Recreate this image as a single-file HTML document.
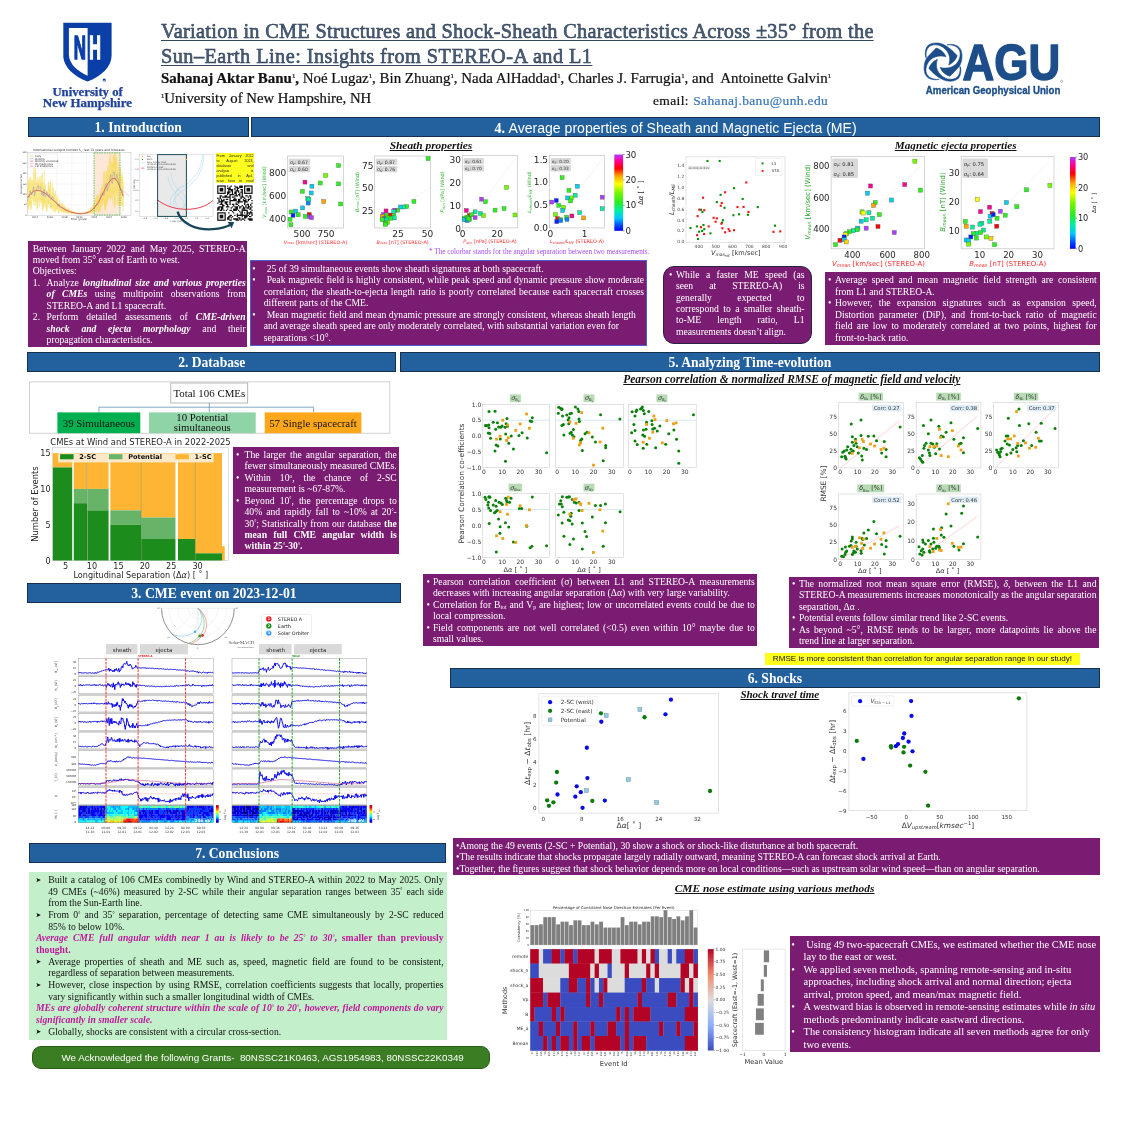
<!DOCTYPE html>
<html><head><meta charset="utf-8"><title>Poster</title>
<style>
html,body{margin:0;padding:0;background:#fff}
#p{position:relative;width:1125px;height:1125px;overflow:hidden;background:#fff;font-family:"Liberation Serif",serif}
#p div{position:absolute;box-sizing:border-box}
.bar{background:#22609e;border:0.8px solid #16304e;color:#fff;text-align:center;white-space:nowrap}
.pbox{background:#7a1c71}
.pbox.bl{border:0.8px solid #4d5fd0}
.pbox.rnd{border:1.3px solid #2b2340;border-radius:11px}
.gbox{background:#c3f0cb}
.ybox{background:#ffff1f}
.tl.sans{font-family:'Liberation Sans',sans-serif}
.tl{white-space:nowrap;font-family:"Liberation Serif",serif}
.tl.j{white-space:nowrap}
.tl.w{color:#fff}
.tl.k{color:#111}
.tl.mg{color:#c0189b;font-weight:bold}
.tl sup{font-size:55%;vertical-align:baseline;position:relative;top:-0.45em}
.tl sub{font-size:60%;vertical-align:baseline;position:relative;top:0.25em}
.num{display:inline-block;width:13.8px;margin-left:-13.8px;text-align:left}
.title{white-space:nowrap;font-family:"Liberation Serif",serif;font-size:20.3px;letter-spacing:0.3px;line-height:24px;color:#4a5e78;-webkit-text-stroke:0.55px #2c3e55;text-decoration:underline;text-decoration-thickness:1.2px;text-underline-offset:2px;text-decoration-color:#34465c}
.auth{white-space:nowrap;font-family:"Liberation Serif",serif;font-size:15.6px;line-height:19px;color:#111;-webkit-text-stroke:0.22px #111}
.auth sup{font-size:45%;vertical-align:baseline;position:relative;top:-0.75em}
.ynote{background:#ffff1a;color:#111;font-family:"Liberation Sans",sans-serif;font-size:8.1px;white-space:nowrap;text-align:center}
.ack{background:#3b7d23;border:1px solid #2a5c18;border-radius:9px;color:#fff;font-family:"Liberation Sans",sans-serif;font-size:9.8px;white-space:nowrap}
.sub{text-align:center;white-space:nowrap;font-family:"Liberation Serif",serif;font-weight:bold;font-style:italic;color:#111}
.sub span{text-decoration:underline;text-decoration-thickness:1px;text-underline-offset:1.2px}
svg text{white-space:pre}
</style></head>
<body><div id="p">
<div class="title" style="left:161px;top:19.1px;">Variation in CME Structures and Shock-Sheath Characteristics Across ±35° from the</div>
<div class="title" style="left:161px;top:43.7px;letter-spacing:0.45px">Sun–Earth Line: Insights from STEREO-A and L1</div>
<div class="auth" style="left:161px;top:68.7px;font-size:14.95px;" id="authline"><b>Sahanaj Aktar Banu</b><sup>1</sup><b>,</b> Noé Lugaz<sup>1</sup>, Bin Zhuang<sup>1</sup>, Nada AlHaddad<sup>1</sup>, Charles J. Farrugia<sup>1</sup>, and&nbsp; Antoinette Galvin<sup>1</sup></div>
<div class="auth" style="left:161px;top:88.8px;font-size:14.75px"><sup>1</sup>University of New Hampshire, NH</div>
<div class="auth" style="left:653px;top:91px;font-size:13.5px;letter-spacing:0.35px">email<span style="letter-spacing:1px">:</span> <span style="color:#3a76b8;-webkit-text-stroke:0.22px #3a76b8">Sahanaj.banu@unh.edu</span></div>
<div class="bar" style="left:27.5px;top:117px;width:221.5px;height:19.599999999999994px;line-height:20.0px;font-size:13.6px;font-family:'Liberation Serif', serif;font-weight:bold">1. Introduction</div>
<div class="bar" style="left:251.2px;top:116.5px;width:848.8px;height:20.0px;line-height:20.4px;font-size:14.05px;font-family:'Liberation Sans', sans-serif;font-weight:normal"><span style="font-family:'Liberation Serif',serif;font-weight:bold">4. </span>Average properties of Sheath and Magnetic Ejecta (ME)</div>
<div class="bar" style="left:27.2px;top:352.2px;width:369.1px;height:20.19999999999999px;line-height:20.6px;font-size:13.6px;font-family:'Liberation Serif', serif;font-weight:bold">2. Database</div>
<div class="bar" style="left:399.8px;top:352.2px;width:700.2px;height:20.30000000000001px;line-height:20.7px;font-size:13.6px;font-family:'Liberation Serif', serif;font-weight:bold">5. Analyzing Time-evolution</div>
<div class="bar" style="left:27px;top:583.0px;width:373.9px;height:19.799999999999955px;line-height:20.2px;font-size:13.7px;font-family:'Liberation Serif', serif;font-weight:bold">3. CME event on 2023-12-01</div>
<div class="bar" style="left:450.2px;top:667.8px;width:649.5px;height:19.90000000000009px;line-height:20.3px;font-size:13.6px;font-family:'Liberation Serif', serif;font-weight:bold">6. Shocks</div>
<div class="bar" style="left:28.6px;top:843.1px;width:417.09999999999997px;height:19.699999999999932px;line-height:20.1px;font-size:13.6px;font-family:'Liberation Serif', serif;font-weight:bold">7. Conclusions</div>
<div class="pbox" style="left:28px;top:241.3px;width:219.1px;height:105.69999999999999px;"></div>
<div class="tl j w" style="left:32.80px;top:242.63px;width:212.90px;font-size:9.67px;line-height:11.60px;word-spacing:2.541px;" id="j0">Between January 2022 and May 2025, STEREO-A</div>
<div class="tl w" style="left:32.80px;top:254.05px;width:212.90px;font-size:9.67px;line-height:11.60px;">moved from 35° east of Earth to west.</div>
<div class="tl w" style="left:32.80px;top:265.47px;width:212.90px;font-size:9.67px;line-height:11.60px;">Objectives:</div>
<div class="tl j w" style="left:32.80px;top:276.89px;width:212.90px;font-size:9.67px;line-height:11.60px;padding-left:13.8px;word-spacing:1.457px;" id="j1"><span class='num'>1.</span>Analyze <b><i>longitudinal size and various properties</i></b></div>
<div class="tl j w" style="left:46.60px;top:288.31px;width:199.10px;font-size:9.67px;line-height:11.60px;word-spacing:5.001px;" id="j2"><b><i>of CMEs</i></b> using multipoint observations from</div>
<div class="tl w" style="left:46.60px;top:299.73px;width:199.10px;font-size:9.67px;line-height:11.60px;">STEREO-A and L1 spacecraft.</div>
<div class="tl j w" style="left:32.80px;top:311.15px;width:212.90px;font-size:9.67px;line-height:11.60px;padding-left:13.8px;word-spacing:5.654px;" id="j3"><span class='num'>2.</span>Perform detailed assessments of <b><i>CME-driven</i></b></div>
<div class="tl j w" style="left:46.60px;top:322.57px;width:199.10px;font-size:9.67px;line-height:11.60px;word-spacing:9.298px;" id="j4"><b><i>shock and ejecta morphology</i></b> and their</div>
<div class="tl w" style="left:46.60px;top:333.99px;width:199.10px;font-size:9.67px;line-height:11.60px;">propagation characteristics.</div>
<div class="pbox bl" style="left:249.5px;top:260px;width:397.29999999999995px;height:85.80000000000001px;"></div>
<div class="tl w" style="left:252.30px;top:262.83px;width:10.00px;font-size:9.67px;line-height:11.60px;">•</div>
<div class="tl w" style="left:266.70px;top:262.83px;width:377.30px;font-size:9.67px;line-height:11.60px;">25 of 39 simultaneous events show sheath signatures at both spacecraft.</div>
<div class="tl w" style="left:252.30px;top:274.33px;width:10.00px;font-size:9.67px;line-height:11.60px;">•</div>
<div class="tl j w" style="left:266.70px;top:274.33px;width:377.30px;font-size:9.67px;line-height:11.60px;word-spacing:0.350px;" id="j5">Peak magnetic field is highly consistent, while peak speed and dynamic pressure show moderate</div>
<div class="tl j w" style="left:263.70px;top:285.83px;width:380.30px;font-size:9.67px;line-height:11.60px;word-spacing:0.816px;" id="j6">correlation; the sheath-to-ejecta length ratio is poorly correlated because each spacecraft crosses</div>
<div class="tl w" style="left:263.70px;top:297.33px;width:380.30px;font-size:9.67px;line-height:11.60px;">different parts of the CME.</div>
<div class="tl w" style="left:252.30px;top:308.83px;width:10.00px;font-size:9.67px;line-height:11.60px;">•</div>
<div class="tl w" style="left:266.70px;top:308.83px;width:377.30px;font-size:9.67px;line-height:11.60px;">Mean magnetic field and mean dynamic pressure are strongly consistent, whereas sheath length</div>
<div class="tl w" style="left:263.70px;top:320.33px;width:380.30px;font-size:9.67px;line-height:11.60px;">and average sheath speed are only moderately correlated, with substantial variation even for</div>
<div class="tl w" style="left:263.70px;top:331.83px;width:380.30px;font-size:9.67px;line-height:11.60px;">separations &lt;10°.</div>
<div class="pbox rnd" style="left:663px;top:266.3px;width:148.5px;height:77.69999999999999px;"></div>
<div class="tl w" style="left:669.00px;top:268.93px;width:10.00px;font-size:9.67px;line-height:11.60px;">•</div>
<div class="tl j w" style="left:676.00px;top:268.93px;width:128.60px;font-size:9.67px;line-height:11.60px;word-spacing:3.895px;" id="j7">While a faster ME speed (as</div>
<div class="tl j w" style="left:676.00px;top:280.26px;width:128.60px;font-size:9.67px;line-height:11.60px;word-spacing:13.632px;" id="j8">seen at STEREO-A) is</div>
<div class="tl j w" style="left:676.00px;top:291.59px;width:128.60px;font-size:9.67px;line-height:11.60px;word-spacing:23.011px;" id="j9">generally expected to</div>
<div class="tl j w" style="left:676.00px;top:302.92px;width:128.60px;font-size:9.67px;line-height:11.60px;word-spacing:1.982px;" id="j10">correspond to a smaller sheath-</div>
<div class="tl j w" style="left:676.00px;top:314.25px;width:128.60px;font-size:9.67px;line-height:11.60px;word-spacing:13.721px;" id="j11">to-ME length ratio, L1</div>
<div class="tl w" style="left:676.00px;top:325.58px;width:128.60px;font-size:9.67px;line-height:11.60px;">measurements doesn’t align.</div>
<div class="pbox" style="left:824.9px;top:272.4px;width:275.0000000000001px;height:72.40000000000003px;"></div>
<div class="tl w" style="left:828.00px;top:274.23px;width:10.00px;font-size:9.67px;line-height:11.60px;">•</div>
<div class="tl j w" style="left:835.00px;top:274.23px;width:261.70px;font-size:9.67px;line-height:11.60px;word-spacing:2.369px;" id="j12">Average speed and mean magnetic field strength are consistent</div>
<div class="tl w" style="left:835.00px;top:285.73px;width:261.70px;font-size:9.67px;line-height:11.60px;">from L1 and STEREO-A.</div>
<div class="tl w" style="left:828.00px;top:297.23px;width:10.00px;font-size:9.67px;line-height:11.60px;">•</div>
<div class="tl j w" style="left:835.00px;top:297.23px;width:261.70px;font-size:9.67px;line-height:11.60px;word-spacing:3.997px;" id="j13">However, the expansion signatures such as expansion speed,</div>
<div class="tl j w" style="left:835.00px;top:308.73px;width:261.70px;font-size:9.67px;line-height:11.60px;word-spacing:2.450px;" id="j14">Distortion parameter (DiP), and front-to-back ratio of magnetic</div>
<div class="tl j w" style="left:835.00px;top:320.23px;width:261.70px;font-size:9.67px;line-height:11.60px;word-spacing:1.742px;" id="j15">field are low to moderately correlated at two points, highest for</div>
<div class="tl w" style="left:835.00px;top:331.73px;width:261.70px;font-size:9.67px;line-height:11.60px;">front-to-back ratio.</div>
<div class="pbox" style="left:232.6px;top:446.8px;width:166.79999999999998px;height:107.09999999999997px;"></div>
<div class="tl w" style="left:236.00px;top:448.93px;width:10.00px;font-size:9.67px;line-height:11.60px;">•</div>
<div class="tl j w" style="left:244.50px;top:448.93px;width:152.30px;font-size:9.67px;line-height:11.60px;word-spacing:1.644px;" id="j16">The larger the angular separation, the</div>
<div class="tl j w" style="left:244.50px;top:460.36px;width:152.30px;font-size:9.67px;line-height:11.60px;word-spacing:0.168px;" id="j17">fewer simultaneously measured CMEs.</div>
<div class="tl w" style="left:236.00px;top:471.79px;width:10.00px;font-size:9.67px;line-height:11.60px;">•</div>
<div class="tl j w" style="left:244.50px;top:471.79px;width:152.30px;font-size:9.67px;line-height:11.60px;word-spacing:6.510px;" id="j18">Within 10<sup>o</sup>, the chance of 2-SC</div>
<div class="tl w" style="left:244.50px;top:483.22px;width:152.30px;font-size:9.67px;line-height:11.60px;">measurement is ~67-87%.</div>
<div class="tl w" style="left:236.00px;top:494.65px;width:10.00px;font-size:9.67px;line-height:11.60px;">•</div>
<div class="tl j w" style="left:244.50px;top:494.65px;width:152.30px;font-size:9.67px;line-height:11.60px;word-spacing:2.682px;" id="j19">Beyond 10<sup>°</sup>, the percentage drops to</div>
<div class="tl j w" style="left:244.50px;top:506.08px;width:152.30px;font-size:9.67px;line-height:11.60px;word-spacing:1.590px;" id="j20">40% and rapidly fall to ~10% at 20<sup>°</sup>-</div>
<div class="tl j w" style="left:244.50px;top:517.51px;width:152.30px;font-size:9.67px;line-height:11.60px;word-spacing:0.482px;" id="j21">30<sup>°</sup>; Statistically from our database <b>the</b></div>
<div class="tl j w" style="left:244.50px;top:528.94px;width:152.30px;font-size:9.67px;line-height:11.60px;word-spacing:3.829px;" id="j22"><b>mean full CME angular width is</b></div>
<div class="tl w" style="left:244.50px;top:540.37px;width:152.30px;font-size:9.67px;line-height:11.60px;"><b>within 25<sup>°</sup>-30<sup>°</sup>.</b></div>
<div class="pbox" style="left:423.1px;top:574px;width:334.19999999999993px;height:72.20000000000005px;"></div>
<div class="tl w" style="left:426.50px;top:575.63px;width:10.00px;font-size:9.67px;line-height:11.60px;">•</div>
<div class="tl j w" style="left:433.00px;top:575.63px;width:321.80px;font-size:9.67px;line-height:11.60px;word-spacing:2.391px;" id="j23">Pearson correlation coefficient (σ) between L1 and STEREO-A measurements</div>
<div class="tl w" style="left:433.00px;top:587.15px;width:321.80px;font-size:9.67px;line-height:11.60px;">decreases with increasing angular separation (Δα) with very large variability.</div>
<div class="tl w" style="left:426.50px;top:598.67px;width:10.00px;font-size:9.67px;line-height:11.60px;">•</div>
<div class="tl j w" style="left:433.00px;top:598.67px;width:321.80px;font-size:9.67px;line-height:11.60px;word-spacing:0.478px;" id="j24">Correlation for B<sub>tot</sub> and V<sub>p</sub> are highest; low or uncorrelated events could be due to</div>
<div class="tl w" style="left:433.00px;top:610.19px;width:321.80px;font-size:9.67px;line-height:11.60px;">local compression.</div>
<div class="tl w" style="left:426.50px;top:621.71px;width:10.00px;font-size:9.67px;line-height:11.60px;">•</div>
<div class="tl j w" style="left:433.00px;top:621.71px;width:321.80px;font-size:9.67px;line-height:11.60px;word-spacing:1.616px;" id="j25">Field components are not well correlated (&lt;0.5) even within 10° maybe due to</div>
<div class="tl w" style="left:433.00px;top:633.23px;width:321.80px;font-size:9.67px;line-height:11.60px;">small values.</div>
<div class="pbox" style="left:788.6px;top:576.8px;width:310.30000000000007px;height:71.5px;"></div>
<div class="tl w" style="left:792.00px;top:577.83px;width:10.00px;font-size:9.67px;line-height:11.60px;">•</div>
<div class="tl j w" style="left:799.00px;top:577.83px;width:297.50px;font-size:9.67px;line-height:11.60px;word-spacing:1.942px;" id="j26">The normalized root mean square error (RMSE), <i>δ</i>, between the L1 and</div>
<div class="tl j w" style="left:799.00px;top:589.36px;width:297.50px;font-size:9.67px;line-height:11.60px;word-spacing:-0.060px;" id="j27">STEREO-A measurements increases monotonically as the angular separation</div>
<div class="tl w" style="left:799.00px;top:600.89px;width:297.50px;font-size:9.67px;line-height:11.60px;">separation, Δα .</div>
<div class="tl w" style="left:792.00px;top:612.42px;width:10.00px;font-size:9.67px;line-height:11.60px;">•</div>
<div class="tl w" style="left:799.00px;top:612.42px;width:297.50px;font-size:9.67px;line-height:11.60px;">Potential events follow similar trend like 2-SC events.</div>
<div class="tl w" style="left:792.00px;top:623.95px;width:10.00px;font-size:9.67px;line-height:11.60px;">•</div>
<div class="tl j w" style="left:799.00px;top:623.95px;width:297.50px;font-size:9.67px;line-height:11.60px;word-spacing:1.777px;" id="j28">As beyond ~5°, RMSE tends to be larger, more datapoints lie above the</div>
<div class="tl w" style="left:799.00px;top:635.48px;width:297.50px;font-size:9.67px;line-height:11.60px;">trend line at larger separation.</div>
<div class="ynote" style="left:764.6px;top:653.3px;width:315.6px;height:11.4px;line-height:11.6px">RMSE is more consistent than correlation for angular separation range in our study!</div>
<div class="pbox" style="left:453.3px;top:838px;width:646.3px;height:37.39999999999998px;"></div>
<div class="tl w" style="left:456.00px;top:839.51px;width:640.00px;font-size:9.7px;line-height:11.64px;">•Among the 49 events (2-SC + Potential), 30 show a shock or shock-like disturbance at both spacecraft.</div>
<div class="tl w" style="left:456.00px;top:851.11px;width:640.00px;font-size:9.7px;line-height:11.64px;">•The results indicate that shocks propagate largely radially outward, meaning STEREO-A can forecast shock arrival at Earth.</div>
<div class="tl w" style="left:456.00px;top:862.71px;width:640.00px;font-size:9.7px;line-height:11.64px;">•Together, the figures suggest that shock behavior depends more on local conditions—such as upstream solar wind speed—than on angular separation.</div>
<div class="pbox" style="left:790.2px;top:936.1px;width:309.39999999999986px;height:115.69999999999993px;"></div>
<div class="tl w" style="left:791.20px;top:938.90px;width:10.00px;font-size:10.45px;line-height:12.54px;">•</div>
<div class="tl w" style="left:803.60px;top:938.90px;width:294.00px;font-size:10.45px;line-height:12.54px;">&nbsp;Using 49 two-spacecraft CMEs, we estimated whether the CME nose</div>
<div class="tl w" style="left:803.60px;top:951.40px;width:294.00px;font-size:10.45px;line-height:12.54px;">lay to the east or west.</div>
<div class="tl w" style="left:791.20px;top:963.90px;width:10.00px;font-size:10.45px;line-height:12.54px;">•</div>
<div class="tl w" style="left:803.60px;top:963.90px;width:294.00px;font-size:10.45px;line-height:12.54px;">We applied seven methods, spanning remote-sensing and in-situ</div>
<div class="tl w" style="left:803.60px;top:976.40px;width:294.00px;font-size:10.45px;line-height:12.54px;">approaches, including shock arrival and normal direction; ejecta</div>
<div class="tl w" style="left:803.60px;top:988.90px;width:294.00px;font-size:10.45px;line-height:12.54px;">arrival, proton speed, and mean/max magnetic field.</div>
<div class="tl w" style="left:791.20px;top:1001.40px;width:10.00px;font-size:10.45px;line-height:12.54px;">•</div>
<div class="tl w" style="left:803.60px;top:1001.40px;width:294.00px;font-size:10.45px;line-height:12.54px;">A westward bias is observed in remote-sensing estimates while <i>in situ</i></div>
<div class="tl w" style="left:803.60px;top:1013.90px;width:294.00px;font-size:10.45px;line-height:12.54px;">methods predominantly indicate eastward directions.</div>
<div class="tl w" style="left:791.20px;top:1026.40px;width:10.00px;font-size:10.45px;line-height:12.54px;">•</div>
<div class="tl w" style="left:803.60px;top:1026.40px;width:294.00px;font-size:10.45px;line-height:12.54px;">The consistency histogram indicate all seven methods agree for only</div>
<div class="tl w" style="left:803.60px;top:1038.90px;width:294.00px;font-size:10.45px;line-height:12.54px;">two events.</div>
<div class="gbox" style="left:28.6px;top:872.1px;width:418.29999999999995px;height:167.69999999999993px;"></div>
<div class="tl j k" style="left:48.20px;top:874.13px;width:395.40px;font-size:9.67px;line-height:11.60px;word-spacing:0.726px;" id="j29">Built a catalog of 106 CMEs combinedly by Wind and STEREO-A within 2022 to May 2025. Only</div>
<div class="tl j k" style="left:48.20px;top:885.79px;width:395.40px;font-size:9.67px;line-height:11.60px;word-spacing:1.514px;" id="j30">49 CMEs (~46%) measured by 2-SC while their angular separation ranges between 35<sup>°</sup> each side</div>
<div class="tl k" style="left:48.20px;top:897.45px;width:395.40px;font-size:9.67px;line-height:11.60px;">from the Sun-Earth line.</div>
<div class="tl j k" style="left:48.20px;top:909.11px;width:395.40px;font-size:9.67px;line-height:11.60px;word-spacing:1.826px;" id="j31">From 0<sup>°</sup> and 35<sup>°</sup> separation, percentage of detecting same CME simultaneously by 2-SC reduced</div>
<div class="tl k" style="left:48.20px;top:920.77px;width:395.40px;font-size:9.67px;line-height:11.60px;">85% to below 10%.</div>
<div class="tl j mg" style="left:36.00px;top:932.43px;width:407.60px;font-size:9.67px;line-height:11.60px;word-spacing:2.486px;" id="j32"><i>Average CME full angular width near 1 au is likely to be 25<sup>°</sup> to 30<sup>°</sup></i>, smaller than previously</div>
<div class="tl mg" style="left:36.00px;top:944.09px;width:407.60px;font-size:9.67px;line-height:11.60px;">thought.</div>
<div class="tl j k" style="left:48.20px;top:955.75px;width:395.40px;font-size:9.67px;line-height:11.60px;word-spacing:1.988px;" id="j33">Average properties of sheath and ME such as, speed, magnetic field are found to be consistent,</div>
<div class="tl k" style="left:48.20px;top:967.41px;width:395.40px;font-size:9.67px;line-height:11.60px;">regardless of separation between measurements.</div>
<div class="tl j k" style="left:48.20px;top:979.07px;width:395.40px;font-size:9.67px;line-height:11.60px;word-spacing:1.095px;" id="j34">However, close inspection by using RMSE, correlation coefficients suggests that locally, properties</div>
<div class="tl k" style="left:48.20px;top:990.73px;width:395.40px;font-size:9.67px;line-height:11.60px;">vary significantly within such a smaller longitudinal width of CMEs.</div>
<div class="tl j mg" style="left:36.00px;top:1002.39px;width:407.60px;font-size:9.67px;line-height:11.60px;word-spacing:0.531px;" id="j35"><i>MEs are globally coherent structure within the scale of 10<sup>°</sup> to 20<sup>°</sup>, however, field components do vary</i></div>
<div class="tl mg" style="left:36.00px;top:1014.05px;width:407.60px;font-size:9.67px;line-height:11.60px;"><i>significantly in smaller scale.</i></div>
<div class="tl k" style="left:48.20px;top:1025.71px;width:395.40px;font-size:9.67px;line-height:11.60px;">Globally, shocks are consistent with a circular cross-section.</div>
<div class="ack" style="left:31.9px;top:1046px;width:458.5px;height:22.6px;line-height:22.6px"><span style="margin-left:28.6px">We Acknowledged the following Grants-&nbsp; 80NSSC21K0463, AGS1954983, 80NSSC22K0349</span></div>
<div class="sub" style="left:231px;top:138.61px;width:400px;font-size:11.4px;line-height:13.68px"><span>Sheath properties</span></div>
<div class="sub" style="left:755.7px;top:138.80px;width:400px;font-size:11.2px;line-height:13.44px"><span>Magnetic ejecta properties</span></div>
<div class="sub" style="left:591.8px;top:373.27px;width:400px;font-size:11.45px;line-height:13.74px"><span>Pearson correlation &amp; normalized RMSE of magnetic field and velocity</span></div>
<div class="sub" style="left:579.8px;top:687.99px;width:400px;font-size:11px;line-height:13.20px"><span>Shock travel time</span></div>
<div class="sub" style="left:574.6px;top:882.31px;width:400px;font-size:11.4px;line-height:13.68px"><span>CME nose estimate using various methods</span></div>
<div class="tl" style="left:429.00px;top:247.95px;width:230.00px;font-size:7.2px;line-height:8.64px;color:#a64dff">* The colorbar stands for the angular separation between two measurements.</div>
<div class="ybox" style="left:215.6px;top:153px;width:38.599999999999994px;height:30.19999999999999px;"></div>
<div class="tl j sans" style="left:216.40px;top:153.59px;width:37.00px;font-size:3.6px;line-height:4.32px;color:#222;word-spacing:2.914px;" id="j36">From January 2022</div>
<div class="tl j sans" style="left:216.40px;top:158.59px;width:37.00px;font-size:3.6px;line-height:4.32px;color:#222;word-spacing:6.008px;" id="j37">to August 2023,</div>
<div class="tl j sans" style="left:216.40px;top:163.59px;width:37.00px;font-size:3.6px;line-height:4.32px;color:#222;word-spacing:15.203px;" id="j38">database and</div>
<div class="tl j sans" style="left:216.40px;top:168.59px;width:37.00px;font-size:3.6px;line-height:4.32px;color:#222;word-spacing:20.422px;" id="j39">analysis is</div>
<div class="tl j sans" style="left:216.40px;top:173.59px;width:37.00px;font-size:3.6px;line-height:4.32px;color:#222;word-spacing:4.906px;" id="j40">published in ApJ,</div>
<div class="tl j sans" style="left:216.40px;top:178.59px;width:37.00px;font-size:3.6px;line-height:4.32px;color:#222;word-spacing:3.005px;" id="j41">scan here to read</div>
<svg width="1125" height="1125" viewBox="0 0 1125 1125" style="position:absolute;left:0;top:0;pointer-events:none">
<path d="M36.3 878.0 l4.6 2.1 l-4.6 2.1 l1.1 -2.1 z" fill="#111"/>
<path d="M36.3 913.0 l4.6 2.1 l-4.6 2.1 l1.1 -2.1 z" fill="#111"/>
<path d="M36.3 959.6 l4.6 2.1 l-4.6 2.1 l1.1 -2.1 z" fill="#111"/>
<path d="M36.3 982.9 l4.6 2.1 l-4.6 2.1 l1.1 -2.1 z" fill="#111"/>
<path d="M36.3 1029.6 l4.6 2.1 l-4.6 2.1 l1.1 -2.1 z" fill="#111"/>
<defs><linearGradient id="rb" x1="0" y1="1" x2="0" y2="0"><stop offset="0.000" stop-color="#0000ff"/><stop offset="0.083" stop-color="#005aff"/><stop offset="0.167" stop-color="#00c8ff"/><stop offset="0.267" stop-color="#00f0a0"/><stop offset="0.367" stop-color="#28eb28"/><stop offset="0.500" stop-color="#78f500"/><stop offset="0.617" stop-color="#ffff00"/><stop offset="0.717" stop-color="#ffa500"/><stop offset="0.817" stop-color="#ff0000"/><stop offset="0.917" stop-color="#ff0096"/><stop offset="1.000" stop-color="#af3cff"/></linearGradient></defs>
<rect x="27.50" y="152.60" width="103.50" height="62.60" fill="#fff" stroke="#bdbdbd" stroke-width="0.5"/>
<line x1="27.50" y1="163.03" x2="131.00" y2="163.03" stroke="#e6e6e6" stroke-width="0.35" />
<line x1="27.50" y1="173.47" x2="131.00" y2="173.47" stroke="#e6e6e6" stroke-width="0.35" />
<line x1="27.50" y1="183.90" x2="131.00" y2="183.90" stroke="#e6e6e6" stroke-width="0.35" />
<line x1="27.50" y1="194.33" x2="131.00" y2="194.33" stroke="#e6e6e6" stroke-width="0.35" />
<line x1="27.50" y1="204.77" x2="131.00" y2="204.77" stroke="#e6e6e6" stroke-width="0.35" />
<line x1="42.29" y1="152.60" x2="42.29" y2="215.20" stroke="#e6e6e6" stroke-width="0.35" />
<line x1="57.07" y1="152.60" x2="57.07" y2="215.20" stroke="#e6e6e6" stroke-width="0.35" />
<line x1="71.86" y1="152.60" x2="71.86" y2="215.20" stroke="#e6e6e6" stroke-width="0.35" />
<line x1="86.64" y1="152.60" x2="86.64" y2="215.20" stroke="#e6e6e6" stroke-width="0.35" />
<line x1="101.43" y1="152.60" x2="101.43" y2="215.20" stroke="#e6e6e6" stroke-width="0.35" />
<line x1="116.21" y1="152.60" x2="116.21" y2="215.20" stroke="#e6e6e6" stroke-width="0.35" />
<rect x="94.00" y="152.90" width="26.00" height="62.10" fill="#fde3cf" stroke="none" stroke-width="0" fill-opacity="0.85"/>
<polygon points="27.5,191.8 27.8,187.4 28.1,181.4 28.4,182.1 28.7,188.5 29.0,178.0 29.3,192.1 29.5,178.5 29.8,176.9 30.1,188.3 30.4,191.3 30.7,177.0 31.0,179.8 31.3,187.3 31.6,183.7 31.9,179.1 32.2,185.6 32.5,180.2 32.8,185.5 33.0,188.5 33.3,188.1 33.6,167.3 33.9,190.4 34.2,184.5 34.5,173.8 34.8,169.1 35.1,179.4 35.4,165.9 35.7,172.5 36.0,181.4 36.3,185.8 36.5,185.0 36.8,180.2 37.1,189.2 37.4,177.3 37.7,183.9 38.0,184.5 38.3,181.5 38.6,178.5 38.9,185.5 39.2,184.8 39.5,184.5 39.8,176.0 40.0,182.5 40.3,176.2 40.6,186.5 40.9,182.5 41.2,182.3 41.5,189.6 41.8,175.3 42.1,178.6 42.4,173.0 42.7,185.7 43.0,189.2 43.3,182.4 43.5,188.2 43.8,185.2 44.1,181.8 44.4,170.7 44.7,187.7 45.0,190.6 45.3,188.3 45.6,184.1 45.9,190.4 46.2,193.5 46.5,191.4 46.8,190.9 47.1,191.6 47.3,190.1 47.6,194.1 47.9,193.6 48.2,182.3 48.5,183.8 48.8,182.0 49.1,191.0 49.4,185.6 49.7,194.9 50.0,183.3 50.3,180.7 50.6,184.5 50.8,185.9 51.1,197.7 51.4,196.6 51.7,198.4 52.0,183.8 52.3,183.7 52.6,198.9 52.9,194.1 53.2,191.8 53.5,187.3 53.8,195.2 54.1,196.9 54.3,194.8 54.6,194.4 54.9,195.1 55.2,190.2 55.5,196.1 55.8,195.3 56.1,196.2 56.4,195.7 56.7,202.5 57.0,200.6 57.3,199.0 57.6,199.7 57.8,195.6 58.1,203.1 58.4,204.2 58.7,203.0 59.0,203.7 59.3,204.0 59.6,198.3 59.9,204.1 60.2,203.4 60.5,205.6 60.8,204.3 61.1,204.6 61.3,204.7 61.6,205.5 61.9,202.7 62.2,203.1 62.5,205.3 62.8,204.8 63.1,205.6 63.4,207.2 63.7,207.5 64.0,204.5 64.3,207.7 64.6,208.8 64.8,205.5 65.1,209.2 65.4,208.2 65.7,207.7 66.0,209.3 66.3,207.0 66.6,209.7 66.9,209.4 67.2,209.6 67.5,209.8 67.8,207.7 68.1,209.4 68.4,209.2 68.6,208.3 68.9,210.7 69.2,209.7 69.5,210.1 69.8,209.7 70.1,210.6 70.4,211.4 70.7,210.5 71.0,211.1 71.3,209.9 71.6,211.9 71.9,212.1 72.1,212.1 72.4,211.4 72.7,212.2 73.0,212.4 73.3,212.6 73.6,211.9 73.9,211.8 74.2,211.3 74.5,212.5 74.8,212.6 75.1,213.0 75.4,213.0 75.6,212.7 75.9,212.8 76.2,213.2 76.5,212.0 76.8,212.6 77.1,212.5 77.4,213.2 77.7,213.4 78.0,213.1 78.3,213.1 78.6,213.3 78.9,212.8 79.1,213.2 79.4,212.9 79.7,212.7 80.0,212.7 80.3,213.0 80.6,212.8 80.9,213.5 81.2,213.4 81.5,213.3 81.8,213.0 82.1,213.5 82.4,213.2 82.6,213.4 82.9,213.3 83.2,212.9 83.5,212.5 83.8,213.1 84.1,213.1 84.4,212.9 84.7,212.4 85.0,212.2 85.3,212.5 85.6,213.0 85.9,211.8 86.2,212.6 86.4,212.7 86.7,212.6 87.0,212.4 87.3,211.3 87.6,212.0 87.9,210.7 88.2,212.2 88.5,210.4 88.8,211.3 89.1,210.6 89.4,210.4 89.7,211.2 89.9,208.9 90.2,208.4 90.5,207.8 90.8,209.4 91.1,207.3 91.4,209.8 91.7,208.8 92.0,205.6 92.3,207.7 92.6,209.0 92.9,208.3 93.2,205.1 93.4,207.9 93.7,206.9 94.0,203.1 94.3,203.8 94.6,206.4 94.9,203.1 95.2,201.6 95.5,197.9 95.8,201.8 96.1,200.5 96.4,204.0 96.7,195.2 96.9,202.4 97.2,196.1 97.5,198.4 97.8,193.3 98.1,199.4 98.4,201.0 98.7,196.6 99.0,194.6 99.3,198.0 99.6,199.1 99.9,197.9 100.2,191.3 100.4,192.5 100.7,195.5 101.0,194.9 101.3,188.2 101.6,193.7 101.9,184.4 102.2,193.4 102.5,191.5 102.8,185.7 103.1,188.2 103.4,171.4 103.7,180.0 103.9,179.7 104.2,178.2 104.5,171.0 104.8,185.6 105.1,183.1 105.4,181.4 105.7,182.2 106.0,171.5 106.3,178.3 106.6,170.9 106.9,172.7 107.2,173.0 107.5,181.5 107.7,165.8 108.0,167.8 108.3,174.6 108.6,176.4 108.9,161.2 109.2,177.4 109.5,175.5 109.8,156.2 110.1,166.0 110.4,153.6 110.7,179.0 111.0,173.7 111.2,175.1 111.5,161.3 111.8,171.6 112.1,164.8 112.4,171.8 112.7,162.6 113.0,165.9 113.3,155.7 113.6,167.7 113.9,153.6 114.2,159.0 114.5,153.6 114.7,164.4 115.0,157.2 115.3,175.0 115.6,153.6 115.9,153.7 116.2,164.8 116.5,157.4 116.8,158.1 117.1,164.6 117.4,164.3 117.7,175.0 118.0,180.1 118.2,174.9 118.5,174.7 118.8,162.9 119.1,178.8 119.4,173.5 119.7,177.8 120.0,170.3 120.3,167.1 120.6,180.4 120.9,169.3 121.2,183.1 121.5,179.4 121.7,179.6 122.0,174.4 122.3,188.9 122.6,174.5 122.9,177.8 123.2,179.5 123.5,186.8 123.5,205.5 123.2,211.0 122.9,203.4 122.6,202.7 122.3,206.5 122.0,202.7 121.7,203.7 121.5,204.9 121.2,197.3 120.9,200.4 120.6,205.6 120.3,202.0 120.0,200.7 119.7,199.5 119.4,206.8 119.1,201.9 118.8,204.9 118.5,195.1 118.2,194.4 118.0,195.8 117.7,197.0 117.4,205.8 117.1,201.5 116.8,191.9 116.5,194.1 116.2,189.7 115.9,191.6 115.6,192.8 115.3,205.1 115.0,198.1 114.7,208.2 114.5,206.4 114.2,200.5 113.9,187.1 113.6,187.1 113.3,195.9 113.0,190.5 112.7,205.3 112.4,195.9 112.1,190.4 111.8,191.4 111.5,196.5 111.2,198.7 111.0,196.6 110.7,200.8 110.4,198.2 110.1,195.7 109.8,188.0 109.5,197.3 109.2,196.2 108.9,189.9 108.6,197.7 108.3,200.2 108.0,196.5 107.7,195.8 107.5,202.3 107.2,196.5 106.9,205.9 106.6,198.7 106.3,203.0 106.0,194.3 105.7,210.4 105.4,203.4 105.1,210.4 104.8,199.7 104.5,209.9 104.2,202.6 103.9,203.0 103.7,204.3 103.4,198.4 103.1,200.8 102.8,198.0 102.5,203.4 102.2,202.4 101.9,209.0 101.6,200.4 101.3,203.9 101.0,202.3 100.7,208.7 100.4,204.1 100.2,206.8 99.9,212.1 99.6,208.9 99.3,210.1 99.0,212.4 98.7,208.9 98.4,212.3 98.1,212.3 97.8,206.8 97.5,209.2 97.2,206.8 96.9,209.7 96.7,208.5 96.4,212.3 96.1,210.8 95.8,212.2 95.5,208.6 95.2,209.3 94.9,211.1 94.6,213.1 94.3,209.3 94.0,211.6 93.7,210.7 93.4,210.1 93.2,211.7 92.9,211.9 92.6,213.5 92.3,210.9 92.0,212.0 91.7,213.8 91.4,211.7 91.1,213.4 90.8,212.3 90.5,213.0 90.2,214.0 89.9,214.1 89.7,212.6 89.4,212.5 89.1,213.3 88.8,213.8 88.5,213.5 88.2,213.1 87.9,213.5 87.6,214.2 87.3,214.1 87.0,214.2 86.7,213.6 86.4,213.6 86.2,213.9 85.9,214.1 85.6,213.7 85.3,213.6 85.0,214.3 84.7,213.9 84.4,213.7 84.1,213.7 83.8,214.1 83.5,213.8 83.2,213.9 82.9,213.9 82.6,214.1 82.4,213.9 82.1,214.0 81.8,214.4 81.5,214.4 81.2,214.0 80.9,214.3 80.6,214.4 80.3,214.3 80.0,213.9 79.7,214.0 79.4,213.9 79.1,214.1 78.9,213.8 78.6,214.0 78.3,213.9 78.0,214.2 77.7,213.7 77.4,214.1 77.1,213.9 76.8,213.8 76.5,214.2 76.2,214.2 75.9,214.0 75.6,213.7 75.4,213.6 75.1,213.8 74.8,213.5 74.5,213.8 74.2,213.4 73.9,213.5 73.6,213.6 73.3,214.0 73.0,214.0 72.7,213.2 72.4,213.4 72.1,214.0 71.9,213.4 71.6,214.2 71.3,213.9 71.0,213.7 70.7,213.4 70.4,212.5 70.1,212.6 69.8,212.5 69.5,212.3 69.2,213.4 68.9,213.6 68.6,212.0 68.4,213.4 68.1,213.8 67.8,213.8 67.5,212.5 67.2,212.8 66.9,212.9 66.6,212.8 66.3,213.3 66.0,211.4 65.7,213.3 65.4,211.9 65.1,210.8 64.8,210.8 64.6,213.0 64.3,211.3 64.0,211.6 63.7,210.5 63.4,213.3 63.1,212.3 62.8,209.8 62.5,211.6 62.2,209.7 61.9,212.5 61.6,211.3 61.3,209.3 61.1,211.2 60.8,211.6 60.5,209.9 60.2,210.4 59.9,208.4 59.6,208.7 59.3,212.7 59.0,211.9 58.7,212.9 58.4,212.5 58.1,211.7 57.8,206.7 57.6,209.5 57.3,209.0 57.0,208.5 56.7,207.7 56.4,209.8 56.1,210.4 55.8,212.3 55.5,207.0 55.2,212.3 54.9,205.3 54.6,205.6 54.3,210.5 54.1,211.2 53.8,212.2 53.5,206.7 53.2,207.4 52.9,204.7 52.6,211.7 52.3,207.5 52.0,205.3 51.7,208.9 51.4,205.4 51.1,207.6 50.8,203.0 50.6,207.0 50.3,209.8 50.0,202.2 49.7,204.8 49.4,203.0 49.1,202.7 48.8,205.0 48.5,200.4 48.2,204.2 47.9,199.9 47.6,208.1 47.3,211.5 47.1,207.1 46.8,205.0 46.5,211.2 46.2,208.5 45.9,204.4 45.6,201.2 45.3,204.4 45.0,208.5 44.7,199.1 44.4,204.0 44.1,198.7 43.8,206.4 43.5,203.7 43.3,209.7 43.0,197.2 42.7,209.1 42.4,210.6 42.1,196.6 41.8,202.6 41.5,203.2 41.2,202.1 40.9,202.9 40.6,201.0 40.3,200.8 40.0,200.4 39.8,199.0 39.5,207.0 39.2,202.2 38.9,196.9 38.6,200.4 38.3,200.1 38.0,207.4 37.7,208.5 37.4,204.7 37.1,210.4 36.8,206.8 36.5,202.5 36.3,201.1 36.0,195.4 35.7,202.2 35.4,199.6 35.1,206.0 34.8,201.4 34.5,200.5 34.2,200.2 33.9,205.0 33.6,199.6 33.3,201.1 33.0,197.0 32.8,196.8 32.5,197.9 32.2,200.7 31.9,205.2 31.6,207.1 31.3,209.4 31.0,205.7 30.7,203.6 30.4,201.6 30.1,210.0 29.8,203.8 29.5,204.9 29.3,199.7 29.0,208.6 28.7,202.5 28.4,209.9 28.1,206.7 27.8,201.3 27.5,202.3" fill="#f9dc4a" fill-opacity="0.62" stroke="#f5cf25" stroke-width="0.2"/>
<polyline fill="none" stroke="#8b8fc7" stroke-width="0.45" points="27.5,200.6 28.4,196.2 29.3,197.7 30.1,190.8 31.0,194.2 31.9,194.7 32.8,191.2 33.6,186.6 34.5,195.7 35.4,192.0 36.3,191.3 37.1,187.6 38.0,185.3 38.9,188.6 39.8,186.7 40.6,187.1 41.5,194.7 42.4,192.1 43.3,196.1 44.1,189.1 45.0,197.2 45.9,196.4 46.8,191.6 47.6,194.3 48.5,197.1 49.4,193.9 50.3,198.9 51.1,199.6 52.0,196.5 52.9,197.3 53.8,200.1 54.6,201.1 55.5,200.9 56.4,202.1 57.3,204.9 58.1,206.4 59.0,204.0 59.9,207.4 60.8,207.7 61.6,208.1 62.5,206.9 63.4,209.0 64.3,208.4 65.1,209.6 66.0,210.3 66.9,209.9 67.8,211.6 68.6,210.8 69.5,211.6 70.4,212.0 71.3,211.7 72.1,212.3 73.0,212.5 73.9,212.7 74.8,213.0 75.6,213.1 76.5,213.5 77.4,213.1 78.3,213.5 79.1,213.5 80.0,213.7 80.9,213.4 81.8,213.3 82.6,213.3 83.5,213.2 84.4,213.3 85.3,212.9 86.2,212.8 87.0,213.1 87.9,212.5 88.8,211.8 89.7,211.6 90.5,211.2 91.4,210.6 92.3,209.2 93.2,208.5 94.0,209.1 94.9,206.7 95.8,205.9 96.7,204.0 97.5,204.7 98.4,204.5 99.3,201.8 100.2,197.5 101.0,193.8 101.9,194.9 102.8,192.5 103.7,195.5 104.5,193.9 105.4,184.4 106.3,183.2 107.2,191.3 108.0,187.5 108.9,187.3 109.8,179.1 110.7,174.6 111.5,182.1 112.4,183.4 113.3,172.0 114.2,171.8 115.0,179.8 115.9,180.5 116.8,173.9 117.7,178.0 118.5,180.7 119.4,184.3 120.3,189.3 121.2,189.9 122.0,188.9 122.9,194.9"/>
<polyline fill="none" stroke="#e8363a" stroke-width="0.7" points="27.5,197.4 28.7,196.0 29.8,194.7 31.0,193.4 32.2,192.4 33.3,191.5 34.5,190.9 35.7,190.5 36.8,190.3 38.0,190.3 39.2,190.5 40.3,190.8 41.5,191.3 42.7,191.8 43.8,192.5 45.0,193.3 46.2,194.1 47.3,195.1 48.5,196.0 49.7,197.1 50.8,198.1 52.0,199.2 53.2,200.3 54.3,201.4 55.5,202.5 56.7,203.5 57.8,204.5 59.0,205.5 60.2,206.4 61.3,207.2 62.5,208.0 63.7,208.8 64.8,209.5 66.0,210.1 67.2,210.6 68.4,211.1 69.5,211.6 70.7,212.0 71.9,212.3 73.0,212.6 74.2,212.9 75.4,213.1 76.5,213.3 77.7,213.4 78.9,213.5 80.0,213.6 81.2,213.6 82.4,213.5 83.5,213.4 84.7,213.3 85.9,213.1 87.0,212.7 88.2,212.3 89.4,211.8 90.5,211.1 91.7,210.3 92.9,209.3 94.0,208.2 95.2,206.8 96.4,205.2 97.5,203.5 98.7,201.6 99.9,199.5 101.0,197.2 102.2,194.9 103.4,192.5 104.5,190.1 105.7,187.8 106.9,185.6 108.0,183.6 109.2,181.8 110.4,180.3 111.5,179.3 112.7,178.6 113.9,178.3 115.0,178.6 116.2,179.7 117.4,181.5 118.5,183.9 119.7,186.8 120.9,189.9 122.0,193.2 123.2,196.4"/>
<path d="M121 190 Q126 192 129.5 197" fill="none" stroke="#f08a8a" stroke-width="0.5" stroke-dasharray="1 0.6"/>
<rect x="94.00" y="152.90" width="26.00" height="62.10" fill="none" stroke="#3fae3f" stroke-width="0.7" stroke-dasharray="1.6 0.9"/>
<rect x="29.00" y="154.00" width="28.50" height="14.00" fill="#fff" stroke="#ccc" stroke-width="0.3" fill-opacity="0.9"/>
<line x1="30.00" y1="156.20" x2="33.50" y2="156.20" stroke="#f2c811" stroke-width="0.5" />
<text x="35.00" y="157.10" font-size="2.5" text-anchor="start" fill="#333" font-family="DejaVu Sans, sans-serif" >Daily</text>
<line x1="30.00" y1="158.70" x2="33.50" y2="158.70" stroke="#8b8fc7" stroke-width="0.5" />
<text x="35.00" y="159.60" font-size="2.5" text-anchor="start" fill="#333" font-family="DejaVu Sans, sans-serif" >Monthly</text>
<line x1="30.00" y1="161.20" x2="33.50" y2="161.20" stroke="#e8363a" stroke-width="0.5" />
<text x="35.00" y="162.10" font-size="2.5" text-anchor="start" fill="#333" font-family="DejaVu Sans, sans-serif" >Monthly smoothed</text>
<line x1="30.00" y1="163.70" x2="33.50" y2="163.70" stroke="#f08a8a" stroke-width="0.5" />
<text x="35.00" y="164.60" font-size="2.5" text-anchor="start" fill="#333" font-family="DejaVu Sans, sans-serif" >ML Predictions</text>
<line x1="30.00" y1="166.20" x2="33.50" y2="166.20" stroke="#d55" stroke-width="0.5" />
<text x="35.00" y="167.10" font-size="2.5" text-anchor="start" fill="#333" font-family="DejaVu Sans, sans-serif" >CM Predictions</text>
<text x="79.00" y="151.30" font-size="3.0" text-anchor="middle" fill="#333" font-family="DejaVu Sans, sans-serif" >International sunspot number S<tspan font-size="2" dy="0.5">n</tspan><tspan dy="-0.5">: last 13 years and forecasts</tspan></text>
<text x="79.00" y="220.30" font-size="2.6" text-anchor="middle" fill="#333" font-family="DejaVu Sans, sans-serif" >Time (years)</text>
<text x="35.00" y="217.80" font-size="2.4" text-anchor="middle" fill="#333" font-family="DejaVu Sans, sans-serif" >2014</text>
<text x="49.80" y="217.80" font-size="2.4" text-anchor="middle" fill="#333" font-family="DejaVu Sans, sans-serif" >2016</text>
<text x="64.60" y="217.80" font-size="2.4" text-anchor="middle" fill="#333" font-family="DejaVu Sans, sans-serif" >2018</text>
<text x="79.40" y="217.80" font-size="2.4" text-anchor="middle" fill="#333" font-family="DejaVu Sans, sans-serif" >2020</text>
<text x="94.20" y="217.80" font-size="2.4" text-anchor="middle" fill="#333" font-family="DejaVu Sans, sans-serif" >2022</text>
<text x="109.00" y="217.80" font-size="2.4" text-anchor="middle" fill="#333" font-family="DejaVu Sans, sans-serif" >2024</text>
<text x="123.80" y="217.80" font-size="2.4" text-anchor="middle" fill="#333" font-family="DejaVu Sans, sans-serif" >2026</text>
<text x="26.60" y="215.80" font-size="2.2" text-anchor="end" fill="#333" font-family="DejaVu Sans, sans-serif" >0</text>
<text x="26.60" y="205.40" font-size="2.2" text-anchor="end" fill="#333" font-family="DejaVu Sans, sans-serif" >50</text>
<text x="26.60" y="195.00" font-size="2.2" text-anchor="end" fill="#333" font-family="DejaVu Sans, sans-serif" >100</text>
<text x="26.60" y="184.60" font-size="2.2" text-anchor="end" fill="#333" font-family="DejaVu Sans, sans-serif" >150</text>
<text x="26.60" y="174.20" font-size="2.2" text-anchor="end" fill="#333" font-family="DejaVu Sans, sans-serif" >200</text>
<text x="26.60" y="163.80" font-size="2.2" text-anchor="end" fill="#333" font-family="DejaVu Sans, sans-serif" >250</text>
<text x="26.60" y="153.40" font-size="2.2" text-anchor="end" fill="#333" font-family="DejaVu Sans, sans-serif" >300</text>
<text x="21.80" y="184.00" font-size="2.4" text-anchor="middle" fill="#333" font-family="DejaVu Sans, sans-serif" transform="rotate(-90 21.80 184.00)" >Sunspot number</text>
<rect x="139.50" y="154.20" width="73.50" height="62.10" fill="#fff" stroke="#c8c8c8" stroke-width="0.5"/>
<rect x="157.60" y="154.60" width="28.80" height="61.80" fill="#e9e9e9" stroke="none" stroke-width="0" />
<path d="M202.5 154.5 C202 168 196 178 184 186 C174 192 168 198 171 206" fill="none" stroke="#a7d6ee" stroke-width="0.5"/>
<path d="M204 154.5 C203.5 170 197 181 185 189 C176 195 171 200 175 208" fill="none" stroke="#a7d6ee" stroke-width="0.5"/>
<path d="M171 173 C172 182 176 188 181 192 C186 196 188 202 184 207 C180 211 176 206 175 200 C174 192 178 186 184 186" fill="none" stroke="#a7d6ee" stroke-width="0.5"/>
<path d="M168 176 C169 186 174 192 179 196 C184 200 186 205 182 209" fill="none" stroke="#a7d6ee" stroke-width="0.5"/>
<path d="M157.6 200 C166 206.5 176 209.3 186.4 209.3 C197 209.3 206 206.5 213 200.5" fill="none" stroke="#ee2a3a" stroke-width="0.9"/>
<rect x="157.60" y="154.60" width="28.80" height="61.80" fill="none" stroke="#1d4a5c" stroke-width="1.0" />
<circle cx="186.40" cy="159.50" r="0.8" fill="#f5a623" />
<circle cx="186.40" cy="210.60" r="0.8" fill="#2a9d2a" />
<circle cx="142.50" cy="156.60" r="0.6" fill="#f5a623" />
<text x="147.00" y="157.40" font-size="2.1" text-anchor="start" fill="#444" font-family="DejaVu Sans, sans-serif" >Sun</text>
<circle cx="142.50" cy="159.40" r="0.6" fill="#2a9d2a" />
<text x="147.00" y="160.20" font-size="2.1" text-anchor="start" fill="#444" font-family="DejaVu Sans, sans-serif" >Earth</text>
<line x1="141.00" y1="162.60" x2="144.50" y2="162.60" stroke="#a7d6ee" stroke-width="0.5" />
<text x="147.00" y="162.90" font-size="2.1" text-anchor="start" fill="#444" font-family="DejaVu Sans, sans-serif" >Solar Orbiter Orbit</text>
<text x="147.00" y="165.20" font-size="2.1" text-anchor="start" fill="#444" font-family="DejaVu Sans, sans-serif" >(2022-01-01 to 2023-08-30)</text>
<line x1="141.00" y1="168.10" x2="144.50" y2="168.10" stroke="#ee2a3a" stroke-width="0.6" />
<text x="147.00" y="167.80" font-size="2.1" text-anchor="start" fill="#444" font-family="DejaVu Sans, sans-serif" >STEREO-A Orbit</text>
<text x="147.00" y="170.10" font-size="2.1" text-anchor="start" fill="#444" font-family="DejaVu Sans, sans-serif" >(2022-01-01 to 2023-08-30)</text>
<text x="144.80" y="219.20" font-size="2.1" text-anchor="middle" fill="#555" font-family="DejaVu Sans, sans-serif" >−0.8</text>
<text x="155.20" y="219.20" font-size="2.1" text-anchor="middle" fill="#555" font-family="DejaVu Sans, sans-serif" >−0.6</text>
<text x="165.60" y="219.20" font-size="2.1" text-anchor="middle" fill="#555" font-family="DejaVu Sans, sans-serif" >−0.4</text>
<text x="176.00" y="219.20" font-size="2.1" text-anchor="middle" fill="#555" font-family="DejaVu Sans, sans-serif" >−0.2</text>
<text x="186.40" y="219.20" font-size="2.1" text-anchor="middle" fill="#555" font-family="DejaVu Sans, sans-serif" >0.0</text>
<text x="196.80" y="219.20" font-size="2.1" text-anchor="middle" fill="#555" font-family="DejaVu Sans, sans-serif" >0.2</text>
<text x="207.20" y="219.20" font-size="2.1" text-anchor="middle" fill="#555" font-family="DejaVu Sans, sans-serif" >0.4</text>
<text x="138.60" y="211.60" font-size="2.1" text-anchor="end" fill="#555" font-family="DejaVu Sans, sans-serif" >0.0</text>
<text x="138.60" y="201.30" font-size="2.1" text-anchor="end" fill="#555" font-family="DejaVu Sans, sans-serif" >0.2</text>
<text x="138.60" y="191.00" font-size="2.1" text-anchor="end" fill="#555" font-family="DejaVu Sans, sans-serif" >0.4</text>
<text x="138.60" y="180.70" font-size="2.1" text-anchor="end" fill="#555" font-family="DejaVu Sans, sans-serif" >0.6</text>
<text x="138.60" y="170.40" font-size="2.1" text-anchor="end" fill="#555" font-family="DejaVu Sans, sans-serif" >0.8</text>
<text x="138.60" y="160.10" font-size="2.1" text-anchor="end" fill="#555" font-family="DejaVu Sans, sans-serif" >1.0</text>
<text x="176.00" y="221.60" font-size="2.2" text-anchor="middle" fill="#555" font-family="DejaVu Sans, sans-serif" >X HEE (AU)</text>
<text x="134.60" y="185.00" font-size="2.2" text-anchor="middle" fill="#555" font-family="DejaVu Sans, sans-serif" transform="rotate(-90 134.60 185.00)" >Y HEE (AU)</text>
<path d="M177.6 211.6 C180.5 223 196 230.5 213 229.2 C221 228.6 227 226.6 231 224.4" fill="none" stroke="#16465a" stroke-width="2.3"/>
<path d="M227.4 221.6 L234.2 221.9 L231.6 228.2 Z" fill="#16465a"/>
<rect x="216.40" y="184.60" width="37.00" height="37.00" fill="#fff" stroke="none" stroke-width="0" />
<path d="M226.97 185.40h1.27v1.27h-1.27zM230.63 185.40h1.27v1.27h-1.27zM234.29 185.40h1.27v1.27h-1.27zM239.17 185.40h1.27v1.27h-1.27zM240.39 185.40h1.27v1.27h-1.27zM241.61 185.40h1.27v1.27h-1.27zM229.41 186.62h1.27v1.27h-1.27zM235.51 186.62h1.27v1.27h-1.27zM236.73 186.62h1.27v1.27h-1.27zM239.17 186.62h1.27v1.27h-1.27zM240.39 186.62h1.27v1.27h-1.27zM241.61 186.62h1.27v1.27h-1.27zM226.97 187.84h1.27v1.27h-1.27zM228.19 187.84h1.27v1.27h-1.27zM229.41 187.84h1.27v1.27h-1.27zM234.29 187.84h1.27v1.27h-1.27zM236.73 187.84h1.27v1.27h-1.27zM237.95 187.84h1.27v1.27h-1.27zM228.19 189.06h1.27v1.27h-1.27zM229.41 189.06h1.27v1.27h-1.27zM230.63 189.06h1.27v1.27h-1.27zM231.85 189.06h1.27v1.27h-1.27zM234.29 189.06h1.27v1.27h-1.27zM236.73 189.06h1.27v1.27h-1.27zM240.39 189.06h1.27v1.27h-1.27zM241.61 189.06h1.27v1.27h-1.27zM228.19 190.28h1.27v1.27h-1.27zM230.63 190.28h1.27v1.27h-1.27zM231.85 190.28h1.27v1.27h-1.27zM235.51 190.28h1.27v1.27h-1.27zM236.73 190.28h1.27v1.27h-1.27zM237.95 190.28h1.27v1.27h-1.27zM241.61 190.28h1.27v1.27h-1.27zM226.97 191.50h1.27v1.27h-1.27zM228.19 191.50h1.27v1.27h-1.27zM229.41 191.50h1.27v1.27h-1.27zM231.85 191.50h1.27v1.27h-1.27zM234.29 191.50h1.27v1.27h-1.27zM235.51 191.50h1.27v1.27h-1.27zM237.95 191.50h1.27v1.27h-1.27zM240.39 191.50h1.27v1.27h-1.27zM241.61 191.50h1.27v1.27h-1.27zM226.97 192.72h1.27v1.27h-1.27zM228.19 192.72h1.27v1.27h-1.27zM231.85 192.72h1.27v1.27h-1.27zM234.29 192.72h1.27v1.27h-1.27zM235.51 192.72h1.27v1.27h-1.27zM239.17 192.72h1.27v1.27h-1.27zM241.61 192.72h1.27v1.27h-1.27zM226.97 193.94h1.27v1.27h-1.27zM229.41 193.94h1.27v1.27h-1.27zM230.63 193.94h1.27v1.27h-1.27zM231.85 193.94h1.27v1.27h-1.27zM233.07 193.94h1.27v1.27h-1.27zM235.51 193.94h1.27v1.27h-1.27zM237.95 193.94h1.27v1.27h-1.27zM239.17 193.94h1.27v1.27h-1.27zM241.61 193.94h1.27v1.27h-1.27zM219.64 195.17h1.27v1.27h-1.27zM220.86 195.17h1.27v1.27h-1.27zM224.52 195.17h1.27v1.27h-1.27zM225.74 195.17h1.27v1.27h-1.27zM229.41 195.17h1.27v1.27h-1.27zM234.29 195.17h1.27v1.27h-1.27zM235.51 195.17h1.27v1.27h-1.27zM236.73 195.17h1.27v1.27h-1.27zM239.17 195.17h1.27v1.27h-1.27zM241.61 195.17h1.27v1.27h-1.27zM245.28 195.17h1.27v1.27h-1.27zM246.50 195.17h1.27v1.27h-1.27zM248.94 195.17h1.27v1.27h-1.27zM250.16 195.17h1.27v1.27h-1.27zM219.64 196.39h1.27v1.27h-1.27zM222.08 196.39h1.27v1.27h-1.27zM223.30 196.39h1.27v1.27h-1.27zM224.52 196.39h1.27v1.27h-1.27zM225.74 196.39h1.27v1.27h-1.27zM226.97 196.39h1.27v1.27h-1.27zM228.19 196.39h1.27v1.27h-1.27zM229.41 196.39h1.27v1.27h-1.27zM231.85 196.39h1.27v1.27h-1.27zM233.07 196.39h1.27v1.27h-1.27zM240.39 196.39h1.27v1.27h-1.27zM241.61 196.39h1.27v1.27h-1.27zM242.83 196.39h1.27v1.27h-1.27zM247.72 196.39h1.27v1.27h-1.27zM250.16 196.39h1.27v1.27h-1.27zM217.20 197.61h1.27v1.27h-1.27zM219.64 197.61h1.27v1.27h-1.27zM229.41 197.61h1.27v1.27h-1.27zM234.29 197.61h1.27v1.27h-1.27zM240.39 197.61h1.27v1.27h-1.27zM244.06 197.61h1.27v1.27h-1.27zM250.16 197.61h1.27v1.27h-1.27zM218.42 198.83h1.27v1.27h-1.27zM220.86 198.83h1.27v1.27h-1.27zM223.30 198.83h1.27v1.27h-1.27zM225.74 198.83h1.27v1.27h-1.27zM226.97 198.83h1.27v1.27h-1.27zM229.41 198.83h1.27v1.27h-1.27zM233.07 198.83h1.27v1.27h-1.27zM234.29 198.83h1.27v1.27h-1.27zM235.51 198.83h1.27v1.27h-1.27zM237.95 198.83h1.27v1.27h-1.27zM239.17 198.83h1.27v1.27h-1.27zM242.83 198.83h1.27v1.27h-1.27zM245.28 198.83h1.27v1.27h-1.27zM247.72 198.83h1.27v1.27h-1.27zM248.94 198.83h1.27v1.27h-1.27zM218.42 200.05h1.27v1.27h-1.27zM220.86 200.05h1.27v1.27h-1.27zM222.08 200.05h1.27v1.27h-1.27zM223.30 200.05h1.27v1.27h-1.27zM229.41 200.05h1.27v1.27h-1.27zM230.63 200.05h1.27v1.27h-1.27zM231.85 200.05h1.27v1.27h-1.27zM233.07 200.05h1.27v1.27h-1.27zM234.29 200.05h1.27v1.27h-1.27zM235.51 200.05h1.27v1.27h-1.27zM237.95 200.05h1.27v1.27h-1.27zM239.17 200.05h1.27v1.27h-1.27zM242.83 200.05h1.27v1.27h-1.27zM244.06 200.05h1.27v1.27h-1.27zM245.28 200.05h1.27v1.27h-1.27zM247.72 200.05h1.27v1.27h-1.27zM251.38 200.05h1.27v1.27h-1.27zM218.42 201.27h1.27v1.27h-1.27zM219.64 201.27h1.27v1.27h-1.27zM220.86 201.27h1.27v1.27h-1.27zM222.08 201.27h1.27v1.27h-1.27zM224.52 201.27h1.27v1.27h-1.27zM225.74 201.27h1.27v1.27h-1.27zM226.97 201.27h1.27v1.27h-1.27zM229.41 201.27h1.27v1.27h-1.27zM236.73 201.27h1.27v1.27h-1.27zM237.95 201.27h1.27v1.27h-1.27zM239.17 201.27h1.27v1.27h-1.27zM240.39 201.27h1.27v1.27h-1.27zM241.61 201.27h1.27v1.27h-1.27zM244.06 201.27h1.27v1.27h-1.27zM245.28 201.27h1.27v1.27h-1.27zM246.50 201.27h1.27v1.27h-1.27zM217.20 202.49h1.27v1.27h-1.27zM220.86 202.49h1.27v1.27h-1.27zM224.52 202.49h1.27v1.27h-1.27zM225.74 202.49h1.27v1.27h-1.27zM229.41 202.49h1.27v1.27h-1.27zM235.51 202.49h1.27v1.27h-1.27zM237.95 202.49h1.27v1.27h-1.27zM244.06 202.49h1.27v1.27h-1.27zM251.38 202.49h1.27v1.27h-1.27zM219.64 203.71h1.27v1.27h-1.27zM220.86 203.71h1.27v1.27h-1.27zM222.08 203.71h1.27v1.27h-1.27zM225.74 203.71h1.27v1.27h-1.27zM226.97 203.71h1.27v1.27h-1.27zM229.41 203.71h1.27v1.27h-1.27zM231.85 203.71h1.27v1.27h-1.27zM233.07 203.71h1.27v1.27h-1.27zM235.51 203.71h1.27v1.27h-1.27zM236.73 203.71h1.27v1.27h-1.27zM244.06 203.71h1.27v1.27h-1.27zM246.50 203.71h1.27v1.27h-1.27zM247.72 203.71h1.27v1.27h-1.27zM250.16 203.71h1.27v1.27h-1.27zM222.08 204.93h1.27v1.27h-1.27zM223.30 204.93h1.27v1.27h-1.27zM226.97 204.93h1.27v1.27h-1.27zM233.07 204.93h1.27v1.27h-1.27zM237.95 204.93h1.27v1.27h-1.27zM241.61 204.93h1.27v1.27h-1.27zM245.28 204.93h1.27v1.27h-1.27zM247.72 204.93h1.27v1.27h-1.27zM250.16 204.93h1.27v1.27h-1.27zM218.42 206.15h1.27v1.27h-1.27zM219.64 206.15h1.27v1.27h-1.27zM220.86 206.15h1.27v1.27h-1.27zM222.08 206.15h1.27v1.27h-1.27zM225.74 206.15h1.27v1.27h-1.27zM226.97 206.15h1.27v1.27h-1.27zM228.19 206.15h1.27v1.27h-1.27zM231.85 206.15h1.27v1.27h-1.27zM234.29 206.15h1.27v1.27h-1.27zM235.51 206.15h1.27v1.27h-1.27zM236.73 206.15h1.27v1.27h-1.27zM239.17 206.15h1.27v1.27h-1.27zM240.39 206.15h1.27v1.27h-1.27zM242.83 206.15h1.27v1.27h-1.27zM245.28 206.15h1.27v1.27h-1.27zM247.72 206.15h1.27v1.27h-1.27zM248.94 206.15h1.27v1.27h-1.27zM251.38 206.15h1.27v1.27h-1.27zM217.20 207.37h1.27v1.27h-1.27zM218.42 207.37h1.27v1.27h-1.27zM220.86 207.37h1.27v1.27h-1.27zM222.08 207.37h1.27v1.27h-1.27zM230.63 207.37h1.27v1.27h-1.27zM235.51 207.37h1.27v1.27h-1.27zM236.73 207.37h1.27v1.27h-1.27zM239.17 207.37h1.27v1.27h-1.27zM242.83 207.37h1.27v1.27h-1.27zM244.06 207.37h1.27v1.27h-1.27zM246.50 207.37h1.27v1.27h-1.27zM247.72 207.37h1.27v1.27h-1.27zM250.16 207.37h1.27v1.27h-1.27zM217.20 208.59h1.27v1.27h-1.27zM218.42 208.59h1.27v1.27h-1.27zM220.86 208.59h1.27v1.27h-1.27zM222.08 208.59h1.27v1.27h-1.27zM226.97 208.59h1.27v1.27h-1.27zM233.07 208.59h1.27v1.27h-1.27zM234.29 208.59h1.27v1.27h-1.27zM235.51 208.59h1.27v1.27h-1.27zM236.73 208.59h1.27v1.27h-1.27zM241.61 208.59h1.27v1.27h-1.27zM242.83 208.59h1.27v1.27h-1.27zM244.06 208.59h1.27v1.27h-1.27zM248.94 208.59h1.27v1.27h-1.27zM250.16 208.59h1.27v1.27h-1.27zM217.20 209.81h1.27v1.27h-1.27zM219.64 209.81h1.27v1.27h-1.27zM220.86 209.81h1.27v1.27h-1.27zM223.30 209.81h1.27v1.27h-1.27zM225.74 209.81h1.27v1.27h-1.27zM229.41 209.81h1.27v1.27h-1.27zM230.63 209.81h1.27v1.27h-1.27zM233.07 209.81h1.27v1.27h-1.27zM234.29 209.81h1.27v1.27h-1.27zM235.51 209.81h1.27v1.27h-1.27zM237.95 209.81h1.27v1.27h-1.27zM245.28 209.81h1.27v1.27h-1.27zM251.38 209.81h1.27v1.27h-1.27zM231.85 211.03h1.27v1.27h-1.27zM239.17 211.03h1.27v1.27h-1.27zM241.61 211.03h1.27v1.27h-1.27zM242.83 211.03h1.27v1.27h-1.27zM244.06 211.03h1.27v1.27h-1.27zM245.28 211.03h1.27v1.27h-1.27zM246.50 211.03h1.27v1.27h-1.27zM250.16 211.03h1.27v1.27h-1.27zM228.19 212.26h1.27v1.27h-1.27zM233.07 212.26h1.27v1.27h-1.27zM240.39 212.26h1.27v1.27h-1.27zM244.06 212.26h1.27v1.27h-1.27zM245.28 212.26h1.27v1.27h-1.27zM246.50 212.26h1.27v1.27h-1.27zM247.72 212.26h1.27v1.27h-1.27zM248.94 212.26h1.27v1.27h-1.27zM250.16 212.26h1.27v1.27h-1.27zM251.38 212.26h1.27v1.27h-1.27zM236.73 213.48h1.27v1.27h-1.27zM240.39 213.48h1.27v1.27h-1.27zM242.83 213.48h1.27v1.27h-1.27zM244.06 213.48h1.27v1.27h-1.27zM245.28 213.48h1.27v1.27h-1.27zM246.50 213.48h1.27v1.27h-1.27zM248.94 213.48h1.27v1.27h-1.27zM251.38 213.48h1.27v1.27h-1.27zM229.41 214.70h1.27v1.27h-1.27zM230.63 214.70h1.27v1.27h-1.27zM234.29 214.70h1.27v1.27h-1.27zM236.73 214.70h1.27v1.27h-1.27zM237.95 214.70h1.27v1.27h-1.27zM239.17 214.70h1.27v1.27h-1.27zM240.39 214.70h1.27v1.27h-1.27zM241.61 214.70h1.27v1.27h-1.27zM244.06 214.70h1.27v1.27h-1.27zM247.72 214.70h1.27v1.27h-1.27zM251.38 214.70h1.27v1.27h-1.27zM228.19 215.92h1.27v1.27h-1.27zM229.41 215.92h1.27v1.27h-1.27zM231.85 215.92h1.27v1.27h-1.27zM236.73 215.92h1.27v1.27h-1.27zM241.61 215.92h1.27v1.27h-1.27zM244.06 215.92h1.27v1.27h-1.27zM245.28 215.92h1.27v1.27h-1.27zM246.50 215.92h1.27v1.27h-1.27zM248.94 215.92h1.27v1.27h-1.27zM250.16 215.92h1.27v1.27h-1.27zM226.97 217.14h1.27v1.27h-1.27zM228.19 217.14h1.27v1.27h-1.27zM230.63 217.14h1.27v1.27h-1.27zM237.95 217.14h1.27v1.27h-1.27zM239.17 217.14h1.27v1.27h-1.27zM244.06 217.14h1.27v1.27h-1.27zM245.28 217.14h1.27v1.27h-1.27zM226.97 218.36h1.27v1.27h-1.27zM228.19 218.36h1.27v1.27h-1.27zM233.07 218.36h1.27v1.27h-1.27zM234.29 218.36h1.27v1.27h-1.27zM235.51 218.36h1.27v1.27h-1.27zM236.73 218.36h1.27v1.27h-1.27zM239.17 218.36h1.27v1.27h-1.27zM241.61 218.36h1.27v1.27h-1.27zM242.83 218.36h1.27v1.27h-1.27zM247.72 218.36h1.27v1.27h-1.27zM248.94 218.36h1.27v1.27h-1.27zM250.16 218.36h1.27v1.27h-1.27zM251.38 218.36h1.27v1.27h-1.27zM229.41 219.58h1.27v1.27h-1.27zM230.63 219.58h1.27v1.27h-1.27zM235.51 219.58h1.27v1.27h-1.27zM236.73 219.58h1.27v1.27h-1.27zM237.95 219.58h1.27v1.27h-1.27zM240.39 219.58h1.27v1.27h-1.27zM244.06 219.58h1.27v1.27h-1.27zM248.94 219.58h1.27v1.27h-1.27zM250.16 219.58h1.27v1.27h-1.27zM251.38 219.58h1.27v1.27h-1.27z" fill="#111"/>
<rect x="217.20" y="185.40" width="8.54" height="8.54" fill="#111" stroke="none" stroke-width="0" />
<rect x="218.42" y="186.62" width="6.10" height="6.10" fill="#fff" stroke="none" stroke-width="0" />
<rect x="219.64" y="187.84" width="3.66" height="3.66" fill="#111" stroke="none" stroke-width="0" />
<rect x="244.06" y="185.40" width="8.54" height="8.54" fill="#111" stroke="none" stroke-width="0" />
<rect x="245.28" y="186.62" width="6.10" height="6.10" fill="#fff" stroke="none" stroke-width="0" />
<rect x="246.50" y="187.84" width="3.66" height="3.66" fill="#111" stroke="none" stroke-width="0" />
<rect x="217.20" y="212.26" width="8.54" height="8.54" fill="#111" stroke="none" stroke-width="0" />
<rect x="218.42" y="213.48" width="6.10" height="6.10" fill="#fff" stroke="none" stroke-width="0" />
<rect x="219.64" y="214.70" width="3.66" height="3.66" fill="#111" stroke="none" stroke-width="0" />
<rect x="241.61" y="209.81" width="6.10" height="6.10" fill="#111" stroke="none" stroke-width="0" />
<rect x="242.83" y="211.03" width="3.66" height="3.66" fill="#fff" stroke="none" stroke-width="0" />
<rect x="244.06" y="212.26" width="1.22" height="1.22" fill="#111" stroke="none" stroke-width="0" />
<rect x="287.50" y="156.00" width="55.90" height="72.00" fill="#fff" stroke="#c4c4c4" stroke-width="0.7"/>
<line x1="288.00" y1="227.50" x2="343.00" y2="157.00" stroke="#e4e4e4" stroke-width="0.4" />
<rect x="336.56" y="163.58" width="4.0" height="4.0" fill="#32ec23" stroke="#3a7a3a" stroke-width="0.35"/>
<rect x="323.76" y="173.53" width="4.0" height="4.0" fill="#78f500" stroke="#3a7a3a" stroke-width="0.35"/>
<rect x="318.24" y="181.00" width="4.0" height="4.0" fill="#32ec23" stroke="#3a7a3a" stroke-width="0.35"/>
<rect x="336.56" y="181.89" width="4.0" height="4.0" fill="#32ec23" stroke="#3a7a3a" stroke-width="0.35"/>
<rect x="302.96" y="180.11" width="4.0" height="4.0" fill="#ff0096" stroke="#555" stroke-width="0.35"/>
<rect x="309.89" y="184.20" width="4.0" height="4.0" fill="#00cfef" stroke="#555" stroke-width="0.35"/>
<rect x="300.47" y="189.36" width="4.0" height="4.0" fill="#32ec23" stroke="#3a7a3a" stroke-width="0.35"/>
<rect x="309.18" y="190.96" width="4.0" height="4.0" fill="#00cfef" stroke="#555" stroke-width="0.35"/>
<rect x="305.62" y="196.47" width="4.0" height="4.0" fill="#00f0a0" stroke="#555" stroke-width="0.35"/>
<rect x="306.87" y="197.36" width="4.0" height="4.0" fill="#00f0a0" stroke="#555" stroke-width="0.35"/>
<rect x="306.16" y="201.09" width="4.0" height="4.0" fill="#0086ff" stroke="#555" stroke-width="0.35"/>
<rect x="321.80" y="199.49" width="4.0" height="4.0" fill="#ffa500" stroke="#555" stroke-width="0.35"/>
<rect x="338.69" y="201.98" width="4.0" height="4.0" fill="#32ec23" stroke="#3a7a3a" stroke-width="0.35"/>
<rect x="300.64" y="205.89" width="4.0" height="4.0" fill="#00cfef" stroke="#555" stroke-width="0.35"/>
<rect x="293.53" y="209.09" width="4.0" height="4.0" fill="#00cfef" stroke="#555" stroke-width="0.35"/>
<rect x="289.09" y="209.98" width="4.0" height="4.0" fill="#32ec23" stroke="#3a7a3a" stroke-width="0.35"/>
<rect x="296.20" y="212.82" width="4.0" height="4.0" fill="#32ec23" stroke="#3a7a3a" stroke-width="0.35"/>
<rect x="291.04" y="213.36" width="4.0" height="4.0" fill="#0024ff" stroke="#555" stroke-width="0.35"/>
<rect x="307.22" y="212.47" width="4.0" height="4.0" fill="#ff0000" stroke="#555" stroke-width="0.35"/>
<rect x="303.31" y="214.42" width="4.0" height="4.0" fill="#32ec23" stroke="#3a7a3a" stroke-width="0.35"/>
<rect x="307.58" y="214.78" width="4.0" height="4.0" fill="#af3cff" stroke="#555" stroke-width="0.35"/>
<rect x="309.53" y="215.67" width="4.0" height="4.0" fill="#af3cff" stroke="#555" stroke-width="0.35"/>
<rect x="288.02" y="217.27" width="4.0" height="4.0" fill="#32ec23" stroke="#3a7a3a" stroke-width="0.35"/>
<rect x="288.91" y="222.78" width="4.0" height="4.0" fill="#32ec23" stroke="#3a7a3a" stroke-width="0.35"/>
<rect x="288.70" y="158.80" width="21.50" height="6.30" fill="#d9d9d9" stroke="none" stroke-width="0" rx="0.8"/>
<rect x="288.70" y="165.90" width="21.50" height="6.30" fill="#d9d9d9" stroke="none" stroke-width="0" rx="0.8"/>
<text x="289.90" y="163.70" font-size="4.6" text-anchor="start" fill="#333" font-family="DejaVu Sans, sans-serif" >σ<tspan font-size="3" dy="0.8">P</tspan><tspan dy="-0.8">: 0.67</tspan></text>
<text x="289.90" y="170.80" font-size="4.6" text-anchor="start" fill="#333" font-family="DejaVu Sans, sans-serif" >σ<tspan font-size="3" dy="0.8">S</tspan><tspan dy="-0.8">: 0.60</tspan></text>
<text x="286.30" y="175.70" font-size="9.0" text-anchor="end" fill="#262626" font-family="DejaVu Sans, sans-serif" >800</text>
<text x="286.30" y="198.80" font-size="9.0" text-anchor="end" fill="#262626" font-family="DejaVu Sans, sans-serif" >600</text>
<text x="286.30" y="222.00" font-size="9.0" text-anchor="end" fill="#262626" font-family="DejaVu Sans, sans-serif" >400</text>
<text x="302.00" y="237.00" font-size="9.0" text-anchor="middle" fill="#262626" font-family="DejaVu Sans, sans-serif" >500</text>
<text x="326.00" y="237.00" font-size="9.0" text-anchor="middle" fill="#262626" font-family="DejaVu Sans, sans-serif" >750</text>
<text x="315.50" y="243.60" font-size="4.9" text-anchor="middle" fill="#ff2a2a" font-family="DejaVu Sans, sans-serif" ><tspan font-style="italic">V<tspan font-size="3.4" dy="0.8">max</tspan></tspan><tspan dy="-0.8"> [km/sec] (STEREO-A)</tspan></text>
<text x="265.80" y="192.00" font-size="4.9" text-anchor="middle" fill="#35b535" font-family="DejaVu Sans, sans-serif" transform="rotate(-90 265.80 192.00)" ><tspan font-style="italic">V<tspan font-size="3.4" dy="0.8">max</tspan></tspan><tspan dy="-0.8"> [km/sec] (Wind)</tspan></text>
<rect x="374.60" y="156.00" width="56.00" height="72.00" fill="#fff" stroke="#c4c4c4" stroke-width="0.7"/>
<line x1="375.00" y1="227.50" x2="430.00" y2="187.00" stroke="#e4e4e4" stroke-width="0.4" />
<rect x="425.98" y="156.64" width="4.0" height="4.0" fill="#32ec23" stroke="#3a7a3a" stroke-width="0.35"/>
<rect x="411.93" y="199.49" width="4.0" height="4.0" fill="#32ec23" stroke="#3a7a3a" stroke-width="0.35"/>
<rect x="404.64" y="204.64" width="4.0" height="4.0" fill="#32ec23" stroke="#3a7a3a" stroke-width="0.35"/>
<rect x="401.44" y="205.00" width="4.0" height="4.0" fill="#00f0a0" stroke="#555" stroke-width="0.35"/>
<rect x="398.42" y="205.00" width="4.0" height="4.0" fill="#00cfef" stroke="#555" stroke-width="0.35"/>
<rect x="395.76" y="208.20" width="4.0" height="4.0" fill="#32ec23" stroke="#3a7a3a" stroke-width="0.35"/>
<rect x="392.73" y="208.20" width="4.0" height="4.0" fill="#af3cff" stroke="#555" stroke-width="0.35"/>
<rect x="391.67" y="209.80" width="4.0" height="4.0" fill="#00f0a0" stroke="#555" stroke-width="0.35"/>
<rect x="384.02" y="208.91" width="4.0" height="4.0" fill="#ff0096" stroke="#555" stroke-width="0.35"/>
<rect x="388.11" y="213.00" width="4.0" height="4.0" fill="#ff0000" stroke="#555" stroke-width="0.35"/>
<rect x="391.84" y="213.89" width="4.0" height="4.0" fill="#32ec23" stroke="#3a7a3a" stroke-width="0.35"/>
<rect x="381.36" y="212.47" width="4.0" height="4.0" fill="#af3cff" stroke="#555" stroke-width="0.35"/>
<rect x="384.20" y="213.36" width="4.0" height="4.0" fill="#32ec23" stroke="#3a7a3a" stroke-width="0.35"/>
<rect x="380.29" y="214.42" width="4.0" height="4.0" fill="#ffa500" stroke="#555" stroke-width="0.35"/>
<rect x="382.78" y="216.56" width="4.0" height="4.0" fill="#0086ff" stroke="#555" stroke-width="0.35"/>
<rect x="385.98" y="215.84" width="4.0" height="4.0" fill="#32ec23" stroke="#3a7a3a" stroke-width="0.35"/>
<rect x="389.00" y="216.20" width="4.0" height="4.0" fill="#32ec23" stroke="#3a7a3a" stroke-width="0.35"/>
<rect x="392.20" y="215.84" width="4.0" height="4.0" fill="#00f0a0" stroke="#555" stroke-width="0.35"/>
<rect x="380.29" y="217.80" width="4.0" height="4.0" fill="#32ec23" stroke="#3a7a3a" stroke-width="0.35"/>
<rect x="384.56" y="217.98" width="4.0" height="4.0" fill="#00f0a0" stroke="#555" stroke-width="0.35"/>
<rect x="385.62" y="220.47" width="4.0" height="4.0" fill="#78f500" stroke="#3a7a3a" stroke-width="0.35"/>
<rect x="383.31" y="221.53" width="4.0" height="4.0" fill="#32ec23" stroke="#3a7a3a" stroke-width="0.35"/>
<rect x="383.31" y="222.42" width="4.0" height="4.0" fill="#32ec23" stroke="#3a7a3a" stroke-width="0.35"/>
<rect x="375.80" y="158.80" width="21.50" height="6.30" fill="#d9d9d9" stroke="none" stroke-width="0" rx="0.8"/>
<rect x="375.80" y="165.90" width="21.50" height="6.30" fill="#d9d9d9" stroke="none" stroke-width="0" rx="0.8"/>
<text x="377.00" y="163.70" font-size="4.6" text-anchor="start" fill="#333" font-family="DejaVu Sans, sans-serif" >σ<tspan font-size="3" dy="0.8">P</tspan><tspan dy="-0.8">: 0.87</tspan></text>
<text x="377.00" y="170.80" font-size="4.6" text-anchor="start" fill="#333" font-family="DejaVu Sans, sans-serif" >σ<tspan font-size="3" dy="0.8">S</tspan><tspan dy="-0.8">: 0.76</tspan></text>
<text x="373.40" y="169.40" font-size="9.0" text-anchor="end" fill="#262626" font-family="DejaVu Sans, sans-serif" >75</text>
<text x="373.40" y="191.20" font-size="9.0" text-anchor="end" fill="#262626" font-family="DejaVu Sans, sans-serif" >50</text>
<text x="373.40" y="213.90" font-size="9.0" text-anchor="end" fill="#262626" font-family="DejaVu Sans, sans-serif" >25</text>
<text x="398.00" y="237.00" font-size="9.0" text-anchor="middle" fill="#262626" font-family="DejaVu Sans, sans-serif" >25</text>
<text x="427.40" y="237.00" font-size="9.0" text-anchor="middle" fill="#262626" font-family="DejaVu Sans, sans-serif" >50</text>
<text x="402.60" y="243.60" font-size="4.9" text-anchor="middle" fill="#ff2a2a" font-family="DejaVu Sans, sans-serif" ><tspan font-style="italic">B<tspan font-size="3.4" dy="0.8">max</tspan></tspan><tspan dy="-0.8"> [nT] (STEREO-A)</tspan></text>
<text x="358.60" y="192.00" font-size="4.9" text-anchor="middle" fill="#35b535" font-family="DejaVu Sans, sans-serif" transform="rotate(-90 358.60 192.00)" ><tspan font-style="italic">B<tspan font-size="3.4" dy="0.8">max</tspan></tspan><tspan dy="-0.8"> [nT] (Wind)</tspan></text>
<rect x="462.40" y="155.50" width="55.10" height="72.40" fill="#fff" stroke="#c4c4c4" stroke-width="0.7"/>
<line x1="463.00" y1="227.40" x2="515.50" y2="158.50" stroke="#e4e4e4" stroke-width="0.4" />
<rect x="504.57" y="185.41" width="4.0" height="4.0" fill="#78f500" stroke="#3a7a3a" stroke-width="0.35"/>
<rect x="479.54" y="197.14" width="4.0" height="4.0" fill="#af3cff" stroke="#555" stroke-width="0.35"/>
<rect x="483.45" y="199.68" width="4.0" height="4.0" fill="#32ec23" stroke="#3a7a3a" stroke-width="0.35"/>
<rect x="464.29" y="208.48" width="4.0" height="4.0" fill="#ff0096" stroke="#555" stroke-width="0.35"/>
<rect x="493.03" y="208.09" width="4.0" height="4.0" fill="#32ec23" stroke="#3a7a3a" stroke-width="0.35"/>
<rect x="502.03" y="206.52" width="4.0" height="4.0" fill="#32ec23" stroke="#3a7a3a" stroke-width="0.35"/>
<rect x="512.98" y="212.98" width="4.0" height="4.0" fill="#78f500" stroke="#3a7a3a" stroke-width="0.35"/>
<rect x="473.09" y="209.85" width="4.0" height="4.0" fill="#00f0a0" stroke="#555" stroke-width="0.35"/>
<rect x="478.37" y="211.61" width="4.0" height="4.0" fill="#00f0a0" stroke="#555" stroke-width="0.35"/>
<rect x="481.49" y="213.56" width="4.0" height="4.0" fill="#78f500" stroke="#3a7a3a" stroke-width="0.35"/>
<rect x="467.22" y="213.56" width="4.0" height="4.0" fill="#ff0000" stroke="#555" stroke-width="0.35"/>
<rect x="469.57" y="212.78" width="4.0" height="4.0" fill="#32ec23" stroke="#3a7a3a" stroke-width="0.35"/>
<rect x="473.09" y="215.52" width="4.0" height="4.0" fill="#af3cff" stroke="#555" stroke-width="0.35"/>
<rect x="464.87" y="215.13" width="4.0" height="4.0" fill="#32ec23" stroke="#3a7a3a" stroke-width="0.35"/>
<rect x="462.33" y="216.11" width="4.0" height="4.0" fill="#32ec23" stroke="#3a7a3a" stroke-width="0.35"/>
<rect x="463.90" y="217.47" width="4.0" height="4.0" fill="#00f0a0" stroke="#555" stroke-width="0.35"/>
<rect x="462.33" y="217.67" width="4.0" height="4.0" fill="#00cfef" stroke="#555" stroke-width="0.35"/>
<rect x="465.26" y="218.45" width="4.0" height="4.0" fill="#0086ff" stroke="#555" stroke-width="0.35"/>
<rect x="467.61" y="217.47" width="4.0" height="4.0" fill="#32ec23" stroke="#3a7a3a" stroke-width="0.35"/>
<rect x="466.24" y="216.69" width="4.0" height="4.0" fill="#32ec23" stroke="#3a7a3a" stroke-width="0.35"/>
<rect x="463.60" y="158.00" width="20.30" height="6.30" fill="#d9d9d9" stroke="none" stroke-width="0" rx="0.8"/>
<rect x="463.60" y="165.10" width="20.30" height="6.30" fill="#d9d9d9" stroke="none" stroke-width="0" rx="0.8"/>
<text x="464.80" y="162.90" font-size="4.3" text-anchor="start" fill="#333" font-family="DejaVu Sans, sans-serif" >σ<tspan font-size="3" dy="0.8">P</tspan><tspan dy="-0.8">: 0.61</tspan></text>
<text x="464.80" y="170.00" font-size="4.3" text-anchor="start" fill="#333" font-family="DejaVu Sans, sans-serif" >σ<tspan font-size="3" dy="0.8">S</tspan><tspan dy="-0.8">: 0.70</tspan></text>
<text x="461.00" y="162.80" font-size="9.0" text-anchor="end" fill="#262626" font-family="DejaVu Sans, sans-serif" >30</text>
<text x="461.00" y="185.90" font-size="9.0" text-anchor="end" fill="#262626" font-family="DejaVu Sans, sans-serif" >20</text>
<text x="461.00" y="208.80" font-size="9.0" text-anchor="end" fill="#262626" font-family="DejaVu Sans, sans-serif" >10</text>
<text x="461.00" y="231.90" font-size="9.0" text-anchor="end" fill="#262626" font-family="DejaVu Sans, sans-serif" >0</text>
<text x="462.60" y="237.30" font-size="9.0" text-anchor="middle" fill="#262626" font-family="DejaVu Sans, sans-serif" >0</text>
<text x="497.20" y="237.30" font-size="9.0" text-anchor="middle" fill="#262626" font-family="DejaVu Sans, sans-serif" >20</text>
<text x="490.00" y="243.40" font-size="4.9" text-anchor="middle" fill="#ff2a2a" font-family="DejaVu Sans, sans-serif" ><tspan font-style="italic">P<tspan font-size="3.4" dy="0.8">dyn</tspan></tspan><tspan dy="-0.8"> [nPa] (STEREO-A)</tspan></text>
<text x="444.40" y="192.00" font-size="4.9" text-anchor="middle" fill="#35b535" font-family="DejaVu Sans, sans-serif" transform="rotate(-90 444.40 192.00)" ><tspan font-style="italic">P<tspan font-size="3.4" dy="0.8">dyn</tspan></tspan><tspan dy="-0.8"> [nPa] (Wind)</tspan></text>
<rect x="549.40" y="155.50" width="55.10" height="72.40" fill="#fff" stroke="#c4c4c4" stroke-width="0.7"/>
<line x1="550.00" y1="227.40" x2="602.50" y2="158.50" stroke="#e4e4e4" stroke-width="0.4" />
<rect x="560.10" y="175.63" width="4.0" height="4.0" fill="#32ec23" stroke="#3a7a3a" stroke-width="0.35"/>
<rect x="575.35" y="184.23" width="4.0" height="4.0" fill="#00cfef" stroke="#555" stroke-width="0.35"/>
<rect x="566.95" y="188.34" width="4.0" height="4.0" fill="#32ec23" stroke="#3a7a3a" stroke-width="0.35"/>
<rect x="573.20" y="193.23" width="4.0" height="4.0" fill="#00f0a0" stroke="#555" stroke-width="0.35"/>
<rect x="569.49" y="195.96" width="4.0" height="4.0" fill="#78f500" stroke="#3a7a3a" stroke-width="0.35"/>
<rect x="565.58" y="195.96" width="4.0" height="4.0" fill="#00cfef" stroke="#555" stroke-width="0.35"/>
<rect x="568.51" y="198.90" width="4.0" height="4.0" fill="#32ec23" stroke="#3a7a3a" stroke-width="0.35"/>
<rect x="600.19" y="195.18" width="4.0" height="4.0" fill="#af3cff" stroke="#555" stroke-width="0.35"/>
<rect x="600.19" y="206.72" width="4.0" height="4.0" fill="#00f0a0" stroke="#555" stroke-width="0.35"/>
<rect x="549.74" y="200.07" width="4.0" height="4.0" fill="#af3cff" stroke="#555" stroke-width="0.35"/>
<rect x="554.24" y="198.51" width="4.0" height="4.0" fill="#0024ff" stroke="#555" stroke-width="0.35"/>
<rect x="556.78" y="203.39" width="4.0" height="4.0" fill="#32ec23" stroke="#3a7a3a" stroke-width="0.35"/>
<rect x="561.47" y="205.35" width="4.0" height="4.0" fill="#78f500" stroke="#3a7a3a" stroke-width="0.35"/>
<rect x="560.69" y="208.48" width="4.0" height="4.0" fill="#00cfef" stroke="#555" stroke-width="0.35"/>
<rect x="577.70" y="210.63" width="4.0" height="4.0" fill="#00f0a0" stroke="#555" stroke-width="0.35"/>
<rect x="553.45" y="212.59" width="4.0" height="4.0" fill="#78f500" stroke="#3a7a3a" stroke-width="0.35"/>
<rect x="569.88" y="213.95" width="4.0" height="4.0" fill="#ff0096" stroke="#555" stroke-width="0.35"/>
<rect x="581.61" y="215.91" width="4.0" height="4.0" fill="#ffa500" stroke="#555" stroke-width="0.35"/>
<rect x="564.60" y="215.13" width="4.0" height="4.0" fill="#32ec23" stroke="#3a7a3a" stroke-width="0.35"/>
<rect x="555.60" y="216.69" width="4.0" height="4.0" fill="#ff0000" stroke="#555" stroke-width="0.35"/>
<rect x="558.15" y="217.47" width="4.0" height="4.0" fill="#32ec23" stroke="#3a7a3a" stroke-width="0.35"/>
<rect x="564.99" y="217.47" width="4.0" height="4.0" fill="#0086ff" stroke="#555" stroke-width="0.35"/>
<rect x="558.73" y="218.65" width="4.0" height="4.0" fill="#0086ff" stroke="#555" stroke-width="0.35"/>
<rect x="554.82" y="219.62" width="4.0" height="4.0" fill="#0024ff" stroke="#555" stroke-width="0.35"/>
<rect x="550.60" y="158.00" width="20.30" height="6.30" fill="#d9d9d9" stroke="none" stroke-width="0" rx="0.8"/>
<rect x="550.60" y="165.10" width="20.30" height="6.30" fill="#d9d9d9" stroke="none" stroke-width="0" rx="0.8"/>
<text x="551.80" y="162.90" font-size="4.3" text-anchor="start" fill="#333" font-family="DejaVu Sans, sans-serif" >σ<tspan font-size="3" dy="0.8">P</tspan><tspan dy="-0.8">: 0.20</tspan></text>
<text x="551.80" y="170.00" font-size="4.3" text-anchor="start" fill="#333" font-family="DejaVu Sans, sans-serif" >σ<tspan font-size="3" dy="0.8">S</tspan><tspan dy="-0.8">: 0.33</tspan></text>
<text x="548.00" y="162.80" font-size="9.0" text-anchor="end" fill="#262626" font-family="DejaVu Sans, sans-serif" >1.5</text>
<text x="548.00" y="185.40" font-size="9.0" text-anchor="end" fill="#262626" font-family="DejaVu Sans, sans-serif" >1.0</text>
<text x="548.00" y="208.20" font-size="9.0" text-anchor="end" fill="#262626" font-family="DejaVu Sans, sans-serif" >0.5</text>
<text x="548.00" y="231.30" font-size="9.0" text-anchor="end" fill="#262626" font-family="DejaVu Sans, sans-serif" >0.0</text>
<text x="550.40" y="237.30" font-size="9.0" text-anchor="middle" fill="#262626" font-family="DejaVu Sans, sans-serif" >0</text>
<text x="584.60" y="237.30" font-size="9.0" text-anchor="middle" fill="#262626" font-family="DejaVu Sans, sans-serif" >1</text>
<text x="577.00" y="243.40" font-size="4.9" text-anchor="middle" fill="#ff2a2a" font-family="DejaVu Sans, sans-serif" ><tspan font-style="italic">L<tspan font-size="3.4" dy="0.8">sheath</tspan><tspan dy="-0.8">/L</tspan><tspan font-size="3.4" dy="0.8">ME</tspan></tspan><tspan dy="-0.8"> (STEREO-A)</tspan></text>
<text x="531.40" y="192.00" font-size="4.9" text-anchor="middle" fill="#35b535" font-family="DejaVu Sans, sans-serif" transform="rotate(-90 531.40 192.00)" ><tspan font-style="italic">L<tspan font-size="3.4" dy="0.8">sheath</tspan><tspan dy="-0.8">/L</tspan><tspan font-size="3.4" dy="0.8">ME</tspan></tspan><tspan dy="-0.8"> (Wind)</tspan></text>
<rect x="614.30" y="154.50" width="8.80" height="76.30" fill="url(#rb)" stroke="none" stroke-width="0" />
<line x1="623.10" y1="154.50" x2="624.60" y2="154.50" stroke="#333" stroke-width="0.5" />
<text x="625.40" y="157.60" font-size="8.6" text-anchor="start" fill="#262626" font-family="DejaVu Sans, sans-serif" >30</text>
<line x1="623.10" y1="179.93" x2="624.60" y2="179.93" stroke="#333" stroke-width="0.5" />
<text x="625.40" y="183.03" font-size="8.6" text-anchor="start" fill="#262626" font-family="DejaVu Sans, sans-serif" >20</text>
<line x1="623.10" y1="205.37" x2="624.60" y2="205.37" stroke="#333" stroke-width="0.5" />
<text x="625.40" y="208.46" font-size="8.6" text-anchor="start" fill="#262626" font-family="DejaVu Sans, sans-serif" >10</text>
<line x1="623.10" y1="230.80" x2="624.60" y2="230.80" stroke="#333" stroke-width="0.5" />
<text x="625.40" y="233.90" font-size="8.6" text-anchor="start" fill="#262626" font-family="DejaVu Sans, sans-serif" >0</text>
<text x="642.60" y="192.65" font-size="6.8" text-anchor="middle" fill="#262626" font-family="DejaVu Sans, sans-serif" transform="rotate(-90 642.60 192.65)" >Δ<tspan font-style="italic">α</tspan> [ ˚ ]</text>
<rect x="686.00" y="156.90" width="99.00" height="85.40" fill="#fff" stroke="#cfcfcf" stroke-width="0.6"/>
<rect x="706.38" y="159.94" width="2.1" height="2.1" fill="#0a8a0a" stroke="none" stroke-width="0"/>
<rect x="718.62" y="159.94" width="2.1" height="2.1" fill="#0a8a0a" stroke="none" stroke-width="0"/>
<rect x="732.98" y="187.14" width="2.1" height="2.1" fill="#0a8a0a" stroke="none" stroke-width="0"/>
<rect x="719.53" y="193.79" width="2.1" height="2.1" fill="#0a8a0a" stroke="none" stroke-width="0"/>
<rect x="741.59" y="197.87" width="2.1" height="2.1" fill="#0a8a0a" stroke="none" stroke-width="0"/>
<rect x="715.75" y="201.04" width="2.1" height="2.1" fill="#0a8a0a" stroke="none" stroke-width="0"/>
<rect x="723.46" y="206.78" width="2.1" height="2.1" fill="#0a8a0a" stroke="none" stroke-width="0"/>
<rect x="756.70" y="206.03" width="2.1" height="2.1" fill="#0a8a0a" stroke="none" stroke-width="0"/>
<rect x="700.04" y="208.75" width="2.1" height="2.1" fill="#0a8a0a" stroke="none" stroke-width="0"/>
<rect x="701.40" y="211.01" width="2.1" height="2.1" fill="#0a8a0a" stroke="none" stroke-width="0"/>
<rect x="732.37" y="214.19" width="2.1" height="2.1" fill="#0a8a0a" stroke="none" stroke-width="0"/>
<rect x="737.96" y="213.28" width="2.1" height="2.1" fill="#0a8a0a" stroke="none" stroke-width="0"/>
<rect x="746.88" y="213.73" width="2.1" height="2.1" fill="#0a8a0a" stroke="none" stroke-width="0"/>
<rect x="721.80" y="219.17" width="2.1" height="2.1" fill="#0a8a0a" stroke="none" stroke-width="0"/>
<rect x="721.04" y="221.59" width="2.1" height="2.1" fill="#0a8a0a" stroke="none" stroke-width="0"/>
<rect x="702.45" y="224.01" width="2.1" height="2.1" fill="#0a8a0a" stroke="none" stroke-width="0"/>
<rect x="689.46" y="227.03" width="2.1" height="2.1" fill="#0a8a0a" stroke="none" stroke-width="0"/>
<rect x="695.81" y="225.37" width="2.1" height="2.1" fill="#0a8a0a" stroke="none" stroke-width="0"/>
<rect x="773.93" y="224.61" width="2.1" height="2.1" fill="#0a8a0a" stroke="none" stroke-width="0"/>
<rect x="703.21" y="228.09" width="2.1" height="2.1" fill="#0a8a0a" stroke="none" stroke-width="0"/>
<rect x="698.07" y="230.66" width="2.1" height="2.1" fill="#0a8a0a" stroke="none" stroke-width="0"/>
<rect x="701.09" y="229.90" width="2.1" height="2.1" fill="#0a8a0a" stroke="none" stroke-width="0"/>
<rect x="709.40" y="232.32" width="2.1" height="2.1" fill="#0a8a0a" stroke="none" stroke-width="0"/>
<rect x="697.01" y="237.91" width="2.1" height="2.1" fill="#0a8a0a" stroke="none" stroke-width="0"/>
<rect x="745.22" y="181.40" width="2.1" height="2.1" fill="#f01414" stroke="none" stroke-width="0"/>
<rect x="724.06" y="191.22" width="2.1" height="2.1" fill="#f01414" stroke="none" stroke-width="0"/>
<rect x="702.00" y="196.66" width="2.1" height="2.1" fill="#f01414" stroke="none" stroke-width="0"/>
<rect x="720.74" y="201.95" width="2.1" height="2.1" fill="#f01414" stroke="none" stroke-width="0"/>
<rect x="719.68" y="204.67" width="2.1" height="2.1" fill="#f01414" stroke="none" stroke-width="0"/>
<rect x="736.45" y="206.03" width="2.1" height="2.1" fill="#f01414" stroke="none" stroke-width="0"/>
<rect x="742.50" y="205.88" width="2.1" height="2.1" fill="#f01414" stroke="none" stroke-width="0"/>
<rect x="698.22" y="208.59" width="2.1" height="2.1" fill="#f01414" stroke="none" stroke-width="0"/>
<rect x="703.21" y="209.20" width="2.1" height="2.1" fill="#f01414" stroke="none" stroke-width="0"/>
<rect x="747.48" y="210.86" width="2.1" height="2.1" fill="#f01414" stroke="none" stroke-width="0"/>
<rect x="696.56" y="215.09" width="2.1" height="2.1" fill="#f01414" stroke="none" stroke-width="0"/>
<rect x="712.58" y="216.75" width="2.1" height="2.1" fill="#f01414" stroke="none" stroke-width="0"/>
<rect x="715.75" y="217.36" width="2.1" height="2.1" fill="#f01414" stroke="none" stroke-width="0"/>
<rect x="714.54" y="220.68" width="2.1" height="2.1" fill="#f01414" stroke="none" stroke-width="0"/>
<rect x="720.28" y="222.65" width="2.1" height="2.1" fill="#f01414" stroke="none" stroke-width="0"/>
<rect x="699.89" y="226.12" width="2.1" height="2.1" fill="#f01414" stroke="none" stroke-width="0"/>
<rect x="707.59" y="225.37" width="2.1" height="2.1" fill="#f01414" stroke="none" stroke-width="0"/>
<rect x="721.34" y="227.18" width="2.1" height="2.1" fill="#f01414" stroke="none" stroke-width="0"/>
<rect x="727.54" y="228.09" width="2.1" height="2.1" fill="#f01414" stroke="none" stroke-width="0"/>
<rect x="728.59" y="230.05" width="2.1" height="2.1" fill="#f01414" stroke="none" stroke-width="0"/>
<rect x="732.98" y="229.14" width="2.1" height="2.1" fill="#f01414" stroke="none" stroke-width="0"/>
<rect x="724.06" y="231.26" width="2.1" height="2.1" fill="#f01414" stroke="none" stroke-width="0"/>
<rect x="703.06" y="232.92" width="2.1" height="2.1" fill="#f01414" stroke="none" stroke-width="0"/>
<rect x="696.11" y="234.13" width="2.1" height="2.1" fill="#f01414" stroke="none" stroke-width="0"/>
<rect x="772.41" y="230.81" width="2.1" height="2.1" fill="#f01414" stroke="none" stroke-width="0"/>
<rect x="779.21" y="230.35" width="2.1" height="2.1" fill="#f01414" stroke="none" stroke-width="0"/>
<rect x="755.50" y="158.50" width="26.50" height="17.00" fill="#fff" stroke="#e0e0e0" stroke-width="0.4" rx="0.8"/>
<rect x="761.65" y="162.45" width="1.9" height="1.9" fill="#0a8a0a" stroke="none" stroke-width="0"/>
<text x="771.50" y="164.90" font-size="4.2" text-anchor="start" fill="#333" font-family="DejaVu Sans, sans-serif" >L1</text>
<rect x="761.65" y="169.95" width="1.9" height="1.9" fill="#f01414" stroke="none" stroke-width="0"/>
<text x="771.50" y="172.40" font-size="4.2" text-anchor="start" fill="#333" font-family="DejaVu Sans, sans-serif" >STA</text>
<rect x="688.20" y="166.20" width="22.00" height="3.20" fill="#dedede" stroke="none" stroke-width="0" />
<text x="688.60" y="168.70" font-size="2.3" text-anchor="start" fill="#666" font-family="DejaVu Sans, sans-serif" >σp: 0.05, σs: 0.21</text>
<text x="684.30" y="243.30" font-size="4.4" text-anchor="end" fill="#444" font-family="DejaVu Sans, sans-serif" >0.0</text>
<text x="684.30" y="232.44" font-size="4.4" text-anchor="end" fill="#444" font-family="DejaVu Sans, sans-serif" >0.2</text>
<text x="684.30" y="221.58" font-size="4.4" text-anchor="end" fill="#444" font-family="DejaVu Sans, sans-serif" >0.4</text>
<text x="684.30" y="210.72" font-size="4.4" text-anchor="end" fill="#444" font-family="DejaVu Sans, sans-serif" >0.6</text>
<text x="684.30" y="199.86" font-size="4.4" text-anchor="end" fill="#444" font-family="DejaVu Sans, sans-serif" >0.8</text>
<text x="684.30" y="189.00" font-size="4.4" text-anchor="end" fill="#444" font-family="DejaVu Sans, sans-serif" >1.0</text>
<text x="684.30" y="178.14" font-size="4.4" text-anchor="end" fill="#444" font-family="DejaVu Sans, sans-serif" >1.2</text>
<text x="684.30" y="167.28" font-size="4.4" text-anchor="end" fill="#444" font-family="DejaVu Sans, sans-serif" >1.4</text>
<text x="698.80" y="248.20" font-size="4.4" text-anchor="middle" fill="#444" font-family="DejaVu Sans, sans-serif" >400</text>
<text x="715.66" y="248.20" font-size="4.4" text-anchor="middle" fill="#444" font-family="DejaVu Sans, sans-serif" >500</text>
<text x="732.52" y="248.20" font-size="4.4" text-anchor="middle" fill="#444" font-family="DejaVu Sans, sans-serif" >600</text>
<text x="749.38" y="248.20" font-size="4.4" text-anchor="middle" fill="#444" font-family="DejaVu Sans, sans-serif" >700</text>
<text x="766.24" y="248.20" font-size="4.4" text-anchor="middle" fill="#444" font-family="DejaVu Sans, sans-serif" >800</text>
<text x="783.10" y="248.20" font-size="4.4" text-anchor="middle" fill="#444" font-family="DejaVu Sans, sans-serif" >900</text>
<text x="735.80" y="254.80" font-size="6.6" text-anchor="middle" fill="#333" font-family="DejaVu Sans, sans-serif" ><tspan font-style="italic">V<tspan font-size="4.4" dy="1">max<tspan font-size="3.2" dy="0.8">ME</tspan></tspan></tspan><tspan dy="-1.8"> [km/sec]</tspan></text>
<text x="674.40" y="199.50" font-size="6.6" text-anchor="middle" fill="#333" font-family="DejaVu Sans, sans-serif" transform="rotate(-90 674.40 199.50)" ><tspan font-style="italic">L<tspan font-size="4.4" dy="1">sheath</tspan><tspan dy="-1">/L</tspan><tspan font-size="4.4" dy="1">ME</tspan></tspan></text>
<rect x="831.10" y="156.50" width="93.50" height="92.30" fill="#fff" stroke="#c4c4c4" stroke-width="0.7"/>
<line x1="832.00" y1="248.00" x2="921.00" y2="166.00" stroke="#e4e4e4" stroke-width="0.4" />
<rect x="912.86" y="159.13" width="4.1" height="4.1" fill="#78f500" stroke="#3a7a3a" stroke-width="0.35"/>
<rect x="918.37" y="188.06" width="4.1" height="4.1" fill="#32ec23" stroke="#3a7a3a" stroke-width="0.35"/>
<rect x="902.66" y="182.55" width="4.1" height="4.1" fill="#ff0096" stroke="#555" stroke-width="0.35"/>
<rect x="868.49" y="183.93" width="4.1" height="4.1" fill="#ff0096" stroke="#555" stroke-width="0.35"/>
<rect x="865.46" y="191.09" width="4.1" height="4.1" fill="#00cfef" stroke="#555" stroke-width="0.35"/>
<rect x="889.44" y="197.98" width="4.1" height="4.1" fill="#00cfef" stroke="#555" stroke-width="0.35"/>
<rect x="873.18" y="200.46" width="4.1" height="4.1" fill="#32ec23" stroke="#3a7a3a" stroke-width="0.35"/>
<rect x="871.52" y="203.49" width="4.1" height="4.1" fill="#ffa500" stroke="#555" stroke-width="0.35"/>
<rect x="859.95" y="209.83" width="4.1" height="4.1" fill="#78f500" stroke="#3a7a3a" stroke-width="0.35"/>
<rect x="861.05" y="210.93" width="4.1" height="4.1" fill="#ffff00" stroke="#555" stroke-width="0.35"/>
<rect x="866.84" y="210.66" width="4.1" height="4.1" fill="#00f0a0" stroke="#555" stroke-width="0.35"/>
<rect x="877.31" y="212.59" width="4.1" height="4.1" fill="#32ec23" stroke="#3a7a3a" stroke-width="0.35"/>
<rect x="870.42" y="216.17" width="4.1" height="4.1" fill="#00f0a0" stroke="#555" stroke-width="0.35"/>
<rect x="864.08" y="217.82" width="4.1" height="4.1" fill="#00f0a0" stroke="#555" stroke-width="0.35"/>
<rect x="859.12" y="219.20" width="4.1" height="4.1" fill="#00cfef" stroke="#555" stroke-width="0.35"/>
<rect x="875.93" y="224.44" width="4.1" height="4.1" fill="#ff0000" stroke="#555" stroke-width="0.35"/>
<rect x="864.08" y="226.09" width="4.1" height="4.1" fill="#af3cff" stroke="#555" stroke-width="0.35"/>
<rect x="892.19" y="230.50" width="4.1" height="4.1" fill="#af3cff" stroke="#555" stroke-width="0.35"/>
<rect x="855.82" y="226.09" width="4.1" height="4.1" fill="#00cfef" stroke="#555" stroke-width="0.35"/>
<rect x="854.99" y="227.74" width="4.1" height="4.1" fill="#32ec23" stroke="#3a7a3a" stroke-width="0.35"/>
<rect x="851.13" y="228.57" width="4.1" height="4.1" fill="#00f0a0" stroke="#555" stroke-width="0.35"/>
<rect x="847.55" y="229.67" width="4.1" height="4.1" fill="#32ec23" stroke="#3a7a3a" stroke-width="0.35"/>
<rect x="844.79" y="231.32" width="4.1" height="4.1" fill="#32ec23" stroke="#3a7a3a" stroke-width="0.35"/>
<rect x="843.42" y="232.70" width="4.1" height="4.1" fill="#ffff00" stroke="#555" stroke-width="0.35"/>
<rect x="842.04" y="234.91" width="4.1" height="4.1" fill="#0024ff" stroke="#555" stroke-width="0.35"/>
<rect x="837.91" y="238.21" width="4.1" height="4.1" fill="#ff0000" stroke="#555" stroke-width="0.35"/>
<rect x="842.04" y="237.66" width="4.1" height="4.1" fill="#00cfef" stroke="#555" stroke-width="0.35"/>
<rect x="844.24" y="239.87" width="4.1" height="4.1" fill="#ffd200" stroke="#555" stroke-width="0.35"/>
<rect x="833.50" y="242.62" width="4.1" height="4.1" fill="#32ec23" stroke="#3a7a3a" stroke-width="0.35"/>
<rect x="832.30" y="158.60" width="25.70" height="19.40" fill="#dadada" stroke="none" stroke-width="0" rx="1.2"/>
<text x="833.60" y="166.10" font-size="5.2" text-anchor="start" fill="#222" font-family="DejaVu Sans, sans-serif" >σ<tspan font-size="3.4" dy="0.9">P</tspan><tspan dy="-0.9">: 0.81</tspan></text>
<text x="833.60" y="175.60" font-size="5.2" text-anchor="start" fill="#222" font-family="DejaVu Sans, sans-serif" >σ<tspan font-size="3.4" dy="0.9">S</tspan><tspan dy="-0.9">: 0.85</tspan></text>
<text x="829.60" y="169.00" font-size="8.6" text-anchor="end" fill="#262626" font-family="DejaVu Sans, sans-serif" >800</text>
<text x="829.60" y="200.70" font-size="8.6" text-anchor="end" fill="#262626" font-family="DejaVu Sans, sans-serif" >600</text>
<text x="829.60" y="231.80" font-size="8.6" text-anchor="end" fill="#262626" font-family="DejaVu Sans, sans-serif" >400</text>
<text x="852.40" y="258.00" font-size="8.6" text-anchor="middle" fill="#262626" font-family="DejaVu Sans, sans-serif" >400</text>
<text x="887.60" y="258.00" font-size="8.6" text-anchor="middle" fill="#262626" font-family="DejaVu Sans, sans-serif" >600</text>
<text x="921.80" y="258.00" font-size="8.6" text-anchor="middle" fill="#262626" font-family="DejaVu Sans, sans-serif" >800</text>
<text x="878.50" y="266.00" font-size="6.9" text-anchor="middle" fill="#ff2a2a" font-family="DejaVu Sans, sans-serif" ><tspan font-style="italic">V<tspan font-size="4.8" dy="1">mean</tspan></tspan><tspan dy="-1"> [km/sec] (STEREO-A)</tspan></text>
<text x="810.40" y="202.00" font-size="6.9" text-anchor="middle" fill="#2aa52a" font-family="DejaVu Sans, sans-serif" transform="rotate(-90 810.40 202.00)" ><tspan font-style="italic">V<tspan font-size="4.8" dy="1">mean</tspan></tspan><tspan dy="-1"> [km/sec] (Wind)</tspan></text>
<rect x="961.20" y="156.50" width="92.80" height="92.30" fill="#fff" stroke="#c4c4c4" stroke-width="0.7"/>
<line x1="962.00" y1="248.00" x2="1049.00" y2="162.00" stroke="#e4e4e4" stroke-width="0.4" />
<rect x="1047.88" y="183.38" width="4.1" height="4.1" fill="#78f500" stroke="#3a7a3a" stroke-width="0.35"/>
<rect x="1024.46" y="187.79" width="4.1" height="4.1" fill="#32ec23" stroke="#3a7a3a" stroke-width="0.35"/>
<rect x="975.13" y="197.43" width="4.1" height="4.1" fill="#ffff00" stroke="#555" stroke-width="0.35"/>
<rect x="1004.34" y="200.46" width="4.1" height="4.1" fill="#00cfef" stroke="#555" stroke-width="0.35"/>
<rect x="1014.81" y="204.60" width="4.1" height="4.1" fill="#32ec23" stroke="#3a7a3a" stroke-width="0.35"/>
<rect x="987.53" y="205.15" width="4.1" height="4.1" fill="#ff0096" stroke="#555" stroke-width="0.35"/>
<rect x="978.44" y="209.56" width="4.1" height="4.1" fill="#ff0096" stroke="#555" stroke-width="0.35"/>
<rect x="998.28" y="209.28" width="4.1" height="4.1" fill="#af3cff" stroke="#555" stroke-width="0.35"/>
<rect x="990.01" y="211.48" width="4.1" height="4.1" fill="#ff0000" stroke="#555" stroke-width="0.35"/>
<rect x="1003.24" y="213.14" width="4.1" height="4.1" fill="#32ec23" stroke="#3a7a3a" stroke-width="0.35"/>
<rect x="988.09" y="214.24" width="4.1" height="4.1" fill="#00cfef" stroke="#555" stroke-width="0.35"/>
<rect x="991.12" y="212.59" width="4.1" height="4.1" fill="#0024ff" stroke="#555" stroke-width="0.35"/>
<rect x="994.97" y="216.17" width="4.1" height="4.1" fill="#32ec23" stroke="#3a7a3a" stroke-width="0.35"/>
<rect x="979.82" y="221.13" width="4.1" height="4.1" fill="#00f0a0" stroke="#555" stroke-width="0.35"/>
<rect x="987.81" y="219.20" width="4.1" height="4.1" fill="#00f0a0" stroke="#555" stroke-width="0.35"/>
<rect x="977.89" y="222.23" width="4.1" height="4.1" fill="#00f0a0" stroke="#555" stroke-width="0.35"/>
<rect x="963.28" y="219.48" width="4.1" height="4.1" fill="#32ec23" stroke="#3a7a3a" stroke-width="0.35"/>
<rect x="964.11" y="224.16" width="4.1" height="4.1" fill="#ffa500" stroke="#555" stroke-width="0.35"/>
<rect x="994.70" y="224.16" width="4.1" height="4.1" fill="#ff0000" stroke="#555" stroke-width="0.35"/>
<rect x="970.45" y="224.99" width="4.1" height="4.1" fill="#00f0a0" stroke="#555" stroke-width="0.35"/>
<rect x="981.47" y="228.02" width="4.1" height="4.1" fill="#00f0a0" stroke="#555" stroke-width="0.35"/>
<rect x="974.31" y="231.32" width="4.1" height="4.1" fill="#00f0a0" stroke="#555" stroke-width="0.35"/>
<rect x="978.44" y="230.50" width="4.1" height="4.1" fill="#32ec23" stroke="#3a7a3a" stroke-width="0.35"/>
<rect x="971.28" y="231.60" width="4.1" height="4.1" fill="#32ec23" stroke="#3a7a3a" stroke-width="0.35"/>
<rect x="968.80" y="234.91" width="4.1" height="4.1" fill="#0024ff" stroke="#555" stroke-width="0.35"/>
<rect x="974.31" y="236.01" width="4.1" height="4.1" fill="#32ec23" stroke="#3a7a3a" stroke-width="0.35"/>
<rect x="984.23" y="234.91" width="4.1" height="4.1" fill="#78f500" stroke="#3a7a3a" stroke-width="0.35"/>
<rect x="988.91" y="236.28" width="4.1" height="4.1" fill="#ffd200" stroke="#555" stroke-width="0.35"/>
<rect x="964.11" y="237.94" width="4.1" height="4.1" fill="#00cfef" stroke="#555" stroke-width="0.35"/>
<rect x="966.59" y="238.76" width="4.1" height="4.1" fill="#00cfef" stroke="#555" stroke-width="0.35"/>
<rect x="966.59" y="242.07" width="4.1" height="4.1" fill="#78f500" stroke="#3a7a3a" stroke-width="0.35"/>
<rect x="992.49" y="242.62" width="4.1" height="4.1" fill="#32ec23" stroke="#3a7a3a" stroke-width="0.35"/>
<rect x="962.40" y="158.60" width="25.60" height="19.40" fill="#dadada" stroke="none" stroke-width="0" rx="1.2"/>
<text x="963.70" y="166.10" font-size="5.2" text-anchor="start" fill="#222" font-family="DejaVu Sans, sans-serif" >σ<tspan font-size="3.4" dy="0.9">P</tspan><tspan dy="-0.9">: 0.75</tspan></text>
<text x="963.70" y="175.60" font-size="5.2" text-anchor="start" fill="#222" font-family="DejaVu Sans, sans-serif" >σ<tspan font-size="3.4" dy="0.9">S</tspan><tspan dy="-0.9">: 0.64</tspan></text>
<text x="959.70" y="176.10" font-size="8.6" text-anchor="end" fill="#262626" font-family="DejaVu Sans, sans-serif" >30</text>
<text x="959.70" y="205.10" font-size="8.6" text-anchor="end" fill="#262626" font-family="DejaVu Sans, sans-serif" >20</text>
<text x="959.70" y="234.00" font-size="8.6" text-anchor="end" fill="#262626" font-family="DejaVu Sans, sans-serif" >10</text>
<text x="979.70" y="258.00" font-size="8.6" text-anchor="middle" fill="#262626" font-family="DejaVu Sans, sans-serif" >10</text>
<text x="1008.60" y="258.00" font-size="8.6" text-anchor="middle" fill="#262626" font-family="DejaVu Sans, sans-serif" >20</text>
<text x="1037.50" y="258.00" font-size="8.6" text-anchor="middle" fill="#262626" font-family="DejaVu Sans, sans-serif" >30</text>
<text x="1007.70" y="266.00" font-size="6.9" text-anchor="middle" fill="#ff2a2a" font-family="DejaVu Sans, sans-serif" ><tspan font-style="italic">B<tspan font-size="4.8" dy="1">mean</tspan></tspan><tspan dy="-1"> [nT] (STEREO-A)</tspan></text>
<text x="945.00" y="202.00" font-size="6.9" text-anchor="middle" fill="#2aa52a" font-family="DejaVu Sans, sans-serif" transform="rotate(-90 945.00 202.00)" ><tspan font-style="italic">B<tspan font-size="4.8" dy="1">mean</tspan></tspan><tspan dy="-1"> [nT] (Wind)</tspan></text>
<rect x="1070.00" y="157.00" width="5.60" height="91.80" fill="url(#rb)" stroke="none" stroke-width="0" />
<line x1="1075.60" y1="157.00" x2="1077.10" y2="157.00" stroke="#333" stroke-width="0.5" />
<text x="1077.90" y="159.95" font-size="8.2" text-anchor="start" fill="#262626" font-family="DejaVu Sans, sans-serif" >30</text>
<line x1="1075.60" y1="187.60" x2="1077.10" y2="187.60" stroke="#333" stroke-width="0.5" />
<text x="1077.90" y="190.55" font-size="8.2" text-anchor="start" fill="#262626" font-family="DejaVu Sans, sans-serif" >20</text>
<line x1="1075.60" y1="218.20" x2="1077.10" y2="218.20" stroke="#333" stroke-width="0.5" />
<text x="1077.90" y="221.15" font-size="8.2" text-anchor="start" fill="#262626" font-family="DejaVu Sans, sans-serif" >10</text>
<line x1="1075.60" y1="248.80" x2="1077.10" y2="248.80" stroke="#333" stroke-width="0.5" />
<text x="1077.90" y="251.75" font-size="8.2" text-anchor="start" fill="#262626" font-family="DejaVu Sans, sans-serif" >0</text>
<text x="1096.00" y="202.90" font-size="5.6" text-anchor="middle" fill="#262626" font-family="DejaVu Sans, sans-serif" transform="rotate(-90 1096.00 202.90)" >Δ<tspan font-style="italic">α</tspan> [ ˚ ]</text>
<rect x="29.40" y="381.90" width="360.40" height="51.30" fill="#fff" stroke="#bfbfbf" stroke-width="0.7" />
<rect x="170.80" y="383.00" width="76.90" height="20.00" fill="#fff" stroke="#a6a6a6" stroke-width="0.8" />
<line x1="209.30" y1="403.00" x2="209.30" y2="407.20" stroke="#4d86ad" stroke-width="0.7" />
<line x1="99.00" y1="407.20" x2="313.60" y2="407.20" stroke="#4d86ad" stroke-width="0.7" />
<line x1="99.00" y1="407.20" x2="99.00" y2="412.40" stroke="#4d86ad" stroke-width="0.7" />
<line x1="209.30" y1="407.20" x2="209.30" y2="412.40" stroke="#4d86ad" stroke-width="0.7" />
<line x1="313.60" y1="407.20" x2="313.60" y2="412.40" stroke="#4d86ad" stroke-width="0.7" />
<rect x="57.40" y="412.40" width="82.90" height="20.80" fill="#00b050" stroke="none" stroke-width="0" />
<rect x="149.00" y="412.40" width="106.70" height="20.80" fill="#8fd4a7" stroke="none" stroke-width="0" />
<rect x="264.70" y="412.40" width="96.70" height="20.80" fill="#ffa71a" stroke="none" stroke-width="0" />
<text x="209.30" y="396.60" font-size="10.9" text-anchor="middle" fill="#111" font-family="Liberation Serif, sans-serif" >Total 106 CMEs</text>
<text x="98.90" y="426.60" font-size="10.8" text-anchor="middle" fill="#111" font-family="Liberation Serif, sans-serif" >39 Simultaneous</text>
<text x="202.30" y="420.60" font-size="10.8" text-anchor="middle" fill="#111" font-family="Liberation Serif, sans-serif" >10 Potential</text>
<text x="202.30" y="431.40" font-size="10.8" text-anchor="middle" fill="#111" font-family="Liberation Serif, sans-serif" >simultaneous</text>
<text x="313.00" y="426.60" font-size="10.8" text-anchor="middle" fill="#111" font-family="Liberation Serif, sans-serif" >57 Single spacecraft</text>
<rect x="52.30" y="447.70" width="176.00" height="112.80" fill="#fff" stroke="#c9c9c9" stroke-width="0.6"/>
<rect x="52.85" y="453.10" width="19.36" height="14.32" fill="#ffb534" stroke="none" stroke-width="0" />
<rect x="52.85" y="467.42" width="19.36" height="93.08" fill="#1c8c1c" stroke="none" stroke-width="0" />
<rect x="73.77" y="453.10" width="13.30" height="35.80" fill="#ffb534" stroke="none" stroke-width="0" />
<rect x="73.77" y="488.90" width="13.30" height="14.32" fill="#67b367" stroke="none" stroke-width="0" />
<rect x="73.77" y="503.22" width="13.30" height="57.28" fill="#1c8c1c" stroke="none" stroke-width="0" />
<rect x="87.46" y="453.10" width="21.12" height="35.80" fill="#ffb534" stroke="none" stroke-width="0" />
<rect x="87.46" y="488.90" width="21.12" height="21.48" fill="#67b367" stroke="none" stroke-width="0" />
<rect x="87.46" y="510.38" width="21.12" height="50.12" fill="#1c8c1c" stroke="none" stroke-width="0" />
<rect x="110.34" y="453.10" width="30.90" height="57.28" fill="#ffb534" stroke="none" stroke-width="0" />
<rect x="110.34" y="510.38" width="30.90" height="14.32" fill="#67b367" stroke="none" stroke-width="0" />
<rect x="110.34" y="524.70" width="30.90" height="35.80" fill="#1c8c1c" stroke="none" stroke-width="0" />
<rect x="141.24" y="453.10" width="34.22" height="64.44" fill="#ffb534" stroke="none" stroke-width="0" />
<rect x="141.24" y="517.54" width="34.22" height="21.48" fill="#67b367" stroke="none" stroke-width="0" />
<rect x="141.24" y="539.02" width="34.22" height="21.48" fill="#1c8c1c" stroke="none" stroke-width="0" />
<rect x="178.00" y="453.10" width="17.40" height="85.92" fill="#ffb534" stroke="none" stroke-width="0" />
<rect x="178.00" y="539.02" width="17.40" height="21.48" fill="#1c8c1c" stroke="none" stroke-width="0" />
<rect x="195.40" y="453.10" width="26.59" height="100.24" fill="#ffb534" stroke="none" stroke-width="0" />
<rect x="195.40" y="553.34" width="26.59" height="7.16" fill="#1c8c1c" stroke="none" stroke-width="0" />
<rect x="221.99" y="546.18" width="2.74" height="14.32" fill="#ffb534" stroke="none" stroke-width="0" />
<line x1="87.27" y1="453.10" x2="87.27" y2="560.50" stroke="#5d6b3a" stroke-width="0.35" />
<line x1="141.24" y1="453.10" x2="141.24" y2="560.50" stroke="#5d6b3a" stroke-width="0.35" />
<line x1="195.40" y1="453.10" x2="195.40" y2="560.50" stroke="#5d6b3a" stroke-width="0.35" />
<rect x="58.13" y="453.30" width="155.46" height="9.10" fill="#fdebd0" stroke="none" stroke-width="0" fill-opacity="0.95"/>
<rect x="60.09" y="454.20" width="13.50" height="5.10" fill="#1c8c1c" stroke="none" stroke-width="0" />
<text x="79.25" y="459.40" font-size="6.6" text-anchor="start" fill="#111" font-family="DejaVu Sans, sans-serif" font-weight="bold" >2-SC</text>
<rect x="108.97" y="454.20" width="13.50" height="5.10" fill="#67b367" stroke="none" stroke-width="0" />
<text x="128.13" y="459.40" font-size="6.6" text-anchor="start" fill="#111" font-family="DejaVu Sans, sans-serif" font-weight="bold" >Potential</text>
<rect x="175.46" y="454.20" width="13.50" height="5.10" fill="#ffb534" stroke="none" stroke-width="0" />
<text x="194.62" y="459.40" font-size="6.6" text-anchor="start" fill="#111" font-family="DejaVu Sans, sans-serif" font-weight="bold" >1-SC</text>
<text x="50.60" y="563.80" font-size="8.1" text-anchor="end" fill="#262626" font-family="DejaVu Sans, sans-serif" >0</text>
<text x="50.60" y="528.00" font-size="8.1" text-anchor="end" fill="#262626" font-family="DejaVu Sans, sans-serif" >5</text>
<text x="50.60" y="492.20" font-size="8.1" text-anchor="end" fill="#262626" font-family="DejaVu Sans, sans-serif" >10</text>
<text x="50.60" y="456.40" font-size="8.1" text-anchor="end" fill="#262626" font-family="DejaVu Sans, sans-serif" >15</text>
<text x="65.60" y="569.30" font-size="8.1" text-anchor="middle" fill="#262626" font-family="DejaVu Sans, sans-serif" >5</text>
<text x="92.00" y="569.30" font-size="8.1" text-anchor="middle" fill="#262626" font-family="DejaVu Sans, sans-serif" >10</text>
<text x="118.40" y="569.30" font-size="8.1" text-anchor="middle" fill="#262626" font-family="DejaVu Sans, sans-serif" >15</text>
<text x="144.80" y="569.30" font-size="8.1" text-anchor="middle" fill="#262626" font-family="DejaVu Sans, sans-serif" >20</text>
<text x="171.20" y="569.30" font-size="8.1" text-anchor="middle" fill="#262626" font-family="DejaVu Sans, sans-serif" >25</text>
<text x="197.60" y="569.30" font-size="8.1" text-anchor="middle" fill="#262626" font-family="DejaVu Sans, sans-serif" >30</text>
<text x="140.80" y="578.20" font-size="8.15" text-anchor="middle" fill="#262626" font-family="DejaVu Sans, sans-serif" >Longitudinal Separation (Δ<tspan font-style="italic">α</tspan>) [ ˚ ]</text>
<text x="37.80" y="504.00" font-size="8.4" text-anchor="middle" fill="#262626" font-family="DejaVu Sans, sans-serif" transform="rotate(-90 37.80 504.00)" >Number of Events</text>
<text x="140.50" y="445.30" font-size="8.43" text-anchor="middle" fill="#262626" font-family="DejaVu Sans, sans-serif" >CMEs at Wind and STEREO-A in 2022-2025</text>
<defs><linearGradient id="jet" x1="0" y1="1" x2="0" y2="0"><stop offset="0" stop-color="#00008f"/><stop offset="0.12" stop-color="#0000ff"/><stop offset="0.37" stop-color="#00ffff"/><stop offset="0.62" stop-color="#ffff00"/><stop offset="0.87" stop-color="#ff0000"/><stop offset="1" stop-color="#800000"/></linearGradient></defs>
<path d="M161.5 608.3 A36.4 36.4 0 0 0 234.3 608.3" fill="#fff" stroke="#444" stroke-width="0.6"/>
<path d="M187.7 608.3 A10.2 10.2 0 0 0 208.1 608.3" fill="none" stroke="#e2e2e2" stroke-width="0.4"/>
<path d="M177.9 608.3 A20.0 20.0 0 0 0 217.9 608.3" fill="none" stroke="#e2e2e2" stroke-width="0.4"/>
<path d="M168.8 608.3 A29.1 29.1 0 0 0 227.0 608.3" fill="none" stroke="#e2e2e2" stroke-width="0.4"/>
<line x1="197.90" y1="608.30" x2="223.64" y2="634.04" stroke="#e2e2e2" stroke-width="0.4" />
<line x1="197.90" y1="608.30" x2="197.90" y2="644.70" stroke="#e2e2e2" stroke-width="0.4" />
<line x1="197.90" y1="608.30" x2="172.16" y2="634.04" stroke="#e2e2e2" stroke-width="0.4" />
<line x1="161.50" y1="608.30" x2="234.30" y2="608.30" stroke="#d8d8d8" stroke-width="0.4" />
<path d="M197.9 608.3 C204.9 614.3 206.9 628.3 199.70000000000002 635.9" fill="none" stroke="#2aa02a" stroke-width="0.45"/>
<path d="M199.70000000000002 635.9 C196.9 639.3 192.9 641.8 188.4 643.3" fill="none" stroke="#2aa02a" stroke-width="0.45"/>
<path d="M197.9 608.3 C207.9 615.3 208.9 629.3 202.4 635.5 C198.9 639.8 194.9 642.3 190.9 643.9" fill="none" stroke="#ee3333" stroke-width="0.45"/>
<path d="M197.9 608.3 C202.9 613.3 203.9 625.3 195.1 631.6999999999999 C188.9 636.3 179.9 637.3 172.4 634.3" fill="none" stroke="#55aaee" stroke-width="0.45"/>
<line x1="197.90" y1="608.30" x2="199.70" y2="635.90" stroke="#9ad29a" stroke-width="0.3" stroke-dasharray="0.6 0.6"/>
<line x1="197.90" y1="608.30" x2="195.10" y2="631.70" stroke="#a9d4f5" stroke-width="0.3" stroke-dasharray="0.6 0.6"/>
<circle cx="195.10" cy="631.70" r="1.3" fill="#44aaff" />
<circle cx="199.70" cy="635.90" r="1.3" fill="#1f9a1f" />
<circle cx="202.50" cy="635.40" r="1.3" fill="#f02020" />
<text x="160.60" y="609.40" font-size="1.9" text-anchor="end" fill="#444" font-family="DejaVu Sans, sans-serif" >-90°</text>
<text x="235.40" y="609.40" font-size="1.9" text-anchor="start" fill="#444" font-family="DejaVu Sans, sans-serif" >90°</text>
<text x="170.60" y="638.40" font-size="1.9" text-anchor="end" fill="#444" font-family="DejaVu Sans, sans-serif" >-45°</text>
<text x="224.60" y="638.40" font-size="1.9" text-anchor="start" fill="#444" font-family="DejaVu Sans, sans-serif" >45°</text>
<text x="197.90" y="649.40" font-size="1.9" text-anchor="middle" fill="#444" font-family="DejaVu Sans, sans-serif" >0°</text>
<text x="254.00" y="643.60" font-size="4.7" text-anchor="end" fill="#444" font-family="Liberation Serif, sans-serif" >Solar-MACH</text>
<text x="254.00" y="648.20" font-size="2.0" text-anchor="end" fill="#444" font-family="Liberation Serif, sans-serif" >solar-mach.github.io</text>
<rect x="261.50" y="614.40" width="50.00" height="22.50" fill="#fff" stroke="#dcdcdc" stroke-width="0.5" rx="1"/>
<circle cx="268.80" cy="618.90" r="2.7" fill="#f01818" />
<text x="268.80" y="620.05" font-size="3.3" text-anchor="middle" fill="#fff" font-family="DejaVu Sans, sans-serif" font-weight="bold" >1</text>
<text x="277.80" y="620.60" font-size="4.9" text-anchor="start" fill="#222" font-family="DejaVu Sans, sans-serif" >STEREO A</text>
<circle cx="268.80" cy="626.00" r="2.7" fill="#1f8f1f" />
<text x="268.80" y="627.15" font-size="3.3" text-anchor="middle" fill="#fff" font-family="DejaVu Sans, sans-serif" font-weight="bold" >2</text>
<text x="277.80" y="627.70" font-size="4.9" text-anchor="start" fill="#222" font-family="DejaVu Sans, sans-serif" >Earth</text>
<circle cx="268.80" cy="633.10" r="2.7" fill="#3d9dff" />
<text x="268.80" y="634.25" font-size="3.3" text-anchor="middle" fill="#fff" font-family="DejaVu Sans, sans-serif" font-weight="bold" >3</text>
<text x="277.80" y="634.80" font-size="4.9" text-anchor="start" fill="#222" font-family="DejaVu Sans, sans-serif" >Solar Orbiter</text>
<rect x="78.30" y="658.30" width="135.00" height="16.76" fill="#fff" stroke="#9a9a9a" stroke-width="0.45"/>
<rect x="78.30" y="675.06" width="135.00" height="1.70" fill="#d0d0d0" stroke="none" stroke-width="0" />
<rect x="78.30" y="676.76" width="135.00" height="16.76" fill="#fff" stroke="#9a9a9a" stroke-width="0.45"/>
<rect x="78.30" y="693.52" width="135.00" height="1.70" fill="#d0d0d0" stroke="none" stroke-width="0" />
<rect x="78.30" y="695.22" width="135.00" height="16.76" fill="#fff" stroke="#9a9a9a" stroke-width="0.45"/>
<rect x="78.30" y="711.98" width="135.00" height="1.70" fill="#d0d0d0" stroke="none" stroke-width="0" />
<rect x="78.30" y="713.68" width="135.00" height="16.76" fill="#fff" stroke="#9a9a9a" stroke-width="0.45"/>
<rect x="78.30" y="730.44" width="135.00" height="1.70" fill="#d0d0d0" stroke="none" stroke-width="0" />
<rect x="78.30" y="732.14" width="135.00" height="16.76" fill="#fff" stroke="#9a9a9a" stroke-width="0.45"/>
<rect x="78.30" y="748.90" width="135.00" height="1.70" fill="#d0d0d0" stroke="none" stroke-width="0" />
<rect x="78.30" y="750.60" width="135.00" height="16.76" fill="#fff" stroke="#9a9a9a" stroke-width="0.45"/>
<rect x="78.30" y="767.36" width="135.00" height="1.70" fill="#d0d0d0" stroke="none" stroke-width="0" />
<rect x="78.30" y="769.06" width="135.00" height="16.76" fill="#fff" stroke="#9a9a9a" stroke-width="0.45"/>
<rect x="78.30" y="785.82" width="135.00" height="1.70" fill="#d0d0d0" stroke="none" stroke-width="0" />
<rect x="78.30" y="787.52" width="135.00" height="16.76" fill="#fff" stroke="#9a9a9a" stroke-width="0.45"/>
<rect x="78.30" y="804.28" width="135.00" height="1.70" fill="#d0d0d0" stroke="none" stroke-width="0" />
<rect x="78.30" y="805.98" width="135.00" height="16.76" fill="#fff" stroke="#9a9a9a" stroke-width="0.45"/>
<line x1="78.30" y1="685.14" x2="213.30" y2="685.14" stroke="#999" stroke-width="0.3" stroke-dasharray="0.8 0.8"/>
<line x1="78.30" y1="703.60" x2="213.30" y2="703.60" stroke="#999" stroke-width="0.3" stroke-dasharray="0.8 0.8"/>
<line x1="78.30" y1="722.06" x2="213.30" y2="722.06" stroke="#999" stroke-width="0.3" stroke-dasharray="0.8 0.8"/>
<line x1="78.30" y1="793.72" x2="213.30" y2="793.72" stroke="#ff5a5a" stroke-width="0.4" stroke-dasharray="0.8 0.6"/>
<polyline fill="none" stroke="#0c0ce8" stroke-width="1.0" stroke-linejoin="round" points="78.3,672.6 78.8,672.6 79.3,673.0 79.8,672.3 80.3,672.8 80.8,672.3 81.3,673.2 81.8,672.9 82.3,673.2 82.8,672.8 83.3,673.0 83.8,672.8 84.3,672.7 84.8,672.9 85.3,672.6 85.8,672.8 86.3,673.1 86.8,672.9 87.3,672.8 87.8,673.4 88.3,672.9 88.8,672.7 89.3,672.9 89.8,672.8 90.3,672.8 90.8,672.8 91.3,673.4 91.8,672.9 92.3,672.9 92.8,673.0 93.3,673.4 93.8,672.8 94.3,672.7 94.8,673.5 95.3,672.5 95.8,672.8 96.3,673.0 96.8,673.4 97.3,672.4 97.8,671.8 98.3,672.4 98.8,671.9 99.3,671.8 99.8,671.8 100.3,671.5 100.8,671.4 101.3,671.0 101.8,671.2 102.3,671.1 102.8,670.6 103.3,670.4 103.8,670.5 104.3,670.3 104.8,669.8 105.3,669.8 105.8,670.0 106.3,669.6 106.8,669.4 107.3,669.9 107.8,669.7 108.3,669.7 108.8,668.0 109.3,671.3 109.8,670.0 110.3,669.0 110.8,670.7 111.3,670.1 111.8,669.8 112.3,670.8 112.8,671.9 113.3,670.4 113.8,671.3 114.3,671.8 114.8,669.0 115.3,669.4 115.8,670.6 116.3,668.4 116.8,669.7 117.3,671.1 117.8,670.9 118.3,670.5 118.8,668.3 119.3,672.1 119.8,670.5 120.3,670.7 120.8,669.9 121.3,667.1 121.8,666.5 122.3,665.9 122.8,667.9 123.3,664.6 123.8,664.3 124.3,663.4 124.8,664.0 125.3,664.1 125.8,664.1 126.3,662.9 126.8,661.4 127.3,664.5 127.8,664.8 128.3,665.9 128.8,664.8 129.3,664.6 129.8,665.7 130.3,664.3 130.8,665.1 131.3,665.5 131.8,667.1 132.3,669.1 132.8,668.2 133.3,668.6 133.8,667.8 134.3,667.8 134.8,667.2 135.3,667.3 135.8,665.4 136.3,666.5 136.8,666.5 137.3,668.4 137.8,668.3 138.3,667.9 138.8,668.0 139.3,667.7 139.8,668.0 140.3,668.2 140.8,667.8 141.3,668.1 141.8,667.8 142.3,667.6 142.8,667.9 143.3,667.8 143.8,668.0 144.3,667.9 144.8,668.1 145.3,667.6 145.8,668.5 146.3,668.4 146.8,668.0 147.3,668.0 147.8,668.2 148.3,668.3 148.8,668.3 149.3,668.3 149.8,667.9 150.3,668.1 150.8,668.6 151.3,668.4 151.8,668.1 152.3,668.2 152.8,668.1 153.3,668.3 153.8,668.7 154.3,668.5 154.8,668.8 155.3,668.6 155.8,668.3 156.3,668.5 156.8,669.1 157.3,668.5 157.8,668.5 158.3,669.0 158.8,668.8 159.3,668.8 159.8,669.1 160.3,668.5 160.8,669.0 161.3,668.7 161.8,668.7 162.3,668.8 162.8,669.3 163.3,669.0 163.8,668.7 164.3,668.9 164.8,669.4 165.3,669.4 165.8,669.0 166.3,669.7 166.8,669.2 167.3,669.0 167.8,669.3 168.3,669.5 168.8,669.7 169.3,669.6 169.8,669.3 170.3,669.3 170.8,669.2 171.3,669.5 171.8,669.4 172.3,669.6 172.8,669.4 173.3,669.5 173.8,669.5 174.3,669.5 174.8,669.5 175.3,669.5 175.8,669.5 176.3,669.9 176.8,669.9 177.3,669.6 177.8,670.0 178.3,670.0 178.8,670.3 179.3,670.0 179.8,670.0 180.3,669.9 180.8,670.1 181.3,670.2 181.8,670.2 182.3,670.1 182.8,670.3 183.3,670.2 183.8,670.3 184.3,670.1 184.8,670.4 185.3,670.1 185.8,670.1 186.3,670.5 186.8,671.4 187.3,671.0 187.8,670.7 188.3,670.7 188.8,671.2 189.3,671.5 189.8,671.5 190.3,671.0 190.8,671.2 191.3,671.1 191.8,671.1 192.3,671.0 192.8,671.3 193.3,670.6 193.8,671.1 194.3,671.8 194.8,671.3 195.3,672.0 195.8,671.3 196.3,671.8 196.8,672.2 197.3,671.6 197.8,671.8 198.3,673.2 198.8,672.0 199.3,672.1 199.8,672.2 200.3,672.5 200.8,672.6 201.3,673.0 201.8,673.0 202.3,672.5 202.8,672.5 203.3,672.1 203.8,672.0 204.3,672.3 204.8,672.9 205.3,672.7 205.8,672.9 206.3,673.0 206.8,672.5 207.3,673.4 207.8,672.3 208.3,672.3 208.8,672.3 209.3,673.0 209.8,672.4 210.3,672.2 210.8,672.6 211.3,672.9 211.8,672.4 212.3,672.3 212.8,672.8 213.3,672.8"/>
<polyline fill="none" stroke="#0c0ce8" stroke-width="1.0" stroke-linejoin="round" points="78.3,685.5 78.8,684.8 79.3,685.3 79.8,685.3 80.3,684.4 80.8,685.6 81.3,685.2 81.8,685.0 82.3,686.1 82.8,685.2 83.3,684.8 83.8,685.1 84.3,685.4 84.8,685.5 85.3,685.1 85.8,684.8 86.3,684.9 86.8,684.8 87.3,684.7 87.8,685.1 88.3,684.9 88.8,685.2 89.3,684.8 89.8,684.8 90.3,685.1 90.8,685.0 91.3,685.6 91.8,684.8 92.3,685.2 92.8,685.1 93.3,684.6 93.8,685.4 94.3,685.2 94.8,684.3 95.3,685.4 95.8,685.5 96.3,684.8 96.8,685.8 97.3,685.2 97.8,684.7 98.3,685.4 98.8,685.0 99.3,684.6 99.8,684.3 100.3,685.2 100.8,684.8 101.3,685.4 101.8,685.3 102.3,684.9 102.8,684.9 103.3,685.9 103.8,685.8 104.3,685.4 104.8,685.0 105.3,684.7 105.8,685.0 106.3,687.5 106.8,685.8 107.3,684.7 107.8,683.3 108.3,685.3 108.8,683.8 109.3,685.0 109.8,686.0 110.3,686.5 110.8,685.1 111.3,684.4 111.8,685.2 112.3,687.4 112.8,685.4 113.3,682.8 113.8,687.0 114.3,685.1 114.8,689.7 115.3,684.0 115.8,684.6 116.3,684.3 116.8,685.2 117.3,683.8 117.8,682.5 118.3,681.8 118.8,684.4 119.3,683.8 119.8,683.7 120.3,687.5 120.8,685.6 121.3,686.0 121.8,683.7 122.3,684.8 122.8,684.1 123.3,684.1 123.8,685.4 124.3,685.2 124.8,684.8 125.3,684.6 125.8,682.3 126.3,683.4 126.8,685.0 127.3,684.0 127.8,683.4 128.3,685.0 128.8,683.3 129.3,683.6 129.8,685.9 130.3,684.1 130.8,686.7 131.3,685.5 131.8,685.9 132.3,686.4 132.8,681.7 133.3,684.7 133.8,683.0 134.3,684.2 134.8,684.8 135.3,686.7 135.8,684.9 136.3,687.4 136.8,684.3 137.3,685.0 137.8,685.3 138.3,685.4 138.8,685.2 139.3,685.1 139.8,685.2 140.3,684.9 140.8,685.7 141.3,685.6 141.8,685.6 142.3,685.6 142.8,685.3 143.3,685.4 143.8,685.9 144.3,685.4 144.8,685.5 145.3,686.2 145.8,686.3 146.3,685.9 146.8,686.0 147.3,686.0 147.8,686.4 148.3,685.8 148.8,686.1 149.3,686.2 149.8,686.5 150.3,686.1 150.8,686.3 151.3,686.1 151.8,686.1 152.3,686.1 152.8,686.4 153.3,686.7 153.8,686.2 154.3,686.3 154.8,686.4 155.3,686.7 155.8,686.8 156.3,686.3 156.8,686.8 157.3,686.4 157.8,687.0 158.3,686.5 158.8,686.5 159.3,686.6 159.8,686.7 160.3,686.4 160.8,686.8 161.3,686.7 161.8,686.7 162.3,686.7 162.8,686.9 163.3,686.4 163.8,686.5 164.3,686.5 164.8,685.9 165.3,686.6 165.8,686.2 166.3,686.2 166.8,686.3 167.3,686.4 167.8,686.5 168.3,686.5 168.8,686.1 169.3,686.5 169.8,686.4 170.3,686.1 170.8,686.2 171.3,686.4 171.8,686.3 172.3,686.3 172.8,686.1 173.3,686.4 173.8,686.7 174.3,686.2 174.8,685.5 175.3,686.5 175.8,685.8 176.3,685.5 176.8,685.2 177.3,686.0 177.8,686.2 178.3,686.1 178.8,685.7 179.3,686.2 179.8,685.7 180.3,685.6 180.8,685.7 181.3,685.8 181.8,685.7 182.3,685.8 182.8,685.0 183.3,686.1 183.8,685.4 184.3,685.7 184.8,685.3 185.3,685.5 185.8,685.4 186.3,684.7 186.8,685.7 187.3,685.8 187.8,684.9 188.3,684.4 188.8,685.2 189.3,685.1 189.8,685.5 190.3,685.5 190.8,686.3 191.3,685.8 191.8,685.3 192.3,685.6 192.8,684.0 193.3,685.0 193.8,685.0 194.3,685.4 194.8,685.6 195.3,685.6 195.8,685.9 196.3,685.1 196.8,685.6 197.3,685.4 197.8,685.5 198.3,685.6 198.8,685.3 199.3,685.6 199.8,685.5 200.3,686.0 200.8,685.4 201.3,685.6 201.8,686.8 202.3,685.8 202.8,685.7 203.3,686.0 203.8,685.0 204.3,685.8 204.8,685.8 205.3,685.7 205.8,686.0 206.3,685.9 206.8,686.1 207.3,685.2 207.8,685.7 208.3,685.2 208.8,686.1 209.3,685.5 209.8,684.8 210.3,685.5 210.8,685.0 211.3,686.0 211.8,685.3 212.3,684.4 212.8,685.3 213.3,686.0"/>
<polyline fill="none" stroke="#0c0ce8" stroke-width="1.0" stroke-linejoin="round" points="78.3,703.7 78.8,703.3 79.3,703.9 79.8,703.8 80.3,704.2 80.8,704.0 81.3,703.7 81.8,703.3 82.3,703.7 82.8,703.7 83.3,703.6 83.8,703.8 84.3,703.1 84.8,703.8 85.3,703.6 85.8,703.7 86.3,703.6 86.8,703.5 87.3,703.7 87.8,703.9 88.3,703.5 88.8,703.7 89.3,703.3 89.8,703.8 90.3,703.6 90.8,703.1 91.3,704.1 91.8,703.2 92.3,703.6 92.8,703.1 93.3,702.9 93.8,703.9 94.3,703.0 94.8,702.8 95.3,703.5 95.8,703.0 96.3,703.5 96.8,704.3 97.3,703.4 97.8,703.7 98.3,703.8 98.8,703.7 99.3,703.6 99.8,704.2 100.3,703.6 100.8,703.7 101.3,703.6 101.8,703.1 102.3,703.7 102.8,703.6 103.3,703.9 103.8,703.9 104.3,704.2 104.8,702.8 105.3,703.4 105.8,703.4 106.3,702.4 106.8,704.4 107.3,703.8 107.8,704.2 108.3,701.7 108.8,702.8 109.3,704.2 109.8,703.7 110.3,703.6 110.8,704.4 111.3,704.3 111.8,703.2 112.3,707.4 112.8,704.0 113.3,706.1 113.8,706.1 114.3,706.8 114.8,704.6 115.3,704.1 115.8,706.3 116.3,706.1 116.8,702.4 117.3,702.1 117.8,705.3 118.3,705.6 118.8,705.9 119.3,707.0 119.8,705.0 120.3,710.5 120.8,707.0 121.3,706.3 121.8,703.4 122.3,698.6 122.8,700.7 123.3,698.8 123.8,701.0 124.3,700.9 124.8,702.8 125.3,701.2 125.8,702.7 126.3,704.0 126.8,703.6 127.3,704.6 127.8,706.3 128.3,708.3 128.8,705.2 129.3,706.9 129.8,704.0 130.3,705.1 130.8,706.4 131.3,706.9 131.8,704.6 132.3,707.1 132.8,706.5 133.3,708.3 133.8,707.8 134.3,707.3 134.8,706.0 135.3,707.1 135.8,705.5 136.3,705.6 136.8,704.0 137.3,702.8 137.8,700.9 138.3,701.5 138.8,701.5 139.3,701.1 139.8,701.4 140.3,701.5 140.8,701.6 141.3,701.2 141.8,701.3 142.3,701.1 142.8,701.4 143.3,700.6 143.8,701.1 144.3,700.3 144.8,701.4 145.3,701.1 145.8,700.2 146.3,700.6 146.8,700.3 147.3,700.2 147.8,700.5 148.3,700.3 148.8,700.8 149.3,700.3 149.8,700.1 150.3,700.4 150.8,700.4 151.3,700.5 151.8,700.4 152.3,699.9 152.8,700.1 153.3,700.3 153.8,700.1 154.3,700.7 154.8,700.4 155.3,700.5 155.8,700.4 156.3,700.6 156.8,700.2 157.3,701.3 157.8,700.5 158.3,700.5 158.8,700.2 159.3,700.7 159.8,700.4 160.3,700.9 160.8,701.2 161.3,701.1 161.8,700.8 162.3,701.4 162.8,701.0 163.3,701.0 163.8,701.1 164.3,701.0 164.8,701.3 165.3,700.8 165.8,700.7 166.3,701.6 166.8,701.1 167.3,701.2 167.8,701.5 168.3,701.3 168.8,701.1 169.3,701.4 169.8,701.2 170.3,701.7 170.8,701.4 171.3,701.5 171.8,701.9 172.3,701.2 172.8,701.3 173.3,702.0 173.8,702.1 174.3,701.8 174.8,701.6 175.3,702.2 175.8,702.1 176.3,702.3 176.8,701.4 177.3,702.0 177.8,701.7 178.3,701.8 178.8,702.3 179.3,702.4 179.8,702.1 180.3,702.2 180.8,702.7 181.3,702.5 181.8,702.3 182.3,702.5 182.8,702.4 183.3,702.1 183.8,702.3 184.3,702.6 184.8,702.7 185.3,702.2 185.8,702.3 186.3,702.7 186.8,702.5 187.3,704.1 187.8,704.0 188.3,704.7 188.8,703.3 189.3,704.2 189.8,705.8 190.3,704.5 190.8,704.5 191.3,705.8 191.8,706.7 192.3,706.6 192.8,705.6 193.3,706.1 193.8,705.7 194.3,705.4 194.8,705.2 195.3,705.1 195.8,705.0 196.3,704.9 196.8,704.5 197.3,703.6 197.8,702.5 198.3,703.4 198.8,702.2 199.3,703.9 199.8,702.2 200.3,701.8 200.8,701.8 201.3,702.9 201.8,702.9 202.3,703.1 202.8,702.9 203.3,702.4 203.8,703.2 204.3,702.4 204.8,702.0 205.3,703.2 205.8,703.0 206.3,702.3 206.8,702.6 207.3,703.3 207.8,703.2 208.3,702.2 208.8,703.3 209.3,701.5 209.8,702.8 210.3,702.9 210.8,702.7 211.3,702.8 211.8,702.0 212.3,702.7 212.8,703.0 213.3,702.3"/>
<polyline fill="none" stroke="#0c0ce8" stroke-width="1.0" stroke-linejoin="round" points="78.3,722.1 78.8,722.0 79.3,721.1 79.8,721.8 80.3,722.2 80.8,721.4 81.3,722.0 81.8,722.1 82.3,721.4 82.8,721.8 83.3,722.3 83.8,722.2 84.3,721.5 84.8,722.3 85.3,722.0 85.8,721.9 86.3,722.4 86.8,722.1 87.3,721.9 87.8,722.1 88.3,722.0 88.8,722.2 89.3,721.7 89.8,721.0 90.3,722.3 90.8,722.0 91.3,721.9 91.8,721.7 92.3,721.6 92.8,721.7 93.3,721.2 93.8,721.9 94.3,721.6 94.8,721.2 95.3,721.6 95.8,721.4 96.3,721.5 96.8,721.7 97.3,722.5 97.8,721.0 98.3,721.6 98.8,721.7 99.3,721.6 99.8,722.0 100.3,721.2 100.8,721.2 101.3,721.4 101.8,720.8 102.3,721.8 102.8,720.8 103.3,721.5 103.8,721.8 104.3,720.9 104.8,721.2 105.3,721.2 105.8,721.9 106.3,721.6 106.8,718.7 107.3,723.0 107.8,723.0 108.3,718.5 108.8,717.5 109.3,725.5 109.8,721.8 110.3,718.6 110.8,723.3 111.3,723.9 111.8,718.4 112.3,723.8 112.8,723.1 113.3,722.0 113.8,721.1 114.3,722.8 114.8,721.0 115.3,722.5 115.8,722.0 116.3,721.8 116.8,723.3 117.3,724.0 117.8,723.9 118.3,723.3 118.8,725.2 119.3,720.9 119.8,722.9 120.3,723.2 120.8,723.9 121.3,717.7 121.8,719.3 122.3,718.4 122.8,718.1 123.3,721.3 123.8,721.2 124.3,723.6 124.8,727.3 125.3,729.5 125.8,725.1 126.3,725.2 126.8,718.2 127.3,720.1 127.8,721.0 128.3,723.1 128.8,725.7 129.3,724.7 129.8,727.4 130.3,727.4 130.8,726.0 131.3,725.7 131.8,725.5 132.3,727.9 132.8,723.1 133.3,724.5 133.8,726.4 134.3,728.1 134.8,725.9 135.3,727.9 135.8,725.8 136.3,725.0 136.8,723.3 137.3,725.9 137.8,728.0 138.3,725.4 138.8,725.1 139.3,725.6 139.8,725.1 140.3,725.2 140.8,725.9 141.3,725.7 141.8,725.9 142.3,725.7 142.8,725.6 143.3,725.7 143.8,725.6 144.3,726.0 144.8,725.4 145.3,725.1 145.8,725.2 146.3,725.6 146.8,725.1 147.3,724.4 147.8,725.8 148.3,724.6 148.8,724.6 149.3,724.7 149.8,724.5 150.3,724.3 150.8,723.7 151.3,724.2 151.8,723.6 152.3,723.7 152.8,723.9 153.3,723.4 153.8,722.8 154.3,723.1 154.8,723.3 155.3,723.2 155.8,722.5 156.3,722.7 156.8,722.7 157.3,722.8 157.8,722.4 158.3,722.2 158.8,722.0 159.3,722.1 159.8,722.0 160.3,721.6 160.8,721.4 161.3,721.9 161.8,721.2 162.3,720.9 162.8,721.2 163.3,720.5 163.8,720.4 164.3,720.9 164.8,720.5 165.3,720.6 165.8,720.6 166.3,720.1 166.8,720.5 167.3,720.2 167.8,720.4 168.3,720.4 168.8,720.2 169.3,719.9 169.8,720.3 170.3,720.2 170.8,720.4 171.3,719.9 171.8,720.2 172.3,720.1 172.8,720.0 173.3,720.0 173.8,720.0 174.3,719.7 174.8,719.9 175.3,719.9 175.8,720.2 176.3,720.0 176.8,720.4 177.3,720.2 177.8,720.1 178.3,720.0 178.8,719.5 179.3,720.0 179.8,720.3 180.3,719.6 180.8,720.3 181.3,720.0 181.8,719.9 182.3,719.7 182.8,719.8 183.3,719.6 183.8,719.8 184.3,719.8 184.8,719.8 185.3,719.4 185.8,720.2 186.3,719.6 186.8,720.3 187.3,720.6 187.8,720.4 188.3,721.9 188.8,720.9 189.3,721.2 189.8,721.1 190.3,721.5 190.8,720.9 191.3,722.0 191.8,721.7 192.3,721.8 192.8,722.4 193.3,722.5 193.8,721.9 194.3,721.6 194.8,721.1 195.3,721.6 195.8,722.3 196.3,722.4 196.8,721.4 197.3,722.1 197.8,722.6 198.3,721.7 198.8,721.8 199.3,721.6 199.8,722.3 200.3,721.1 200.8,722.0 201.3,722.3 201.8,722.0 202.3,722.5 202.8,722.4 203.3,721.8 203.8,721.6 204.3,721.5 204.8,722.3 205.3,722.0 205.8,722.1 206.3,721.6 206.8,722.6 207.3,722.5 207.8,722.4 208.3,721.5 208.8,723.3 209.3,722.5 209.8,721.5 210.3,722.5 210.8,722.0 211.3,721.7 211.8,721.7 212.3,722.3 212.8,722.2 213.3,722.2"/>
<polyline fill="none" stroke="#0c0ce8" stroke-width="1.0" stroke-linejoin="round" points="78.3,746.3 78.8,746.1 79.3,746.5 79.8,746.3 80.3,746.4 80.8,746.6 81.3,746.9 81.8,746.3 82.3,746.7 82.8,746.3 83.3,746.7 83.8,746.7 84.3,746.5 84.8,746.6 85.3,746.3 85.8,746.4 86.3,746.8 86.8,746.8 87.3,747.2 87.8,746.3 88.3,746.4 88.8,746.6 89.3,746.6 89.8,746.5 90.3,746.5 90.8,746.6 91.3,747.0 91.8,746.6 92.3,746.4 92.8,746.7 93.3,745.9 93.8,746.4 94.3,746.5 94.8,746.8 95.3,746.0 95.8,746.6 96.3,746.4 96.8,746.9 97.3,746.6 97.8,745.9 98.3,745.9 98.8,745.2 99.3,745.3 99.8,745.1 100.3,745.1 100.8,744.4 101.3,743.6 101.8,744.2 102.3,743.7 102.8,744.1 103.3,744.4 103.8,745.3 104.3,745.0 104.8,745.6 105.3,745.6 105.8,743.6 106.3,742.9 106.8,741.3 107.3,738.3 107.8,736.9 108.3,742.5 108.8,741.7 109.3,739.6 109.8,739.7 110.3,740.4 110.8,740.0 111.3,737.4 111.8,737.6 112.3,740.4 112.8,741.2 113.3,740.8 113.8,740.6 114.3,739.6 114.8,740.9 115.3,741.7 115.8,740.4 116.3,741.4 116.8,741.4 117.3,739.0 117.8,741.5 118.3,739.1 118.8,738.9 119.3,742.2 119.8,738.1 120.3,740.0 120.8,741.5 121.3,740.9 121.8,739.9 122.3,739.3 122.8,741.2 123.3,741.3 123.8,740.5 124.3,739.5 124.8,738.9 125.3,740.8 125.8,740.8 126.3,742.0 126.8,740.6 127.3,742.2 127.8,739.5 128.3,738.9 128.8,742.4 129.3,740.7 129.8,740.2 130.3,741.2 130.8,739.9 131.3,741.0 131.8,739.8 132.3,741.8 132.8,740.9 133.3,741.6 133.8,741.7 134.3,742.3 134.8,739.7 135.3,742.1 135.8,741.6 136.3,740.6 136.8,741.7 137.3,742.7 137.8,742.8 138.3,743.7 138.8,744.0 139.3,745.5 139.8,746.6 140.3,745.0 140.8,744.5 141.3,744.4 141.8,743.9 142.3,743.9 142.8,743.6 143.3,742.8 143.8,742.5 144.3,743.1 144.8,742.5 145.3,742.8 145.8,743.4 146.3,743.2 146.8,742.8 147.3,742.6 147.8,742.9 148.3,742.7 148.8,743.7 149.3,743.8 149.8,743.7 150.3,743.7 150.8,743.4 151.3,743.7 151.8,743.7 152.3,743.7 152.8,743.5 153.3,743.3 153.8,744.0 154.3,744.1 154.8,743.5 155.3,744.1 155.8,744.3 156.3,744.7 156.8,743.8 157.3,744.1 157.8,744.3 158.3,744.5 158.8,744.7 159.3,745.8 159.8,745.0 160.3,746.8 160.8,746.0 161.3,746.4 161.8,746.2 162.3,746.8 162.8,746.7 163.3,747.1 163.8,747.1 164.3,747.3 164.8,747.3 165.3,747.7 165.8,747.2 166.3,746.9 166.8,747.9 167.3,746.8 167.8,747.2 168.3,748.0 168.8,746.7 169.3,746.8 169.8,746.6 170.3,746.4 170.8,747.2 171.3,746.7 171.8,746.8 172.3,745.9 172.8,747.0 173.3,746.3 173.8,745.7 174.3,746.3 174.8,745.8 175.3,747.3 175.8,745.7 176.3,746.6 176.8,746.0 177.3,746.0 177.8,745.8 178.3,746.9 178.8,745.8 179.3,746.0 179.8,746.4 180.3,746.1 180.8,746.5 181.3,745.8 181.8,745.4 182.3,746.3 182.8,746.6 183.3,746.3 183.8,745.6 184.3,746.5 184.8,746.3 185.3,745.7 185.8,746.2 186.3,745.9 186.8,746.0 187.3,746.4 187.8,746.6 188.3,746.1 188.8,746.1 189.3,744.5 189.8,745.6 190.3,746.5 190.8,745.7 191.3,746.5 191.8,746.2 192.3,746.4 192.8,746.4 193.3,747.3 193.8,746.8 194.3,746.5 194.8,745.7 195.3,746.8 195.8,745.8 196.3,747.4 196.8,746.2 197.3,746.2 197.8,746.6 198.3,746.1 198.8,747.1 199.3,747.0 199.8,746.4 200.3,746.5 200.8,748.1 201.3,747.7 201.8,747.3 202.3,747.2 202.8,748.0 203.3,746.8 203.8,746.9 204.3,747.0 204.8,746.5 205.3,746.6 205.8,748.5 206.3,747.4 206.8,746.7 207.3,747.2 207.8,747.0 208.3,747.1 208.8,747.4 209.3,746.5 209.8,746.3 210.3,747.4 210.8,747.4 211.3,746.8 211.8,747.6 212.3,747.3 212.8,747.8 213.3,747.6"/>
<polyline fill="none" stroke="#0c0ce8" stroke-width="1.0" stroke-linejoin="round" points="78.3,763.9 78.8,764.1 79.3,763.9 79.8,763.8 80.3,764.1 80.8,764.1 81.3,764.1 81.8,764.2 82.3,764.0 82.8,764.3 83.3,764.3 83.8,764.3 84.3,764.2 84.8,764.2 85.3,764.5 85.8,764.3 86.3,764.2 86.8,764.9 87.3,764.9 87.8,764.4 88.3,765.0 88.8,764.2 89.3,764.9 89.8,765.0 90.3,764.9 90.8,764.9 91.3,765.2 91.8,765.1 92.3,764.8 92.8,764.9 93.3,765.4 93.8,765.4 94.3,765.0 94.8,765.0 95.3,765.4 95.8,765.0 96.3,764.8 96.8,764.7 97.3,764.7 97.8,764.0 98.3,764.5 98.8,764.1 99.3,764.2 99.8,763.6 100.3,763.5 100.8,763.7 101.3,763.6 101.8,763.2 102.3,763.2 102.8,763.7 103.3,763.7 103.8,763.6 104.3,763.6 104.8,764.1 105.3,764.0 105.8,763.9 106.3,763.8 106.8,762.6 107.3,761.2 107.8,761.2 108.3,761.3 108.8,760.9 109.3,760.7 109.8,761.5 110.3,760.6 110.8,760.7 111.3,760.7 111.8,761.4 112.3,761.6 112.8,761.1 113.3,761.7 113.8,761.9 114.3,761.8 114.8,761.0 115.3,761.8 115.8,762.2 116.3,761.2 116.8,760.9 117.3,761.9 117.8,761.7 118.3,761.5 118.8,761.6 119.3,761.0 119.8,761.4 120.3,761.7 120.8,761.6 121.3,761.4 121.8,761.1 122.3,760.3 122.8,760.1 123.3,760.3 123.8,759.0 124.3,759.4 124.8,758.6 125.3,758.6 125.8,758.8 126.3,758.0 126.8,757.4 127.3,757.1 127.8,756.9 128.3,757.4 128.8,756.6 129.3,757.4 129.8,757.5 130.3,757.2 130.8,757.2 131.3,757.9 131.8,757.9 132.3,758.2 132.8,758.0 133.3,757.7 133.8,757.5 134.3,758.1 134.8,757.9 135.3,757.7 135.8,758.3 136.3,757.7 136.8,757.8 137.3,758.1 137.8,758.0 138.3,757.8 138.8,758.0 139.3,758.2 139.8,757.9 140.3,758.1 140.8,758.1 141.3,758.1 141.8,758.3 142.3,758.1 142.8,758.4 143.3,758.1 143.8,758.3 144.3,758.2 144.8,758.4 145.3,758.5 145.8,758.5 146.3,758.5 146.8,758.5 147.3,758.4 147.8,758.7 148.3,758.6 148.8,758.8 149.3,758.5 149.8,758.7 150.3,758.6 150.8,759.0 151.3,758.8 151.8,758.8 152.3,759.1 152.8,759.0 153.3,759.1 153.8,759.1 154.3,759.3 154.8,759.2 155.3,759.2 155.8,759.2 156.3,759.4 156.8,759.5 157.3,759.3 157.8,759.5 158.3,759.3 158.8,759.4 159.3,759.5 159.8,759.5 160.3,759.7 160.8,759.5 161.3,759.5 161.8,759.8 162.3,759.7 162.8,759.8 163.3,759.9 163.8,759.8 164.3,759.9 164.8,760.1 165.3,760.0 165.8,760.1 166.3,760.2 166.8,760.1 167.3,760.0 167.8,760.2 168.3,760.4 168.8,760.4 169.3,760.6 169.8,760.5 170.3,760.5 170.8,760.4 171.3,760.3 171.8,760.3 172.3,760.6 172.8,760.5 173.3,760.5 173.8,760.8 174.3,760.8 174.8,760.6 175.3,760.9 175.8,761.0 176.3,761.0 176.8,760.9 177.3,761.1 177.8,760.8 178.3,761.0 178.8,761.1 179.3,761.3 179.8,761.1 180.3,761.1 180.8,761.2 181.3,761.4 181.8,761.2 182.3,761.4 182.8,761.4 183.3,761.4 183.8,761.4 184.3,761.6 184.8,761.6 185.3,761.7 185.8,761.7 186.3,761.7 186.8,761.5 187.3,761.7 187.8,762.0 188.3,761.8 188.8,762.0 189.3,762.1 189.8,762.0 190.3,761.8 190.8,761.6 191.3,762.3 191.8,761.9 192.3,761.9 192.8,762.0 193.3,762.3 193.8,762.3 194.3,761.9 194.8,762.1 195.3,762.5 195.8,762.0 196.3,762.2 196.8,762.0 197.3,761.8 197.8,761.9 198.3,762.3 198.8,762.4 199.3,761.6 199.8,762.3 200.3,762.3 200.8,762.0 201.3,762.4 201.8,762.2 202.3,762.9 202.8,762.2 203.3,762.8 203.8,762.2 204.3,762.3 204.8,763.0 205.3,762.4 205.8,762.5 206.3,762.2 206.8,762.7 207.3,763.1 207.8,762.7 208.3,762.7 208.8,762.8 209.3,762.6 209.8,762.5 210.3,762.9 210.8,762.8 211.3,762.4 211.8,762.2 212.3,763.1 212.8,762.6 213.3,763.1"/>
<polyline fill="none" stroke="#0c0ce8" stroke-width="1.0" stroke-linejoin="round" points="78.3,784.1 78.8,783.8 79.3,783.6 79.8,783.1 80.3,784.3 80.8,784.1 81.3,783.6 81.8,783.5 82.3,784.0 82.8,783.2 83.3,784.0 83.8,784.1 84.3,783.5 84.8,783.5 85.3,784.3 85.8,783.7 86.3,783.9 86.8,783.7 87.3,783.2 87.8,784.1 88.3,784.3 88.8,783.6 89.3,783.6 89.8,784.3 90.3,783.4 90.8,783.7 91.3,783.4 91.8,783.4 92.3,783.6 92.8,783.0 93.3,783.5 93.8,783.8 94.3,783.6 94.8,783.5 95.3,784.5 95.8,784.0 96.3,783.7 96.8,784.1 97.3,784.0 97.8,783.9 98.3,784.0 98.8,783.7 99.3,783.6 99.8,784.3 100.3,783.8 100.8,784.2 101.3,783.1 101.8,783.2 102.3,783.1 102.8,783.3 103.3,783.1 103.8,783.3 104.3,783.0 104.8,782.8 105.3,782.8 105.8,782.7 106.3,782.3 106.8,780.1 107.3,780.6 107.8,781.1 108.3,780.5 108.8,781.5 109.3,780.4 109.8,780.7 110.3,780.1 110.8,780.5 111.3,781.2 111.8,781.3 112.3,781.0 112.8,780.8 113.3,780.5 113.8,779.6 114.3,780.7 114.8,779.9 115.3,780.4 115.8,780.2 116.3,780.7 116.8,779.8 117.3,780.6 117.8,780.1 118.3,781.0 118.8,780.0 119.3,779.9 119.8,778.9 120.3,780.4 120.8,779.9 121.3,778.6 121.8,780.1 122.3,780.1 122.8,779.6 123.3,780.5 123.8,779.6 124.3,779.6 124.8,779.8 125.3,778.9 125.8,779.9 126.3,779.0 126.8,779.6 127.3,780.1 127.8,779.4 128.3,779.3 128.8,780.7 129.3,779.9 129.8,780.6 130.3,780.4 130.8,780.4 131.3,781.1 131.8,780.4 132.3,779.6 132.8,780.4 133.3,780.3 133.8,780.1 134.3,780.6 134.8,781.2 135.3,781.4 135.8,781.2 136.3,781.2 136.8,781.4 137.3,781.2 137.8,781.1 138.3,781.9 138.8,783.1 139.3,782.1 139.8,783.2 140.3,784.3 140.8,783.3 141.3,784.5 141.8,784.3 142.3,785.1 142.8,783.4 143.3,783.8 143.8,785.5 144.3,786.0 144.8,784.7 145.3,785.4 145.8,783.6 146.3,785.0 146.8,784.4 147.3,784.8 147.8,783.1 148.3,784.3 148.8,784.8 149.3,785.2 149.8,784.6 150.3,784.6 150.8,785.0 151.3,785.7 151.8,783.0 152.3,782.6 152.8,784.2 153.3,785.6 153.8,785.8 154.3,784.8 154.8,783.4 155.3,784.7 155.8,783.6 156.3,784.9 156.8,784.0 157.3,785.7 157.8,783.4 158.3,785.5 158.8,783.6 159.3,784.8 159.8,784.5 160.3,783.0 160.8,782.5 161.3,784.0 161.8,783.9 162.3,783.7 162.8,784.8 163.3,784.4 163.8,784.7 164.3,783.3 164.8,784.1 165.3,784.0 165.8,785.1 166.3,785.3 166.8,783.7 167.3,784.2 167.8,782.1 168.3,786.0 168.8,784.5 169.3,784.6 169.8,784.5 170.3,784.0 170.8,782.6 171.3,783.4 171.8,783.5 172.3,784.0 172.8,783.2 173.3,784.4 173.8,784.7 174.3,784.3 174.8,784.3 175.3,786.2 175.8,783.5 176.3,783.6 176.8,784.9 177.3,783.9 177.8,785.7 178.3,783.6 178.8,784.2 179.3,785.7 179.8,782.8 180.3,785.1 180.8,784.4 181.3,784.4 181.8,785.4 182.3,783.7 182.8,784.7 183.3,783.7 183.8,785.3 184.3,783.1 184.8,784.1 185.3,783.7 185.8,783.5 186.3,784.7 186.8,783.9 187.3,784.5 187.8,782.8 188.3,783.5 188.8,783.5 189.3,784.3 189.8,783.1 190.3,784.2 190.8,784.6 191.3,784.1 191.8,784.1 192.3,783.8 192.8,783.5 193.3,784.0 193.8,784.1 194.3,784.8 194.8,784.0 195.3,783.5 195.8,784.4 196.3,783.3 196.8,782.7 197.3,783.7 197.8,783.4 198.3,784.2 198.8,783.8 199.3,783.1 199.8,783.4 200.3,783.5 200.8,785.0 201.3,783.0 201.8,783.2 202.3,784.5 202.8,784.6 203.3,783.5 203.8,784.5 204.3,783.6 204.8,783.2 205.3,783.6 205.8,784.2 206.3,784.5 206.8,783.5 207.3,782.9 207.8,783.7 208.3,783.3 208.8,783.2 209.3,783.8 209.8,783.7 210.3,782.8 210.8,783.1 211.3,784.3 211.8,783.4 212.3,784.6 212.8,782.1 213.3,782.8"/>
<polyline fill="none" stroke="#c0306a" stroke-width="0.5" stroke-linejoin="round" points="78.3,783.6 82.3,783.6 86.3,783.5 90.3,783.5 94.3,783.4 98.3,783.4 102.3,783.4 106.3,783.3 110.3,782.5 114.3,781.8 118.3,781.1 122.3,780.3 126.3,779.6 130.3,779.7 134.3,779.9 138.3,780.2 142.3,780.5 146.3,780.8 150.3,781.0 154.3,781.3 158.3,781.7 162.3,782.0 166.3,782.3 170.3,782.6 174.3,782.9 178.3,783.2 182.3,783.5 186.3,783.8 190.3,783.8 194.3,783.8 198.3,783.8 202.3,783.8 206.3,783.8 210.3,783.8"/>
<polyline fill="none" stroke="#0c0ce8" stroke-width="1.0" stroke-linejoin="round" points="78.3,792.9 78.8,792.4 79.3,793.0 79.8,792.9 80.3,792.2 80.8,793.8 81.3,793.8 81.8,792.1 82.3,792.7 82.8,792.2 83.3,792.7 83.8,792.7 84.3,792.8 84.8,793.4 85.3,793.5 85.8,792.7 86.3,793.1 86.8,793.2 87.3,792.1 87.8,792.9 88.3,792.4 88.8,793.5 89.3,793.5 89.8,793.0 90.3,793.6 90.8,792.8 91.3,792.5 91.8,793.6 92.3,792.9 92.8,793.1 93.3,792.2 93.8,793.2 94.3,792.8 94.8,792.8 95.3,792.4 95.8,792.5 96.3,792.7 96.8,793.0 97.3,793.5 97.8,792.0 98.3,792.2 98.8,792.4 99.3,792.5 99.8,792.5 100.3,792.3 100.8,792.6 101.3,793.1 101.8,792.7 102.3,792.4 102.8,793.2 103.3,793.0 103.8,792.4 104.3,793.5 104.8,792.6 105.3,792.4 105.8,793.1 106.3,791.8 106.8,790.8 107.3,791.6 107.8,790.2 108.3,789.9 108.8,790.7 109.3,790.5 109.8,789.3 110.3,790.4 110.8,791.0 111.3,790.4 111.8,791.1 112.3,790.0 112.8,791.4 113.3,790.6 113.8,790.4 114.3,790.0 114.8,791.6 115.3,790.9 115.8,790.7 116.3,791.2 116.8,790.9 117.3,790.8 117.8,791.3 118.3,790.8 118.8,791.7 119.3,792.7 119.8,790.0 120.3,791.2 120.8,791.3 121.3,792.5 121.8,791.1 122.3,794.4 122.8,794.0 123.3,795.3 123.8,795.2 124.3,794.2 124.8,794.9 125.3,796.0 125.8,795.6 126.3,794.2 126.8,794.8 127.3,795.4 127.8,795.3 128.3,794.0 128.8,794.5 129.3,794.5 129.8,793.8 130.3,793.7 130.8,794.4 131.3,793.7 131.8,793.5 132.3,794.3 132.8,794.2 133.3,793.7 133.8,792.9 134.3,792.5 134.8,792.2 135.3,792.4 135.8,793.0 136.3,791.8 136.8,792.1 137.3,792.9 137.8,794.6 138.3,795.0 138.8,798.0 139.3,798.7 139.8,798.3 140.3,799.0 140.8,801.3 141.3,799.0 141.8,800.9 142.3,798.4 142.8,799.2 143.3,799.9 143.8,799.6 144.3,797.6 144.8,798.3 145.3,799.2 145.8,797.2 146.3,800.8 146.8,798.0 147.3,798.7 147.8,801.5 148.3,798.1 148.8,798.6 149.3,798.8 149.8,797.9 150.3,796.8 150.8,796.1 151.3,797.9 151.8,797.4 152.3,799.2 152.8,798.1 153.3,798.8 153.8,797.0 154.3,797.9 154.8,798.9 155.3,798.2 155.8,799.4 156.3,798.4 156.8,798.6 157.3,799.5 157.8,797.9 158.3,802.1 158.8,798.1 159.3,801.2 159.8,801.4 160.3,799.6 160.8,800.4 161.3,801.2 161.8,800.6 162.3,801.1 162.8,800.1 163.3,801.2 163.8,800.2 164.3,799.7 164.8,800.8 165.3,801.9 165.8,801.6 166.3,801.8 166.8,801.1 167.3,801.8 167.8,800.9 168.3,801.5 168.8,801.6 169.3,800.5 169.8,802.8 170.3,798.9 170.8,801.6 171.3,800.4 171.8,801.7 172.3,799.9 172.8,801.2 173.3,799.3 173.8,799.1 174.3,799.6 174.8,799.7 175.3,798.4 175.8,800.6 176.3,798.0 176.8,798.8 177.3,799.0 177.8,798.6 178.3,799.7 178.8,797.4 179.3,799.3 179.8,799.3 180.3,797.9 180.8,799.8 181.3,795.8 181.8,796.7 182.3,795.6 182.8,793.6 183.3,794.2 183.8,796.9 184.3,795.2 184.8,793.6 185.3,796.1 185.8,794.4 186.3,795.6 186.8,795.6 187.3,798.1 187.8,793.7 188.3,796.9 188.8,800.9 189.3,797.0 189.8,797.5 190.3,797.2 190.8,798.5 191.3,798.0 191.8,798.2 192.3,796.1 192.8,797.3 193.3,797.9 193.8,797.3 194.3,797.8 194.8,798.4 195.3,798.6 195.8,797.3 196.3,797.7 196.8,796.5 197.3,796.4 197.8,797.7 198.3,795.2 198.8,798.1 199.3,795.3 199.8,796.5 200.3,795.6 200.8,795.4 201.3,797.0 201.8,794.3 202.3,798.0 202.8,794.3 203.3,797.0 203.8,795.8 204.3,795.7 204.8,796.4 205.3,797.5 205.8,796.1 206.3,795.0 206.8,795.8 207.3,796.9 207.8,794.5 208.3,795.9 208.8,797.0 209.3,794.8 209.8,795.3 210.3,796.5 210.8,794.6 211.3,795.3 211.8,794.9 212.3,795.5 212.8,793.8 213.3,793.1"/>
<path fill="#003fff" d="M78.3 805.7h1.6v2.2h-1.6zM78.3 816.3h1.6v2.2h-1.6zM79.8 809.9h1.6v2.2h-1.6zM79.8 816.3h1.6v2.2h-1.6zM81.3 814.2h1.6v2.2h-1.6zM81.3 816.3h1.6v2.2h-1.6zM82.8 812.1h1.6v2.2h-1.6zM84.3 812.1h1.6v2.2h-1.6zM85.8 807.8h1.6v2.2h-1.6zM85.8 809.9h1.6v2.2h-1.6zM85.8 814.2h1.6v2.2h-1.6zM85.8 816.3h1.6v2.2h-1.6zM87.3 805.7h1.6v2.2h-1.6zM87.3 814.2h1.6v2.2h-1.6zM88.8 805.7h1.6v2.2h-1.6zM88.8 814.2h1.6v2.2h-1.6zM90.3 807.8h1.6v2.2h-1.6zM91.8 816.3h1.6v2.2h-1.6zM93.3 816.3h1.6v2.2h-1.6zM94.8 805.7h1.6v2.2h-1.6zM94.8 812.1h1.6v2.2h-1.6zM96.3 814.2h1.6v2.2h-1.6zM97.8 805.7h1.6v2.2h-1.6zM97.8 812.1h1.6v2.2h-1.6zM97.8 816.3h1.6v2.2h-1.6zM99.3 807.8h1.6v2.2h-1.6zM99.3 816.3h1.6v2.2h-1.6zM102.3 807.8h1.6v2.2h-1.6zM103.8 809.9h1.6v2.2h-1.6zM103.8 812.1h1.6v2.2h-1.6zM103.8 816.3h1.6v2.2h-1.6zM138.3 807.8h1.6v2.2h-1.6zM138.3 809.9h1.6v2.2h-1.6zM138.3 818.5h1.6v2.2h-1.6zM139.8 809.9h1.6v2.2h-1.6zM141.3 812.1h1.6v2.2h-1.6zM141.3 818.5h1.6v2.2h-1.6zM142.8 807.8h1.6v2.2h-1.6zM142.8 816.3h1.6v2.2h-1.6zM142.8 818.5h1.6v2.2h-1.6zM144.3 818.5h1.6v2.2h-1.6zM145.8 807.8h1.6v2.2h-1.6zM145.8 809.9h1.6v2.2h-1.6zM147.3 809.9h1.6v2.2h-1.6zM147.3 812.1h1.6v2.2h-1.6zM147.3 814.2h1.6v2.2h-1.6zM147.3 816.3h1.6v2.2h-1.6zM148.8 816.3h1.6v2.2h-1.6zM150.3 818.5h1.6v2.2h-1.6zM151.8 818.5h1.6v2.2h-1.6zM153.3 809.9h1.6v2.2h-1.6zM153.3 812.1h1.6v2.2h-1.6zM153.3 816.3h1.6v2.2h-1.6zM153.3 818.5h1.6v2.2h-1.6zM154.8 814.2h1.6v2.2h-1.6zM154.8 818.5h1.6v2.2h-1.6zM156.3 814.2h1.6v2.2h-1.6zM156.3 816.3h1.6v2.2h-1.6zM157.8 807.8h1.6v2.2h-1.6zM157.8 816.3h1.6v2.2h-1.6zM157.8 818.5h1.6v2.2h-1.6zM159.3 807.8h1.6v2.2h-1.6zM159.3 809.9h1.6v2.2h-1.6zM159.3 812.1h1.6v2.2h-1.6zM160.8 809.9h1.6v2.2h-1.6zM160.8 812.1h1.6v2.2h-1.6zM160.8 818.5h1.6v2.2h-1.6zM162.3 807.8h1.6v2.2h-1.6zM162.3 809.9h1.6v2.2h-1.6zM162.3 818.5h1.6v2.2h-1.6zM163.8 812.1h1.6v2.2h-1.6zM165.3 807.8h1.6v2.2h-1.6zM165.3 812.1h1.6v2.2h-1.6zM165.3 816.3h1.6v2.2h-1.6zM165.3 818.5h1.6v2.2h-1.6zM166.8 807.8h1.6v2.2h-1.6zM168.3 807.8h1.6v2.2h-1.6zM168.3 812.1h1.6v2.2h-1.6zM169.8 814.2h1.6v2.2h-1.6zM171.3 807.8h1.6v2.2h-1.6zM171.3 809.9h1.6v2.2h-1.6zM171.3 818.5h1.6v2.2h-1.6zM172.8 814.2h1.6v2.2h-1.6zM172.8 816.3h1.6v2.2h-1.6zM174.3 818.5h1.6v2.2h-1.6zM175.8 807.8h1.6v2.2h-1.6zM177.3 807.8h1.6v2.2h-1.6zM177.3 812.1h1.6v2.2h-1.6zM178.8 809.9h1.6v2.2h-1.6zM178.8 818.5h1.6v2.2h-1.6zM180.3 812.1h1.6v2.2h-1.6zM180.3 816.3h1.6v2.2h-1.6zM184.8 807.8h1.6v2.2h-1.6zM186.3 812.1h1.6v2.2h-1.6zM186.3 814.2h1.6v2.2h-1.6zM187.8 809.9h1.6v2.2h-1.6zM187.8 812.1h1.6v2.2h-1.6zM187.8 814.2h1.6v2.2h-1.6zM189.3 807.8h1.6v2.2h-1.6zM189.3 812.1h1.6v2.2h-1.6zM190.8 807.8h1.6v2.2h-1.6zM190.8 809.9h1.6v2.2h-1.6zM190.8 812.1h1.6v2.2h-1.6zM190.8 814.2h1.6v2.2h-1.6zM190.8 816.3h1.6v2.2h-1.6zM192.3 807.8h1.6v2.2h-1.6zM193.8 805.7h1.6v2.2h-1.6zM193.8 807.8h1.6v2.2h-1.6zM193.8 809.9h1.6v2.2h-1.6zM193.8 812.1h1.6v2.2h-1.6zM193.8 816.3h1.6v2.2h-1.6zM195.3 805.7h1.6v2.2h-1.6zM195.3 807.8h1.6v2.2h-1.6zM195.3 812.1h1.6v2.2h-1.6zM195.3 814.2h1.6v2.2h-1.6zM196.8 807.8h1.6v2.2h-1.6zM196.8 809.9h1.6v2.2h-1.6zM196.8 812.1h1.6v2.2h-1.6zM196.8 816.3h1.6v2.2h-1.6zM198.3 807.8h1.6v2.2h-1.6zM198.3 809.9h1.6v2.2h-1.6zM198.3 814.2h1.6v2.2h-1.6zM198.3 816.3h1.6v2.2h-1.6zM199.8 807.8h1.6v2.2h-1.6zM199.8 814.2h1.6v2.2h-1.6zM199.8 818.5h1.6v2.2h-1.6zM201.3 812.1h1.6v2.2h-1.6zM201.3 818.5h1.6v2.2h-1.6zM202.8 809.9h1.6v2.2h-1.6zM204.3 809.9h1.6v2.2h-1.6zM204.3 814.2h1.6v2.2h-1.6zM205.8 805.7h1.6v2.2h-1.6zM205.8 807.8h1.6v2.2h-1.6zM205.8 809.9h1.6v2.2h-1.6zM207.3 809.9h1.6v2.2h-1.6zM207.3 816.3h1.6v2.2h-1.6zM207.3 818.5h1.6v2.2h-1.6zM208.8 807.8h1.6v2.2h-1.6zM208.8 812.1h1.6v2.2h-1.6zM208.8 818.5h1.6v2.2h-1.6zM210.3 805.7h1.6v2.2h-1.6zM210.3 814.2h1.6v2.2h-1.6zM210.3 818.5h1.6v2.2h-1.6zM211.8 805.7h1.6v2.2h-1.6zM211.8 812.1h1.6v2.2h-1.6zM211.8 814.2h1.6v2.2h-1.6zM211.8 816.3h1.6v2.2h-1.6z"/>
<path fill="#0000ff" d="M78.3 807.8h1.6v2.2h-1.6zM78.3 809.9h1.6v2.2h-1.6zM78.3 812.1h1.6v2.2h-1.6zM78.3 814.2h1.6v2.2h-1.6zM79.8 807.8h1.6v2.2h-1.6zM79.8 812.1h1.6v2.2h-1.6zM79.8 814.2h1.6v2.2h-1.6zM81.3 807.8h1.6v2.2h-1.6zM81.3 809.9h1.6v2.2h-1.6zM81.3 812.1h1.6v2.2h-1.6zM82.8 805.7h1.6v2.2h-1.6zM84.3 805.7h1.6v2.2h-1.6zM84.3 816.3h1.6v2.2h-1.6zM87.3 807.8h1.6v2.2h-1.6zM87.3 812.1h1.6v2.2h-1.6zM87.3 816.3h1.6v2.2h-1.6zM88.8 807.8h1.6v2.2h-1.6zM88.8 812.1h1.6v2.2h-1.6zM90.3 805.7h1.6v2.2h-1.6zM90.3 809.9h1.6v2.2h-1.6zM91.8 809.9h1.6v2.2h-1.6zM91.8 812.1h1.6v2.2h-1.6zM91.8 814.2h1.6v2.2h-1.6zM93.3 805.7h1.6v2.2h-1.6zM93.3 807.8h1.6v2.2h-1.6zM93.3 809.9h1.6v2.2h-1.6zM93.3 812.1h1.6v2.2h-1.6zM93.3 814.2h1.6v2.2h-1.6zM94.8 809.9h1.6v2.2h-1.6zM94.8 814.2h1.6v2.2h-1.6zM96.3 805.7h1.6v2.2h-1.6zM96.3 807.8h1.6v2.2h-1.6zM96.3 809.9h1.6v2.2h-1.6zM96.3 812.1h1.6v2.2h-1.6zM97.8 807.8h1.6v2.2h-1.6zM97.8 814.2h1.6v2.2h-1.6zM99.3 805.7h1.6v2.2h-1.6zM99.3 809.9h1.6v2.2h-1.6zM99.3 812.1h1.6v2.2h-1.6zM99.3 814.2h1.6v2.2h-1.6zM100.8 805.7h1.6v2.2h-1.6zM100.8 809.9h1.6v2.2h-1.6zM100.8 812.1h1.6v2.2h-1.6zM100.8 814.2h1.6v2.2h-1.6zM102.3 805.7h1.6v2.2h-1.6zM102.3 814.2h1.6v2.2h-1.6zM102.3 816.3h1.6v2.2h-1.6zM103.8 805.7h1.6v2.2h-1.6zM138.3 812.1h1.6v2.2h-1.6zM138.3 816.3h1.6v2.2h-1.6zM139.8 812.1h1.6v2.2h-1.6zM139.8 814.2h1.6v2.2h-1.6zM139.8 816.3h1.6v2.2h-1.6zM139.8 818.5h1.6v2.2h-1.6zM141.3 809.9h1.6v2.2h-1.6zM141.3 814.2h1.6v2.2h-1.6zM141.3 816.3h1.6v2.2h-1.6zM142.8 809.9h1.6v2.2h-1.6zM142.8 814.2h1.6v2.2h-1.6zM144.3 809.9h1.6v2.2h-1.6zM144.3 812.1h1.6v2.2h-1.6zM144.3 814.2h1.6v2.2h-1.6zM144.3 816.3h1.6v2.2h-1.6zM145.8 812.1h1.6v2.2h-1.6zM145.8 814.2h1.6v2.2h-1.6zM145.8 816.3h1.6v2.2h-1.6zM147.3 818.5h1.6v2.2h-1.6zM148.8 809.9h1.6v2.2h-1.6zM148.8 812.1h1.6v2.2h-1.6zM148.8 818.5h1.6v2.2h-1.6zM150.3 812.1h1.6v2.2h-1.6zM150.3 814.2h1.6v2.2h-1.6zM150.3 816.3h1.6v2.2h-1.6zM151.8 809.9h1.6v2.2h-1.6zM151.8 814.2h1.6v2.2h-1.6zM153.3 814.2h1.6v2.2h-1.6zM154.8 809.9h1.6v2.2h-1.6zM154.8 812.1h1.6v2.2h-1.6zM154.8 816.3h1.6v2.2h-1.6zM156.3 809.9h1.6v2.2h-1.6zM156.3 812.1h1.6v2.2h-1.6zM157.8 809.9h1.6v2.2h-1.6zM157.8 812.1h1.6v2.2h-1.6zM157.8 814.2h1.6v2.2h-1.6zM159.3 814.2h1.6v2.2h-1.6zM159.3 816.3h1.6v2.2h-1.6zM159.3 818.5h1.6v2.2h-1.6zM160.8 814.2h1.6v2.2h-1.6zM160.8 816.3h1.6v2.2h-1.6zM162.3 812.1h1.6v2.2h-1.6zM162.3 814.2h1.6v2.2h-1.6zM162.3 816.3h1.6v2.2h-1.6zM163.8 809.9h1.6v2.2h-1.6zM163.8 816.3h1.6v2.2h-1.6zM165.3 814.2h1.6v2.2h-1.6zM166.8 809.9h1.6v2.2h-1.6zM166.8 814.2h1.6v2.2h-1.6zM166.8 816.3h1.6v2.2h-1.6zM166.8 818.5h1.6v2.2h-1.6zM168.3 814.2h1.6v2.2h-1.6zM168.3 816.3h1.6v2.2h-1.6zM168.3 818.5h1.6v2.2h-1.6zM169.8 812.1h1.6v2.2h-1.6zM169.8 816.3h1.6v2.2h-1.6zM169.8 818.5h1.6v2.2h-1.6zM171.3 812.1h1.6v2.2h-1.6zM171.3 814.2h1.6v2.2h-1.6zM172.8 809.9h1.6v2.2h-1.6zM172.8 818.5h1.6v2.2h-1.6zM174.3 809.9h1.6v2.2h-1.6zM174.3 814.2h1.6v2.2h-1.6zM174.3 816.3h1.6v2.2h-1.6zM175.8 812.1h1.6v2.2h-1.6zM175.8 814.2h1.6v2.2h-1.6zM175.8 818.5h1.6v2.2h-1.6zM177.3 816.3h1.6v2.2h-1.6zM177.3 818.5h1.6v2.2h-1.6zM178.8 814.2h1.6v2.2h-1.6zM180.3 818.5h1.6v2.2h-1.6zM181.8 809.9h1.6v2.2h-1.6zM181.8 812.1h1.6v2.2h-1.6zM181.8 814.2h1.6v2.2h-1.6zM181.8 816.3h1.6v2.2h-1.6zM181.8 818.5h1.6v2.2h-1.6zM183.3 809.9h1.6v2.2h-1.6zM183.3 812.1h1.6v2.2h-1.6zM183.3 814.2h1.6v2.2h-1.6zM183.3 816.3h1.6v2.2h-1.6zM183.3 818.5h1.6v2.2h-1.6zM184.8 812.1h1.6v2.2h-1.6zM184.8 814.2h1.6v2.2h-1.6zM184.8 816.3h1.6v2.2h-1.6zM184.8 818.5h1.6v2.2h-1.6zM186.3 805.7h1.6v2.2h-1.6zM186.3 807.8h1.6v2.2h-1.6zM186.3 809.9h1.6v2.2h-1.6zM187.8 805.7h1.6v2.2h-1.6zM189.3 805.7h1.6v2.2h-1.6zM189.3 809.9h1.6v2.2h-1.6zM189.3 814.2h1.6v2.2h-1.6zM189.3 816.3h1.6v2.2h-1.6zM190.8 805.7h1.6v2.2h-1.6zM192.3 805.7h1.6v2.2h-1.6zM192.3 809.9h1.6v2.2h-1.6zM192.3 812.1h1.6v2.2h-1.6zM192.3 814.2h1.6v2.2h-1.6zM192.3 816.3h1.6v2.2h-1.6zM193.8 814.2h1.6v2.2h-1.6zM196.8 814.2h1.6v2.2h-1.6zM198.3 805.7h1.6v2.2h-1.6zM198.3 812.1h1.6v2.2h-1.6zM199.8 805.7h1.6v2.2h-1.6zM199.8 809.9h1.6v2.2h-1.6zM199.8 812.1h1.6v2.2h-1.6zM199.8 816.3h1.6v2.2h-1.6zM201.3 805.7h1.6v2.2h-1.6zM201.3 809.9h1.6v2.2h-1.6zM201.3 814.2h1.6v2.2h-1.6zM202.8 807.8h1.6v2.2h-1.6zM202.8 812.1h1.6v2.2h-1.6zM202.8 814.2h1.6v2.2h-1.6zM202.8 816.3h1.6v2.2h-1.6zM204.3 805.7h1.6v2.2h-1.6zM204.3 807.8h1.6v2.2h-1.6zM204.3 812.1h1.6v2.2h-1.6zM204.3 816.3h1.6v2.2h-1.6zM205.8 812.1h1.6v2.2h-1.6zM205.8 814.2h1.6v2.2h-1.6zM207.3 805.7h1.6v2.2h-1.6zM207.3 807.8h1.6v2.2h-1.6zM207.3 812.1h1.6v2.2h-1.6zM207.3 814.2h1.6v2.2h-1.6zM208.8 805.7h1.6v2.2h-1.6zM208.8 814.2h1.6v2.2h-1.6zM210.3 807.8h1.6v2.2h-1.6zM210.3 812.1h1.6v2.2h-1.6zM211.8 807.8h1.6v2.2h-1.6z"/>
<path fill="#00bfff" d="M78.3 818.5h1.6v2.2h-1.6zM79.8 818.5h1.6v2.2h-1.6zM81.3 818.5h1.6v2.2h-1.6zM84.3 818.5h1.6v2.2h-1.6zM84.3 820.6h1.6v2.2h-1.6zM88.8 818.5h1.6v2.2h-1.6zM90.3 818.5h1.6v2.2h-1.6zM91.8 818.5h1.6v2.2h-1.6zM94.8 818.5h1.6v2.2h-1.6zM94.8 820.6h1.6v2.2h-1.6zM96.3 818.5h1.6v2.2h-1.6zM96.3 820.6h1.6v2.2h-1.6zM97.8 818.5h1.6v2.2h-1.6zM99.3 818.5h1.6v2.2h-1.6zM102.3 818.5h1.6v2.2h-1.6zM103.8 820.6h1.6v2.2h-1.6zM105.3 805.7h1.6v2.2h-1.6zM105.3 807.8h1.6v2.2h-1.6zM106.8 807.8h1.6v2.2h-1.6zM106.8 812.1h1.6v2.2h-1.6zM108.3 809.9h1.6v2.2h-1.6zM108.3 812.1h1.6v2.2h-1.6zM109.8 805.7h1.6v2.2h-1.6zM109.8 807.8h1.6v2.2h-1.6zM109.8 812.1h1.6v2.2h-1.6zM111.3 805.7h1.6v2.2h-1.6zM111.3 809.9h1.6v2.2h-1.6zM111.3 812.1h1.6v2.2h-1.6zM112.8 807.8h1.6v2.2h-1.6zM112.8 812.1h1.6v2.2h-1.6zM114.3 805.7h1.6v2.2h-1.6zM115.8 805.7h1.6v2.2h-1.6zM117.3 805.7h1.6v2.2h-1.6zM117.3 807.8h1.6v2.2h-1.6zM117.3 812.1h1.6v2.2h-1.6zM118.8 807.8h1.6v2.2h-1.6zM118.8 812.1h1.6v2.2h-1.6zM120.3 807.8h1.6v2.2h-1.6zM120.3 809.9h1.6v2.2h-1.6zM120.3 812.1h1.6v2.2h-1.6zM121.8 809.9h1.6v2.2h-1.6zM121.8 812.1h1.6v2.2h-1.6zM124.8 807.8h1.6v2.2h-1.6zM126.3 807.8h1.6v2.2h-1.6zM126.3 812.1h1.6v2.2h-1.6zM127.8 805.7h1.6v2.2h-1.6zM127.8 809.9h1.6v2.2h-1.6zM127.8 812.1h1.6v2.2h-1.6zM127.8 814.2h1.6v2.2h-1.6zM129.3 805.7h1.6v2.2h-1.6zM130.8 805.7h1.6v2.2h-1.6zM130.8 812.1h1.6v2.2h-1.6zM132.3 805.7h1.6v2.2h-1.6zM133.8 805.7h1.6v2.2h-1.6zM133.8 807.8h1.6v2.2h-1.6zM133.8 809.9h1.6v2.2h-1.6zM133.8 812.1h1.6v2.2h-1.6zM133.8 814.2h1.6v2.2h-1.6zM135.3 805.7h1.6v2.2h-1.6zM135.3 814.2h1.6v2.2h-1.6zM136.8 805.7h1.6v2.2h-1.6zM136.8 807.8h1.6v2.2h-1.6zM136.8 812.1h1.6v2.2h-1.6zM136.8 814.2h1.6v2.2h-1.6zM139.8 807.8h1.6v2.2h-1.6zM139.8 820.6h1.6v2.2h-1.6zM150.3 820.6h1.6v2.2h-1.6zM151.8 820.6h1.6v2.2h-1.6zM154.8 820.6h1.6v2.2h-1.6zM159.3 820.6h1.6v2.2h-1.6zM160.8 820.6h1.6v2.2h-1.6zM162.3 820.6h1.6v2.2h-1.6zM166.8 820.6h1.6v2.2h-1.6zM174.3 820.6h1.6v2.2h-1.6zM181.8 820.6h1.6v2.2h-1.6zM183.3 820.6h1.6v2.2h-1.6zM186.3 820.6h1.6v2.2h-1.6zM189.3 818.5h1.6v2.2h-1.6zM189.3 820.6h1.6v2.2h-1.6zM190.8 820.6h1.6v2.2h-1.6zM193.8 818.5h1.6v2.2h-1.6zM193.8 820.6h1.6v2.2h-1.6zM196.8 818.5h1.6v2.2h-1.6zM202.8 820.6h1.6v2.2h-1.6zM208.8 820.6h1.6v2.2h-1.6zM210.3 820.6h1.6v2.2h-1.6zM211.8 818.5h1.6v2.2h-1.6z"/>
<path fill="#00ffff" d="M78.3 820.6h1.6v2.2h-1.6zM79.8 820.6h1.6v2.2h-1.6zM81.3 820.6h1.6v2.2h-1.6zM82.8 820.6h1.6v2.2h-1.6zM85.8 818.5h1.6v2.2h-1.6zM85.8 820.6h1.6v2.2h-1.6zM88.8 820.6h1.6v2.2h-1.6zM91.8 820.6h1.6v2.2h-1.6zM97.8 820.6h1.6v2.2h-1.6zM100.8 820.6h1.6v2.2h-1.6zM106.8 805.7h1.6v2.2h-1.6zM106.8 809.9h1.6v2.2h-1.6zM108.3 805.7h1.6v2.2h-1.6zM108.3 807.8h1.6v2.2h-1.6zM108.3 814.2h1.6v2.2h-1.6zM109.8 809.9h1.6v2.2h-1.6zM109.8 814.2h1.6v2.2h-1.6zM111.3 807.8h1.6v2.2h-1.6zM111.3 814.2h1.6v2.2h-1.6zM112.8 809.9h1.6v2.2h-1.6zM114.3 809.9h1.6v2.2h-1.6zM114.3 812.1h1.6v2.2h-1.6zM114.3 814.2h1.6v2.2h-1.6zM115.8 807.8h1.6v2.2h-1.6zM115.8 812.1h1.6v2.2h-1.6zM117.3 809.9h1.6v2.2h-1.6zM118.8 809.9h1.6v2.2h-1.6zM120.3 805.7h1.6v2.2h-1.6zM121.8 805.7h1.6v2.2h-1.6zM121.8 807.8h1.6v2.2h-1.6zM123.3 805.7h1.6v2.2h-1.6zM123.3 807.8h1.6v2.2h-1.6zM123.3 809.9h1.6v2.2h-1.6zM123.3 812.1h1.6v2.2h-1.6zM123.3 814.2h1.6v2.2h-1.6zM124.8 805.7h1.6v2.2h-1.6zM124.8 809.9h1.6v2.2h-1.6zM124.8 812.1h1.6v2.2h-1.6zM124.8 814.2h1.6v2.2h-1.6zM126.3 805.7h1.6v2.2h-1.6zM126.3 809.9h1.6v2.2h-1.6zM129.3 807.8h1.6v2.2h-1.6zM129.3 809.9h1.6v2.2h-1.6zM129.3 812.1h1.6v2.2h-1.6zM129.3 814.2h1.6v2.2h-1.6zM130.8 807.8h1.6v2.2h-1.6zM130.8 809.9h1.6v2.2h-1.6zM132.3 809.9h1.6v2.2h-1.6zM132.3 812.1h1.6v2.2h-1.6zM135.3 812.1h1.6v2.2h-1.6zM138.3 805.7h1.6v2.2h-1.6zM142.8 805.7h1.6v2.2h-1.6zM148.8 805.7h1.6v2.2h-1.6zM157.8 820.6h1.6v2.2h-1.6zM159.3 805.7h1.6v2.2h-1.6zM165.3 805.7h1.6v2.2h-1.6zM166.8 805.7h1.6v2.2h-1.6zM168.3 820.6h1.6v2.2h-1.6zM171.3 805.7h1.6v2.2h-1.6zM175.8 820.6h1.6v2.2h-1.6zM178.8 805.7h1.6v2.2h-1.6zM178.8 820.6h1.6v2.2h-1.6zM180.3 820.6h1.6v2.2h-1.6zM181.8 805.7h1.6v2.2h-1.6zM184.8 805.7h1.6v2.2h-1.6zM184.8 820.6h1.6v2.2h-1.6zM187.8 820.6h1.6v2.2h-1.6zM192.3 820.6h1.6v2.2h-1.6zM195.3 820.6h1.6v2.2h-1.6zM198.3 820.6h1.6v2.2h-1.6zM205.8 820.6h1.6v2.2h-1.6zM207.3 820.6h1.6v2.2h-1.6zM211.8 820.6h1.6v2.2h-1.6z"/>
<path fill="#0000bf" d="M79.8 805.7h1.6v2.2h-1.6zM81.3 805.7h1.6v2.2h-1.6zM82.8 807.8h1.6v2.2h-1.6zM82.8 809.9h1.6v2.2h-1.6zM82.8 814.2h1.6v2.2h-1.6zM84.3 807.8h1.6v2.2h-1.6zM84.3 809.9h1.6v2.2h-1.6zM84.3 814.2h1.6v2.2h-1.6zM85.8 805.7h1.6v2.2h-1.6zM85.8 812.1h1.6v2.2h-1.6zM87.3 809.9h1.6v2.2h-1.6zM88.8 809.9h1.6v2.2h-1.6zM90.3 812.1h1.6v2.2h-1.6zM90.3 814.2h1.6v2.2h-1.6zM91.8 805.7h1.6v2.2h-1.6zM91.8 807.8h1.6v2.2h-1.6zM94.8 807.8h1.6v2.2h-1.6zM97.8 809.9h1.6v2.2h-1.6zM100.8 807.8h1.6v2.2h-1.6zM102.3 809.9h1.6v2.2h-1.6zM102.3 812.1h1.6v2.2h-1.6zM103.8 807.8h1.6v2.2h-1.6zM103.8 814.2h1.6v2.2h-1.6zM138.3 814.2h1.6v2.2h-1.6zM142.8 812.1h1.6v2.2h-1.6zM145.8 818.5h1.6v2.2h-1.6zM148.8 814.2h1.6v2.2h-1.6zM150.3 809.9h1.6v2.2h-1.6zM151.8 812.1h1.6v2.2h-1.6zM151.8 816.3h1.6v2.2h-1.6zM156.3 818.5h1.6v2.2h-1.6zM163.8 814.2h1.6v2.2h-1.6zM165.3 809.9h1.6v2.2h-1.6zM166.8 812.1h1.6v2.2h-1.6zM168.3 809.9h1.6v2.2h-1.6zM169.8 809.9h1.6v2.2h-1.6zM171.3 816.3h1.6v2.2h-1.6zM172.8 812.1h1.6v2.2h-1.6zM174.3 812.1h1.6v2.2h-1.6zM175.8 809.9h1.6v2.2h-1.6zM175.8 816.3h1.6v2.2h-1.6zM177.3 809.9h1.6v2.2h-1.6zM177.3 814.2h1.6v2.2h-1.6zM178.8 812.1h1.6v2.2h-1.6zM178.8 816.3h1.6v2.2h-1.6zM180.3 809.9h1.6v2.2h-1.6zM180.3 814.2h1.6v2.2h-1.6zM184.8 809.9h1.6v2.2h-1.6zM187.8 807.8h1.6v2.2h-1.6zM195.3 809.9h1.6v2.2h-1.6zM196.8 805.7h1.6v2.2h-1.6zM201.3 807.8h1.6v2.2h-1.6zM202.8 805.7h1.6v2.2h-1.6zM208.8 809.9h1.6v2.2h-1.6zM210.3 809.9h1.6v2.2h-1.6zM211.8 809.9h1.6v2.2h-1.6z"/>
<path fill="#007fff" d="M82.8 816.3h1.6v2.2h-1.6zM82.8 818.5h1.6v2.2h-1.6zM87.3 818.5h1.6v2.2h-1.6zM88.8 816.3h1.6v2.2h-1.6zM90.3 816.3h1.6v2.2h-1.6zM93.3 818.5h1.6v2.2h-1.6zM94.8 816.3h1.6v2.2h-1.6zM96.3 816.3h1.6v2.2h-1.6zM100.8 816.3h1.6v2.2h-1.6zM100.8 818.5h1.6v2.2h-1.6zM103.8 818.5h1.6v2.2h-1.6zM105.3 809.9h1.6v2.2h-1.6zM105.3 812.1h1.6v2.2h-1.6zM112.8 805.7h1.6v2.2h-1.6zM114.3 807.8h1.6v2.2h-1.6zM115.8 809.9h1.6v2.2h-1.6zM118.8 805.7h1.6v2.2h-1.6zM127.8 807.8h1.6v2.2h-1.6zM132.3 807.8h1.6v2.2h-1.6zM135.3 807.8h1.6v2.2h-1.6zM135.3 809.9h1.6v2.2h-1.6zM136.8 809.9h1.6v2.2h-1.6zM138.3 820.6h1.6v2.2h-1.6zM141.3 807.8h1.6v2.2h-1.6zM141.3 820.6h1.6v2.2h-1.6zM142.8 820.6h1.6v2.2h-1.6zM144.3 807.8h1.6v2.2h-1.6zM144.3 820.6h1.6v2.2h-1.6zM145.8 820.6h1.6v2.2h-1.6zM147.3 807.8h1.6v2.2h-1.6zM147.3 820.6h1.6v2.2h-1.6zM148.8 807.8h1.6v2.2h-1.6zM148.8 820.6h1.6v2.2h-1.6zM150.3 807.8h1.6v2.2h-1.6zM151.8 807.8h1.6v2.2h-1.6zM153.3 807.8h1.6v2.2h-1.6zM153.3 820.6h1.6v2.2h-1.6zM154.8 807.8h1.6v2.2h-1.6zM156.3 807.8h1.6v2.2h-1.6zM156.3 820.6h1.6v2.2h-1.6zM160.8 807.8h1.6v2.2h-1.6zM163.8 807.8h1.6v2.2h-1.6zM163.8 818.5h1.6v2.2h-1.6zM163.8 820.6h1.6v2.2h-1.6zM165.3 820.6h1.6v2.2h-1.6zM169.8 807.8h1.6v2.2h-1.6zM169.8 820.6h1.6v2.2h-1.6zM171.3 820.6h1.6v2.2h-1.6zM172.8 807.8h1.6v2.2h-1.6zM172.8 820.6h1.6v2.2h-1.6zM174.3 807.8h1.6v2.2h-1.6zM177.3 820.6h1.6v2.2h-1.6zM178.8 807.8h1.6v2.2h-1.6zM180.3 807.8h1.6v2.2h-1.6zM181.8 807.8h1.6v2.2h-1.6zM183.3 807.8h1.6v2.2h-1.6zM186.3 816.3h1.6v2.2h-1.6zM186.3 818.5h1.6v2.2h-1.6zM187.8 816.3h1.6v2.2h-1.6zM187.8 818.5h1.6v2.2h-1.6zM190.8 818.5h1.6v2.2h-1.6zM192.3 818.5h1.6v2.2h-1.6zM195.3 816.3h1.6v2.2h-1.6zM195.3 818.5h1.6v2.2h-1.6zM196.8 820.6h1.6v2.2h-1.6zM198.3 818.5h1.6v2.2h-1.6zM199.8 820.6h1.6v2.2h-1.6zM201.3 816.3h1.6v2.2h-1.6zM201.3 820.6h1.6v2.2h-1.6zM202.8 818.5h1.6v2.2h-1.6zM204.3 818.5h1.6v2.2h-1.6zM204.3 820.6h1.6v2.2h-1.6zM205.8 816.3h1.6v2.2h-1.6zM205.8 818.5h1.6v2.2h-1.6zM208.8 816.3h1.6v2.2h-1.6zM210.3 816.3h1.6v2.2h-1.6z"/>
<path fill="#3fffbf" d="M87.3 820.6h1.6v2.2h-1.6zM90.3 820.6h1.6v2.2h-1.6zM93.3 820.6h1.6v2.2h-1.6zM99.3 820.6h1.6v2.2h-1.6zM102.3 820.6h1.6v2.2h-1.6zM105.3 814.2h1.6v2.2h-1.6zM105.3 816.3h1.6v2.2h-1.6zM106.8 814.2h1.6v2.2h-1.6zM109.8 816.3h1.6v2.2h-1.6zM111.3 816.3h1.6v2.2h-1.6zM112.8 814.2h1.6v2.2h-1.6zM114.3 816.3h1.6v2.2h-1.6zM115.8 814.2h1.6v2.2h-1.6zM117.3 814.2h1.6v2.2h-1.6zM118.8 814.2h1.6v2.2h-1.6zM120.3 814.2h1.6v2.2h-1.6zM121.8 814.2h1.6v2.2h-1.6zM124.8 816.3h1.6v2.2h-1.6zM126.3 814.2h1.6v2.2h-1.6zM127.8 816.3h1.6v2.2h-1.6zM129.3 816.3h1.6v2.2h-1.6zM130.8 814.2h1.6v2.2h-1.6zM130.8 816.3h1.6v2.2h-1.6zM132.3 814.2h1.6v2.2h-1.6zM132.3 816.3h1.6v2.2h-1.6zM136.8 816.3h1.6v2.2h-1.6zM139.8 805.7h1.6v2.2h-1.6zM144.3 805.7h1.6v2.2h-1.6zM145.8 805.7h1.6v2.2h-1.6zM147.3 805.7h1.6v2.2h-1.6zM150.3 805.7h1.6v2.2h-1.6zM153.3 805.7h1.6v2.2h-1.6zM156.3 805.7h1.6v2.2h-1.6zM157.8 805.7h1.6v2.2h-1.6zM162.3 805.7h1.6v2.2h-1.6zM172.8 805.7h1.6v2.2h-1.6zM183.3 805.7h1.6v2.2h-1.6z"/>
<path fill="#ffff00" d="M105.3 818.5h1.6v2.2h-1.6zM108.3 820.6h1.6v2.2h-1.6zM111.3 818.5h1.6v2.2h-1.6zM114.3 820.6h1.6v2.2h-1.6zM115.8 820.6h1.6v2.2h-1.6zM118.8 818.5h1.6v2.2h-1.6zM118.8 820.6h1.6v2.2h-1.6z"/>
<path fill="#ffbf00" d="M105.3 820.6h1.6v2.2h-1.6zM106.8 820.6h1.6v2.2h-1.6zM109.8 820.6h1.6v2.2h-1.6zM111.3 820.6h1.6v2.2h-1.6zM112.8 820.6h1.6v2.2h-1.6zM117.3 820.6h1.6v2.2h-1.6zM120.3 820.6h1.6v2.2h-1.6zM121.8 820.6h1.6v2.2h-1.6z"/>
<path fill="#7fff7f" d="M106.8 816.3h1.6v2.2h-1.6zM108.3 818.5h1.6v2.2h-1.6zM112.8 816.3h1.6v2.2h-1.6zM112.8 818.5h1.6v2.2h-1.6zM115.8 818.5h1.6v2.2h-1.6zM117.3 816.3h1.6v2.2h-1.6zM120.3 816.3h1.6v2.2h-1.6zM120.3 818.5h1.6v2.2h-1.6zM121.8 816.3h1.6v2.2h-1.6zM123.3 816.3h1.6v2.2h-1.6zM126.3 816.3h1.6v2.2h-1.6zM133.8 816.3h1.6v2.2h-1.6zM141.3 805.7h1.6v2.2h-1.6zM151.8 805.7h1.6v2.2h-1.6zM154.8 805.7h1.6v2.2h-1.6zM160.8 805.7h1.6v2.2h-1.6zM163.8 805.7h1.6v2.2h-1.6zM168.3 805.7h1.6v2.2h-1.6zM169.8 805.7h1.6v2.2h-1.6zM174.3 805.7h1.6v2.2h-1.6zM175.8 805.7h1.6v2.2h-1.6zM177.3 805.7h1.6v2.2h-1.6zM180.3 805.7h1.6v2.2h-1.6z"/>
<path fill="#bfff3f" d="M106.8 818.5h1.6v2.2h-1.6zM108.3 816.3h1.6v2.2h-1.6zM109.8 818.5h1.6v2.2h-1.6zM114.3 818.5h1.6v2.2h-1.6zM115.8 816.3h1.6v2.2h-1.6zM117.3 818.5h1.6v2.2h-1.6zM118.8 816.3h1.6v2.2h-1.6zM121.8 818.5h1.6v2.2h-1.6zM135.3 816.3h1.6v2.2h-1.6z"/>
<path fill="#ff7f00" d="M123.3 818.5h1.6v2.2h-1.6zM124.8 818.5h1.6v2.2h-1.6zM133.8 818.5h1.6v2.2h-1.6z"/>
<path fill="#ff0000" d="M123.3 820.6h1.6v2.2h-1.6zM126.3 818.5h1.6v2.2h-1.6zM126.3 820.6h1.6v2.2h-1.6zM127.8 818.5h1.6v2.2h-1.6zM129.3 818.5h1.6v2.2h-1.6zM130.8 820.6h1.6v2.2h-1.6z"/>
<path fill="#bf0000" d="M124.8 820.6h1.6v2.2h-1.6zM127.8 820.6h1.6v2.2h-1.6zM129.3 820.6h1.6v2.2h-1.6zM136.8 820.6h1.6v2.2h-1.6z"/>
<path fill="#ff3f00" d="M130.8 818.5h1.6v2.2h-1.6zM132.3 818.5h1.6v2.2h-1.6zM132.3 820.6h1.6v2.2h-1.6zM133.8 820.6h1.6v2.2h-1.6zM135.3 818.5h1.6v2.2h-1.6zM135.3 820.6h1.6v2.2h-1.6zM136.8 818.5h1.6v2.2h-1.6z"/>
<rect x="78.30" y="805.68" width="135.00" height="17.06" fill="none" stroke="#888" stroke-width="0.4"/>
<text x="210.80" y="821.54" font-size="4.2" text-anchor="end" fill="#fff" font-family="DejaVu Sans, sans-serif" font-weight="bold" >246 eV</text>
<line x1="106.00" y1="658.30" x2="106.00" y2="822.74" stroke="#ee2222" stroke-width="0.9" stroke-dasharray="2.6 1.1"/>
<line x1="138.10" y1="658.30" x2="138.10" y2="822.74" stroke="#ee2222" stroke-width="0.9" stroke-dasharray="2.6 1.1"/>
<line x1="185.60" y1="658.30" x2="185.60" y2="822.74" stroke="#ee2222" stroke-width="0.9" stroke-dasharray="2.6 1.1"/>
<rect x="106.00" y="644.10" width="31.40" height="10.20" fill="#d9d9d9" stroke="none" stroke-width="0" />
<rect x="140.00" y="644.10" width="47.90" height="10.20" fill="#d9d9d9" stroke="none" stroke-width="0" />
<text x="122.05" y="651.50" font-size="5.5" text-anchor="middle" fill="#222" font-family="DejaVu Sans, sans-serif" >sheath</text>
<text x="163.85" y="651.50" font-size="5.5" text-anchor="middle" fill="#222" font-family="DejaVu Sans, sans-serif" >ejecta</text>
<text x="138.10" y="657.00" font-size="2.6" text-anchor="start" fill="#ee2222" font-family="DejaVu Sans, sans-serif" font-weight="bold" >STEREO-A</text>
<text x="90.00" y="829.00" font-size="3.0" text-anchor="middle" fill="#333" font-family="DejaVu Sans, sans-serif" >14:24</text>
<text x="90.00" y="833.00" font-size="3.0" text-anchor="middle" fill="#333" font-family="DejaVu Sans, sans-serif" >11-30</text>
<text x="105.87" y="829.00" font-size="3.0" text-anchor="middle" fill="#333" font-family="DejaVu Sans, sans-serif" >00:00</text>
<text x="105.87" y="833.00" font-size="3.0" text-anchor="middle" fill="#333" font-family="DejaVu Sans, sans-serif" >12-01</text>
<text x="121.74" y="829.00" font-size="3.0" text-anchor="middle" fill="#333" font-family="DejaVu Sans, sans-serif" >09:36</text>
<text x="121.74" y="833.00" font-size="3.0" text-anchor="middle" fill="#333" font-family="DejaVu Sans, sans-serif" >12-01</text>
<text x="137.61" y="829.00" font-size="3.0" text-anchor="middle" fill="#333" font-family="DejaVu Sans, sans-serif" >19:12</text>
<text x="137.61" y="833.00" font-size="3.0" text-anchor="middle" fill="#333" font-family="DejaVu Sans, sans-serif" >12-01</text>
<text x="153.48" y="829.00" font-size="3.0" text-anchor="middle" fill="#333" font-family="DejaVu Sans, sans-serif" >04:48</text>
<text x="153.48" y="833.00" font-size="3.0" text-anchor="middle" fill="#333" font-family="DejaVu Sans, sans-serif" >12-02</text>
<text x="169.35" y="829.00" font-size="3.0" text-anchor="middle" fill="#333" font-family="DejaVu Sans, sans-serif" >14:24</text>
<text x="169.35" y="833.00" font-size="3.0" text-anchor="middle" fill="#333" font-family="DejaVu Sans, sans-serif" >12-02</text>
<text x="185.22" y="829.00" font-size="3.0" text-anchor="middle" fill="#333" font-family="DejaVu Sans, sans-serif" >00:00</text>
<text x="185.22" y="833.00" font-size="3.0" text-anchor="middle" fill="#333" font-family="DejaVu Sans, sans-serif" >12-03</text>
<text x="201.09" y="829.00" font-size="3.0" text-anchor="middle" fill="#333" font-family="DejaVu Sans, sans-serif" >09:36</text>
<text x="201.09" y="833.00" font-size="3.0" text-anchor="middle" fill="#333" font-family="DejaVu Sans, sans-serif" >12-03</text>
<rect x="216.00" y="805.18" width="2.70" height="17.56" fill="url(#jet)" stroke="none" stroke-width="0" />
<text x="221.30" y="811.85" font-size="2.6" text-anchor="middle" fill="#333" font-family="DejaVu Sans, sans-serif" transform="rotate(-90 221.30 811.85)" >2</text>
<text x="221.30" y="819.39" font-size="2.6" text-anchor="middle" fill="#333" font-family="DejaVu Sans, sans-serif" transform="rotate(-90 221.30 819.39)" >1</text>
<text x="225.60" y="814.36" font-size="3.0" text-anchor="middle" fill="#333" font-family="DejaVu Sans, sans-serif" transform="rotate(-90 225.60 814.36)" >Log F<tspan font-size="1.8" dy="0.5">PAD</tspan></text>
<rect x="232.00" y="658.30" width="134.80" height="16.76" fill="#fff" stroke="#9a9a9a" stroke-width="0.45"/>
<rect x="232.00" y="675.06" width="134.80" height="1.70" fill="#d0d0d0" stroke="none" stroke-width="0" />
<rect x="232.00" y="676.76" width="134.80" height="16.76" fill="#fff" stroke="#9a9a9a" stroke-width="0.45"/>
<rect x="232.00" y="693.52" width="134.80" height="1.70" fill="#d0d0d0" stroke="none" stroke-width="0" />
<rect x="232.00" y="695.22" width="134.80" height="16.76" fill="#fff" stroke="#9a9a9a" stroke-width="0.45"/>
<rect x="232.00" y="711.98" width="134.80" height="1.70" fill="#d0d0d0" stroke="none" stroke-width="0" />
<rect x="232.00" y="713.68" width="134.80" height="16.76" fill="#fff" stroke="#9a9a9a" stroke-width="0.45"/>
<rect x="232.00" y="730.44" width="134.80" height="1.70" fill="#d0d0d0" stroke="none" stroke-width="0" />
<rect x="232.00" y="732.14" width="134.80" height="16.76" fill="#fff" stroke="#9a9a9a" stroke-width="0.45"/>
<rect x="232.00" y="748.90" width="134.80" height="1.70" fill="#d0d0d0" stroke="none" stroke-width="0" />
<rect x="232.00" y="750.60" width="134.80" height="16.76" fill="#fff" stroke="#9a9a9a" stroke-width="0.45"/>
<rect x="232.00" y="767.36" width="134.80" height="1.70" fill="#d0d0d0" stroke="none" stroke-width="0" />
<rect x="232.00" y="769.06" width="134.80" height="16.76" fill="#fff" stroke="#9a9a9a" stroke-width="0.45"/>
<rect x="232.00" y="785.82" width="134.80" height="1.70" fill="#d0d0d0" stroke="none" stroke-width="0" />
<rect x="232.00" y="787.52" width="134.80" height="16.76" fill="#fff" stroke="#9a9a9a" stroke-width="0.45"/>
<rect x="232.00" y="804.28" width="134.80" height="1.70" fill="#d0d0d0" stroke="none" stroke-width="0" />
<rect x="232.00" y="805.98" width="134.80" height="16.76" fill="#fff" stroke="#9a9a9a" stroke-width="0.45"/>
<line x1="232.00" y1="685.14" x2="366.80" y2="685.14" stroke="#999" stroke-width="0.3" stroke-dasharray="0.8 0.8"/>
<line x1="232.00" y1="703.60" x2="366.80" y2="703.60" stroke="#999" stroke-width="0.3" stroke-dasharray="0.8 0.8"/>
<line x1="232.00" y1="722.06" x2="366.80" y2="722.06" stroke="#999" stroke-width="0.3" stroke-dasharray="0.8 0.8"/>
<line x1="232.00" y1="793.72" x2="366.80" y2="793.72" stroke="#ff5a5a" stroke-width="0.4" stroke-dasharray="0.8 0.6"/>
<polyline fill="none" stroke="#0c0ce8" stroke-width="1.0" stroke-linejoin="round" points="232.0,672.7 232.5,672.9 233.0,673.1 233.5,673.1 234.0,673.1 234.5,672.9 235.0,672.9 235.5,672.8 236.0,672.7 236.5,672.8 237.0,673.0 237.5,672.9 238.0,672.8 238.5,672.7 239.0,672.9 239.5,672.8 240.0,672.9 240.5,673.0 241.0,672.5 241.5,672.9 242.0,672.7 242.5,672.7 243.0,672.7 243.5,673.0 244.0,673.0 244.5,673.0 245.0,672.8 245.5,672.7 246.0,672.8 246.5,672.9 247.0,672.9 247.5,673.0 248.0,672.8 248.5,673.1 249.0,673.0 249.5,673.2 250.0,672.9 250.5,672.8 251.0,672.8 251.5,673.0 252.0,673.0 252.5,672.9 253.0,672.9 253.5,672.8 254.0,672.8 254.5,672.8 255.0,672.6 255.5,672.7 256.0,672.9 256.5,672.9 257.0,673.0 257.5,673.0 258.0,672.9 258.5,672.9 259.0,670.9 259.5,669.7 260.0,668.6 260.5,669.8 261.0,669.1 261.5,669.1 262.0,668.9 262.5,669.1 263.0,667.6 263.5,667.9 264.0,670.4 264.5,669.7 265.0,669.0 265.5,669.0 265.9,669.0 266.4,672.3 266.9,669.8 267.4,669.4 267.9,668.8 268.4,667.2 268.9,669.5 269.4,670.6 269.9,670.2 270.4,669.6 270.9,668.8 271.4,668.1 271.9,668.6 272.4,667.6 272.9,666.3 273.4,668.2 273.9,665.3 274.4,665.1 274.9,662.9 275.4,665.9 275.9,663.7 276.4,663.2 276.9,663.6 277.4,663.1 277.9,663.9 278.4,665.3 278.9,664.8 279.4,666.4 279.9,667.8 280.4,667.9 280.9,668.5 281.4,667.7 281.9,667.8 282.4,666.0 282.9,665.6 283.4,663.7 283.9,664.0 284.4,663.0 284.9,663.4 285.4,663.1 285.9,664.8 286.4,667.3 286.9,664.8 287.4,666.5 287.9,667.0 288.4,666.1 288.9,666.6 289.4,666.5 289.9,667.4 290.4,666.6 290.9,669.6 291.4,668.1 291.9,668.5 292.4,668.0 292.9,667.8 293.4,667.6 293.9,667.7 294.4,667.7 294.9,667.7 295.4,667.9 295.9,667.4 296.4,667.4 296.9,667.7 297.4,667.9 297.9,667.8 298.4,667.9 298.9,668.2 299.4,668.1 299.9,668.0 300.4,668.0 300.9,667.8 301.4,668.2 301.9,668.1 302.4,668.0 302.9,668.3 303.4,668.1 303.9,668.2 304.4,667.9 304.9,668.5 305.4,668.2 305.9,668.4 306.4,668.5 306.9,668.3 307.4,668.5 307.9,668.5 308.4,668.5 308.9,668.7 309.4,668.5 309.9,668.9 310.4,668.8 310.9,668.6 311.4,668.9 311.9,668.8 312.4,669.0 312.9,668.5 313.4,669.1 313.9,668.6 314.4,669.0 314.9,669.8 315.4,669.3 315.9,669.5 316.4,669.1 316.9,669.1 317.4,669.4 317.9,669.5 318.4,669.4 318.9,669.4 319.4,669.4 319.9,669.5 320.4,670.0 320.9,669.7 321.4,669.7 321.9,669.7 322.4,669.6 322.9,669.6 323.4,670.0 323.9,670.2 324.4,670.1 324.9,669.8 325.4,670.4 325.9,670.2 326.4,670.6 326.9,670.2 327.4,670.0 327.9,670.4 328.4,670.3 328.9,670.2 329.4,670.3 329.9,670.4 330.4,670.4 330.9,670.7 331.4,670.7 331.9,670.6 332.4,670.7 332.9,671.0 333.3,670.9 333.8,670.6 334.3,671.0 334.8,671.3 335.3,671.1 335.8,670.9 336.3,671.4 336.8,671.6 337.3,671.2 337.8,670.8 338.3,671.0 338.8,671.7 339.3,671.3 339.8,671.7 340.3,671.7 340.8,671.5 341.3,672.2 341.8,671.6 342.3,671.8 342.8,671.7 343.3,671.7 343.8,672.7 344.3,671.3 344.8,671.2 345.3,672.2 345.8,671.3 346.3,671.9 346.8,671.4 347.3,672.3 347.8,671.9 348.3,672.2 348.8,671.7 349.3,672.0 349.8,671.1 350.3,672.4 350.8,672.3 351.3,672.1 351.8,672.2 352.3,672.0 352.8,672.2 353.3,673.0 353.8,672.0 354.3,672.1 354.8,672.6 355.3,672.5 355.8,672.2 356.3,673.1 356.8,673.2 357.3,672.4 357.8,673.3 358.3,672.1 358.8,673.3 359.3,672.1 359.8,672.9 360.3,672.8 360.8,672.7 361.3,673.2 361.8,672.6 362.3,672.7 362.8,672.6 363.3,673.7 363.8,672.9 364.3,673.3 364.8,673.1 365.3,673.7 365.8,672.9 366.3,673.0 366.8,673.1"/>
<polyline fill="none" stroke="#0c0ce8" stroke-width="1.0" stroke-linejoin="round" points="232.0,685.2 232.5,684.9 233.0,685.3 233.5,685.4 234.0,685.6 234.5,685.4 235.0,685.7 235.5,685.0 236.0,685.0 236.5,684.9 237.0,684.9 237.5,684.6 238.0,685.3 238.5,685.2 239.0,684.3 239.5,685.1 240.0,684.9 240.5,684.8 241.0,685.0 241.5,685.6 242.0,685.2 242.5,684.4 243.0,685.3 243.5,684.8 244.0,685.8 244.5,685.0 245.0,685.1 245.5,685.1 246.0,684.8 246.5,685.0 247.0,685.1 247.5,686.0 248.0,685.2 248.5,685.4 249.0,685.2 249.5,685.2 250.0,685.3 250.5,685.7 251.0,684.0 251.5,684.9 252.0,684.8 252.5,685.5 253.0,684.8 253.5,685.5 254.0,685.6 254.5,684.9 255.0,685.4 255.5,685.0 256.0,685.5 256.5,685.4 257.0,685.6 257.5,685.5 258.0,684.8 258.5,685.7 259.0,685.2 259.5,686.7 260.0,685.3 260.5,686.5 261.0,683.5 261.5,687.0 262.0,683.7 262.5,684.9 263.0,685.7 263.5,682.9 264.0,685.6 264.5,685.0 265.0,686.1 265.5,684.8 265.9,683.5 266.4,683.4 266.9,683.7 267.4,685.1 267.9,684.6 268.4,685.7 268.9,686.9 269.4,684.4 269.9,684.1 270.4,685.3 270.9,685.3 271.4,681.7 271.9,683.8 272.4,684.7 272.9,685.4 273.4,683.9 273.9,683.1 274.4,687.4 274.9,680.2 275.4,686.5 275.9,683.5 276.4,683.9 276.9,684.4 277.4,684.8 277.9,683.0 278.4,682.4 278.9,684.8 279.4,686.1 279.9,684.0 280.4,687.6 280.9,682.7 281.4,685.6 281.9,685.2 282.4,686.4 282.9,683.1 283.4,685.5 283.9,684.5 284.4,681.5 284.9,684.1 285.4,682.7 285.9,684.3 286.4,685.7 286.9,684.7 287.4,687.4 287.9,685.8 288.4,684.1 288.9,684.5 289.4,685.5 289.9,684.0 290.4,685.8 290.9,685.9 291.4,686.5 291.9,685.4 292.4,685.2 292.9,684.9 293.4,685.3 293.9,685.3 294.4,685.4 294.9,685.5 295.4,685.2 295.9,685.4 296.4,685.3 296.9,685.2 297.4,685.1 297.9,685.3 298.4,685.8 298.9,685.0 299.4,685.9 299.9,686.0 300.4,686.1 300.9,685.8 301.4,685.8 301.9,686.3 302.4,686.2 302.9,686.6 303.4,686.0 303.9,686.0 304.4,686.5 304.9,686.1 305.4,686.2 305.9,686.7 306.4,686.6 306.9,686.3 307.4,686.6 307.9,686.5 308.4,686.8 308.9,686.7 309.4,686.3 309.9,687.1 310.4,686.7 310.9,686.7 311.4,686.6 311.9,686.8 312.4,686.7 312.9,687.0 313.4,687.0 313.9,687.1 314.4,687.0 314.9,686.6 315.4,686.5 315.9,686.4 316.4,686.9 316.9,686.4 317.4,687.1 317.9,686.6 318.4,686.5 318.9,686.6 319.4,687.0 319.9,686.5 320.4,686.4 320.9,686.1 321.4,685.9 321.9,686.2 322.4,686.7 322.9,686.5 323.4,686.1 323.9,685.6 324.4,686.6 324.9,686.3 325.4,685.6 325.9,686.1 326.4,685.8 326.9,686.4 327.4,686.3 327.9,685.9 328.4,685.4 328.9,685.9 329.4,686.8 329.9,686.1 330.4,685.8 330.9,686.2 331.4,685.8 331.9,686.4 332.4,685.3 332.9,685.7 333.3,686.3 333.8,686.1 334.3,685.9 334.8,685.3 335.3,685.7 335.8,685.9 336.3,685.5 336.8,685.6 337.3,685.9 337.8,685.5 338.3,685.7 338.8,685.5 339.3,685.2 339.8,684.8 340.3,685.2 340.8,685.1 341.3,686.0 341.8,685.5 342.3,684.5 342.8,686.2 343.3,686.7 343.8,685.3 344.3,685.8 344.8,685.4 345.3,685.9 345.8,685.6 346.3,685.7 346.8,685.5 347.3,685.2 347.8,685.3 348.3,685.1 348.8,685.2 349.3,685.3 349.8,686.8 350.3,685.9 350.8,686.4 351.3,684.7 351.8,685.4 352.3,686.0 352.8,686.1 353.3,685.7 353.8,685.3 354.3,684.8 354.8,685.6 355.3,684.7 355.8,685.6 356.3,685.2 356.8,685.1 357.3,685.1 357.8,684.7 358.3,684.8 358.8,685.6 359.3,685.1 359.8,685.0 360.3,685.9 360.8,685.7 361.3,685.6 361.8,684.7 362.3,686.0 362.8,685.7 363.3,684.9 363.8,685.2 364.3,685.9 364.8,686.1 365.3,685.3 365.8,684.9 366.3,686.1 366.8,685.2"/>
<polyline fill="none" stroke="#0c0ce8" stroke-width="1.0" stroke-linejoin="round" points="232.0,703.9 232.5,703.6 233.0,703.6 233.5,703.4 234.0,704.2 234.5,703.5 235.0,703.6 235.5,703.4 236.0,704.4 236.5,703.6 237.0,703.2 237.5,703.6 238.0,702.9 238.5,703.5 239.0,703.1 239.5,704.1 240.0,704.2 240.5,704.6 241.0,703.5 241.5,703.3 242.0,702.8 242.5,703.7 243.0,703.3 243.5,704.2 244.0,704.5 244.5,703.1 245.0,703.6 245.5,704.3 246.0,703.0 246.5,703.1 247.0,704.0 247.5,703.8 248.0,702.9 248.5,703.8 249.0,703.5 249.5,703.6 250.0,703.8 250.5,704.3 251.0,704.0 251.5,703.2 252.0,704.2 252.5,703.9 253.0,703.8 253.5,703.4 254.0,703.3 254.5,703.6 255.0,704.2 255.5,703.8 256.0,703.7 256.5,703.7 257.0,703.8 257.5,703.5 258.0,703.6 258.5,702.9 259.0,703.6 259.5,705.1 260.0,704.2 260.5,706.2 261.0,706.4 261.5,703.7 262.0,702.3 262.5,704.4 263.0,702.4 263.5,705.8 264.0,704.5 264.5,705.8 265.0,704.4 265.5,703.8 265.9,707.4 266.4,704.9 266.9,705.3 267.4,705.6 267.9,704.8 268.4,705.0 268.9,703.6 269.4,705.7 269.9,706.3 270.4,704.5 270.9,703.4 271.4,705.3 271.9,707.1 272.4,707.3 272.9,706.9 273.4,705.2 273.9,707.2 274.4,705.0 274.9,705.2 275.4,703.3 275.9,699.9 276.4,700.3 276.9,700.1 277.4,702.2 277.9,704.1 278.4,699.8 278.9,701.9 279.4,702.6 279.9,703.4 280.4,704.5 280.9,707.8 281.4,706.4 281.9,705.4 282.4,706.4 282.9,706.0 283.4,705.0 283.9,705.9 284.4,706.7 284.9,707.7 285.4,704.6 285.9,706.4 286.4,706.7 286.9,707.0 287.4,706.0 287.9,706.0 288.4,704.3 288.9,705.2 289.4,705.8 289.9,705.7 290.4,707.5 290.9,706.2 291.4,704.0 291.9,701.6 292.4,701.6 292.9,701.1 293.4,701.9 293.9,701.0 294.4,701.2 294.9,701.3 295.4,701.3 295.9,701.3 296.4,700.6 296.9,701.1 297.4,700.7 297.9,701.4 298.4,700.4 298.9,700.9 299.4,701.0 299.9,700.8 300.4,700.8 300.9,700.7 301.4,700.8 301.9,700.9 302.4,700.6 302.9,700.9 303.4,700.5 303.9,700.7 304.4,700.0 304.9,700.8 305.4,700.4 305.9,700.5 306.4,700.8 306.9,700.1 307.4,700.1 307.9,699.6 308.4,700.8 308.9,700.6 309.4,701.1 309.9,700.6 310.4,700.7 310.9,700.6 311.4,700.7 311.9,700.8 312.4,700.5 312.9,700.5 313.4,700.7 313.9,700.5 314.4,701.3 314.9,700.7 315.4,700.8 315.9,701.0 316.4,700.8 316.9,701.5 317.4,701.2 317.9,701.4 318.4,700.7 318.9,700.9 319.4,700.5 319.9,701.6 320.4,701.1 320.9,701.5 321.4,701.7 321.9,700.9 322.4,701.6 322.9,701.4 323.4,701.6 323.9,701.6 324.4,701.7 324.9,701.5 325.4,701.2 325.9,701.4 326.4,701.6 326.9,701.7 327.4,701.4 327.9,701.6 328.4,701.8 328.9,702.2 329.4,701.9 329.9,701.7 330.4,702.0 330.9,701.7 331.4,702.1 331.9,701.6 332.4,702.3 332.9,701.9 333.3,702.5 333.8,702.1 334.3,702.1 334.8,702.3 335.3,702.2 335.8,702.3 336.3,702.9 336.8,702.6 337.3,702.6 337.8,701.9 338.3,702.9 338.8,702.8 339.3,702.5 339.8,702.2 340.3,702.3 340.8,702.9 341.3,703.6 341.8,704.0 342.3,704.3 342.8,704.6 343.3,704.7 343.8,704.9 344.3,704.6 344.8,706.6 345.3,706.3 345.8,706.6 346.3,706.2 346.8,705.3 347.3,706.5 347.8,705.0 348.3,704.5 348.8,705.3 349.3,705.4 349.8,704.3 350.3,704.2 350.8,704.3 351.3,703.7 351.8,703.4 352.3,703.5 352.8,703.3 353.3,702.5 353.8,702.8 354.3,703.0 354.8,703.2 355.3,702.9 355.8,702.6 356.3,702.9 356.8,702.3 357.3,702.7 357.8,703.3 358.3,702.8 358.8,702.9 359.3,703.0 359.8,702.8 360.3,702.2 360.8,702.4 361.3,703.3 361.8,702.7 362.3,702.1 362.8,703.5 363.3,702.5 363.8,702.1 364.3,703.8 364.8,703.1 365.3,702.8 365.8,703.1 366.3,703.1 366.8,702.5"/>
<polyline fill="none" stroke="#0c0ce8" stroke-width="1.0" stroke-linejoin="round" points="232.0,722.4 232.5,721.8 233.0,721.8 233.5,721.4 234.0,722.1 234.5,722.9 235.0,721.5 235.5,721.7 236.0,722.2 236.5,722.7 237.0,721.9 237.5,722.0 238.0,721.7 238.5,721.8 239.0,722.3 239.5,721.7 240.0,722.2 240.5,722.2 241.0,721.6 241.5,721.4 242.0,721.7 242.5,721.3 243.0,721.5 243.5,721.8 244.0,721.8 244.5,721.7 245.0,720.9 245.5,721.5 246.0,721.9 246.5,722.1 247.0,721.9 247.5,720.8 248.0,721.1 248.5,721.3 249.0,721.1 249.5,720.8 250.0,721.0 250.5,721.7 251.0,721.4 251.5,721.6 252.0,721.6 252.5,722.2 253.0,721.5 253.5,721.9 254.0,721.3 254.5,721.4 255.0,720.8 255.5,721.1 256.0,721.0 256.5,721.6 257.0,721.2 257.5,721.4 258.0,721.3 258.5,721.4 259.0,720.5 259.5,722.9 260.0,719.2 260.5,721.6 261.0,722.9 261.5,720.9 262.0,724.5 262.5,722.9 263.0,721.7 263.5,720.5 264.0,720.0 264.5,722.6 265.0,721.9 265.5,722.5 265.9,722.9 266.4,721.7 266.9,722.1 267.4,723.0 267.9,720.7 268.4,721.5 268.9,721.2 269.4,722.8 269.9,721.9 270.4,723.3 270.9,721.7 271.4,720.7 271.9,722.5 272.4,721.8 272.9,721.1 273.4,722.8 273.9,722.4 274.4,720.1 274.9,720.3 275.4,719.1 275.9,718.1 276.4,717.3 276.9,718.2 277.4,722.1 277.9,724.7 278.4,728.3 278.9,727.2 279.4,724.4 279.9,721.5 280.4,718.4 280.9,718.1 281.4,718.4 281.9,720.7 282.4,723.0 282.9,723.9 283.4,727.1 283.9,726.9 284.4,727.9 284.9,727.2 285.4,724.3 285.9,727.4 286.4,727.5 286.9,726.6 287.4,725.0 287.9,726.0 288.4,727.2 288.9,726.6 289.4,726.2 289.9,725.9 290.4,726.5 290.9,724.6 291.4,725.3 291.9,724.4 292.4,725.4 292.9,724.8 293.4,725.9 293.9,725.5 294.4,726.0 294.9,725.3 295.4,725.9 295.9,725.9 296.4,725.6 296.9,725.5 297.4,725.4 297.9,725.3 298.4,725.9 298.9,726.3 299.4,725.7 299.9,725.4 300.4,725.0 300.9,725.3 301.4,725.5 301.9,725.0 302.4,725.1 302.9,724.6 303.4,723.9 303.9,724.5 304.4,724.8 304.9,723.6 305.4,725.1 305.9,724.6 306.4,723.6 306.9,723.9 307.4,723.7 307.9,723.9 308.4,723.0 308.9,722.9 309.4,722.6 309.9,722.9 310.4,722.6 310.9,722.5 311.4,722.4 311.9,722.1 312.4,722.9 312.9,722.1 313.4,722.4 313.9,722.1 314.4,721.7 314.9,721.2 315.4,721.2 315.9,721.1 316.4,721.3 316.9,721.6 317.4,720.9 317.9,720.2 318.4,720.5 318.9,720.5 319.4,720.5 319.9,719.6 320.4,720.2 320.9,720.7 321.4,720.8 321.9,720.9 322.4,720.3 322.9,720.2 323.4,720.1 323.9,719.8 324.4,719.8 324.9,720.4 325.4,720.6 325.9,720.0 326.4,719.4 326.9,720.3 327.4,719.8 327.9,719.7 328.4,719.6 328.9,719.9 329.4,720.1 329.9,719.7 330.4,719.8 330.9,720.0 331.4,719.7 331.9,719.6 332.4,719.9 332.9,720.0 333.3,719.8 333.8,719.5 334.3,719.8 334.8,719.7 335.3,720.2 335.8,719.5 336.3,719.9 336.8,719.6 337.3,719.7 337.8,720.1 338.3,720.6 338.8,719.8 339.3,719.8 339.8,720.1 340.3,720.1 340.8,719.8 341.3,719.7 341.8,720.2 342.3,720.7 342.8,721.0 343.3,720.8 343.8,720.2 344.3,721.5 344.8,721.4 345.3,721.5 345.8,722.4 346.3,723.1 346.8,722.3 347.3,722.7 347.8,720.9 348.3,722.9 348.8,721.6 349.3,721.8 349.8,722.8 350.3,722.1 350.8,722.0 351.3,723.4 351.8,722.7 352.3,723.0 352.8,722.7 353.3,721.8 353.8,722.3 354.3,721.3 354.8,722.8 355.3,721.9 355.8,721.9 356.3,722.3 356.8,721.6 357.3,722.3 357.8,721.5 358.3,722.5 358.8,721.6 359.3,721.1 359.8,723.3 360.3,722.7 360.8,722.0 361.3,721.4 361.8,722.0 362.3,721.9 362.8,721.7 363.3,722.5 363.8,721.8 364.3,722.7 364.8,722.0 365.3,723.0 365.8,721.5 366.3,722.0 366.8,722.2"/>
<polyline fill="none" stroke="#0c0ce8" stroke-width="1.0" stroke-linejoin="round" points="232.0,746.9 232.5,747.0 233.0,747.1 233.5,747.5 234.0,747.2 234.5,747.4 235.0,746.9 235.5,747.3 236.0,746.7 236.5,747.4 237.0,746.8 237.5,747.4 238.0,747.2 238.5,746.9 239.0,747.0 239.5,747.3 240.0,747.0 240.5,746.7 241.0,747.8 241.5,747.1 242.0,747.6 242.5,747.1 243.0,746.4 243.5,747.5 244.0,747.2 244.5,747.1 245.0,747.5 245.5,746.9 246.0,747.4 246.5,747.0 247.0,747.0 247.5,746.9 248.0,746.8 248.5,746.8 249.0,746.9 249.5,747.5 250.0,747.3 250.5,747.2 251.0,747.5 251.5,746.9 252.0,747.1 252.5,747.3 253.0,747.0 253.5,747.2 254.0,747.3 254.5,747.6 255.0,746.7 255.5,746.7 256.0,746.9 256.5,746.8 257.0,747.2 257.5,747.2 258.0,747.2 258.5,747.4 259.0,747.0 259.5,744.8 260.0,742.7 260.5,741.4 261.0,742.8 261.5,742.0 262.0,742.8 262.5,740.7 263.0,740.3 263.5,739.5 264.0,738.8 264.5,741.0 265.0,742.4 265.5,740.1 265.9,741.8 266.4,740.6 266.9,742.1 267.4,742.6 267.9,742.2 268.4,742.9 268.9,743.1 269.4,745.0 269.9,743.3 270.4,744.9 270.9,742.0 271.4,745.8 271.9,741.8 272.4,742.0 272.9,743.8 273.4,741.2 273.9,742.3 274.4,738.9 274.9,739.4 275.4,736.3 275.9,738.8 276.4,736.3 276.9,734.5 277.4,736.3 277.9,735.0 278.4,735.0 278.9,735.4 279.4,735.0 279.9,734.8 280.4,736.8 280.9,734.9 281.4,735.5 281.9,737.0 282.4,739.8 282.9,739.7 283.4,739.4 283.9,738.1 284.4,741.1 284.9,742.5 285.4,738.8 285.9,739.8 286.4,740.8 286.9,742.1 287.4,738.9 287.9,741.7 288.4,739.5 288.9,740.6 289.4,740.6 289.9,740.6 290.4,741.3 290.9,741.2 291.4,739.5 291.9,741.4 292.4,743.4 292.9,743.7 293.4,744.6 293.9,745.5 294.4,746.7 294.9,746.8 295.4,747.4 295.9,747.4 296.4,747.2 296.9,747.5 297.4,747.0 297.9,747.1 298.4,747.8 298.9,746.7 299.4,747.5 299.9,748.0 300.4,747.5 300.9,747.6 301.4,747.4 301.9,747.3 302.4,748.0 302.9,747.4 303.4,747.3 303.9,747.9 304.4,747.5 304.9,747.5 305.4,748.2 305.9,747.9 306.4,746.5 306.9,748.8 307.4,747.4 307.9,747.6 308.4,748.2 308.9,748.0 309.4,748.0 309.9,747.3 310.4,746.9 310.9,748.1 311.4,747.5 311.9,746.6 312.4,748.1 312.9,747.7 313.4,747.3 313.9,747.0 314.4,748.2 314.9,748.5 315.4,748.0 315.9,748.3 316.4,747.3 316.9,748.2 317.4,748.2 317.9,748.3 318.4,748.6 318.9,747.8 319.4,747.9 319.9,747.4 320.4,747.9 320.9,748.0 321.4,747.6 321.9,748.2 322.4,748.2 322.9,747.3 323.4,748.1 323.9,748.4 324.4,747.8 324.9,748.1 325.4,747.7 325.9,746.9 326.4,748.0 326.9,748.3 327.4,747.3 327.9,749.5 328.4,748.9 328.9,747.5 329.4,748.6 329.9,748.2 330.4,748.1 330.9,747.3 331.4,748.5 331.9,748.1 332.4,747.6 332.9,748.0 333.3,748.6 333.8,747.6 334.3,748.0 334.8,747.9 335.3,747.9 335.8,748.4 336.3,748.1 336.8,748.4 337.3,747.2 337.8,747.2 338.3,746.9 338.8,747.2 339.3,747.8 339.8,746.1 340.3,748.0 340.8,747.9 341.3,747.0 341.8,747.0 342.3,748.3 342.8,748.8 343.3,746.2 343.8,748.3 344.3,746.9 344.8,747.4 345.3,746.4 345.8,746.9 346.3,746.6 346.8,747.5 347.3,747.0 347.8,747.1 348.3,745.7 348.8,747.4 349.3,746.5 349.8,746.8 350.3,746.9 350.8,747.5 351.3,746.2 351.8,747.2 352.3,747.3 352.8,746.2 353.3,747.3 353.8,746.6 354.3,747.3 354.8,745.6 355.3,746.6 355.8,746.0 356.3,746.8 356.8,745.5 357.3,747.8 357.8,746.7 358.3,745.6 358.8,747.7 359.3,747.0 359.8,745.6 360.3,747.0 360.8,746.3 361.3,746.6 361.8,745.5 362.3,746.2 362.8,747.0 363.3,747.3 363.8,746.5 364.3,746.6 364.8,747.1 365.3,746.6 365.8,746.4 366.3,746.8 366.8,745.8"/>
<polyline fill="none" stroke="#0c0ce8" stroke-width="1.0" stroke-linejoin="round" points="232.0,764.1 232.5,763.4 233.0,763.7 233.5,764.0 234.0,763.8 234.5,764.2 235.0,763.7 235.5,763.9 236.0,763.5 236.5,764.3 237.0,764.4 237.5,763.9 238.0,764.2 238.5,764.5 239.0,764.4 239.5,764.4 240.0,764.9 240.5,764.6 241.0,764.4 241.5,764.9 242.0,764.8 242.5,764.3 243.0,764.6 243.5,764.6 244.0,764.8 244.5,765.0 245.0,764.7 245.5,765.0 246.0,765.1 246.5,765.1 247.0,765.0 247.5,765.0 248.0,765.2 248.5,765.3 249.0,765.0 249.5,765.0 250.0,764.7 250.5,764.8 251.0,764.0 251.5,764.6 252.0,764.2 252.5,764.1 253.0,763.6 253.5,764.0 254.0,764.0 254.5,763.5 255.0,764.0 255.5,762.9 256.0,763.9 256.5,763.4 257.0,763.6 257.5,763.7 258.0,764.1 258.5,764.1 259.0,764.0 259.5,762.9 260.0,762.0 260.5,761.4 261.0,760.9 261.5,760.8 262.0,761.3 262.5,761.5 263.0,761.4 263.5,760.9 264.0,760.7 264.5,761.6 265.0,760.7 265.5,761.1 265.9,761.4 266.4,761.7 266.9,761.6 267.4,761.2 267.9,761.2 268.4,761.3 268.9,760.7 269.4,761.9 269.9,761.6 270.4,761.6 270.9,760.9 271.4,761.5 271.9,761.9 272.4,761.8 272.9,761.7 273.4,761.0 273.9,761.3 274.4,761.1 274.9,761.5 275.4,761.2 275.9,760.2 276.4,760.1 276.9,760.0 277.4,759.5 277.9,759.1 278.4,758.4 278.9,758.5 279.4,758.3 279.9,758.2 280.4,757.4 280.9,757.6 281.4,757.6 281.9,756.9 282.4,757.4 282.9,757.4 283.4,757.6 283.9,757.1 284.4,756.7 284.9,757.5 285.4,756.8 285.9,757.4 286.4,757.6 286.9,757.4 287.4,757.8 287.9,757.4 288.4,757.2 288.9,757.6 289.4,757.6 289.9,757.6 290.4,757.2 290.9,757.7 291.4,757.6 291.9,758.4 292.4,757.7 292.9,757.9 293.4,757.9 293.9,758.0 294.4,757.9 294.9,758.1 295.4,758.2 295.9,758.0 296.4,758.2 296.9,758.3 297.4,758.3 297.9,758.3 298.4,758.5 298.9,758.3 299.4,758.4 299.9,758.4 300.4,758.6 300.9,758.4 301.4,758.5 301.9,758.6 302.4,758.5 302.9,758.8 303.4,758.7 303.9,759.1 304.4,758.8 304.9,758.6 305.4,758.8 305.9,758.8 306.4,759.0 306.9,759.1 307.4,759.2 307.9,759.2 308.4,759.2 308.9,759.1 309.4,759.1 309.9,759.2 310.4,759.1 310.9,759.1 311.4,759.3 311.9,759.3 312.4,759.6 312.9,759.4 313.4,759.7 313.9,759.5 314.4,759.6 314.9,759.5 315.4,759.6 315.9,759.8 316.4,759.7 316.9,760.0 317.4,759.9 317.9,759.8 318.4,759.8 318.9,760.0 319.4,760.0 319.9,760.1 320.4,760.2 320.9,760.0 321.4,760.2 321.9,760.2 322.4,760.3 322.9,760.2 323.4,760.5 323.9,760.3 324.4,760.4 324.9,760.5 325.4,760.6 325.9,760.4 326.4,760.7 326.9,760.6 327.4,760.6 327.9,760.6 328.4,760.8 328.9,760.9 329.4,760.7 329.9,760.8 330.4,760.9 330.9,761.0 331.4,760.9 331.9,761.1 332.4,761.3 332.9,761.0 333.3,761.3 333.8,761.1 334.3,761.2 334.8,761.1 335.3,761.4 335.8,761.3 336.3,761.4 336.8,761.3 337.3,761.4 337.8,761.6 338.3,761.7 338.8,761.7 339.3,761.4 339.8,761.4 340.3,762.0 340.8,762.3 341.3,761.9 341.8,761.3 342.3,761.5 342.8,761.9 343.3,761.4 343.8,761.6 344.3,761.9 344.8,761.9 345.3,762.4 345.8,761.6 346.3,762.2 346.8,761.8 347.3,761.8 347.8,762.6 348.3,762.3 348.8,761.9 349.3,761.9 349.8,762.3 350.3,762.3 350.8,762.4 351.3,762.2 351.8,762.4 352.3,761.9 352.8,762.0 353.3,762.1 353.8,762.3 354.3,762.4 354.8,762.7 355.3,762.6 355.8,762.7 356.3,762.7 356.8,762.9 357.3,762.5 357.8,762.4 358.3,762.7 358.8,762.8 359.3,762.8 359.8,763.3 360.3,762.6 360.8,762.7 361.3,762.5 361.8,763.1 362.3,763.0 362.8,762.7 363.3,763.0 363.8,762.8 364.3,762.9 364.8,763.4 365.3,762.7 365.8,762.8 366.3,763.2 366.8,763.3"/>
<polyline fill="none" stroke="#0c0ce8" stroke-width="1.0" stroke-linejoin="round" points="232.0,784.2 232.5,784.6 233.0,784.4 233.5,784.1 234.0,784.1 234.5,784.1 235.0,784.3 235.5,784.3 236.0,783.9 236.5,784.4 237.0,784.3 237.5,784.1 238.0,784.0 238.5,783.6 239.0,784.2 239.5,784.2 240.0,784.4 240.5,784.4 241.0,783.9 241.5,784.0 242.0,784.2 242.5,784.1 243.0,783.9 243.5,784.0 244.0,783.9 244.5,784.2 245.0,783.8 245.5,784.0 246.0,783.8 246.5,784.1 247.0,783.9 247.5,784.5 248.0,783.9 248.5,784.0 249.0,783.8 249.5,784.1 250.0,783.8 250.5,784.2 251.0,784.2 251.5,784.1 252.0,784.0 252.5,784.2 253.0,784.2 253.5,784.2 254.0,784.1 254.5,784.1 255.0,784.1 255.5,784.1 256.0,784.3 256.5,784.3 257.0,784.1 257.5,783.8 258.0,783.9 258.5,784.3 259.0,784.1 259.5,775.9 260.0,771.7 260.5,774.5 261.0,776.1 261.5,775.6 262.0,774.5 262.5,777.2 263.0,779.7 263.5,780.0 264.0,777.9 264.5,777.8 265.0,781.1 265.5,779.4 265.9,776.8 266.4,776.2 266.9,780.4 267.4,779.5 267.9,778.8 268.4,779.0 268.9,780.3 269.4,779.0 269.9,780.0 270.4,780.4 270.9,781.1 271.4,780.4 271.9,778.0 272.4,780.1 272.9,779.5 273.4,779.9 273.9,778.2 274.4,777.6 274.9,774.1 275.4,777.2 275.9,776.5 276.4,778.3 276.9,774.7 277.4,775.4 277.9,771.7 278.4,774.8 278.9,775.3 279.4,775.0 279.9,773.0 280.4,773.5 280.9,771.5 281.4,774.4 281.9,770.4 282.4,772.0 282.9,772.3 283.4,772.1 283.9,770.0 284.4,771.3 284.9,773.8 285.4,772.9 285.9,772.5 286.4,775.2 286.9,773.2 287.4,773.9 287.9,775.5 288.4,776.1 288.9,772.1 289.4,773.7 289.9,775.2 290.4,774.1 290.9,774.2 291.4,776.1 291.9,774.7 292.4,776.4 292.9,777.6 293.4,779.3 293.9,780.3 294.4,782.3 294.9,783.2 295.4,783.3 295.9,782.8 296.4,782.9 296.9,783.9 297.4,783.2 297.9,783.5 298.4,783.3 298.9,783.6 299.4,783.2 299.9,783.4 300.4,783.8 300.9,784.0 301.4,783.3 301.9,783.5 302.4,783.3 302.9,783.6 303.4,783.4 303.9,783.1 304.4,783.8 304.9,784.1 305.4,783.7 305.9,783.4 306.4,783.6 306.9,784.1 307.4,784.1 307.9,783.7 308.4,783.7 308.9,783.7 309.4,784.1 309.9,784.3 310.4,783.6 310.9,783.8 311.4,784.2 311.9,783.9 312.4,784.1 312.9,784.0 313.4,784.2 313.9,784.2 314.4,784.4 314.9,784.6 315.4,784.3 315.9,784.1 316.4,783.9 316.9,783.9 317.4,784.5 317.9,784.3 318.4,784.1 318.9,784.2 319.4,784.0 319.9,784.3 320.4,783.8 320.9,784.2 321.4,784.4 321.9,784.1 322.4,784.7 322.9,784.2 323.4,784.2 323.9,784.4 324.4,784.7 324.9,784.8 325.4,784.5 325.9,784.6 326.4,784.4 326.9,785.0 327.4,784.7 327.9,784.4 328.4,784.0 328.9,783.8 329.4,784.7 329.9,784.8 330.4,784.4 330.9,784.6 331.4,784.7 331.9,784.3 332.4,784.6 332.9,784.4 333.3,784.6 333.8,785.3 334.3,784.5 334.8,784.8 335.3,784.9 335.8,785.4 336.3,785.4 336.8,784.9 337.3,785.7 337.8,784.9 338.3,784.9 338.8,784.8 339.3,785.0 339.8,784.4 340.3,785.0 340.8,783.9 341.3,783.6 341.8,785.0 342.3,783.4 342.8,782.0 343.3,783.4 343.8,783.5 344.3,783.3 344.8,783.1 345.3,781.1 345.8,782.8 346.3,785.0 346.8,782.8 347.3,782.1 347.8,783.2 348.3,783.2 348.8,782.9 349.3,783.2 349.8,781.6 350.3,781.7 350.8,781.4 351.3,782.9 351.8,784.5 352.3,781.1 352.8,781.7 353.3,782.6 353.8,782.0 354.3,781.2 354.8,782.0 355.3,781.7 355.8,781.5 356.3,782.2 356.8,783.0 357.3,782.5 357.8,783.5 358.3,782.5 358.8,781.9 359.3,781.7 359.8,783.8 360.3,783.2 360.8,782.3 361.3,781.9 361.8,781.6 362.3,782.6 362.8,781.9 363.3,783.2 363.8,783.6 364.3,781.6 364.8,781.5 365.3,781.3 365.8,782.1 366.3,781.7 366.8,781.9"/>
<polyline fill="none" stroke="#c0306a" stroke-width="0.5" stroke-linejoin="round" points="232.0,783.6 236.0,783.6 240.0,783.5 244.0,783.5 248.0,783.4 252.0,783.4 256.0,783.3 260.0,783.1 264.0,782.4 267.9,781.7 271.9,781.0 275.9,780.3 279.9,779.6 283.9,779.7 287.9,779.9 291.9,780.2 295.9,780.5 299.9,780.7 303.9,781.0 307.9,781.3 311.9,781.6 315.9,781.9 319.9,782.3 323.9,782.6 327.9,782.9 331.9,783.2 335.8,783.5 339.8,783.8 343.8,783.8 347.8,783.8 351.8,783.8 355.8,783.8 359.8,783.8 363.8,783.8"/>
<polyline fill="none" stroke="#0c0ce8" stroke-width="1.0" stroke-linejoin="round" points="232.0,792.5 232.5,792.9 233.0,791.9 233.5,792.7 234.0,792.9 234.5,792.5 235.0,793.2 235.5,793.3 236.0,792.2 236.5,792.5 237.0,792.0 237.5,792.3 238.0,792.8 238.5,793.4 239.0,793.0 239.5,792.9 240.0,792.6 240.5,792.5 241.0,792.8 241.5,792.9 242.0,793.3 242.5,792.9 243.0,793.7 243.5,792.9 244.0,794.0 244.5,794.2 245.0,793.3 245.5,793.4 246.0,791.9 246.5,792.9 247.0,792.9 247.5,793.0 248.0,792.3 248.5,793.4 249.0,793.8 249.5,792.8 250.0,793.2 250.5,793.1 251.0,792.1 251.5,793.1 252.0,793.2 252.5,792.3 253.0,792.5 253.5,793.0 254.0,792.6 254.5,793.3 255.0,792.7 255.5,793.3 256.0,793.5 256.5,792.4 257.0,792.6 257.5,792.2 258.0,792.6 258.5,792.5 259.0,792.6 259.5,791.9 260.0,791.5 260.5,791.0 261.0,790.9 261.5,791.7 262.0,791.3 262.5,791.6 263.0,791.0 263.5,789.3 264.0,790.6 264.5,790.4 265.0,790.1 265.5,791.0 265.9,791.8 266.4,791.2 266.9,791.2 267.4,791.9 267.9,790.0 268.4,792.4 268.9,790.4 269.4,790.7 269.9,790.9 270.4,790.8 270.9,789.7 271.4,791.7 271.9,791.5 272.4,791.4 272.9,790.7 273.4,791.0 273.9,791.8 274.4,791.8 274.9,792.0 275.4,793.0 275.9,793.6 276.4,792.8 276.9,794.3 277.4,794.7 277.9,794.9 278.4,794.7 278.9,795.7 279.4,795.3 279.9,794.9 280.4,796.5 280.9,794.2 281.4,792.8 281.9,793.5 282.4,794.1 282.9,795.4 283.4,794.0 283.9,792.2 284.4,794.1 284.9,794.6 285.4,794.7 285.9,793.2 286.4,792.8 286.9,792.9 287.4,794.3 287.9,792.2 288.4,793.7 288.9,794.1 289.4,792.3 289.9,793.9 290.4,792.6 290.9,793.6 291.4,794.0 291.9,794.4 292.4,794.8 292.9,796.3 293.4,797.4 293.9,798.3 294.4,799.0 294.9,800.8 295.4,800.1 295.9,799.4 296.4,799.5 296.9,799.8 297.4,801.1 297.9,799.8 298.4,799.4 298.9,797.6 299.4,799.0 299.9,798.9 300.4,798.1 300.9,799.1 301.4,798.4 301.9,796.8 302.4,797.4 302.9,798.8 303.4,799.3 303.9,798.2 304.4,800.3 304.9,798.3 305.4,799.4 305.9,798.4 306.4,796.5 306.9,797.1 307.4,798.2 307.9,799.3 308.4,797.5 308.9,799.0 309.4,798.3 309.9,797.9 310.4,799.7 310.9,800.2 311.4,801.1 311.9,800.8 312.4,798.9 312.9,799.2 313.4,800.7 313.9,798.9 314.4,800.7 314.9,800.9 315.4,800.5 315.9,799.4 316.4,799.7 316.9,799.8 317.4,801.7 317.9,801.2 318.4,800.0 318.9,801.7 319.4,802.9 319.9,799.6 320.4,799.6 320.9,801.3 321.4,802.1 321.9,800.8 322.4,801.6 322.9,801.0 323.4,801.4 323.9,802.0 324.4,800.7 324.9,800.6 325.4,802.1 325.9,800.2 326.4,800.8 326.9,799.2 327.4,801.3 327.9,798.8 328.4,799.8 328.9,798.4 329.4,798.1 329.9,800.5 330.4,799.7 330.9,799.7 331.4,797.8 331.9,799.4 332.4,799.4 332.9,798.8 333.3,798.1 333.8,800.0 334.3,798.6 334.8,795.6 335.3,798.9 335.8,795.2 336.3,798.1 336.8,796.3 337.3,797.2 337.8,797.3 338.3,795.5 338.8,796.6 339.3,797.1 339.8,796.2 340.3,796.6 340.8,796.3 341.3,795.9 341.8,797.1 342.3,796.3 342.8,799.1 343.3,795.2 343.8,796.7 344.3,798.3 344.8,798.5 345.3,796.8 345.8,797.3 346.3,796.5 346.8,798.2 347.3,798.1 347.8,794.1 348.3,796.6 348.8,794.4 349.3,796.0 349.8,796.9 350.3,797.7 350.8,797.0 351.3,798.1 351.8,795.1 352.3,796.7 352.8,796.4 353.3,796.1 353.8,796.3 354.3,797.1 354.8,797.9 355.3,794.3 355.8,795.3 356.3,793.7 356.8,796.1 357.3,797.6 357.8,794.7 358.3,797.1 358.8,796.9 359.3,796.9 359.8,796.1 360.3,796.0 360.8,794.7 361.3,797.4 361.8,794.5 362.3,794.7 362.8,795.1 363.3,794.2 363.8,797.5 364.3,795.4 364.8,793.9 365.3,794.4 365.8,796.3 366.3,794.9 366.8,795.3"/>
<path fill="#0000bf" d="M232.0 805.7h1.6v2.2h-1.6zM232.0 812.1h1.6v2.2h-1.6zM233.5 805.7h1.6v2.2h-1.6zM233.5 809.9h1.6v2.2h-1.6zM233.5 812.1h1.6v2.2h-1.6zM235.0 807.8h1.6v2.2h-1.6zM235.0 809.9h1.6v2.2h-1.6zM235.0 814.2h1.6v2.2h-1.6zM236.5 809.9h1.6v2.2h-1.6zM236.5 812.1h1.6v2.2h-1.6zM236.5 814.2h1.6v2.2h-1.6zM238.0 805.7h1.6v2.2h-1.6zM238.0 812.1h1.6v2.2h-1.6zM239.5 807.8h1.6v2.2h-1.6zM241.0 807.8h1.6v2.2h-1.6zM241.0 809.9h1.6v2.2h-1.6zM241.0 812.1h1.6v2.2h-1.6zM242.5 812.1h1.6v2.2h-1.6zM244.0 807.8h1.6v2.2h-1.6zM244.0 814.2h1.6v2.2h-1.6zM245.5 805.7h1.6v2.2h-1.6zM245.5 809.9h1.6v2.2h-1.6zM245.5 814.2h1.6v2.2h-1.6zM247.0 807.8h1.6v2.2h-1.6zM247.0 812.1h1.6v2.2h-1.6zM247.0 814.2h1.6v2.2h-1.6zM248.5 807.8h1.6v2.2h-1.6zM248.5 809.9h1.6v2.2h-1.6zM250.0 805.7h1.6v2.2h-1.6zM250.0 807.8h1.6v2.2h-1.6zM250.0 809.9h1.6v2.2h-1.6zM250.0 814.2h1.6v2.2h-1.6zM251.5 809.9h1.6v2.2h-1.6zM251.5 812.1h1.6v2.2h-1.6zM251.5 814.2h1.6v2.2h-1.6zM253.0 807.8h1.6v2.2h-1.6zM253.0 809.9h1.6v2.2h-1.6zM254.5 805.7h1.6v2.2h-1.6zM254.5 807.8h1.6v2.2h-1.6zM256.0 814.2h1.6v2.2h-1.6zM257.5 814.2h1.6v2.2h-1.6zM291.9 809.9h1.6v2.2h-1.6zM291.9 812.1h1.6v2.2h-1.6zM291.9 814.2h1.6v2.2h-1.6zM293.4 809.9h1.6v2.2h-1.6zM293.4 812.1h1.6v2.2h-1.6zM294.9 809.9h1.6v2.2h-1.6zM294.9 818.5h1.6v2.2h-1.6zM296.4 809.9h1.6v2.2h-1.6zM296.4 812.1h1.6v2.2h-1.6zM296.4 816.3h1.6v2.2h-1.6zM296.4 818.5h1.6v2.2h-1.6zM297.9 809.9h1.6v2.2h-1.6zM297.9 814.2h1.6v2.2h-1.6zM299.4 809.9h1.6v2.2h-1.6zM299.4 812.1h1.6v2.2h-1.6zM299.4 814.2h1.6v2.2h-1.6zM300.9 812.1h1.6v2.2h-1.6zM300.9 814.2h1.6v2.2h-1.6zM302.4 814.2h1.6v2.2h-1.6zM302.4 816.3h1.6v2.2h-1.6zM303.9 812.1h1.6v2.2h-1.6zM303.9 814.2h1.6v2.2h-1.6zM303.9 818.5h1.6v2.2h-1.6zM305.4 812.1h1.6v2.2h-1.6zM305.4 814.2h1.6v2.2h-1.6zM305.4 816.3h1.6v2.2h-1.6zM306.9 809.9h1.6v2.2h-1.6zM306.9 812.1h1.6v2.2h-1.6zM308.4 812.1h1.6v2.2h-1.6zM308.4 814.2h1.6v2.2h-1.6zM308.4 816.3h1.6v2.2h-1.6zM309.9 814.2h1.6v2.2h-1.6zM309.9 816.3h1.6v2.2h-1.6zM311.4 809.9h1.6v2.2h-1.6zM311.4 812.1h1.6v2.2h-1.6zM311.4 814.2h1.6v2.2h-1.6zM312.9 809.9h1.6v2.2h-1.6zM314.4 812.1h1.6v2.2h-1.6zM314.4 818.5h1.6v2.2h-1.6zM315.9 809.9h1.6v2.2h-1.6zM315.9 816.3h1.6v2.2h-1.6zM317.4 814.2h1.6v2.2h-1.6zM317.4 816.3h1.6v2.2h-1.6zM318.9 816.3h1.6v2.2h-1.6zM318.9 818.5h1.6v2.2h-1.6zM320.4 809.9h1.6v2.2h-1.6zM320.4 816.3h1.6v2.2h-1.6zM321.9 812.1h1.6v2.2h-1.6zM321.9 814.2h1.6v2.2h-1.6zM323.4 809.9h1.6v2.2h-1.6zM323.4 816.3h1.6v2.2h-1.6zM323.4 818.5h1.6v2.2h-1.6zM324.9 812.1h1.6v2.2h-1.6zM324.9 816.3h1.6v2.2h-1.6zM326.4 816.3h1.6v2.2h-1.6zM327.9 809.9h1.6v2.2h-1.6zM327.9 814.2h1.6v2.2h-1.6zM327.9 816.3h1.6v2.2h-1.6zM327.9 818.5h1.6v2.2h-1.6zM329.4 812.1h1.6v2.2h-1.6zM329.4 816.3h1.6v2.2h-1.6zM329.4 818.5h1.6v2.2h-1.6zM330.9 809.9h1.6v2.2h-1.6zM330.9 812.1h1.6v2.2h-1.6zM330.9 814.2h1.6v2.2h-1.6zM330.9 816.3h1.6v2.2h-1.6zM332.4 809.9h1.6v2.2h-1.6zM332.4 812.1h1.6v2.2h-1.6zM333.8 809.9h1.6v2.2h-1.6zM333.8 814.2h1.6v2.2h-1.6zM333.8 816.3h1.6v2.2h-1.6zM335.3 809.9h1.6v2.2h-1.6zM335.3 816.3h1.6v2.2h-1.6zM336.8 812.1h1.6v2.2h-1.6zM338.3 809.9h1.6v2.2h-1.6zM338.3 814.2h1.6v2.2h-1.6zM338.3 818.5h1.6v2.2h-1.6zM339.8 809.9h1.6v2.2h-1.6zM341.3 807.8h1.6v2.2h-1.6zM341.3 809.9h1.6v2.2h-1.6zM341.3 812.1h1.6v2.2h-1.6zM341.3 814.2h1.6v2.2h-1.6zM342.8 809.9h1.6v2.2h-1.6zM342.8 814.2h1.6v2.2h-1.6zM344.3 805.7h1.6v2.2h-1.6zM344.3 809.9h1.6v2.2h-1.6zM344.3 814.2h1.6v2.2h-1.6zM345.8 809.9h1.6v2.2h-1.6zM347.3 814.2h1.6v2.2h-1.6zM348.8 812.1h1.6v2.2h-1.6zM348.8 814.2h1.6v2.2h-1.6zM350.3 807.8h1.6v2.2h-1.6zM350.3 814.2h1.6v2.2h-1.6zM351.8 805.7h1.6v2.2h-1.6zM351.8 807.8h1.6v2.2h-1.6zM351.8 814.2h1.6v2.2h-1.6zM353.3 805.7h1.6v2.2h-1.6zM353.3 809.9h1.6v2.2h-1.6zM353.3 812.1h1.6v2.2h-1.6zM354.8 816.3h1.6v2.2h-1.6zM356.3 807.8h1.6v2.2h-1.6zM356.3 809.9h1.6v2.2h-1.6zM357.8 805.7h1.6v2.2h-1.6zM359.3 807.8h1.6v2.2h-1.6zM359.3 814.2h1.6v2.2h-1.6zM360.8 805.7h1.6v2.2h-1.6zM360.8 807.8h1.6v2.2h-1.6zM360.8 812.1h1.6v2.2h-1.6zM362.3 809.9h1.6v2.2h-1.6zM363.8 809.9h1.6v2.2h-1.6zM363.8 812.1h1.6v2.2h-1.6zM365.3 816.3h1.6v2.2h-1.6z"/>
<path fill="#0000ff" d="M232.0 807.8h1.6v2.2h-1.6zM232.0 809.9h1.6v2.2h-1.6zM232.0 814.2h1.6v2.2h-1.6zM233.5 814.2h1.6v2.2h-1.6zM235.0 805.7h1.6v2.2h-1.6zM235.0 812.1h1.6v2.2h-1.6zM236.5 805.7h1.6v2.2h-1.6zM236.5 807.8h1.6v2.2h-1.6zM238.0 807.8h1.6v2.2h-1.6zM238.0 809.9h1.6v2.2h-1.6zM238.0 814.2h1.6v2.2h-1.6zM239.5 805.7h1.6v2.2h-1.6zM239.5 809.9h1.6v2.2h-1.6zM239.5 812.1h1.6v2.2h-1.6zM239.5 814.2h1.6v2.2h-1.6zM241.0 805.7h1.6v2.2h-1.6zM241.0 814.2h1.6v2.2h-1.6zM242.5 805.7h1.6v2.2h-1.6zM242.5 809.9h1.6v2.2h-1.6zM242.5 814.2h1.6v2.2h-1.6zM244.0 816.3h1.6v2.2h-1.6zM245.5 807.8h1.6v2.2h-1.6zM247.0 809.9h1.6v2.2h-1.6zM247.0 816.3h1.6v2.2h-1.6zM248.5 812.1h1.6v2.2h-1.6zM250.0 812.1h1.6v2.2h-1.6zM250.0 816.3h1.6v2.2h-1.6zM251.5 805.7h1.6v2.2h-1.6zM251.5 807.8h1.6v2.2h-1.6zM251.5 816.3h1.6v2.2h-1.6zM253.0 805.7h1.6v2.2h-1.6zM253.0 814.2h1.6v2.2h-1.6zM254.5 809.9h1.6v2.2h-1.6zM254.5 814.2h1.6v2.2h-1.6zM256.0 805.7h1.6v2.2h-1.6zM256.0 809.9h1.6v2.2h-1.6zM256.0 812.1h1.6v2.2h-1.6zM256.0 816.3h1.6v2.2h-1.6zM257.5 805.7h1.6v2.2h-1.6zM257.5 809.9h1.6v2.2h-1.6zM257.5 812.1h1.6v2.2h-1.6zM291.9 807.8h1.6v2.2h-1.6zM291.9 816.3h1.6v2.2h-1.6zM291.9 818.5h1.6v2.2h-1.6zM293.4 807.8h1.6v2.2h-1.6zM293.4 816.3h1.6v2.2h-1.6zM293.4 818.5h1.6v2.2h-1.6zM294.9 812.1h1.6v2.2h-1.6zM294.9 816.3h1.6v2.2h-1.6zM296.4 814.2h1.6v2.2h-1.6zM297.9 812.1h1.6v2.2h-1.6zM297.9 816.3h1.6v2.2h-1.6zM299.4 816.3h1.6v2.2h-1.6zM300.9 807.8h1.6v2.2h-1.6zM300.9 809.9h1.6v2.2h-1.6zM300.9 816.3h1.6v2.2h-1.6zM300.9 818.5h1.6v2.2h-1.6zM302.4 809.9h1.6v2.2h-1.6zM302.4 812.1h1.6v2.2h-1.6zM302.4 818.5h1.6v2.2h-1.6zM303.9 816.3h1.6v2.2h-1.6zM305.4 807.8h1.6v2.2h-1.6zM305.4 809.9h1.6v2.2h-1.6zM306.9 814.2h1.6v2.2h-1.6zM306.9 816.3h1.6v2.2h-1.6zM306.9 818.5h1.6v2.2h-1.6zM308.4 809.9h1.6v2.2h-1.6zM308.4 818.5h1.6v2.2h-1.6zM309.9 809.9h1.6v2.2h-1.6zM309.9 818.5h1.6v2.2h-1.6zM311.4 816.3h1.6v2.2h-1.6zM311.4 818.5h1.6v2.2h-1.6zM312.9 807.8h1.6v2.2h-1.6zM312.9 812.1h1.6v2.2h-1.6zM312.9 816.3h1.6v2.2h-1.6zM314.4 809.9h1.6v2.2h-1.6zM314.4 814.2h1.6v2.2h-1.6zM314.4 816.3h1.6v2.2h-1.6zM315.9 812.1h1.6v2.2h-1.6zM315.9 814.2h1.6v2.2h-1.6zM315.9 818.5h1.6v2.2h-1.6zM317.4 809.9h1.6v2.2h-1.6zM317.4 812.1h1.6v2.2h-1.6zM317.4 818.5h1.6v2.2h-1.6zM318.9 809.9h1.6v2.2h-1.6zM318.9 814.2h1.6v2.2h-1.6zM320.4 812.1h1.6v2.2h-1.6zM320.4 814.2h1.6v2.2h-1.6zM321.9 807.8h1.6v2.2h-1.6zM321.9 809.9h1.6v2.2h-1.6zM321.9 816.3h1.6v2.2h-1.6zM321.9 818.5h1.6v2.2h-1.6zM323.4 812.1h1.6v2.2h-1.6zM323.4 814.2h1.6v2.2h-1.6zM324.9 814.2h1.6v2.2h-1.6zM324.9 818.5h1.6v2.2h-1.6zM326.4 814.2h1.6v2.2h-1.6zM326.4 818.5h1.6v2.2h-1.6zM329.4 809.9h1.6v2.2h-1.6zM329.4 814.2h1.6v2.2h-1.6zM332.4 807.8h1.6v2.2h-1.6zM332.4 814.2h1.6v2.2h-1.6zM332.4 816.3h1.6v2.2h-1.6zM332.4 818.5h1.6v2.2h-1.6zM333.8 812.1h1.6v2.2h-1.6zM333.8 818.5h1.6v2.2h-1.6zM335.3 807.8h1.6v2.2h-1.6zM335.3 812.1h1.6v2.2h-1.6zM335.3 818.5h1.6v2.2h-1.6zM336.8 809.9h1.6v2.2h-1.6zM336.8 816.3h1.6v2.2h-1.6zM338.3 812.1h1.6v2.2h-1.6zM338.3 816.3h1.6v2.2h-1.6zM339.8 807.8h1.6v2.2h-1.6zM339.8 812.1h1.6v2.2h-1.6zM339.8 814.2h1.6v2.2h-1.6zM339.8 816.3h1.6v2.2h-1.6zM341.3 805.7h1.6v2.2h-1.6zM342.8 805.7h1.6v2.2h-1.6zM342.8 807.8h1.6v2.2h-1.6zM342.8 816.3h1.6v2.2h-1.6zM344.3 807.8h1.6v2.2h-1.6zM344.3 812.1h1.6v2.2h-1.6zM344.3 816.3h1.6v2.2h-1.6zM345.8 805.7h1.6v2.2h-1.6zM345.8 807.8h1.6v2.2h-1.6zM345.8 812.1h1.6v2.2h-1.6zM345.8 814.2h1.6v2.2h-1.6zM345.8 818.5h1.6v2.2h-1.6zM347.3 807.8h1.6v2.2h-1.6zM347.3 809.9h1.6v2.2h-1.6zM347.3 816.3h1.6v2.2h-1.6zM348.8 805.7h1.6v2.2h-1.6zM348.8 807.8h1.6v2.2h-1.6zM348.8 809.9h1.6v2.2h-1.6zM348.8 816.3h1.6v2.2h-1.6zM350.3 805.7h1.6v2.2h-1.6zM350.3 809.9h1.6v2.2h-1.6zM350.3 812.1h1.6v2.2h-1.6zM351.8 809.9h1.6v2.2h-1.6zM353.3 807.8h1.6v2.2h-1.6zM353.3 814.2h1.6v2.2h-1.6zM354.8 805.7h1.6v2.2h-1.6zM354.8 809.9h1.6v2.2h-1.6zM354.8 814.2h1.6v2.2h-1.6zM356.3 805.7h1.6v2.2h-1.6zM356.3 812.1h1.6v2.2h-1.6zM357.8 807.8h1.6v2.2h-1.6zM357.8 809.9h1.6v2.2h-1.6zM357.8 812.1h1.6v2.2h-1.6zM357.8 814.2h1.6v2.2h-1.6zM357.8 816.3h1.6v2.2h-1.6zM357.8 818.5h1.6v2.2h-1.6zM359.3 805.7h1.6v2.2h-1.6zM359.3 812.1h1.6v2.2h-1.6zM359.3 816.3h1.6v2.2h-1.6zM360.8 809.9h1.6v2.2h-1.6zM360.8 814.2h1.6v2.2h-1.6zM362.3 805.7h1.6v2.2h-1.6zM362.3 812.1h1.6v2.2h-1.6zM362.3 814.2h1.6v2.2h-1.6zM363.8 805.7h1.6v2.2h-1.6zM363.8 814.2h1.6v2.2h-1.6zM365.3 805.7h1.6v2.2h-1.6zM365.3 809.9h1.6v2.2h-1.6zM365.3 812.1h1.6v2.2h-1.6zM365.3 814.2h1.6v2.2h-1.6z"/>
<path fill="#003fff" d="M232.0 816.3h1.6v2.2h-1.6zM232.0 818.5h1.6v2.2h-1.6zM233.5 818.5h1.6v2.2h-1.6zM235.0 816.3h1.6v2.2h-1.6zM236.5 816.3h1.6v2.2h-1.6zM236.5 818.5h1.6v2.2h-1.6zM238.0 816.3h1.6v2.2h-1.6zM239.5 816.3h1.6v2.2h-1.6zM239.5 818.5h1.6v2.2h-1.6zM241.0 816.3h1.6v2.2h-1.6zM241.0 818.5h1.6v2.2h-1.6zM242.5 816.3h1.6v2.2h-1.6zM245.5 816.3h1.6v2.2h-1.6zM247.0 818.5h1.6v2.2h-1.6zM248.5 816.3h1.6v2.2h-1.6zM251.5 818.5h1.6v2.2h-1.6zM253.0 816.3h1.6v2.2h-1.6zM254.5 816.3h1.6v2.2h-1.6zM254.5 818.5h1.6v2.2h-1.6zM256.0 818.5h1.6v2.2h-1.6zM294.9 814.2h1.6v2.2h-1.6zM296.4 807.8h1.6v2.2h-1.6zM297.9 807.8h1.6v2.2h-1.6zM297.9 818.5h1.6v2.2h-1.6zM299.4 818.5h1.6v2.2h-1.6zM302.4 807.8h1.6v2.2h-1.6zM302.4 820.6h1.6v2.2h-1.6zM303.9 807.8h1.6v2.2h-1.6zM303.9 809.9h1.6v2.2h-1.6zM305.4 818.5h1.6v2.2h-1.6zM305.4 820.6h1.6v2.2h-1.6zM306.9 807.8h1.6v2.2h-1.6zM306.9 820.6h1.6v2.2h-1.6zM308.4 807.8h1.6v2.2h-1.6zM308.4 820.6h1.6v2.2h-1.6zM309.9 807.8h1.6v2.2h-1.6zM309.9 812.1h1.6v2.2h-1.6zM311.4 807.8h1.6v2.2h-1.6zM312.9 814.2h1.6v2.2h-1.6zM312.9 818.5h1.6v2.2h-1.6zM314.4 807.8h1.6v2.2h-1.6zM315.9 820.6h1.6v2.2h-1.6zM317.4 807.8h1.6v2.2h-1.6zM318.9 812.1h1.6v2.2h-1.6zM318.9 820.6h1.6v2.2h-1.6zM320.4 807.8h1.6v2.2h-1.6zM320.4 818.5h1.6v2.2h-1.6zM320.4 820.6h1.6v2.2h-1.6zM323.4 807.8h1.6v2.2h-1.6zM323.4 820.6h1.6v2.2h-1.6zM324.9 807.8h1.6v2.2h-1.6zM324.9 809.9h1.6v2.2h-1.6zM326.4 807.8h1.6v2.2h-1.6zM326.4 809.9h1.6v2.2h-1.6zM326.4 820.6h1.6v2.2h-1.6zM327.9 807.8h1.6v2.2h-1.6zM327.9 812.1h1.6v2.2h-1.6zM327.9 820.6h1.6v2.2h-1.6zM329.4 807.8h1.6v2.2h-1.6zM330.9 807.8h1.6v2.2h-1.6zM330.9 818.5h1.6v2.2h-1.6zM330.9 820.6h1.6v2.2h-1.6zM333.8 807.8h1.6v2.2h-1.6zM335.3 814.2h1.6v2.2h-1.6zM336.8 807.8h1.6v2.2h-1.6zM336.8 814.2h1.6v2.2h-1.6zM336.8 818.5h1.6v2.2h-1.6zM339.8 805.7h1.6v2.2h-1.6zM339.8 818.5h1.6v2.2h-1.6zM341.3 816.3h1.6v2.2h-1.6zM341.3 818.5h1.6v2.2h-1.6zM342.8 812.1h1.6v2.2h-1.6zM342.8 818.5h1.6v2.2h-1.6zM345.8 816.3h1.6v2.2h-1.6zM347.3 805.7h1.6v2.2h-1.6zM347.3 812.1h1.6v2.2h-1.6zM347.3 818.5h1.6v2.2h-1.6zM348.8 818.5h1.6v2.2h-1.6zM350.3 816.3h1.6v2.2h-1.6zM350.3 818.5h1.6v2.2h-1.6zM351.8 812.1h1.6v2.2h-1.6zM351.8 816.3h1.6v2.2h-1.6zM351.8 818.5h1.6v2.2h-1.6zM353.3 816.3h1.6v2.2h-1.6zM354.8 807.8h1.6v2.2h-1.6zM354.8 812.1h1.6v2.2h-1.6zM356.3 814.2h1.6v2.2h-1.6zM356.3 816.3h1.6v2.2h-1.6zM356.3 818.5h1.6v2.2h-1.6zM359.3 809.9h1.6v2.2h-1.6zM360.8 816.3h1.6v2.2h-1.6zM360.8 818.5h1.6v2.2h-1.6zM362.3 807.8h1.6v2.2h-1.6zM362.3 816.3h1.6v2.2h-1.6zM362.3 818.5h1.6v2.2h-1.6zM363.8 807.8h1.6v2.2h-1.6zM363.8 816.3h1.6v2.2h-1.6zM363.8 818.5h1.6v2.2h-1.6zM365.3 807.8h1.6v2.2h-1.6z"/>
<path fill="#00ffff" d="M232.0 820.6h1.6v2.2h-1.6zM238.0 820.6h1.6v2.2h-1.6zM239.5 820.6h1.6v2.2h-1.6zM241.0 820.6h1.6v2.2h-1.6zM244.0 820.6h1.6v2.2h-1.6zM245.5 820.6h1.6v2.2h-1.6zM248.5 820.6h1.6v2.2h-1.6zM256.0 820.6h1.6v2.2h-1.6zM259.0 816.3h1.6v2.2h-1.6zM260.5 805.7h1.6v2.2h-1.6zM260.5 814.2h1.6v2.2h-1.6zM260.5 816.3h1.6v2.2h-1.6zM263.5 812.1h1.6v2.2h-1.6zM263.5 814.2h1.6v2.2h-1.6zM265.0 812.1h1.6v2.2h-1.6zM266.4 814.2h1.6v2.2h-1.6zM267.9 814.2h1.6v2.2h-1.6zM269.4 809.9h1.6v2.2h-1.6zM272.4 814.2h1.6v2.2h-1.6zM273.9 805.7h1.6v2.2h-1.6zM273.9 814.2h1.6v2.2h-1.6zM275.4 814.2h1.6v2.2h-1.6zM279.9 814.2h1.6v2.2h-1.6zM281.4 805.7h1.6v2.2h-1.6zM281.4 814.2h1.6v2.2h-1.6zM282.9 805.7h1.6v2.2h-1.6zM285.9 816.3h1.6v2.2h-1.6zM287.4 814.2h1.6v2.2h-1.6zM287.4 816.3h1.6v2.2h-1.6zM290.4 805.7h1.6v2.2h-1.6zM290.4 807.8h1.6v2.2h-1.6zM290.4 809.9h1.6v2.2h-1.6zM294.9 805.7h1.6v2.2h-1.6zM296.4 805.7h1.6v2.2h-1.6zM297.9 805.7h1.6v2.2h-1.6zM302.4 805.7h1.6v2.2h-1.6zM303.9 805.7h1.6v2.2h-1.6zM311.4 805.7h1.6v2.2h-1.6zM312.9 805.7h1.6v2.2h-1.6zM315.9 805.7h1.6v2.2h-1.6zM317.4 805.7h1.6v2.2h-1.6zM332.4 805.7h1.6v2.2h-1.6zM338.3 805.7h1.6v2.2h-1.6zM354.8 820.6h1.6v2.2h-1.6z"/>
<path fill="#00007f" d="M233.5 807.8h1.6v2.2h-1.6zM242.5 807.8h1.6v2.2h-1.6zM244.0 805.7h1.6v2.2h-1.6zM244.0 809.9h1.6v2.2h-1.6zM244.0 812.1h1.6v2.2h-1.6zM245.5 812.1h1.6v2.2h-1.6zM247.0 805.7h1.6v2.2h-1.6zM248.5 805.7h1.6v2.2h-1.6zM248.5 814.2h1.6v2.2h-1.6zM253.0 812.1h1.6v2.2h-1.6zM254.5 812.1h1.6v2.2h-1.6zM256.0 807.8h1.6v2.2h-1.6zM257.5 807.8h1.6v2.2h-1.6zM293.4 814.2h1.6v2.2h-1.6zM326.4 812.1h1.6v2.2h-1.6z"/>
<path fill="#007fff" d="M233.5 816.3h1.6v2.2h-1.6zM235.0 818.5h1.6v2.2h-1.6zM235.0 820.6h1.6v2.2h-1.6zM236.5 820.6h1.6v2.2h-1.6zM238.0 818.5h1.6v2.2h-1.6zM242.5 818.5h1.6v2.2h-1.6zM242.5 820.6h1.6v2.2h-1.6zM244.0 818.5h1.6v2.2h-1.6zM245.5 818.5h1.6v2.2h-1.6zM248.5 818.5h1.6v2.2h-1.6zM250.0 818.5h1.6v2.2h-1.6zM250.0 820.6h1.6v2.2h-1.6zM253.0 818.5h1.6v2.2h-1.6zM253.0 820.6h1.6v2.2h-1.6zM257.5 816.3h1.6v2.2h-1.6zM257.5 818.5h1.6v2.2h-1.6zM257.5 820.6h1.6v2.2h-1.6zM259.0 805.7h1.6v2.2h-1.6zM259.0 809.9h1.6v2.2h-1.6zM259.0 812.1h1.6v2.2h-1.6zM260.5 807.8h1.6v2.2h-1.6zM260.5 809.9h1.6v2.2h-1.6zM260.5 812.1h1.6v2.2h-1.6zM262.0 809.9h1.6v2.2h-1.6zM263.5 807.8h1.6v2.2h-1.6zM263.5 809.9h1.6v2.2h-1.6zM265.0 807.8h1.6v2.2h-1.6zM265.0 809.9h1.6v2.2h-1.6zM266.4 805.7h1.6v2.2h-1.6zM266.4 807.8h1.6v2.2h-1.6zM267.9 805.7h1.6v2.2h-1.6zM267.9 812.1h1.6v2.2h-1.6zM269.4 807.8h1.6v2.2h-1.6zM269.4 812.1h1.6v2.2h-1.6zM270.9 805.7h1.6v2.2h-1.6zM270.9 807.8h1.6v2.2h-1.6zM270.9 809.9h1.6v2.2h-1.6zM270.9 812.1h1.6v2.2h-1.6zM272.4 809.9h1.6v2.2h-1.6zM272.4 812.1h1.6v2.2h-1.6zM273.9 812.1h1.6v2.2h-1.6zM275.4 807.8h1.6v2.2h-1.6zM275.4 809.9h1.6v2.2h-1.6zM276.9 807.8h1.6v2.2h-1.6zM276.9 812.1h1.6v2.2h-1.6zM278.4 807.8h1.6v2.2h-1.6zM278.4 809.9h1.6v2.2h-1.6zM279.9 807.8h1.6v2.2h-1.6zM279.9 809.9h1.6v2.2h-1.6zM282.9 812.1h1.6v2.2h-1.6zM284.4 809.9h1.6v2.2h-1.6zM284.4 812.1h1.6v2.2h-1.6zM285.9 807.8h1.6v2.2h-1.6zM287.4 809.9h1.6v2.2h-1.6zM287.4 812.1h1.6v2.2h-1.6zM288.9 809.9h1.6v2.2h-1.6zM290.4 812.1h1.6v2.2h-1.6zM291.9 820.6h1.6v2.2h-1.6zM294.9 807.8h1.6v2.2h-1.6zM294.9 820.6h1.6v2.2h-1.6zM297.9 820.6h1.6v2.2h-1.6zM299.4 807.8h1.6v2.2h-1.6zM300.9 820.6h1.6v2.2h-1.6zM303.9 820.6h1.6v2.2h-1.6zM309.9 820.6h1.6v2.2h-1.6zM311.4 820.6h1.6v2.2h-1.6zM312.9 820.6h1.6v2.2h-1.6zM314.4 820.6h1.6v2.2h-1.6zM315.9 807.8h1.6v2.2h-1.6zM317.4 820.6h1.6v2.2h-1.6zM318.9 807.8h1.6v2.2h-1.6zM324.9 820.6h1.6v2.2h-1.6zM329.4 820.6h1.6v2.2h-1.6zM332.4 820.6h1.6v2.2h-1.6zM333.8 820.6h1.6v2.2h-1.6zM338.3 807.8h1.6v2.2h-1.6zM338.3 820.6h1.6v2.2h-1.6zM339.8 820.6h1.6v2.2h-1.6zM344.3 818.5h1.6v2.2h-1.6zM344.3 820.6h1.6v2.2h-1.6zM348.8 820.6h1.6v2.2h-1.6zM350.3 820.6h1.6v2.2h-1.6zM351.8 820.6h1.6v2.2h-1.6zM353.3 818.5h1.6v2.2h-1.6zM354.8 818.5h1.6v2.2h-1.6zM356.3 820.6h1.6v2.2h-1.6zM357.8 820.6h1.6v2.2h-1.6zM359.3 818.5h1.6v2.2h-1.6zM365.3 818.5h1.6v2.2h-1.6z"/>
<path fill="#00bfff" d="M233.5 820.6h1.6v2.2h-1.6zM247.0 820.6h1.6v2.2h-1.6zM251.5 820.6h1.6v2.2h-1.6zM254.5 820.6h1.6v2.2h-1.6zM259.0 807.8h1.6v2.2h-1.6zM262.0 805.7h1.6v2.2h-1.6zM262.0 807.8h1.6v2.2h-1.6zM262.0 812.1h1.6v2.2h-1.6zM262.0 814.2h1.6v2.2h-1.6zM263.5 805.7h1.6v2.2h-1.6zM265.0 805.7h1.6v2.2h-1.6zM266.4 809.9h1.6v2.2h-1.6zM266.4 812.1h1.6v2.2h-1.6zM267.9 807.8h1.6v2.2h-1.6zM267.9 809.9h1.6v2.2h-1.6zM269.4 805.7h1.6v2.2h-1.6zM269.4 814.2h1.6v2.2h-1.6zM270.9 814.2h1.6v2.2h-1.6zM272.4 805.7h1.6v2.2h-1.6zM272.4 807.8h1.6v2.2h-1.6zM273.9 807.8h1.6v2.2h-1.6zM273.9 809.9h1.6v2.2h-1.6zM275.4 805.7h1.6v2.2h-1.6zM275.4 812.1h1.6v2.2h-1.6zM276.9 805.7h1.6v2.2h-1.6zM276.9 809.9h1.6v2.2h-1.6zM276.9 814.2h1.6v2.2h-1.6zM278.4 805.7h1.6v2.2h-1.6zM278.4 812.1h1.6v2.2h-1.6zM279.9 805.7h1.6v2.2h-1.6zM279.9 812.1h1.6v2.2h-1.6zM281.4 807.8h1.6v2.2h-1.6zM281.4 809.9h1.6v2.2h-1.6zM281.4 812.1h1.6v2.2h-1.6zM282.9 807.8h1.6v2.2h-1.6zM282.9 809.9h1.6v2.2h-1.6zM282.9 814.2h1.6v2.2h-1.6zM284.4 805.7h1.6v2.2h-1.6zM284.4 807.8h1.6v2.2h-1.6zM284.4 814.2h1.6v2.2h-1.6zM285.9 805.7h1.6v2.2h-1.6zM285.9 809.9h1.6v2.2h-1.6zM285.9 812.1h1.6v2.2h-1.6zM285.9 814.2h1.6v2.2h-1.6zM287.4 805.7h1.6v2.2h-1.6zM287.4 807.8h1.6v2.2h-1.6zM288.9 805.7h1.6v2.2h-1.6zM288.9 807.8h1.6v2.2h-1.6zM288.9 812.1h1.6v2.2h-1.6zM288.9 814.2h1.6v2.2h-1.6zM290.4 814.2h1.6v2.2h-1.6zM293.4 820.6h1.6v2.2h-1.6zM296.4 820.6h1.6v2.2h-1.6zM299.4 820.6h1.6v2.2h-1.6zM305.4 805.7h1.6v2.2h-1.6zM308.4 805.7h1.6v2.2h-1.6zM309.9 805.7h1.6v2.2h-1.6zM314.4 805.7h1.6v2.2h-1.6zM321.9 820.6h1.6v2.2h-1.6zM323.4 805.7h1.6v2.2h-1.6zM324.9 805.7h1.6v2.2h-1.6zM329.4 805.7h1.6v2.2h-1.6zM335.3 805.7h1.6v2.2h-1.6zM335.3 820.6h1.6v2.2h-1.6zM336.8 820.6h1.6v2.2h-1.6zM341.3 820.6h1.6v2.2h-1.6zM342.8 820.6h1.6v2.2h-1.6zM345.8 820.6h1.6v2.2h-1.6zM347.3 820.6h1.6v2.2h-1.6zM353.3 820.6h1.6v2.2h-1.6zM359.3 820.6h1.6v2.2h-1.6zM360.8 820.6h1.6v2.2h-1.6zM362.3 820.6h1.6v2.2h-1.6zM363.8 820.6h1.6v2.2h-1.6zM365.3 820.6h1.6v2.2h-1.6z"/>
<path fill="#3fffbf" d="M259.0 814.2h1.6v2.2h-1.6zM263.5 816.3h1.6v2.2h-1.6zM263.5 818.5h1.6v2.2h-1.6zM265.0 814.2h1.6v2.2h-1.6zM265.0 816.3h1.6v2.2h-1.6zM265.0 818.5h1.6v2.2h-1.6zM267.9 816.3h1.6v2.2h-1.6zM269.4 816.3h1.6v2.2h-1.6zM272.4 816.3h1.6v2.2h-1.6zM273.9 816.3h1.6v2.2h-1.6zM275.4 816.3h1.6v2.2h-1.6zM276.9 816.3h1.6v2.2h-1.6zM278.4 814.2h1.6v2.2h-1.6zM278.4 816.3h1.6v2.2h-1.6zM279.9 816.3h1.6v2.2h-1.6zM282.9 816.3h1.6v2.2h-1.6zM284.4 816.3h1.6v2.2h-1.6zM288.9 816.3h1.6v2.2h-1.6zM291.9 805.7h1.6v2.2h-1.6zM293.4 805.7h1.6v2.2h-1.6zM299.4 805.7h1.6v2.2h-1.6zM300.9 805.7h1.6v2.2h-1.6zM306.9 805.7h1.6v2.2h-1.6zM318.9 805.7h1.6v2.2h-1.6zM320.4 805.7h1.6v2.2h-1.6zM321.9 805.7h1.6v2.2h-1.6zM326.4 805.7h1.6v2.2h-1.6zM327.9 805.7h1.6v2.2h-1.6zM330.9 805.7h1.6v2.2h-1.6zM333.8 805.7h1.6v2.2h-1.6zM336.8 805.7h1.6v2.2h-1.6z"/>
<path fill="#bfff3f" d="M259.0 818.5h1.6v2.2h-1.6zM260.5 820.6h1.6v2.2h-1.6zM262.0 820.6h1.6v2.2h-1.6zM265.0 820.6h1.6v2.2h-1.6zM266.4 818.5h1.6v2.2h-1.6zM266.4 820.6h1.6v2.2h-1.6zM267.9 818.5h1.6v2.2h-1.6zM269.4 818.5h1.6v2.2h-1.6zM269.4 820.6h1.6v2.2h-1.6zM270.9 818.5h1.6v2.2h-1.6zM270.9 820.6h1.6v2.2h-1.6zM272.4 818.5h1.6v2.2h-1.6zM273.9 820.6h1.6v2.2h-1.6z"/>
<path fill="#ffbf00" d="M259.0 820.6h1.6v2.2h-1.6zM288.9 818.5h1.6v2.2h-1.6z"/>
<path fill="#7fff7f" d="M260.5 818.5h1.6v2.2h-1.6zM262.0 816.3h1.6v2.2h-1.6zM262.0 818.5h1.6v2.2h-1.6zM266.4 816.3h1.6v2.2h-1.6zM270.9 816.3h1.6v2.2h-1.6zM273.9 818.5h1.6v2.2h-1.6zM275.4 818.5h1.6v2.2h-1.6zM275.4 820.6h1.6v2.2h-1.6zM281.4 816.3h1.6v2.2h-1.6zM290.4 816.3h1.6v2.2h-1.6z"/>
<path fill="#ffff00" d="M263.5 820.6h1.6v2.2h-1.6zM267.9 820.6h1.6v2.2h-1.6zM272.4 820.6h1.6v2.2h-1.6z"/>
<path fill="#ff3f00" d="M276.9 818.5h1.6v2.2h-1.6zM278.4 818.5h1.6v2.2h-1.6zM278.4 820.6h1.6v2.2h-1.6zM281.4 818.5h1.6v2.2h-1.6zM282.9 818.5h1.6v2.2h-1.6zM284.4 820.6h1.6v2.2h-1.6zM285.9 820.6h1.6v2.2h-1.6zM287.4 818.5h1.6v2.2h-1.6z"/>
<path fill="#ff0000" d="M276.9 820.6h1.6v2.2h-1.6zM279.9 820.6h1.6v2.2h-1.6zM281.4 820.6h1.6v2.2h-1.6zM282.9 820.6h1.6v2.2h-1.6zM287.4 820.6h1.6v2.2h-1.6zM290.4 820.6h1.6v2.2h-1.6z"/>
<path fill="#ff7f00" d="M279.9 818.5h1.6v2.2h-1.6zM284.4 818.5h1.6v2.2h-1.6zM285.9 818.5h1.6v2.2h-1.6zM288.9 820.6h1.6v2.2h-1.6zM290.4 818.5h1.6v2.2h-1.6z"/>
<rect x="232.00" y="805.68" width="134.80" height="17.06" fill="none" stroke="#888" stroke-width="0.4"/>
<text x="364.30" y="821.54" font-size="4.2" text-anchor="end" fill="#fff" font-family="DejaVu Sans, sans-serif" font-weight="bold" >265 eV</text>
<line x1="259.00" y1="658.30" x2="259.00" y2="822.74" stroke="#1a9a1a" stroke-width="0.9" stroke-dasharray="2.6 1.1"/>
<line x1="292.20" y1="658.30" x2="292.20" y2="822.74" stroke="#1a9a1a" stroke-width="0.9" stroke-dasharray="2.6 1.1"/>
<line x1="339.50" y1="658.30" x2="339.50" y2="822.74" stroke="#1a9a1a" stroke-width="0.9" stroke-dasharray="2.6 1.1"/>
<rect x="259.00" y="644.10" width="32.50" height="10.20" fill="#d9d9d9" stroke="none" stroke-width="0" />
<rect x="294.10" y="644.10" width="47.70" height="10.20" fill="#d9d9d9" stroke="none" stroke-width="0" />
<text x="275.60" y="651.50" font-size="5.5" text-anchor="middle" fill="#222" font-family="DejaVu Sans, sans-serif" >sheath</text>
<text x="317.85" y="651.50" font-size="5.5" text-anchor="middle" fill="#222" font-family="DejaVu Sans, sans-serif" >ejecta</text>
<text x="292.20" y="657.00" font-size="2.6" text-anchor="start" fill="#1a9a1a" font-family="DejaVu Sans, sans-serif" font-weight="bold" >Wind</text>
<text x="243.70" y="829.00" font-size="3.0" text-anchor="middle" fill="#333" font-family="DejaVu Sans, sans-serif" >14:24</text>
<text x="243.70" y="833.00" font-size="3.0" text-anchor="middle" fill="#333" font-family="DejaVu Sans, sans-serif" >11-30</text>
<text x="259.57" y="829.00" font-size="3.0" text-anchor="middle" fill="#333" font-family="DejaVu Sans, sans-serif" >00:00</text>
<text x="259.57" y="833.00" font-size="3.0" text-anchor="middle" fill="#333" font-family="DejaVu Sans, sans-serif" >12-01</text>
<text x="275.44" y="829.00" font-size="3.0" text-anchor="middle" fill="#333" font-family="DejaVu Sans, sans-serif" >09:36</text>
<text x="275.44" y="833.00" font-size="3.0" text-anchor="middle" fill="#333" font-family="DejaVu Sans, sans-serif" >12-01</text>
<text x="291.31" y="829.00" font-size="3.0" text-anchor="middle" fill="#333" font-family="DejaVu Sans, sans-serif" >19:12</text>
<text x="291.31" y="833.00" font-size="3.0" text-anchor="middle" fill="#333" font-family="DejaVu Sans, sans-serif" >12-01</text>
<text x="307.18" y="829.00" font-size="3.0" text-anchor="middle" fill="#333" font-family="DejaVu Sans, sans-serif" >04:48</text>
<text x="307.18" y="833.00" font-size="3.0" text-anchor="middle" fill="#333" font-family="DejaVu Sans, sans-serif" >12-02</text>
<text x="323.05" y="829.00" font-size="3.0" text-anchor="middle" fill="#333" font-family="DejaVu Sans, sans-serif" >14:24</text>
<text x="323.05" y="833.00" font-size="3.0" text-anchor="middle" fill="#333" font-family="DejaVu Sans, sans-serif" >12-02</text>
<text x="338.92" y="829.00" font-size="3.0" text-anchor="middle" fill="#333" font-family="DejaVu Sans, sans-serif" >00:00</text>
<text x="338.92" y="833.00" font-size="3.0" text-anchor="middle" fill="#333" font-family="DejaVu Sans, sans-serif" >12-03</text>
<text x="354.79" y="829.00" font-size="3.0" text-anchor="middle" fill="#333" font-family="DejaVu Sans, sans-serif" >09:36</text>
<text x="354.79" y="833.00" font-size="3.0" text-anchor="middle" fill="#333" font-family="DejaVu Sans, sans-serif" >12-03</text>
<rect x="369.50" y="805.18" width="2.70" height="17.56" fill="url(#jet)" stroke="none" stroke-width="0" />
<text x="374.80" y="811.85" font-size="2.6" text-anchor="middle" fill="#333" font-family="DejaVu Sans, sans-serif" transform="rotate(-90 374.80 811.85)" >2</text>
<text x="374.80" y="819.39" font-size="2.6" text-anchor="middle" fill="#333" font-family="DejaVu Sans, sans-serif" transform="rotate(-90 374.80 819.39)" >1</text>
<text x="379.10" y="814.36" font-size="3.0" text-anchor="middle" fill="#333" font-family="DejaVu Sans, sans-serif" transform="rotate(-90 379.10 814.36)" >Log F<tspan font-size="1.8" dy="0.5">PAD</tspan></text>
<text x="57.30" y="666.90" font-size="3.0" text-anchor="middle" fill="#333" font-family="DejaVu Sans, sans-serif" transform="rotate(-90 57.30 666.90)" >B<tspan font-size="2" dy="0.5">tot</tspan><tspan dy="-0.5"> [nT]</tspan></text>
<text x="76.30" y="662.80" font-size="2.7" text-anchor="end" fill="#333" font-family="DejaVu Sans, sans-serif" >30</text>
<text x="76.30" y="668.90" font-size="2.7" text-anchor="end" fill="#333" font-family="DejaVu Sans, sans-serif" >15</text>
<text x="76.30" y="675.00" font-size="2.7" text-anchor="end" fill="#333" font-family="DejaVu Sans, sans-serif" >0</text>
<text x="57.30" y="685.36" font-size="3.0" text-anchor="middle" fill="#333" font-family="DejaVu Sans, sans-serif" transform="rotate(-90 57.30 685.36)" >B<tspan font-size="2" dy="0.5">x</tspan><tspan dy="-0.5"> [nT]</tspan></text>
<text x="76.30" y="681.26" font-size="2.7" text-anchor="end" fill="#333" font-family="DejaVu Sans, sans-serif" >25</text>
<text x="76.30" y="687.36" font-size="2.7" text-anchor="end" fill="#333" font-family="DejaVu Sans, sans-serif" >0</text>
<text x="76.30" y="693.46" font-size="2.7" text-anchor="end" fill="#333" font-family="DejaVu Sans, sans-serif" >−25</text>
<text x="57.30" y="703.82" font-size="3.0" text-anchor="middle" fill="#333" font-family="DejaVu Sans, sans-serif" transform="rotate(-90 57.30 703.82)" >B<tspan font-size="2" dy="0.5">y</tspan><tspan dy="-0.5"> [nT]</tspan></text>
<text x="76.30" y="699.72" font-size="2.7" text-anchor="end" fill="#333" font-family="DejaVu Sans, sans-serif" >25</text>
<text x="76.30" y="705.82" font-size="2.7" text-anchor="end" fill="#333" font-family="DejaVu Sans, sans-serif" >0</text>
<text x="76.30" y="711.92" font-size="2.7" text-anchor="end" fill="#333" font-family="DejaVu Sans, sans-serif" >−25</text>
<text x="57.30" y="722.28" font-size="3.0" text-anchor="middle" fill="#333" font-family="DejaVu Sans, sans-serif" transform="rotate(-90 57.30 722.28)" >B<tspan font-size="2" dy="0.5">z</tspan><tspan dy="-0.5"> [nT]</tspan></text>
<text x="76.30" y="718.18" font-size="2.7" text-anchor="end" fill="#333" font-family="DejaVu Sans, sans-serif" >25</text>
<text x="76.30" y="724.28" font-size="2.7" text-anchor="end" fill="#333" font-family="DejaVu Sans, sans-serif" >0</text>
<text x="76.30" y="730.38" font-size="2.7" text-anchor="end" fill="#333" font-family="DejaVu Sans, sans-serif" >−25</text>
<text x="57.30" y="740.74" font-size="3.0" text-anchor="middle" fill="#333" font-family="DejaVu Sans, sans-serif" transform="rotate(-90 57.30 740.74)" >N<tspan font-size="2" dy="0.5">p</tspan><tspan dy="-0.5"> [cm⁻³]</tspan></text>
<text x="76.30" y="736.64" font-size="2.7" text-anchor="end" fill="#333" font-family="DejaVu Sans, sans-serif" >30</text>
<text x="76.30" y="742.74" font-size="2.7" text-anchor="end" fill="#333" font-family="DejaVu Sans, sans-serif" >15</text>
<text x="76.30" y="748.84" font-size="2.7" text-anchor="end" fill="#333" font-family="DejaVu Sans, sans-serif" >0</text>
<text x="57.30" y="759.20" font-size="3.0" text-anchor="middle" fill="#333" font-family="DejaVu Sans, sans-serif" transform="rotate(-90 57.30 759.20)" >V<tspan font-size="2" dy="0.5">p</tspan><tspan dy="-0.5"> [km/s]</tspan></text>
<text x="76.30" y="757.60" font-size="2.7" text-anchor="end" fill="#333" font-family="DejaVu Sans, sans-serif" >600</text>
<text x="76.30" y="765.20" font-size="2.7" text-anchor="end" fill="#333" font-family="DejaVu Sans, sans-serif" >400</text>
<text x="57.30" y="777.66" font-size="3.0" text-anchor="middle" fill="#333" font-family="DejaVu Sans, sans-serif" transform="rotate(-90 57.30 777.66)" >T<tspan font-size="2" dy="0.5">p</tspan><tspan dy="-0.5"> [K]</tspan></text>
<text x="76.30" y="771.06" font-size="2.7" text-anchor="end" fill="#333" font-family="DejaVu Sans, sans-serif" >450000</text>
<text x="76.30" y="776.86" font-size="2.7" text-anchor="end" fill="#333" font-family="DejaVu Sans, sans-serif" >300000</text>
<text x="76.30" y="782.66" font-size="2.7" text-anchor="end" fill="#333" font-family="DejaVu Sans, sans-serif" >150000</text>
<text x="57.30" y="796.12" font-size="3.0" text-anchor="middle" fill="#333" font-family="DejaVu Sans, sans-serif" transform="rotate(-90 57.30 796.12)" >β</text>
<text x="76.30" y="792.02" font-size="2.7" text-anchor="end" fill="#333" font-family="DejaVu Sans, sans-serif" >10²</text>
<text x="76.30" y="798.12" font-size="2.7" text-anchor="end" fill="#333" font-family="DejaVu Sans, sans-serif" >10⁰</text>
<text x="76.30" y="804.22" font-size="2.7" text-anchor="end" fill="#333" font-family="DejaVu Sans, sans-serif" >10⁻²</text>
<text x="57.30" y="814.58" font-size="3.0" text-anchor="middle" fill="#333" font-family="DejaVu Sans, sans-serif" transform="rotate(-90 57.30 814.58)" >PA [◦]</text>
<text x="76.30" y="810.48" font-size="2.7" text-anchor="end" fill="#333" font-family="DejaVu Sans, sans-serif" >120</text>
<text x="76.30" y="816.58" font-size="2.7" text-anchor="end" fill="#333" font-family="DejaVu Sans, sans-serif" >60</text>
<text x="76.30" y="822.68" font-size="2.7" text-anchor="end" fill="#333" font-family="DejaVu Sans, sans-serif" >0</text>
<text x="76.30" y="806.48" font-size="2.7" text-anchor="end" fill="#333" font-family="DejaVu Sans, sans-serif" >180</text>
<rect x="482.50" y="404.40" width="66.80" height="63.30" fill="#fff" stroke="#cfcfcf" stroke-width="0.6"/>
<line x1="482.50" y1="420.22" x2="549.30" y2="420.22" stroke="#b9d9ee" stroke-width="0.6" />
<rect x="555.70" y="404.40" width="67.60" height="63.30" fill="#fff" stroke="#cfcfcf" stroke-width="0.6"/>
<line x1="555.70" y1="420.22" x2="623.30" y2="420.22" stroke="#b9d9ee" stroke-width="0.6" />
<rect x="628.60" y="404.40" width="67.60" height="63.30" fill="#fff" stroke="#cfcfcf" stroke-width="0.6"/>
<line x1="628.60" y1="420.22" x2="696.20" y2="420.22" stroke="#b9d9ee" stroke-width="0.6" />
<rect x="482.50" y="493.70" width="66.80" height="63.60" fill="#fff" stroke="#cfcfcf" stroke-width="0.6"/>
<line x1="482.50" y1="509.60" x2="549.30" y2="509.60" stroke="#b9d9ee" stroke-width="0.6" />
<rect x="555.70" y="493.70" width="67.60" height="63.60" fill="#fff" stroke="#cfcfcf" stroke-width="0.6"/>
<line x1="555.70" y1="509.60" x2="623.30" y2="509.60" stroke="#b9d9ee" stroke-width="0.6" />
<circle cx="485.44" cy="425.56" r="1.5" fill="#0a800a" />
<circle cx="486.78" cy="425.56" r="1.5" fill="#0a800a" />
<circle cx="488.78" cy="424.89" r="1.5" fill="#0a800a" />
<circle cx="489.00" cy="427.78" r="1.5" fill="#0a800a" />
<circle cx="488.33" cy="432.89" r="1.5" fill="#0a800a" />
<circle cx="489.89" cy="433.56" r="1.5" fill="#0a800a" />
<circle cx="490.56" cy="438.22" r="1.5" fill="#0a800a" />
<circle cx="489.00" cy="411.56" r="1.5" fill="#0a800a" />
<circle cx="495.00" cy="411.33" r="1.5" fill="#0a800a" />
<circle cx="493.22" cy="422.22" r="1.5" fill="#0a800a" />
<circle cx="497.44" cy="422.67" r="1.5" fill="#0a800a" />
<circle cx="495.67" cy="429.33" r="1.5" fill="#0a800a" />
<circle cx="498.56" cy="427.11" r="1.5" fill="#0a800a" />
<circle cx="500.56" cy="427.33" r="1.5" fill="#0a800a" />
<circle cx="502.11" cy="426.00" r="1.5" fill="#0a800a" />
<circle cx="505.00" cy="427.33" r="1.5" fill="#0a800a" />
<circle cx="506.11" cy="423.78" r="1.5" fill="#0a800a" />
<circle cx="507.00" cy="418.44" r="1.5" fill="#0a800a" />
<circle cx="507.44" cy="426.22" r="1.5" fill="#0a800a" />
<circle cx="495.00" cy="451.11" r="1.5" fill="#0a800a" />
<circle cx="496.11" cy="444.89" r="1.5" fill="#0a800a" />
<circle cx="497.89" cy="446.00" r="1.5" fill="#0a800a" />
<circle cx="500.33" cy="438.89" r="1.5" fill="#0a800a" />
<circle cx="505.67" cy="434.00" r="1.5" fill="#0a800a" />
<circle cx="508.78" cy="443.33" r="1.5" fill="#0a800a" />
<circle cx="511.22" cy="436.00" r="1.5" fill="#0a800a" />
<circle cx="513.44" cy="449.11" r="1.5" fill="#0a800a" />
<circle cx="519.00" cy="435.56" r="1.5" fill="#0a800a" />
<circle cx="522.11" cy="432.67" r="1.5" fill="#0a800a" />
<circle cx="527.22" cy="438.00" r="1.5" fill="#0a800a" />
<circle cx="530.11" cy="421.11" r="1.5" fill="#0a800a" />
<circle cx="531.67" cy="421.56" r="1.5" fill="#0a800a" />
<circle cx="532.33" cy="417.78" r="1.5" fill="#0a800a" />
<circle cx="505.44" cy="461.33" r="1.5" fill="#0a800a" />
<circle cx="546.56" cy="452.67" r="1.5" fill="#0a800a" />
<rect x="501.38" y="418.82" width="2.8" height="2.8" fill="#e9a11a" stroke="none" stroke-width="0"/>
<rect x="506.27" y="423.71" width="2.8" height="2.8" fill="#e9a11a" stroke="none" stroke-width="0"/>
<rect x="495.16" y="437.71" width="2.8" height="2.8" fill="#e9a11a" stroke="none" stroke-width="0"/>
<rect x="498.71" y="434.82" width="2.8" height="2.8" fill="#e9a11a" stroke="none" stroke-width="0"/>
<rect x="505.16" y="439.04" width="2.8" height="2.8" fill="#e9a11a" stroke="none" stroke-width="0"/>
<rect x="506.93" y="436.38" width="2.8" height="2.8" fill="#e9a11a" stroke="none" stroke-width="0"/>
<rect x="514.27" y="429.04" width="2.8" height="2.8" fill="#e9a11a" stroke="none" stroke-width="0"/>
<rect x="518.71" y="422.60" width="2.8" height="2.8" fill="#e9a11a" stroke="none" stroke-width="0"/>
<rect x="525.16" y="412.60" width="2.8" height="2.8" fill="#e9a11a" stroke="none" stroke-width="0"/>
<rect x="528.04" y="426.82" width="2.8" height="2.8" fill="#e9a11a" stroke="none" stroke-width="0"/>
<circle cx="558.78" cy="407.33" r="1.5" fill="#0a800a" />
<circle cx="560.56" cy="408.22" r="1.5" fill="#0a800a" />
<circle cx="561.67" cy="409.56" r="1.5" fill="#0a800a" />
<circle cx="562.11" cy="408.89" r="1.5" fill="#0a800a" />
<circle cx="558.33" cy="413.33" r="1.5" fill="#0a800a" />
<circle cx="562.56" cy="416.00" r="1.5" fill="#0a800a" />
<circle cx="566.78" cy="414.89" r="1.5" fill="#0a800a" />
<circle cx="569.89" cy="413.78" r="1.5" fill="#0a800a" />
<circle cx="571.44" cy="413.33" r="1.5" fill="#0a800a" />
<circle cx="575.44" cy="407.11" r="1.5" fill="#0a800a" />
<circle cx="577.89" cy="408.89" r="1.5" fill="#0a800a" />
<circle cx="578.78" cy="411.56" r="1.5" fill="#0a800a" />
<circle cx="569.00" cy="417.78" r="1.5" fill="#0a800a" />
<circle cx="568.11" cy="420.00" r="1.5" fill="#0a800a" />
<circle cx="579.00" cy="418.89" r="1.5" fill="#0a800a" />
<circle cx="579.44" cy="421.56" r="1.5" fill="#0a800a" />
<circle cx="563.44" cy="424.44" r="1.5" fill="#0a800a" />
<circle cx="561.89" cy="425.56" r="1.5" fill="#0a800a" />
<circle cx="568.78" cy="423.78" r="1.5" fill="#0a800a" />
<circle cx="563.89" cy="434.89" r="1.5" fill="#0a800a" />
<circle cx="570.11" cy="433.33" r="1.5" fill="#0a800a" />
<circle cx="571.22" cy="432.22" r="1.5" fill="#0a800a" />
<circle cx="572.33" cy="434.89" r="1.5" fill="#0a800a" />
<circle cx="573.44" cy="429.56" r="1.5" fill="#0a800a" />
<circle cx="573.89" cy="436.67" r="1.5" fill="#0a800a" />
<circle cx="581.89" cy="438.89" r="1.5" fill="#0a800a" />
<circle cx="580.56" cy="440.44" r="1.5" fill="#0a800a" />
<circle cx="582.33" cy="450.44" r="1.5" fill="#0a800a" />
<circle cx="585.00" cy="433.78" r="1.5" fill="#0a800a" />
<circle cx="587.00" cy="432.22" r="1.5" fill="#0a800a" />
<circle cx="592.33" cy="437.11" r="1.5" fill="#0a800a" />
<circle cx="595.44" cy="442.00" r="1.5" fill="#0a800a" />
<circle cx="600.56" cy="414.67" r="1.5" fill="#0a800a" />
<circle cx="603.22" cy="460.67" r="1.5" fill="#0a800a" />
<circle cx="605.67" cy="445.56" r="1.5" fill="#0a800a" />
<circle cx="605.67" cy="447.78" r="1.5" fill="#0a800a" />
<circle cx="619.89" cy="418.89" r="1.5" fill="#0a800a" />
<rect x="580.27" y="411.27" width="2.8" height="2.8" fill="#e9a11a" stroke="none" stroke-width="0"/>
<rect x="568.49" y="420.60" width="2.8" height="2.8" fill="#e9a11a" stroke="none" stroke-width="0"/>
<rect x="574.71" y="421.93" width="2.8" height="2.8" fill="#e9a11a" stroke="none" stroke-width="0"/>
<rect x="571.82" y="436.82" width="2.8" height="2.8" fill="#e9a11a" stroke="none" stroke-width="0"/>
<rect x="579.16" y="441.27" width="2.8" height="2.8" fill="#e9a11a" stroke="none" stroke-width="0"/>
<rect x="578.04" y="443.49" width="2.8" height="2.8" fill="#e9a11a" stroke="none" stroke-width="0"/>
<rect x="587.60" y="431.49" width="2.8" height="2.8" fill="#e9a11a" stroke="none" stroke-width="0"/>
<rect x="601.38" y="426.82" width="2.8" height="2.8" fill="#e9a11a" stroke="none" stroke-width="0"/>
<rect x="598.71" y="440.60" width="2.8" height="2.8" fill="#e9a11a" stroke="none" stroke-width="0"/>
<rect x="592.04" y="463.71" width="2.8" height="2.8" fill="#e9a11a" stroke="none" stroke-width="0"/>
<circle cx="632.11" cy="411.78" r="1.5" fill="#0a800a" />
<circle cx="636.11" cy="411.56" r="1.5" fill="#0a800a" />
<circle cx="636.78" cy="410.00" r="1.5" fill="#0a800a" />
<circle cx="640.56" cy="408.89" r="1.5" fill="#0a800a" />
<circle cx="641.67" cy="408.22" r="1.5" fill="#0a800a" />
<circle cx="642.33" cy="406.89" r="1.5" fill="#0a800a" />
<circle cx="643.44" cy="410.44" r="1.5" fill="#0a800a" />
<circle cx="635.00" cy="416.00" r="1.5" fill="#0a800a" />
<circle cx="644.33" cy="413.78" r="1.5" fill="#0a800a" />
<circle cx="648.78" cy="411.56" r="1.5" fill="#0a800a" />
<circle cx="633.89" cy="424.44" r="1.5" fill="#0a800a" />
<circle cx="646.56" cy="422.22" r="1.5" fill="#0a800a" />
<circle cx="651.89" cy="420.67" r="1.5" fill="#0a800a" />
<circle cx="652.11" cy="424.44" r="1.5" fill="#0a800a" />
<circle cx="631.67" cy="432.67" r="1.5" fill="#0a800a" />
<circle cx="635.00" cy="430.44" r="1.5" fill="#0a800a" />
<circle cx="643.44" cy="430.00" r="1.5" fill="#0a800a" />
<circle cx="646.11" cy="429.33" r="1.5" fill="#0a800a" />
<circle cx="642.78" cy="435.11" r="1.5" fill="#0a800a" />
<circle cx="644.56" cy="436.22" r="1.5" fill="#0a800a" />
<circle cx="652.78" cy="428.89" r="1.5" fill="#0a800a" />
<circle cx="654.56" cy="428.22" r="1.5" fill="#0a800a" />
<circle cx="657.22" cy="431.11" r="1.5" fill="#0a800a" />
<circle cx="659.89" cy="426.00" r="1.5" fill="#0a800a" />
<circle cx="635.00" cy="441.11" r="1.5" fill="#0a800a" />
<circle cx="637.22" cy="444.44" r="1.5" fill="#0a800a" />
<circle cx="646.78" cy="444.22" r="1.5" fill="#0a800a" />
<circle cx="643.22" cy="448.22" r="1.5" fill="#0a800a" />
<circle cx="655.67" cy="447.78" r="1.5" fill="#0a800a" />
<circle cx="665.67" cy="444.22" r="1.5" fill="#0a800a" />
<circle cx="668.78" cy="433.78" r="1.5" fill="#0a800a" />
<circle cx="673.89" cy="430.00" r="1.5" fill="#0a800a" />
<circle cx="676.56" cy="439.33" r="1.5" fill="#0a800a" />
<circle cx="678.78" cy="451.11" r="1.5" fill="#0a800a" />
<circle cx="678.78" cy="463.33" r="1.5" fill="#0a800a" />
<circle cx="693.44" cy="414.67" r="1.5" fill="#0a800a" />
<rect x="652.49" y="414.60" width="2.8" height="2.8" fill="#e9a11a" stroke="none" stroke-width="0"/>
<rect x="653.60" y="418.16" width="2.8" height="2.8" fill="#e9a11a" stroke="none" stroke-width="0"/>
<rect x="645.16" y="423.04" width="2.8" height="2.8" fill="#e9a11a" stroke="none" stroke-width="0"/>
<rect x="665.38" y="419.27" width="2.8" height="2.8" fill="#e9a11a" stroke="none" stroke-width="0"/>
<rect x="672.04" y="422.38" width="2.8" height="2.8" fill="#e9a11a" stroke="none" stroke-width="0"/>
<rect x="674.71" y="421.49" width="2.8" height="2.8" fill="#e9a11a" stroke="none" stroke-width="0"/>
<rect x="651.38" y="430.82" width="2.8" height="2.8" fill="#e9a11a" stroke="none" stroke-width="0"/>
<rect x="648.04" y="436.82" width="2.8" height="2.8" fill="#e9a11a" stroke="none" stroke-width="0"/>
<rect x="641.82" y="440.82" width="2.8" height="2.8" fill="#e9a11a" stroke="none" stroke-width="0"/>
<rect x="660.93" y="441.49" width="2.8" height="2.8" fill="#e9a11a" stroke="none" stroke-width="0"/>
<circle cx="485.00" cy="497.33" r="1.5" fill="#0a800a" />
<circle cx="485.89" cy="499.56" r="1.5" fill="#0a800a" />
<circle cx="488.78" cy="497.11" r="1.5" fill="#0a800a" />
<circle cx="489.44" cy="496.67" r="1.5" fill="#0a800a" />
<circle cx="489.89" cy="497.33" r="1.5" fill="#0a800a" />
<circle cx="488.33" cy="502.22" r="1.5" fill="#0a800a" />
<circle cx="487.89" cy="504.89" r="1.5" fill="#0a800a" />
<circle cx="488.78" cy="508.00" r="1.5" fill="#0a800a" />
<circle cx="490.56" cy="510.44" r="1.5" fill="#0a800a" />
<circle cx="493.22" cy="505.11" r="1.5" fill="#0a800a" />
<circle cx="494.56" cy="512.67" r="1.5" fill="#0a800a" />
<circle cx="495.67" cy="511.78" r="1.5" fill="#0a800a" />
<circle cx="496.11" cy="506.22" r="1.5" fill="#0a800a" />
<circle cx="495.67" cy="500.44" r="1.5" fill="#0a800a" />
<circle cx="497.22" cy="510.44" r="1.5" fill="#0a800a" />
<circle cx="499.00" cy="502.22" r="1.5" fill="#0a800a" />
<circle cx="501.00" cy="502.89" r="1.5" fill="#0a800a" />
<circle cx="502.33" cy="504.44" r="1.5" fill="#0a800a" />
<circle cx="505.67" cy="498.22" r="1.5" fill="#0a800a" />
<circle cx="506.56" cy="500.44" r="1.5" fill="#0a800a" />
<circle cx="507.22" cy="502.22" r="1.5" fill="#0a800a" />
<circle cx="509.67" cy="502.22" r="1.5" fill="#0a800a" />
<circle cx="511.00" cy="498.22" r="1.5" fill="#0a800a" />
<circle cx="489.22" cy="523.56" r="1.5" fill="#0a800a" />
<circle cx="498.56" cy="518.89" r="1.5" fill="#0a800a" />
<circle cx="505.44" cy="522.67" r="1.5" fill="#0a800a" />
<circle cx="500.11" cy="526.67" r="1.5" fill="#0a800a" />
<circle cx="508.78" cy="526.89" r="1.5" fill="#0a800a" />
<circle cx="499.89" cy="533.33" r="1.5" fill="#0a800a" />
<circle cx="513.44" cy="542.00" r="1.5" fill="#0a800a" />
<circle cx="519.44" cy="508.44" r="1.5" fill="#0a800a" />
<circle cx="521.67" cy="508.44" r="1.5" fill="#0a800a" />
<circle cx="526.78" cy="526.22" r="1.5" fill="#0a800a" />
<circle cx="530.11" cy="547.78" r="1.5" fill="#0a800a" />
<circle cx="531.89" cy="546.22" r="1.5" fill="#0a800a" />
<circle cx="532.33" cy="497.11" r="1.5" fill="#0a800a" />
<circle cx="546.56" cy="545.78" r="1.5" fill="#0a800a" />
<circle cx="496.33" cy="552.00" r="1.5" fill="#0a800a" />
<rect x="506.93" y="495.71" width="2.8" height="2.8" fill="#e9a11a" stroke="none" stroke-width="0"/>
<rect x="505.16" y="503.04" width="2.8" height="2.8" fill="#e9a11a" stroke="none" stroke-width="0"/>
<rect x="498.71" y="510.38" width="2.8" height="2.8" fill="#e9a11a" stroke="none" stroke-width="0"/>
<rect x="506.04" y="512.82" width="2.8" height="2.8" fill="#e9a11a" stroke="none" stroke-width="0"/>
<rect x="518.71" y="504.38" width="2.8" height="2.8" fill="#e9a11a" stroke="none" stroke-width="0"/>
<rect x="528.04" y="508.38" width="2.8" height="2.8" fill="#e9a11a" stroke="none" stroke-width="0"/>
<rect x="525.16" y="524.16" width="2.8" height="2.8" fill="#e9a11a" stroke="none" stroke-width="0"/>
<rect x="495.16" y="534.38" width="2.8" height="2.8" fill="#e9a11a" stroke="none" stroke-width="0"/>
<rect x="501.38" y="537.04" width="2.8" height="2.8" fill="#e9a11a" stroke="none" stroke-width="0"/>
<rect x="514.27" y="541.04" width="2.8" height="2.8" fill="#e9a11a" stroke="none" stroke-width="0"/>
<circle cx="562.33" cy="496.67" r="1.5" fill="#0a800a" />
<circle cx="566.78" cy="497.33" r="1.5" fill="#0a800a" />
<circle cx="568.33" cy="496.89" r="1.5" fill="#0a800a" />
<circle cx="569.44" cy="496.67" r="1.5" fill="#0a800a" />
<circle cx="560.78" cy="500.67" r="1.5" fill="#0a800a" />
<circle cx="559.44" cy="504.00" r="1.5" fill="#0a800a" />
<circle cx="561.22" cy="504.00" r="1.5" fill="#0a800a" />
<circle cx="562.33" cy="506.67" r="1.5" fill="#0a800a" />
<circle cx="572.33" cy="499.56" r="1.5" fill="#0a800a" />
<circle cx="574.33" cy="502.22" r="1.5" fill="#0a800a" />
<circle cx="576.11" cy="502.89" r="1.5" fill="#0a800a" />
<circle cx="579.00" cy="502.22" r="1.5" fill="#0a800a" />
<circle cx="563.89" cy="512.22" r="1.5" fill="#0a800a" />
<circle cx="558.33" cy="514.89" r="1.5" fill="#0a800a" />
<circle cx="571.22" cy="513.33" r="1.5" fill="#0a800a" />
<circle cx="570.78" cy="516.22" r="1.5" fill="#0a800a" />
<circle cx="579.00" cy="510.44" r="1.5" fill="#0a800a" />
<circle cx="568.33" cy="520.00" r="1.5" fill="#0a800a" />
<circle cx="569.89" cy="520.67" r="1.5" fill="#0a800a" />
<circle cx="562.11" cy="522.89" r="1.5" fill="#0a800a" />
<circle cx="572.11" cy="524.00" r="1.5" fill="#0a800a" />
<circle cx="582.33" cy="523.11" r="1.5" fill="#0a800a" />
<circle cx="592.33" cy="517.11" r="1.5" fill="#0a800a" />
<circle cx="585.00" cy="531.56" r="1.5" fill="#0a800a" />
<circle cx="586.56" cy="536.44" r="1.5" fill="#0a800a" />
<circle cx="563.89" cy="536.22" r="1.5" fill="#0a800a" />
<circle cx="573.44" cy="539.11" r="1.5" fill="#0a800a" />
<circle cx="569.89" cy="544.44" r="1.5" fill="#0a800a" />
<circle cx="582.33" cy="549.11" r="1.5" fill="#0a800a" />
<circle cx="595.44" cy="505.56" r="1.5" fill="#0a800a" />
<circle cx="600.56" cy="505.56" r="1.5" fill="#0a800a" />
<circle cx="605.44" cy="504.00" r="1.5" fill="#0a800a" />
<circle cx="605.44" cy="522.67" r="1.5" fill="#0a800a" />
<circle cx="603.22" cy="546.22" r="1.5" fill="#0a800a" />
<circle cx="620.11" cy="511.78" r="1.5" fill="#0a800a" />
<rect x="572.49" y="498.16" width="2.8" height="2.8" fill="#e9a11a" stroke="none" stroke-width="0"/>
<rect x="574.71" y="497.49" width="2.8" height="2.8" fill="#e9a11a" stroke="none" stroke-width="0"/>
<rect x="578.49" y="501.71" width="2.8" height="2.8" fill="#e9a11a" stroke="none" stroke-width="0"/>
<rect x="579.38" y="503.04" width="2.8" height="2.8" fill="#e9a11a" stroke="none" stroke-width="0"/>
<rect x="587.60" y="501.93" width="2.8" height="2.8" fill="#e9a11a" stroke="none" stroke-width="0"/>
<rect x="580.71" y="509.04" width="2.8" height="2.8" fill="#e9a11a" stroke="none" stroke-width="0"/>
<rect x="598.49" y="508.38" width="2.8" height="2.8" fill="#e9a11a" stroke="none" stroke-width="0"/>
<rect x="568.49" y="512.82" width="2.8" height="2.8" fill="#e9a11a" stroke="none" stroke-width="0"/>
<rect x="601.38" y="529.71" width="2.8" height="2.8" fill="#e9a11a" stroke="none" stroke-width="0"/>
<rect x="592.04" y="551.04" width="2.8" height="2.8" fill="#e9a11a" stroke="none" stroke-width="0"/>
<rect x="509.90" y="394.40" width="11.00" height="7.70" fill="#b7dcb4" stroke="none" stroke-width="0" />
<text x="515.40" y="400.20" font-size="6.3" text-anchor="middle" fill="#333" font-family="DejaVu Sans, sans-serif" ><tspan font-style="italic">σ</tspan><tspan font-size="3.8" dy="1.1">B<tspan font-size="2.6" dy="0.6">x</tspan></tspan></text>
<text x="483.90" y="474.30" font-size="6.0" text-anchor="middle" fill="#333" font-family="DejaVu Sans, sans-serif" >0</text>
<text x="502.14" y="474.30" font-size="6.0" text-anchor="middle" fill="#333" font-family="DejaVu Sans, sans-serif" >10</text>
<text x="520.38" y="474.30" font-size="6.0" text-anchor="middle" fill="#333" font-family="DejaVu Sans, sans-serif" >20</text>
<text x="538.62" y="474.30" font-size="6.0" text-anchor="middle" fill="#333" font-family="DejaVu Sans, sans-serif" >30</text>
<rect x="583.50" y="394.40" width="11.00" height="7.70" fill="#b7dcb4" stroke="none" stroke-width="0" />
<text x="589.00" y="400.20" font-size="6.3" text-anchor="middle" fill="#333" font-family="DejaVu Sans, sans-serif" ><tspan font-style="italic">σ</tspan><tspan font-size="3.8" dy="1.1">B<tspan font-size="2.6" dy="0.6">y</tspan></tspan></text>
<text x="557.10" y="474.30" font-size="6.0" text-anchor="middle" fill="#333" font-family="DejaVu Sans, sans-serif" >0</text>
<text x="575.34" y="474.30" font-size="6.0" text-anchor="middle" fill="#333" font-family="DejaVu Sans, sans-serif" >10</text>
<text x="593.58" y="474.30" font-size="6.0" text-anchor="middle" fill="#333" font-family="DejaVu Sans, sans-serif" >20</text>
<text x="611.82" y="474.30" font-size="6.0" text-anchor="middle" fill="#333" font-family="DejaVu Sans, sans-serif" >30</text>
<rect x="656.40" y="394.40" width="11.00" height="7.70" fill="#b7dcb4" stroke="none" stroke-width="0" />
<text x="661.90" y="400.20" font-size="6.3" text-anchor="middle" fill="#333" font-family="DejaVu Sans, sans-serif" ><tspan font-style="italic">σ</tspan><tspan font-size="3.8" dy="1.1">B<tspan font-size="2.6" dy="0.6">z</tspan></tspan></text>
<text x="630.00" y="474.30" font-size="6.0" text-anchor="middle" fill="#333" font-family="DejaVu Sans, sans-serif" >0</text>
<text x="648.24" y="474.30" font-size="6.0" text-anchor="middle" fill="#333" font-family="DejaVu Sans, sans-serif" >10</text>
<text x="666.48" y="474.30" font-size="6.0" text-anchor="middle" fill="#333" font-family="DejaVu Sans, sans-serif" >20</text>
<text x="684.72" y="474.30" font-size="6.0" text-anchor="middle" fill="#333" font-family="DejaVu Sans, sans-serif" >30</text>
<rect x="508.65" y="483.70" width="13.50" height="7.70" fill="#b7dcb4" stroke="none" stroke-width="0" />
<text x="515.40" y="489.50" font-size="6.3" text-anchor="middle" fill="#333" font-family="DejaVu Sans, sans-serif" ><tspan font-style="italic">σ</tspan><tspan font-size="3.8" dy="1.1">B<tspan font-size="2.6" dy="0.6">tot</tspan></tspan></text>
<text x="483.90" y="563.90" font-size="6.0" text-anchor="middle" fill="#333" font-family="DejaVu Sans, sans-serif" >0</text>
<text x="502.14" y="563.90" font-size="6.0" text-anchor="middle" fill="#333" font-family="DejaVu Sans, sans-serif" >10</text>
<text x="520.38" y="563.90" font-size="6.0" text-anchor="middle" fill="#333" font-family="DejaVu Sans, sans-serif" >20</text>
<text x="538.62" y="563.90" font-size="6.0" text-anchor="middle" fill="#333" font-family="DejaVu Sans, sans-serif" >30</text>
<rect x="583.50" y="483.70" width="11.00" height="7.70" fill="#b7dcb4" stroke="none" stroke-width="0" />
<text x="589.00" y="489.50" font-size="6.3" text-anchor="middle" fill="#333" font-family="DejaVu Sans, sans-serif" ><tspan font-style="italic">σ</tspan><tspan font-size="3.8" dy="1.1">V<tspan font-size="2.6" dy="0.6">p</tspan></tspan></text>
<text x="557.10" y="563.90" font-size="6.0" text-anchor="middle" fill="#333" font-family="DejaVu Sans, sans-serif" >0</text>
<text x="575.34" y="563.90" font-size="6.0" text-anchor="middle" fill="#333" font-family="DejaVu Sans, sans-serif" >10</text>
<text x="593.58" y="563.90" font-size="6.0" text-anchor="middle" fill="#333" font-family="DejaVu Sans, sans-serif" >20</text>
<text x="611.82" y="563.90" font-size="6.0" text-anchor="middle" fill="#333" font-family="DejaVu Sans, sans-serif" >30</text>
<text x="481.30" y="406.60" font-size="6.0" text-anchor="end" fill="#333" font-family="DejaVu Sans, sans-serif" >1.0</text>
<text x="481.30" y="422.42" font-size="6.0" text-anchor="end" fill="#333" font-family="DejaVu Sans, sans-serif" >0.5</text>
<text x="481.30" y="438.25" font-size="6.0" text-anchor="end" fill="#333" font-family="DejaVu Sans, sans-serif" >0.0</text>
<text x="481.30" y="454.07" font-size="6.0" text-anchor="end" fill="#333" font-family="DejaVu Sans, sans-serif" >−0.5</text>
<text x="481.30" y="469.90" font-size="6.0" text-anchor="end" fill="#333" font-family="DejaVu Sans, sans-serif" >−1.0</text>
<text x="481.30" y="495.90" font-size="6.0" text-anchor="end" fill="#333" font-family="DejaVu Sans, sans-serif" >1.0</text>
<text x="481.30" y="511.80" font-size="6.0" text-anchor="end" fill="#333" font-family="DejaVu Sans, sans-serif" >0.5</text>
<text x="481.30" y="527.70" font-size="6.0" text-anchor="end" fill="#333" font-family="DejaVu Sans, sans-serif" >0.0</text>
<text x="481.30" y="543.60" font-size="6.0" text-anchor="end" fill="#333" font-family="DejaVu Sans, sans-serif" >−0.5</text>
<text x="481.30" y="559.50" font-size="6.0" text-anchor="end" fill="#333" font-family="DejaVu Sans, sans-serif" >−1.0</text>
<text x="463.60" y="483.60" font-size="7.4" text-anchor="middle" fill="#333" font-family="DejaVu Sans, sans-serif" transform="rotate(-90 463.60 483.60)" >Pearson Correlation co-efficients</text>
<text x="515.40" y="571.60" font-size="6.6" text-anchor="middle" fill="#333" font-family="DejaVu Sans, sans-serif" >Δ<tspan font-style="italic">α</tspan> [ ˚ ]</text>
<text x="589.00" y="571.60" font-size="6.6" text-anchor="middle" fill="#333" font-family="DejaVu Sans, sans-serif" >Δ<tspan font-style="italic">α</tspan> [ ˚ ]</text>
<rect x="838.30" y="402.30" width="65.00" height="65.60" fill="#fff" stroke="#cfcfcf" stroke-width="0.6"/>
<rect x="916.20" y="402.30" width="64.70" height="65.60" fill="#fff" stroke="#cfcfcf" stroke-width="0.6"/>
<rect x="993.70" y="402.30" width="64.70" height="65.60" fill="#fff" stroke="#cfcfcf" stroke-width="0.6"/>
<rect x="838.30" y="494.00" width="65.00" height="65.30" fill="#fff" stroke="#cfcfcf" stroke-width="0.6"/>
<rect x="916.20" y="494.00" width="64.70" height="65.30" fill="#fff" stroke="#cfcfcf" stroke-width="0.6"/>
<line x1="840.10" y1="467.94" x2="899.60" y2="420.72" stroke="#ffb3b3" stroke-width="0.6" />
<line x1="917.69" y1="467.94" x2="977.18" y2="416.12" stroke="#ffb3b3" stroke-width="0.6" />
<line x1="995.27" y1="467.94" x2="1052.92" y2="410.60" stroke="#ffb3b3" stroke-width="0.6" />
<line x1="840.10" y1="559.33" x2="899.60" y2="525.59" stroke="#ffb3b3" stroke-width="0.6" />
<line x1="917.69" y1="559.33" x2="977.18" y2="516.39" stroke="#ffb3b3" stroke-width="0.6" />
<circle cx="841.67" cy="456.67" r="1.5" fill="#0a800a" />
<circle cx="842.78" cy="452.22" r="1.5" fill="#0a800a" />
<circle cx="844.33" cy="451.11" r="1.5" fill="#0a800a" />
<circle cx="845.00" cy="456.22" r="1.5" fill="#0a800a" />
<circle cx="845.44" cy="457.78" r="1.5" fill="#0a800a" />
<circle cx="846.11" cy="458.89" r="1.5" fill="#0a800a" />
<circle cx="846.78" cy="450.00" r="1.5" fill="#0a800a" />
<circle cx="847.67" cy="446.67" r="1.5" fill="#0a800a" />
<circle cx="849.44" cy="452.89" r="1.5" fill="#0a800a" />
<circle cx="851.00" cy="449.33" r="1.5" fill="#0a800a" />
<circle cx="851.67" cy="452.22" r="1.5" fill="#0a800a" />
<circle cx="853.22" cy="451.11" r="1.5" fill="#0a800a" />
<circle cx="851.22" cy="424.00" r="1.5" fill="#0a800a" />
<circle cx="852.33" cy="436.67" r="1.5" fill="#0a800a" />
<circle cx="852.33" cy="442.22" r="1.5" fill="#0a800a" />
<circle cx="853.89" cy="445.56" r="1.5" fill="#0a800a" />
<circle cx="855.44" cy="439.33" r="1.5" fill="#0a800a" />
<circle cx="856.11" cy="443.33" r="1.5" fill="#0a800a" />
<circle cx="857.22" cy="446.67" r="1.5" fill="#0a800a" />
<circle cx="858.33" cy="452.89" r="1.5" fill="#0a800a" />
<circle cx="861.00" cy="420.00" r="1.5" fill="#0a800a" />
<circle cx="861.00" cy="435.56" r="1.5" fill="#0a800a" />
<circle cx="861.67" cy="456.00" r="1.5" fill="#0a800a" />
<circle cx="862.33" cy="460.00" r="1.5" fill="#0a800a" />
<circle cx="863.89" cy="448.22" r="1.5" fill="#0a800a" />
<circle cx="866.56" cy="449.56" r="1.5" fill="#0a800a" />
<circle cx="868.33" cy="436.22" r="1.5" fill="#0a800a" />
<circle cx="873.89" cy="436.00" r="1.5" fill="#0a800a" />
<circle cx="876.56" cy="440.67" r="1.5" fill="#0a800a" />
<circle cx="881.67" cy="452.89" r="1.5" fill="#0a800a" />
<circle cx="884.33" cy="441.56" r="1.5" fill="#0a800a" />
<circle cx="886.11" cy="449.56" r="1.5" fill="#0a800a" />
<circle cx="886.11" cy="456.67" r="1.5" fill="#0a800a" />
<circle cx="900.11" cy="426.89" r="1.5" fill="#0a800a" />
<rect x="854.04" y="439.71" width="2.8" height="2.8" fill="#e9a11a" stroke="none" stroke-width="0"/>
<rect x="850.93" y="451.93" width="2.8" height="2.8" fill="#e9a11a" stroke="none" stroke-width="0"/>
<rect x="858.04" y="446.38" width="2.8" height="2.8" fill="#e9a11a" stroke="none" stroke-width="0"/>
<rect x="860.71" y="437.93" width="2.8" height="2.8" fill="#e9a11a" stroke="none" stroke-width="0"/>
<rect x="862.04" y="440.16" width="2.8" height="2.8" fill="#e9a11a" stroke="none" stroke-width="0"/>
<rect x="869.16" y="442.60" width="2.8" height="2.8" fill="#e9a11a" stroke="none" stroke-width="0"/>
<rect x="873.16" y="444.60" width="2.8" height="2.8" fill="#e9a11a" stroke="none" stroke-width="0"/>
<rect x="879.60" y="448.16" width="2.8" height="2.8" fill="#e9a11a" stroke="none" stroke-width="0"/>
<rect x="882.49" y="446.82" width="2.8" height="2.8" fill="#e9a11a" stroke="none" stroke-width="0"/>
<circle cx="919.44" cy="457.78" r="1.5" fill="#0a800a" />
<circle cx="920.56" cy="459.33" r="1.5" fill="#0a800a" />
<circle cx="921.67" cy="461.11" r="1.5" fill="#0a800a" />
<circle cx="922.78" cy="462.22" r="1.5" fill="#0a800a" />
<circle cx="922.33" cy="455.56" r="1.5" fill="#0a800a" />
<circle cx="923.89" cy="448.22" r="1.5" fill="#0a800a" />
<circle cx="924.56" cy="445.56" r="1.5" fill="#0a800a" />
<circle cx="926.11" cy="443.33" r="1.5" fill="#0a800a" />
<circle cx="923.44" cy="425.56" r="1.5" fill="#0a800a" />
<circle cx="928.33" cy="433.78" r="1.5" fill="#0a800a" />
<circle cx="928.33" cy="450.00" r="1.5" fill="#0a800a" />
<circle cx="929.44" cy="452.89" r="1.5" fill="#0a800a" />
<circle cx="929.89" cy="455.56" r="1.5" fill="#0a800a" />
<circle cx="931.00" cy="443.33" r="1.5" fill="#0a800a" />
<circle cx="931.00" cy="420.00" r="1.5" fill="#0a800a" />
<circle cx="932.78" cy="444.00" r="1.5" fill="#0a800a" />
<circle cx="934.33" cy="447.33" r="1.5" fill="#0a800a" />
<circle cx="935.67" cy="453.78" r="1.5" fill="#0a800a" />
<circle cx="936.78" cy="443.78" r="1.5" fill="#0a800a" />
<circle cx="938.78" cy="426.22" r="1.5" fill="#0a800a" />
<circle cx="939.44" cy="448.89" r="1.5" fill="#0a800a" />
<circle cx="941.22" cy="436.00" r="1.5" fill="#0a800a" />
<circle cx="943.22" cy="436.67" r="1.5" fill="#0a800a" />
<circle cx="946.11" cy="432.22" r="1.5" fill="#0a800a" />
<circle cx="951.00" cy="422.67" r="1.5" fill="#0a800a" />
<circle cx="953.89" cy="439.33" r="1.5" fill="#0a800a" />
<circle cx="959.44" cy="444.00" r="1.5" fill="#0a800a" />
<circle cx="961.00" cy="443.33" r="1.5" fill="#0a800a" />
<circle cx="963.44" cy="437.78" r="1.5" fill="#0a800a" />
<circle cx="963.44" cy="452.67" r="1.5" fill="#0a800a" />
<circle cx="977.67" cy="428.44" r="1.5" fill="#0a800a" />
<rect x="928.49" y="445.27" width="2.8" height="2.8" fill="#e9a11a" stroke="none" stroke-width="0"/>
<rect x="932.49" y="445.27" width="2.8" height="2.8" fill="#e9a11a" stroke="none" stroke-width="0"/>
<rect x="935.38" y="444.60" width="2.8" height="2.8" fill="#e9a11a" stroke="none" stroke-width="0"/>
<rect x="938.04" y="427.93" width="2.8" height="2.8" fill="#e9a11a" stroke="none" stroke-width="0"/>
<rect x="939.16" y="435.93" width="2.8" height="2.8" fill="#e9a11a" stroke="none" stroke-width="0"/>
<rect x="939.82" y="454.16" width="2.8" height="2.8" fill="#e9a11a" stroke="none" stroke-width="0"/>
<rect x="946.93" y="455.27" width="2.8" height="2.8" fill="#e9a11a" stroke="none" stroke-width="0"/>
<rect x="950.93" y="429.27" width="2.8" height="2.8" fill="#e9a11a" stroke="none" stroke-width="0"/>
<rect x="956.93" y="444.60" width="2.8" height="2.8" fill="#e9a11a" stroke="none" stroke-width="0"/>
<rect x="959.60" y="448.60" width="2.8" height="2.8" fill="#e9a11a" stroke="none" stroke-width="0"/>
<circle cx="996.56" cy="450.00" r="1.5" fill="#0a800a" />
<circle cx="997.67" cy="452.22" r="1.5" fill="#0a800a" />
<circle cx="998.78" cy="453.33" r="1.5" fill="#0a800a" />
<circle cx="999.44" cy="454.89" r="1.5" fill="#0a800a" />
<circle cx="1000.11" cy="456.67" r="1.5" fill="#0a800a" />
<circle cx="1000.78" cy="448.89" r="1.5" fill="#0a800a" />
<circle cx="1002.11" cy="448.22" r="1.5" fill="#0a800a" />
<circle cx="1000.56" cy="451.78" r="1.5" fill="#0a800a" />
<circle cx="1005.00" cy="441.11" r="1.5" fill="#0a800a" />
<circle cx="1006.11" cy="436.00" r="1.5" fill="#0a800a" />
<circle cx="1007.89" cy="436.00" r="1.5" fill="#0a800a" />
<circle cx="1007.22" cy="444.00" r="1.5" fill="#0a800a" />
<circle cx="1009.44" cy="444.89" r="1.5" fill="#0a800a" />
<circle cx="1008.33" cy="418.22" r="1.5" fill="#0a800a" />
<circle cx="1006.78" cy="454.44" r="1.5" fill="#0a800a" />
<circle cx="1011.00" cy="452.89" r="1.5" fill="#0a800a" />
<circle cx="1012.78" cy="449.56" r="1.5" fill="#0a800a" />
<circle cx="1016.11" cy="447.78" r="1.5" fill="#0a800a" />
<circle cx="1016.78" cy="451.78" r="1.5" fill="#0a800a" />
<circle cx="1017.67" cy="445.56" r="1.5" fill="#0a800a" />
<circle cx="1019.44" cy="425.56" r="1.5" fill="#0a800a" />
<circle cx="1019.00" cy="408.89" r="1.5" fill="#0a800a" />
<circle cx="1021.22" cy="445.56" r="1.5" fill="#0a800a" />
<circle cx="1023.44" cy="440.67" r="1.5" fill="#0a800a" />
<circle cx="1028.78" cy="423.78" r="1.5" fill="#0a800a" />
<circle cx="1031.67" cy="445.56" r="1.5" fill="#0a800a" />
<circle cx="1036.11" cy="432.22" r="1.5" fill="#0a800a" />
<circle cx="1039.44" cy="441.11" r="1.5" fill="#0a800a" />
<circle cx="1041.22" cy="441.11" r="1.5" fill="#0a800a" />
<circle cx="1041.22" cy="423.33" r="1.5" fill="#0a800a" />
<circle cx="1055.00" cy="428.44" r="1.5" fill="#0a800a" />
<rect x="1015.16" y="410.16" width="2.8" height="2.8" fill="#e9a11a" stroke="none" stroke-width="0"/>
<rect x="1006.27" y="437.49" width="2.8" height="2.8" fill="#e9a11a" stroke="none" stroke-width="0"/>
<rect x="1009.16" y="437.49" width="2.8" height="2.8" fill="#e9a11a" stroke="none" stroke-width="0"/>
<rect x="1012.93" y="434.60" width="2.8" height="2.8" fill="#e9a11a" stroke="none" stroke-width="0"/>
<rect x="1016.27" y="441.93" width="2.8" height="2.8" fill="#e9a11a" stroke="none" stroke-width="0"/>
<rect x="1024.04" y="441.49" width="2.8" height="2.8" fill="#e9a11a" stroke="none" stroke-width="0"/>
<rect x="1016.93" y="454.60" width="2.8" height="2.8" fill="#e9a11a" stroke="none" stroke-width="0"/>
<rect x="1028.04" y="446.82" width="2.8" height="2.8" fill="#e9a11a" stroke="none" stroke-width="0"/>
<rect x="1034.27" y="445.93" width="2.8" height="2.8" fill="#e9a11a" stroke="none" stroke-width="0"/>
<rect x="1036.93" y="436.82" width="2.8" height="2.8" fill="#e9a11a" stroke="none" stroke-width="0"/>
<circle cx="841.67" cy="556.22" r="1.5" fill="#0a800a" />
<circle cx="843.44" cy="556.67" r="1.5" fill="#0a800a" />
<circle cx="842.11" cy="548.89" r="1.5" fill="#0a800a" />
<circle cx="845.00" cy="554.44" r="1.5" fill="#0a800a" />
<circle cx="845.67" cy="552.22" r="1.5" fill="#0a800a" />
<circle cx="846.78" cy="551.11" r="1.5" fill="#0a800a" />
<circle cx="845.44" cy="547.11" r="1.5" fill="#0a800a" />
<circle cx="849.44" cy="546.22" r="1.5" fill="#0a800a" />
<circle cx="851.00" cy="545.56" r="1.5" fill="#0a800a" />
<circle cx="852.33" cy="554.44" r="1.5" fill="#0a800a" />
<circle cx="853.89" cy="551.11" r="1.5" fill="#0a800a" />
<circle cx="853.44" cy="552.89" r="1.5" fill="#0a800a" />
<circle cx="851.22" cy="541.11" r="1.5" fill="#0a800a" />
<circle cx="852.33" cy="538.89" r="1.5" fill="#0a800a" />
<circle cx="852.33" cy="537.11" r="1.5" fill="#0a800a" />
<circle cx="855.44" cy="552.22" r="1.5" fill="#0a800a" />
<circle cx="856.11" cy="542.22" r="1.5" fill="#0a800a" />
<circle cx="857.22" cy="548.89" r="1.5" fill="#0a800a" />
<circle cx="856.11" cy="546.22" r="1.5" fill="#0a800a" />
<circle cx="861.00" cy="550.67" r="1.5" fill="#0a800a" />
<circle cx="861.22" cy="553.33" r="1.5" fill="#0a800a" />
<circle cx="862.11" cy="538.22" r="1.5" fill="#0a800a" />
<circle cx="862.78" cy="539.56" r="1.5" fill="#0a800a" />
<circle cx="863.89" cy="532.89" r="1.5" fill="#0a800a" />
<circle cx="864.33" cy="545.11" r="1.5" fill="#0a800a" />
<circle cx="866.56" cy="538.44" r="1.5" fill="#0a800a" />
<circle cx="868.33" cy="530.00" r="1.5" fill="#0a800a" />
<circle cx="873.89" cy="521.56" r="1.5" fill="#0a800a" />
<circle cx="876.56" cy="533.78" r="1.5" fill="#0a800a" />
<circle cx="881.67" cy="544.44" r="1.5" fill="#0a800a" />
<circle cx="884.33" cy="554.00" r="1.5" fill="#0a800a" />
<circle cx="886.11" cy="540.44" r="1.5" fill="#0a800a" />
<circle cx="886.11" cy="546.67" r="1.5" fill="#0a800a" />
<circle cx="900.11" cy="536.22" r="1.5" fill="#0a800a" />
<rect x="850.93" y="545.93" width="2.8" height="2.8" fill="#e9a11a" stroke="none" stroke-width="0"/>
<rect x="854.04" y="544.82" width="2.8" height="2.8" fill="#e9a11a" stroke="none" stroke-width="0"/>
<rect x="858.04" y="536.38" width="2.8" height="2.8" fill="#e9a11a" stroke="none" stroke-width="0"/>
<rect x="860.27" y="541.93" width="2.8" height="2.8" fill="#e9a11a" stroke="none" stroke-width="0"/>
<rect x="862.04" y="537.49" width="2.8" height="2.8" fill="#e9a11a" stroke="none" stroke-width="0"/>
<rect x="861.38" y="547.04" width="2.8" height="2.8" fill="#e9a11a" stroke="none" stroke-width="0"/>
<rect x="869.16" y="546.82" width="2.8" height="2.8" fill="#e9a11a" stroke="none" stroke-width="0"/>
<rect x="873.16" y="542.60" width="2.8" height="2.8" fill="#e9a11a" stroke="none" stroke-width="0"/>
<rect x="879.60" y="537.93" width="2.8" height="2.8" fill="#e9a11a" stroke="none" stroke-width="0"/>
<rect x="882.49" y="531.49" width="2.8" height="2.8" fill="#e9a11a" stroke="none" stroke-width="0"/>
<circle cx="919.00" cy="546.67" r="1.5" fill="#0a800a" />
<circle cx="919.89" cy="554.00" r="1.5" fill="#0a800a" />
<circle cx="921.22" cy="550.67" r="1.5" fill="#0a800a" />
<circle cx="922.11" cy="555.11" r="1.5" fill="#0a800a" />
<circle cx="922.78" cy="540.00" r="1.5" fill="#0a800a" />
<circle cx="923.22" cy="542.22" r="1.5" fill="#0a800a" />
<circle cx="922.78" cy="548.89" r="1.5" fill="#0a800a" />
<circle cx="923.89" cy="552.22" r="1.5" fill="#0a800a" />
<circle cx="925.44" cy="544.00" r="1.5" fill="#0a800a" />
<circle cx="928.33" cy="540.44" r="1.5" fill="#0a800a" />
<circle cx="929.44" cy="550.67" r="1.5" fill="#0a800a" />
<circle cx="929.89" cy="552.22" r="1.5" fill="#0a800a" />
<circle cx="931.00" cy="544.00" r="1.5" fill="#0a800a" />
<circle cx="932.78" cy="548.89" r="1.5" fill="#0a800a" />
<circle cx="933.44" cy="528.89" r="1.5" fill="#0a800a" />
<circle cx="933.44" cy="538.22" r="1.5" fill="#0a800a" />
<circle cx="933.89" cy="542.22" r="1.5" fill="#0a800a" />
<circle cx="935.67" cy="548.22" r="1.5" fill="#0a800a" />
<circle cx="936.78" cy="546.22" r="1.5" fill="#0a800a" />
<circle cx="938.78" cy="546.22" r="1.5" fill="#0a800a" />
<circle cx="939.44" cy="547.78" r="1.5" fill="#0a800a" />
<circle cx="941.22" cy="534.89" r="1.5" fill="#0a800a" />
<circle cx="941.67" cy="527.78" r="1.5" fill="#0a800a" />
<circle cx="943.89" cy="537.33" r="1.5" fill="#0a800a" />
<circle cx="946.11" cy="514.00" r="1.5" fill="#0a800a" />
<circle cx="951.00" cy="526.00" r="1.5" fill="#0a800a" />
<circle cx="953.89" cy="546.22" r="1.5" fill="#0a800a" />
<circle cx="959.00" cy="550.00" r="1.5" fill="#0a800a" />
<circle cx="961.67" cy="513.33" r="1.5" fill="#0a800a" />
<circle cx="963.44" cy="506.00" r="1.5" fill="#0a800a" />
<circle cx="963.44" cy="543.78" r="1.5" fill="#0a800a" />
<circle cx="977.67" cy="537.11" r="1.5" fill="#0a800a" />
<rect x="946.93" y="502.38" width="2.8" height="2.8" fill="#e9a11a" stroke="none" stroke-width="0"/>
<rect x="939.16" y="528.16" width="2.8" height="2.8" fill="#e9a11a" stroke="none" stroke-width="0"/>
<rect x="935.38" y="537.04" width="2.8" height="2.8" fill="#e9a11a" stroke="none" stroke-width="0"/>
<rect x="928.49" y="545.27" width="2.8" height="2.8" fill="#e9a11a" stroke="none" stroke-width="0"/>
<rect x="931.82" y="550.16" width="2.8" height="2.8" fill="#e9a11a" stroke="none" stroke-width="0"/>
<rect x="938.04" y="548.60" width="2.8" height="2.8" fill="#e9a11a" stroke="none" stroke-width="0"/>
<rect x="939.82" y="549.04" width="2.8" height="2.8" fill="#e9a11a" stroke="none" stroke-width="0"/>
<rect x="950.93" y="541.93" width="2.8" height="2.8" fill="#e9a11a" stroke="none" stroke-width="0"/>
<rect x="956.93" y="545.93" width="2.8" height="2.8" fill="#e9a11a" stroke="none" stroke-width="0"/>
<rect x="959.60" y="545.71" width="2.8" height="2.8" fill="#e9a11a" stroke="none" stroke-width="0"/>
<rect x="858.55" y="392.70" width="24.50" height="7.90" fill="#b7dcb4" stroke="none" stroke-width="0" />
<text x="870.80" y="398.70" font-size="6.4" text-anchor="middle" fill="#333" font-family="DejaVu Sans, sans-serif" ><tspan font-style="italic">δ</tspan><tspan font-size="3.8" dy="1.1">B<tspan font-size="2.6" dy="0.6">x</tspan></tspan><tspan dy="-1.7"> [%]</tspan></text>
<rect x="872.00" y="404.90" width="29.10" height="6.40" fill="#dcebf5" stroke="none" stroke-width="0" />
<text x="886.60" y="410.00" font-size="5.2" text-anchor="middle" fill="#333" font-family="DejaVu Sans, sans-serif" >Corr: 0.27</text>
<text x="840.10" y="474.40" font-size="6.0" text-anchor="middle" fill="#333" font-family="DejaVu Sans, sans-serif" >0</text>
<text x="857.50" y="474.40" font-size="6.0" text-anchor="middle" fill="#333" font-family="DejaVu Sans, sans-serif" >10</text>
<text x="874.90" y="474.40" font-size="6.0" text-anchor="middle" fill="#333" font-family="DejaVu Sans, sans-serif" >20</text>
<text x="892.30" y="474.40" font-size="6.0" text-anchor="middle" fill="#333" font-family="DejaVu Sans, sans-serif" >30</text>
<text x="837.00" y="470.10" font-size="6.0" text-anchor="end" fill="#333" font-family="DejaVu Sans, sans-serif" >0</text>
<text x="837.00" y="452.97" font-size="6.0" text-anchor="end" fill="#333" font-family="DejaVu Sans, sans-serif" >25</text>
<text x="837.00" y="435.84" font-size="6.0" text-anchor="end" fill="#333" font-family="DejaVu Sans, sans-serif" >50</text>
<text x="837.00" y="418.71" font-size="6.0" text-anchor="end" fill="#333" font-family="DejaVu Sans, sans-serif" >75</text>
<rect x="936.30" y="392.70" width="24.50" height="7.90" fill="#b7dcb4" stroke="none" stroke-width="0" />
<text x="948.55" y="398.70" font-size="6.4" text-anchor="middle" fill="#333" font-family="DejaVu Sans, sans-serif" ><tspan font-style="italic">δ</tspan><tspan font-size="3.8" dy="1.1">B<tspan font-size="2.6" dy="0.6">y</tspan></tspan><tspan dy="-1.7"> [%]</tspan></text>
<rect x="949.60" y="404.90" width="29.10" height="6.40" fill="#dcebf5" stroke="none" stroke-width="0" />
<text x="964.20" y="410.00" font-size="5.2" text-anchor="middle" fill="#333" font-family="DejaVu Sans, sans-serif" >Corr: 0.38</text>
<text x="918.00" y="474.40" font-size="6.0" text-anchor="middle" fill="#333" font-family="DejaVu Sans, sans-serif" >0</text>
<text x="935.40" y="474.40" font-size="6.0" text-anchor="middle" fill="#333" font-family="DejaVu Sans, sans-serif" >10</text>
<text x="952.80" y="474.40" font-size="6.0" text-anchor="middle" fill="#333" font-family="DejaVu Sans, sans-serif" >20</text>
<text x="970.20" y="474.40" font-size="6.0" text-anchor="middle" fill="#333" font-family="DejaVu Sans, sans-serif" >30</text>
<text x="914.90" y="470.10" font-size="6.0" text-anchor="end" fill="#333" font-family="DejaVu Sans, sans-serif" >0</text>
<text x="914.90" y="452.97" font-size="6.0" text-anchor="end" fill="#333" font-family="DejaVu Sans, sans-serif" >25</text>
<text x="914.90" y="435.84" font-size="6.0" text-anchor="end" fill="#333" font-family="DejaVu Sans, sans-serif" >50</text>
<text x="914.90" y="418.71" font-size="6.0" text-anchor="end" fill="#333" font-family="DejaVu Sans, sans-serif" >75</text>
<rect x="1013.80" y="392.70" width="24.50" height="7.90" fill="#b7dcb4" stroke="none" stroke-width="0" />
<text x="1026.05" y="398.70" font-size="6.4" text-anchor="middle" fill="#333" font-family="DejaVu Sans, sans-serif" ><tspan font-style="italic">δ</tspan><tspan font-size="3.8" dy="1.1">B<tspan font-size="2.6" dy="0.6">z</tspan></tspan><tspan dy="-1.7"> [%]</tspan></text>
<rect x="1027.10" y="404.90" width="29.10" height="6.40" fill="#dcebf5" stroke="none" stroke-width="0" />
<text x="1041.70" y="410.00" font-size="5.2" text-anchor="middle" fill="#333" font-family="DejaVu Sans, sans-serif" >Corr: 0.37</text>
<text x="995.50" y="474.40" font-size="6.0" text-anchor="middle" fill="#333" font-family="DejaVu Sans, sans-serif" >0</text>
<text x="1012.90" y="474.40" font-size="6.0" text-anchor="middle" fill="#333" font-family="DejaVu Sans, sans-serif" >10</text>
<text x="1030.30" y="474.40" font-size="6.0" text-anchor="middle" fill="#333" font-family="DejaVu Sans, sans-serif" >20</text>
<text x="1047.70" y="474.40" font-size="6.0" text-anchor="middle" fill="#333" font-family="DejaVu Sans, sans-serif" >30</text>
<text x="992.40" y="470.10" font-size="6.0" text-anchor="end" fill="#333" font-family="DejaVu Sans, sans-serif" >0</text>
<text x="992.40" y="452.97" font-size="6.0" text-anchor="end" fill="#333" font-family="DejaVu Sans, sans-serif" >25</text>
<text x="992.40" y="435.84" font-size="6.0" text-anchor="end" fill="#333" font-family="DejaVu Sans, sans-serif" >50</text>
<text x="992.40" y="418.71" font-size="6.0" text-anchor="end" fill="#333" font-family="DejaVu Sans, sans-serif" >75</text>
<rect x="857.30" y="484.40" width="27.00" height="7.90" fill="#b7dcb4" stroke="none" stroke-width="0" />
<text x="870.80" y="490.40" font-size="6.4" text-anchor="middle" fill="#333" font-family="DejaVu Sans, sans-serif" ><tspan font-style="italic">δ</tspan><tspan font-size="3.8" dy="1.1">B<tspan font-size="2.6" dy="0.6">tot</tspan></tspan><tspan dy="-1.7"> [%]</tspan></text>
<rect x="872.00" y="496.60" width="29.10" height="6.40" fill="#dcebf5" stroke="none" stroke-width="0" />
<text x="886.60" y="501.70" font-size="5.2" text-anchor="middle" fill="#333" font-family="DejaVu Sans, sans-serif" >Corr: 0.52</text>
<text x="840.10" y="565.80" font-size="6.0" text-anchor="middle" fill="#333" font-family="DejaVu Sans, sans-serif" >0</text>
<text x="857.50" y="565.80" font-size="6.0" text-anchor="middle" fill="#333" font-family="DejaVu Sans, sans-serif" >10</text>
<text x="874.90" y="565.80" font-size="6.0" text-anchor="middle" fill="#333" font-family="DejaVu Sans, sans-serif" >20</text>
<text x="892.30" y="565.80" font-size="6.0" text-anchor="middle" fill="#333" font-family="DejaVu Sans, sans-serif" >30</text>
<text x="837.00" y="561.50" font-size="6.0" text-anchor="end" fill="#333" font-family="DejaVu Sans, sans-serif" >0</text>
<text x="837.00" y="544.37" font-size="6.0" text-anchor="end" fill="#333" font-family="DejaVu Sans, sans-serif" >25</text>
<text x="837.00" y="527.24" font-size="6.0" text-anchor="end" fill="#333" font-family="DejaVu Sans, sans-serif" >50</text>
<text x="837.00" y="510.11" font-size="6.0" text-anchor="end" fill="#333" font-family="DejaVu Sans, sans-serif" >75</text>
<rect x="936.30" y="484.40" width="24.50" height="7.90" fill="#b7dcb4" stroke="none" stroke-width="0" />
<text x="948.55" y="490.40" font-size="6.4" text-anchor="middle" fill="#333" font-family="DejaVu Sans, sans-serif" ><tspan font-style="italic">δ</tspan><tspan font-size="3.8" dy="1.1">V<tspan font-size="2.6" dy="0.6">p</tspan></tspan><tspan dy="-1.7"> [%]</tspan></text>
<rect x="949.60" y="496.60" width="29.10" height="6.40" fill="#dcebf5" stroke="none" stroke-width="0" />
<text x="964.20" y="501.70" font-size="5.2" text-anchor="middle" fill="#333" font-family="DejaVu Sans, sans-serif" >Corr: 0.46</text>
<text x="918.00" y="565.80" font-size="6.0" text-anchor="middle" fill="#333" font-family="DejaVu Sans, sans-serif" >0</text>
<text x="935.40" y="565.80" font-size="6.0" text-anchor="middle" fill="#333" font-family="DejaVu Sans, sans-serif" >10</text>
<text x="952.80" y="565.80" font-size="6.0" text-anchor="middle" fill="#333" font-family="DejaVu Sans, sans-serif" >20</text>
<text x="970.20" y="565.80" font-size="6.0" text-anchor="middle" fill="#333" font-family="DejaVu Sans, sans-serif" >30</text>
<text x="914.90" y="561.50" font-size="6.0" text-anchor="end" fill="#333" font-family="DejaVu Sans, sans-serif" >0</text>
<text x="914.90" y="542.90" font-size="6.0" text-anchor="end" fill="#333" font-family="DejaVu Sans, sans-serif" >10</text>
<text x="914.90" y="524.30" font-size="6.0" text-anchor="end" fill="#333" font-family="DejaVu Sans, sans-serif" >20</text>
<text x="914.90" y="505.70" font-size="6.0" text-anchor="end" fill="#333" font-family="DejaVu Sans, sans-serif" >30</text>
<text x="826.40" y="483.60" font-size="7.4" text-anchor="middle" fill="#333" font-family="DejaVu Sans, sans-serif" transform="rotate(-90 826.40 483.60)" >RMSE [%]</text>
<text x="869.80" y="572.60" font-size="6.6" text-anchor="middle" fill="#333" font-family="DejaVu Sans, sans-serif" >Δ<tspan font-style="italic">α</tspan> [ ˚ ]</text>
<text x="947.55" y="572.60" font-size="6.6" text-anchor="middle" fill="#333" font-family="DejaVu Sans, sans-serif" >Δ<tspan font-style="italic">α</tspan> [ ˚ ]</text>
<rect x="538.90" y="693.80" width="179.40" height="119.30" fill="#fff" stroke="#cfcfcf" stroke-width="0.6"/>
<circle cx="670.93" cy="699.67" r="2.15" fill="#0a0ae6" />
<circle cx="665.46" cy="714.33" r="2.15" fill="#0a0ae6" />
<circle cx="601.32" cy="721.76" r="2.15" fill="#0a0ae6" />
<circle cx="586.85" cy="747.77" r="2.15" fill="#0a0ae6" />
<circle cx="587.43" cy="778.08" r="2.15" fill="#0a0ae6" />
<circle cx="576.68" cy="786.29" r="2.15" fill="#0a0ae6" />
<circle cx="580.79" cy="792.16" r="2.15" fill="#0a0ae6" />
<circle cx="575.31" cy="796.65" r="2.15" fill="#0a0ae6" />
<circle cx="557.52" cy="794.50" r="2.15" fill="#0a0ae6" />
<circle cx="604.84" cy="800.57" r="2.15" fill="#0a0ae6" />
<circle cx="582.55" cy="807.80" r="2.15" fill="#0a0ae6" />
<circle cx="600.93" cy="713.35" r="2.15" fill="#0a7a0a" />
<circle cx="644.53" cy="717.26" r="2.15" fill="#0a7a0a" />
<circle cx="556.93" cy="772.02" r="2.15" fill="#0a7a0a" />
<circle cx="556.15" cy="782.58" r="2.15" fill="#0a7a0a" />
<circle cx="547.15" cy="800.37" r="2.15" fill="#0a7a0a" />
<circle cx="553.41" cy="802.32" r="2.15" fill="#0a7a0a" />
<circle cx="548.91" cy="805.84" r="2.15" fill="#0a7a0a" />
<circle cx="592.32" cy="800.96" r="2.15" fill="#0a7a0a" />
<circle cx="710.04" cy="790.98" r="2.15" fill="#0a7a0a" />
<rect x="604.26" y="713.55" width="3.9" height="3.9" fill="#87ceeb" stroke="#7f8c8d" stroke-width="0.5"/>
<rect x="637.89" y="707.49" width="3.9" height="3.9" fill="#87ceeb" stroke="#7f8c8d" stroke-width="0.5"/>
<rect x="626.35" y="777.69" width="3.9" height="3.9" fill="#87ceeb" stroke="#7f8c8d" stroke-width="0.5"/>
<rect x="584.51" y="788.64" width="3.9" height="3.9" fill="#87ceeb" stroke="#7f8c8d" stroke-width="0.5"/>
<rect x="654.71" y="800.57" width="3.9" height="3.9" fill="#87ceeb" stroke="#7f8c8d" stroke-width="0.5"/>
<rect x="541.70" y="696.30" width="55.30" height="29.40" fill="#fff" stroke="#e3e3e3" stroke-width="0.5" rx="1" fill-opacity="0.9"/>
<circle cx="550.10" cy="702.20" r="2.1" fill="#0a0ae6" />
<text x="560.80" y="704.20" font-size="5.7" text-anchor="start" fill="#333" font-family="DejaVu Sans, sans-serif" >2-SC (west)</text>
<circle cx="550.10" cy="710.80" r="2.1" fill="#0a7a0a" />
<text x="560.80" y="712.80" font-size="5.7" text-anchor="start" fill="#333" font-family="DejaVu Sans, sans-serif" >2-SC (east)</text>
<rect x="548.25" y="717.95" width="3.7" height="3.7" fill="#87ceeb" stroke="#7f8c8d" stroke-width="0.5"/>
<text x="560.80" y="721.80" font-size="5.7" text-anchor="start" fill="#333" font-family="DejaVu Sans, sans-serif" >Potential</text>
<text x="536.60" y="810.40" font-size="5.6" text-anchor="end" fill="#333" font-family="DejaVu Sans, sans-serif" >0</text>
<text x="536.60" y="787.23" font-size="5.6" text-anchor="end" fill="#333" font-family="DejaVu Sans, sans-serif" >2</text>
<text x="536.60" y="764.06" font-size="5.6" text-anchor="end" fill="#333" font-family="DejaVu Sans, sans-serif" >4</text>
<text x="536.60" y="740.89" font-size="5.6" text-anchor="end" fill="#333" font-family="DejaVu Sans, sans-serif" >6</text>
<text x="536.60" y="717.72" font-size="5.6" text-anchor="end" fill="#333" font-family="DejaVu Sans, sans-serif" >8</text>
<text x="543.20" y="821.20" font-size="5.6" text-anchor="middle" fill="#333" font-family="DejaVu Sans, sans-serif" >0</text>
<text x="581.72" y="821.20" font-size="5.6" text-anchor="middle" fill="#333" font-family="DejaVu Sans, sans-serif" >8</text>
<text x="620.24" y="821.20" font-size="5.6" text-anchor="middle" fill="#333" font-family="DejaVu Sans, sans-serif" >16</text>
<text x="658.76" y="821.20" font-size="5.6" text-anchor="middle" fill="#333" font-family="DejaVu Sans, sans-serif" >24</text>
<text x="697.28" y="821.20" font-size="5.6" text-anchor="middle" fill="#333" font-family="DejaVu Sans, sans-serif" >32</text>
<text x="628.90" y="828.00" font-size="7.6" text-anchor="middle" fill="#333" font-family="DejaVu Sans, sans-serif" >Δ<tspan font-style="italic">α</tspan>[ ˚ ]</text>
<text x="530.20" y="753.40" font-size="7.6" text-anchor="middle" fill="#333" font-family="DejaVu Sans, sans-serif" transform="rotate(-90 530.20 753.40)" >Δ<tspan font-style="italic">t</tspan><tspan font-size="5.4" dy="1.2">exp</tspan><tspan dy="-1.2"> − Δ</tspan><tspan font-style="italic">t</tspan><tspan font-size="5.4" dy="1.2">obs</tspan><tspan dy="-1.2"> [hr]</tspan></text>
<rect x="848.90" y="692.80" width="178.00" height="117.90" fill="#fff" stroke="#cfcfcf" stroke-width="0.6"/>
<circle cx="911.12" cy="701.03" r="2.15" fill="#0a0ae6" />
<circle cx="911.51" cy="715.90" r="2.15" fill="#0a0ae6" />
<circle cx="904.28" cy="733.49" r="2.15" fill="#0a0ae6" />
<circle cx="902.91" cy="737.99" r="2.15" fill="#0a0ae6" />
<circle cx="908.58" cy="741.71" r="2.15" fill="#0a0ae6" />
<circle cx="898.02" cy="744.05" r="2.15" fill="#0a0ae6" />
<circle cx="895.87" cy="746.20" r="2.15" fill="#0a0ae6" />
<circle cx="912.49" cy="751.29" r="2.15" fill="#0a0ae6" />
<circle cx="863.41" cy="758.91" r="2.15" fill="#0a0ae6" />
<circle cx="1018.87" cy="698.30" r="2.15" fill="#0a7a0a" />
<circle cx="856.76" cy="740.92" r="2.15" fill="#0a7a0a" />
<circle cx="890.98" cy="746.20" r="2.15" fill="#0a7a0a" />
<circle cx="891.18" cy="747.57" r="2.15" fill="#0a7a0a" />
<circle cx="904.08" cy="746.79" r="2.15" fill="#0a7a0a" />
<circle cx="903.50" cy="752.46" r="2.15" fill="#0a7a0a" />
<circle cx="910.14" cy="765.56" r="2.15" fill="#0a7a0a" />
<circle cx="925.40" cy="771.82" r="2.15" fill="#0a7a0a" />
<circle cx="928.13" cy="805.65" r="2.15" fill="#0a7a0a" />
<rect x="851.70" y="695.80" width="42.30" height="10.30" fill="#fff" stroke="#e3e3e3" stroke-width="0.5" rx="1"/>
<circle cx="860.10" cy="701.20" r="2.1" fill="#0a0ae6" />
<text x="870.40" y="703.00" font-size="5.7" text-anchor="start" fill="#333" font-family="DejaVu Sans, sans-serif" ><tspan font-style="italic">V</tspan><tspan font-size="3.6" dy="1">STA − L1</tspan></text>
<text x="846.60" y="812.70" font-size="5.6" text-anchor="end" fill="#333" font-family="DejaVu Sans, sans-serif" >−9</text>
<text x="846.60" y="792.80" font-size="5.6" text-anchor="end" fill="#333" font-family="DejaVu Sans, sans-serif" >−6</text>
<text x="846.60" y="772.90" font-size="5.6" text-anchor="end" fill="#333" font-family="DejaVu Sans, sans-serif" >−3</text>
<text x="846.60" y="753.00" font-size="5.6" text-anchor="end" fill="#333" font-family="DejaVu Sans, sans-serif" >0</text>
<text x="846.60" y="733.10" font-size="5.6" text-anchor="end" fill="#333" font-family="DejaVu Sans, sans-serif" >3</text>
<text x="846.60" y="713.20" font-size="5.6" text-anchor="end" fill="#333" font-family="DejaVu Sans, sans-serif" >6</text>
<text x="871.60" y="818.60" font-size="5.6" text-anchor="middle" fill="#333" font-family="DejaVu Sans, sans-serif" >−50</text>
<text x="906.30" y="818.60" font-size="5.6" text-anchor="middle" fill="#333" font-family="DejaVu Sans, sans-serif" >0</text>
<text x="939.80" y="818.60" font-size="5.6" text-anchor="middle" fill="#333" font-family="DejaVu Sans, sans-serif" >50</text>
<text x="973.30" y="818.60" font-size="5.6" text-anchor="middle" fill="#333" font-family="DejaVu Sans, sans-serif" >100</text>
<text x="1006.80" y="818.60" font-size="5.6" text-anchor="middle" fill="#333" font-family="DejaVu Sans, sans-serif" >150</text>
<text x="937.90" y="827.60" font-size="7.4" text-anchor="middle" fill="#333" font-family="DejaVu Sans, sans-serif" >Δ<tspan font-style="italic">V</tspan><tspan font-size="5.2" dy="1.2" font-style="italic">upstream</tspan><tspan dy="-1.2">[</tspan><tspan font-style="italic">kmsec</tspan><tspan font-size="5.2" dy="-2.4">−1</tspan><tspan dy="2.4">]</tspan></text>
<text x="835.10" y="751.50" font-size="7.6" text-anchor="middle" fill="#333" font-family="DejaVu Sans, sans-serif" transform="rotate(-90 835.10 751.50)" >Δ<tspan font-style="italic">t</tspan><tspan font-size="5.4" dy="1.2">exp</tspan><tspan dy="-1.2"> − Δ</tspan><tspan font-style="italic">t</tspan><tspan font-size="5.4" dy="1.2">obs</tspan><tspan dy="-1.2"> [hr]</tspan></text>
<rect x="530.20" y="949.10" width="8.84" height="14.79" fill="#b40426" stroke="none" stroke-width="0" />
<rect x="538.79" y="949.10" width="4.54" height="14.79" fill="#dddcdc" stroke="none" stroke-width="0" />
<rect x="543.08" y="949.10" width="8.84" height="14.79" fill="#3b4cc0" stroke="none" stroke-width="0" />
<rect x="551.67" y="949.10" width="8.84" height="14.79" fill="#b40426" stroke="none" stroke-width="0" />
<rect x="560.26" y="949.10" width="4.54" height="14.79" fill="#3b4cc0" stroke="none" stroke-width="0" />
<rect x="564.56" y="949.10" width="8.84" height="14.79" fill="#b40426" stroke="none" stroke-width="0" />
<rect x="573.15" y="949.10" width="4.54" height="14.79" fill="#3b4cc0" stroke="none" stroke-width="0" />
<rect x="577.44" y="949.10" width="17.43" height="14.79" fill="#b40426" stroke="none" stroke-width="0" />
<rect x="594.62" y="949.10" width="4.54" height="14.79" fill="#dddcdc" stroke="none" stroke-width="0" />
<rect x="598.92" y="949.10" width="13.13" height="14.79" fill="#b40426" stroke="none" stroke-width="0" />
<rect x="611.80" y="949.10" width="8.84" height="14.79" fill="#dddcdc" stroke="none" stroke-width="0" />
<rect x="620.39" y="949.10" width="17.43" height="14.79" fill="#b40426" stroke="none" stroke-width="0" />
<rect x="637.57" y="949.10" width="4.54" height="14.79" fill="#dddcdc" stroke="none" stroke-width="0" />
<rect x="641.87" y="949.10" width="4.54" height="14.79" fill="#b40426" stroke="none" stroke-width="0" />
<rect x="646.16" y="949.10" width="4.54" height="14.79" fill="#dddcdc" stroke="none" stroke-width="0" />
<rect x="650.46" y="949.10" width="4.54" height="14.79" fill="#b40426" stroke="none" stroke-width="0" />
<rect x="654.75" y="949.10" width="4.54" height="14.79" fill="#3b4cc0" stroke="none" stroke-width="0" />
<rect x="659.05" y="949.10" width="8.84" height="14.79" fill="#dddcdc" stroke="none" stroke-width="0" />
<rect x="667.64" y="949.10" width="4.54" height="14.79" fill="#3b4cc0" stroke="none" stroke-width="0" />
<rect x="671.93" y="949.10" width="4.54" height="14.79" fill="#dddcdc" stroke="none" stroke-width="0" />
<rect x="676.23" y="949.10" width="8.84" height="14.79" fill="#3b4cc0" stroke="none" stroke-width="0" />
<rect x="684.82" y="949.10" width="8.84" height="14.79" fill="#b40426" stroke="none" stroke-width="0" />
<rect x="693.41" y="949.10" width="4.54" height="14.79" fill="#3b4cc0" stroke="none" stroke-width="0" />
<rect x="530.20" y="963.59" width="8.84" height="14.79" fill="#3b4cc0" stroke="none" stroke-width="0" />
<rect x="538.79" y="963.59" width="30.31" height="14.79" fill="#dddcdc" stroke="none" stroke-width="0" />
<rect x="568.85" y="963.59" width="21.72" height="14.79" fill="#b40426" stroke="none" stroke-width="0" />
<rect x="590.33" y="963.59" width="4.54" height="14.79" fill="#dddcdc" stroke="none" stroke-width="0" />
<rect x="594.62" y="963.59" width="4.54" height="14.79" fill="#b40426" stroke="none" stroke-width="0" />
<rect x="598.92" y="963.59" width="8.84" height="14.79" fill="#dddcdc" stroke="none" stroke-width="0" />
<rect x="607.51" y="963.59" width="4.54" height="14.79" fill="#3b4cc0" stroke="none" stroke-width="0" />
<rect x="611.80" y="963.59" width="13.13" height="14.79" fill="#dddcdc" stroke="none" stroke-width="0" />
<rect x="624.69" y="963.59" width="4.54" height="14.79" fill="#b40426" stroke="none" stroke-width="0" />
<rect x="628.98" y="963.59" width="17.43" height="14.79" fill="#dddcdc" stroke="none" stroke-width="0" />
<rect x="646.16" y="963.59" width="4.54" height="14.79" fill="#b40426" stroke="none" stroke-width="0" />
<rect x="650.46" y="963.59" width="4.54" height="14.79" fill="#dddcdc" stroke="none" stroke-width="0" />
<rect x="654.75" y="963.59" width="4.54" height="14.79" fill="#b40426" stroke="none" stroke-width="0" />
<rect x="659.05" y="963.59" width="21.72" height="14.79" fill="#dddcdc" stroke="none" stroke-width="0" />
<rect x="680.52" y="963.59" width="8.84" height="14.79" fill="#b40426" stroke="none" stroke-width="0" />
<rect x="689.11" y="963.59" width="4.54" height="14.79" fill="#dddcdc" stroke="none" stroke-width="0" />
<rect x="693.41" y="963.59" width="4.54" height="14.79" fill="#b40426" stroke="none" stroke-width="0" />
<rect x="530.20" y="978.07" width="13.13" height="14.79" fill="#b40426" stroke="none" stroke-width="0" />
<rect x="543.08" y="978.07" width="17.43" height="14.79" fill="#dddcdc" stroke="none" stroke-width="0" />
<rect x="560.26" y="978.07" width="8.84" height="14.79" fill="#3b4cc0" stroke="none" stroke-width="0" />
<rect x="568.85" y="978.07" width="8.84" height="14.79" fill="#b40426" stroke="none" stroke-width="0" />
<rect x="577.44" y="978.07" width="8.84" height="14.79" fill="#3b4cc0" stroke="none" stroke-width="0" />
<rect x="586.03" y="978.07" width="4.54" height="14.79" fill="#b40426" stroke="none" stroke-width="0" />
<rect x="590.33" y="978.07" width="4.54" height="14.79" fill="#3b4cc0" stroke="none" stroke-width="0" />
<rect x="594.62" y="978.07" width="4.54" height="14.79" fill="#dddcdc" stroke="none" stroke-width="0" />
<rect x="598.92" y="978.07" width="4.54" height="14.79" fill="#3b4cc0" stroke="none" stroke-width="0" />
<rect x="603.21" y="978.07" width="4.54" height="14.79" fill="#b40426" stroke="none" stroke-width="0" />
<rect x="607.51" y="978.07" width="17.43" height="14.79" fill="#dddcdc" stroke="none" stroke-width="0" />
<rect x="624.69" y="978.07" width="17.43" height="14.79" fill="#3b4cc0" stroke="none" stroke-width="0" />
<rect x="641.87" y="978.07" width="4.54" height="14.79" fill="#b40426" stroke="none" stroke-width="0" />
<rect x="646.16" y="978.07" width="8.84" height="14.79" fill="#3b4cc0" stroke="none" stroke-width="0" />
<rect x="654.75" y="978.07" width="4.54" height="14.79" fill="#dddcdc" stroke="none" stroke-width="0" />
<rect x="659.05" y="978.07" width="21.72" height="14.79" fill="#3b4cc0" stroke="none" stroke-width="0" />
<rect x="680.52" y="978.07" width="4.54" height="14.79" fill="#b40426" stroke="none" stroke-width="0" />
<rect x="684.82" y="978.07" width="4.54" height="14.79" fill="#dddcdc" stroke="none" stroke-width="0" />
<rect x="689.11" y="978.07" width="4.54" height="14.79" fill="#b40426" stroke="none" stroke-width="0" />
<rect x="693.41" y="978.07" width="4.54" height="14.79" fill="#dddcdc" stroke="none" stroke-width="0" />
<rect x="530.20" y="992.56" width="13.13" height="14.79" fill="#b40426" stroke="none" stroke-width="0" />
<rect x="543.08" y="992.56" width="4.54" height="14.79" fill="#3b4cc0" stroke="none" stroke-width="0" />
<rect x="547.38" y="992.56" width="13.13" height="14.79" fill="#b40426" stroke="none" stroke-width="0" />
<rect x="560.26" y="992.56" width="26.02" height="14.79" fill="#3b4cc0" stroke="none" stroke-width="0" />
<rect x="586.03" y="992.56" width="4.54" height="14.79" fill="#b40426" stroke="none" stroke-width="0" />
<rect x="590.33" y="992.56" width="8.84" height="14.79" fill="#3b4cc0" stroke="none" stroke-width="0" />
<rect x="598.92" y="992.56" width="4.54" height="14.79" fill="#b40426" stroke="none" stroke-width="0" />
<rect x="603.21" y="992.56" width="34.61" height="14.79" fill="#3b4cc0" stroke="none" stroke-width="0" />
<rect x="637.57" y="992.56" width="4.54" height="14.79" fill="#b40426" stroke="none" stroke-width="0" />
<rect x="641.87" y="992.56" width="26.02" height="14.79" fill="#3b4cc0" stroke="none" stroke-width="0" />
<rect x="667.64" y="992.56" width="8.84" height="14.79" fill="#b40426" stroke="none" stroke-width="0" />
<rect x="676.23" y="992.56" width="13.13" height="14.79" fill="#3b4cc0" stroke="none" stroke-width="0" />
<rect x="689.11" y="992.56" width="4.54" height="14.79" fill="#b40426" stroke="none" stroke-width="0" />
<rect x="693.41" y="992.56" width="4.54" height="14.79" fill="#3b4cc0" stroke="none" stroke-width="0" />
<rect x="530.20" y="1007.04" width="4.54" height="14.79" fill="#b40426" stroke="none" stroke-width="0" />
<rect x="534.49" y="1007.04" width="17.43" height="14.79" fill="#3b4cc0" stroke="none" stroke-width="0" />
<rect x="551.67" y="1007.04" width="4.54" height="14.79" fill="#b40426" stroke="none" stroke-width="0" />
<rect x="555.97" y="1007.04" width="4.54" height="14.79" fill="#3b4cc0" stroke="none" stroke-width="0" />
<rect x="560.26" y="1007.04" width="4.54" height="14.79" fill="#b40426" stroke="none" stroke-width="0" />
<rect x="564.56" y="1007.04" width="51.79" height="14.79" fill="#3b4cc0" stroke="none" stroke-width="0" />
<rect x="616.10" y="1007.04" width="4.54" height="14.79" fill="#b40426" stroke="none" stroke-width="0" />
<rect x="620.39" y="1007.04" width="4.54" height="14.79" fill="#3b4cc0" stroke="none" stroke-width="0" />
<rect x="624.69" y="1007.04" width="4.54" height="14.79" fill="#b40426" stroke="none" stroke-width="0" />
<rect x="628.98" y="1007.04" width="4.54" height="14.79" fill="#3b4cc0" stroke="none" stroke-width="0" />
<rect x="633.28" y="1007.04" width="17.43" height="14.79" fill="#b40426" stroke="none" stroke-width="0" />
<rect x="650.46" y="1007.04" width="34.61" height="14.79" fill="#3b4cc0" stroke="none" stroke-width="0" />
<rect x="684.82" y="1007.04" width="13.13" height="14.79" fill="#b40426" stroke="none" stroke-width="0" />
<rect x="530.20" y="1021.53" width="8.84" height="14.79" fill="#3b4cc0" stroke="none" stroke-width="0" />
<rect x="538.79" y="1021.53" width="4.54" height="14.79" fill="#b40426" stroke="none" stroke-width="0" />
<rect x="543.08" y="1021.53" width="13.13" height="14.79" fill="#3b4cc0" stroke="none" stroke-width="0" />
<rect x="555.97" y="1021.53" width="4.54" height="14.79" fill="#b40426" stroke="none" stroke-width="0" />
<rect x="560.26" y="1021.53" width="13.13" height="14.79" fill="#3b4cc0" stroke="none" stroke-width="0" />
<rect x="573.15" y="1021.53" width="4.54" height="14.79" fill="#b40426" stroke="none" stroke-width="0" />
<rect x="577.44" y="1021.53" width="13.13" height="14.79" fill="#3b4cc0" stroke="none" stroke-width="0" />
<rect x="590.33" y="1021.53" width="4.54" height="14.79" fill="#b40426" stroke="none" stroke-width="0" />
<rect x="594.62" y="1021.53" width="13.13" height="14.79" fill="#3b4cc0" stroke="none" stroke-width="0" />
<rect x="607.51" y="1021.53" width="8.84" height="14.79" fill="#b40426" stroke="none" stroke-width="0" />
<rect x="616.10" y="1021.53" width="8.84" height="14.79" fill="#3b4cc0" stroke="none" stroke-width="0" />
<rect x="624.69" y="1021.53" width="4.54" height="14.79" fill="#b40426" stroke="none" stroke-width="0" />
<rect x="628.98" y="1021.53" width="30.31" height="14.79" fill="#3b4cc0" stroke="none" stroke-width="0" />
<rect x="659.05" y="1021.53" width="4.54" height="14.79" fill="#b40426" stroke="none" stroke-width="0" />
<rect x="663.34" y="1021.53" width="13.13" height="14.79" fill="#3b4cc0" stroke="none" stroke-width="0" />
<rect x="676.23" y="1021.53" width="4.54" height="14.79" fill="#b40426" stroke="none" stroke-width="0" />
<rect x="680.52" y="1021.53" width="13.13" height="14.79" fill="#3b4cc0" stroke="none" stroke-width="0" />
<rect x="693.41" y="1021.53" width="4.54" height="14.79" fill="#b40426" stroke="none" stroke-width="0" />
<rect x="530.20" y="1036.01" width="13.13" height="14.79" fill="#3b4cc0" stroke="none" stroke-width="0" />
<rect x="543.08" y="1036.01" width="4.54" height="14.79" fill="#b40426" stroke="none" stroke-width="0" />
<rect x="547.38" y="1036.01" width="4.54" height="14.79" fill="#3b4cc0" stroke="none" stroke-width="0" />
<rect x="551.67" y="1036.01" width="4.54" height="14.79" fill="#b40426" stroke="none" stroke-width="0" />
<rect x="555.97" y="1036.01" width="4.54" height="14.79" fill="#3b4cc0" stroke="none" stroke-width="0" />
<rect x="560.26" y="1036.01" width="8.84" height="14.79" fill="#b40426" stroke="none" stroke-width="0" />
<rect x="568.85" y="1036.01" width="4.54" height="14.79" fill="#3b4cc0" stroke="none" stroke-width="0" />
<rect x="573.15" y="1036.01" width="4.54" height="14.79" fill="#b40426" stroke="none" stroke-width="0" />
<rect x="577.44" y="1036.01" width="4.54" height="14.79" fill="#3b4cc0" stroke="none" stroke-width="0" />
<rect x="581.74" y="1036.01" width="8.84" height="14.79" fill="#b40426" stroke="none" stroke-width="0" />
<rect x="590.33" y="1036.01" width="4.54" height="14.79" fill="#3b4cc0" stroke="none" stroke-width="0" />
<rect x="594.62" y="1036.01" width="26.02" height="14.79" fill="#b40426" stroke="none" stroke-width="0" />
<rect x="620.39" y="1036.01" width="4.54" height="14.79" fill="#3b4cc0" stroke="none" stroke-width="0" />
<rect x="624.69" y="1036.01" width="4.54" height="14.79" fill="#b40426" stroke="none" stroke-width="0" />
<rect x="628.98" y="1036.01" width="4.54" height="14.79" fill="#3b4cc0" stroke="none" stroke-width="0" />
<rect x="633.28" y="1036.01" width="13.13" height="14.79" fill="#b40426" stroke="none" stroke-width="0" />
<rect x="646.16" y="1036.01" width="38.90" height="14.79" fill="#3b4cc0" stroke="none" stroke-width="0" />
<rect x="684.82" y="1036.01" width="13.13" height="14.79" fill="#b40426" stroke="none" stroke-width="0" />
<rect x="530.20" y="910.20" width="167.50" height="34.70" fill="#fff" stroke="#cfcfcf" stroke-width="0.5"/>
<rect x="530.45" y="925.15" width="3.79" height="19.75" fill="#7f7f7f" stroke="none" stroke-width="0" />
<rect x="534.74" y="925.15" width="3.79" height="19.75" fill="#7f7f7f" stroke="none" stroke-width="0" />
<rect x="539.04" y="924.35" width="3.79" height="20.55" fill="#7f7f7f" stroke="none" stroke-width="0" />
<rect x="543.33" y="917.14" width="3.79" height="27.76" fill="#7f7f7f" stroke="none" stroke-width="0" />
<rect x="547.63" y="917.14" width="3.79" height="27.76" fill="#7f7f7f" stroke="none" stroke-width="0" />
<rect x="551.92" y="917.14" width="3.79" height="27.76" fill="#7f7f7f" stroke="none" stroke-width="0" />
<rect x="556.22" y="924.35" width="3.79" height="20.55" fill="#7f7f7f" stroke="none" stroke-width="0" />
<rect x="560.51" y="921.68" width="3.79" height="23.22" fill="#7f7f7f" stroke="none" stroke-width="0" />
<rect x="564.81" y="921.68" width="3.79" height="23.22" fill="#7f7f7f" stroke="none" stroke-width="0" />
<rect x="569.10" y="925.15" width="3.79" height="19.75" fill="#7f7f7f" stroke="none" stroke-width="0" />
<rect x="573.40" y="920.34" width="3.79" height="24.56" fill="#7f7f7f" stroke="none" stroke-width="0" />
<rect x="577.69" y="920.34" width="3.79" height="24.56" fill="#7f7f7f" stroke="none" stroke-width="0" />
<rect x="581.99" y="925.15" width="3.79" height="19.75" fill="#7f7f7f" stroke="none" stroke-width="0" />
<rect x="586.28" y="925.15" width="3.79" height="19.75" fill="#7f7f7f" stroke="none" stroke-width="0" />
<rect x="590.58" y="921.68" width="3.79" height="23.22" fill="#7f7f7f" stroke="none" stroke-width="0" />
<rect x="594.87" y="924.35" width="3.79" height="20.55" fill="#7f7f7f" stroke="none" stroke-width="0" />
<rect x="599.17" y="921.68" width="3.79" height="23.22" fill="#7f7f7f" stroke="none" stroke-width="0" />
<rect x="603.46" y="927.55" width="3.79" height="17.35" fill="#7f7f7f" stroke="none" stroke-width="0" />
<rect x="607.76" y="927.55" width="3.79" height="17.35" fill="#7f7f7f" stroke="none" stroke-width="0" />
<rect x="612.05" y="927.55" width="3.79" height="17.35" fill="#7f7f7f" stroke="none" stroke-width="0" />
<rect x="616.35" y="927.55" width="3.79" height="17.35" fill="#7f7f7f" stroke="none" stroke-width="0" />
<rect x="620.64" y="917.14" width="3.79" height="27.76" fill="#7f7f7f" stroke="none" stroke-width="0" />
<rect x="624.94" y="925.15" width="3.79" height="19.75" fill="#7f7f7f" stroke="none" stroke-width="0" />
<rect x="629.23" y="921.68" width="3.79" height="23.22" fill="#7f7f7f" stroke="none" stroke-width="0" />
<rect x="633.53" y="921.68" width="3.79" height="23.22" fill="#7f7f7f" stroke="none" stroke-width="0" />
<rect x="637.82" y="924.35" width="3.79" height="20.55" fill="#7f7f7f" stroke="none" stroke-width="0" />
<rect x="642.12" y="921.68" width="3.79" height="23.22" fill="#7f7f7f" stroke="none" stroke-width="0" />
<rect x="646.41" y="921.68" width="3.79" height="23.22" fill="#7f7f7f" stroke="none" stroke-width="0" />
<rect x="650.71" y="916.34" width="3.79" height="28.56" fill="#7f7f7f" stroke="none" stroke-width="0" />
<rect x="655.00" y="916.34" width="3.79" height="28.56" fill="#7f7f7f" stroke="none" stroke-width="0" />
<rect x="659.30" y="917.14" width="3.79" height="27.76" fill="#7f7f7f" stroke="none" stroke-width="0" />
<rect x="663.59" y="910.20" width="3.79" height="34.70" fill="#7f7f7f" stroke="none" stroke-width="0" />
<rect x="667.89" y="917.14" width="3.79" height="27.76" fill="#7f7f7f" stroke="none" stroke-width="0" />
<rect x="672.18" y="919.01" width="3.79" height="25.89" fill="#7f7f7f" stroke="none" stroke-width="0" />
<rect x="676.48" y="916.34" width="3.79" height="28.56" fill="#7f7f7f" stroke="none" stroke-width="0" />
<rect x="680.77" y="920.34" width="3.79" height="24.56" fill="#7f7f7f" stroke="none" stroke-width="0" />
<rect x="685.07" y="916.34" width="3.79" height="28.56" fill="#7f7f7f" stroke="none" stroke-width="0" />
<rect x="689.36" y="910.20" width="3.79" height="34.70" fill="#7f7f7f" stroke="none" stroke-width="0" />
<rect x="693.66" y="927.55" width="3.79" height="17.35" fill="#7f7f7f" stroke="none" stroke-width="0" />
<text x="613.70" y="908.60" font-size="3.9" text-anchor="middle" fill="#222" font-family="DejaVu Sans, sans-serif" >Percentage of Consistent Nose Direction Estimates (Per Event)</text>
<text x="520.40" y="927.50" font-size="3.6" text-anchor="middle" fill="#333" font-family="DejaVu Sans, sans-serif" transform="rotate(-90 520.40 927.50)" >Consistency [%]</text>
<text x="529.00" y="945.90" font-size="2.6" text-anchor="end" fill="#333" font-family="DejaVu Sans, sans-serif" >0</text>
<text x="529.00" y="938.96" font-size="2.6" text-anchor="end" fill="#333" font-family="DejaVu Sans, sans-serif" >20</text>
<text x="529.00" y="932.02" font-size="2.6" text-anchor="end" fill="#333" font-family="DejaVu Sans, sans-serif" >40</text>
<text x="529.00" y="925.08" font-size="2.6" text-anchor="end" fill="#333" font-family="DejaVu Sans, sans-serif" >60</text>
<text x="529.00" y="918.14" font-size="2.6" text-anchor="end" fill="#333" font-family="DejaVu Sans, sans-serif" >80</text>
<text x="529.00" y="911.20" font-size="2.6" text-anchor="end" fill="#333" font-family="DejaVu Sans, sans-serif" >100</text>
<text x="528.40" y="957.94" font-size="4.5" text-anchor="end" fill="#333" font-family="DejaVu Sans, sans-serif" >remote</text>
<text x="528.40" y="972.43" font-size="4.5" text-anchor="end" fill="#333" font-family="DejaVu Sans, sans-serif" >shock_n</text>
<text x="528.40" y="986.91" font-size="4.5" text-anchor="end" fill="#333" font-family="DejaVu Sans, sans-serif" >shock_a</text>
<text x="528.40" y="1001.40" font-size="4.5" text-anchor="end" fill="#333" font-family="DejaVu Sans, sans-serif" >Vp</text>
<text x="528.40" y="1015.89" font-size="4.5" text-anchor="end" fill="#333" font-family="DejaVu Sans, sans-serif" >B</text>
<text x="528.40" y="1030.37" font-size="4.5" text-anchor="end" fill="#333" font-family="DejaVu Sans, sans-serif" >ME_a</text>
<text x="528.40" y="1044.86" font-size="4.5" text-anchor="end" fill="#333" font-family="DejaVu Sans, sans-serif" >Bmean</text>
<text x="507.00" y="1000.30" font-size="6.4" text-anchor="middle" fill="#333" font-family="DejaVu Sans, sans-serif" transform="rotate(-90 507.00 1000.30)" >Methods</text>
<text x="613.70" y="1066.40" font-size="6.8" text-anchor="middle" fill="#333" font-family="DejaVu Sans, sans-serif" >Event Id</text>
<text x="533.25" y="1051.40" font-size="2.5" text-anchor="end" fill="#333" font-family="DejaVu Sans, sans-serif" transform="rotate(-90 533.25 1051.40)" >17</text>
<text x="537.54" y="1051.40" font-size="2.5" text-anchor="end" fill="#333" font-family="DejaVu Sans, sans-serif" transform="rotate(-90 537.54 1051.40)" >193</text>
<text x="541.84" y="1051.40" font-size="2.5" text-anchor="end" fill="#333" font-family="DejaVu Sans, sans-serif" transform="rotate(-90 541.84 1051.40)" >186</text>
<text x="546.13" y="1051.40" font-size="2.5" text-anchor="end" fill="#333" font-family="DejaVu Sans, sans-serif" transform="rotate(-90 546.13 1051.40)" >56</text>
<text x="550.43" y="1051.40" font-size="2.5" text-anchor="end" fill="#333" font-family="DejaVu Sans, sans-serif" transform="rotate(-90 550.43 1051.40)" >955</text>
<text x="554.72" y="1051.40" font-size="2.5" text-anchor="end" fill="#333" font-family="DejaVu Sans, sans-serif" transform="rotate(-90 554.72 1051.40)" >273</text>
<text x="559.02" y="1051.40" font-size="2.5" text-anchor="end" fill="#333" font-family="DejaVu Sans, sans-serif" transform="rotate(-90 559.02 1051.40)" >95</text>
<text x="563.31" y="1051.40" font-size="2.5" text-anchor="end" fill="#333" font-family="DejaVu Sans, sans-serif" transform="rotate(-90 563.31 1051.40)" >974</text>
<text x="567.61" y="1051.40" font-size="2.5" text-anchor="end" fill="#333" font-family="DejaVu Sans, sans-serif" transform="rotate(-90 567.61 1051.40)" >415</text>
<text x="571.90" y="1051.40" font-size="2.5" text-anchor="end" fill="#333" font-family="DejaVu Sans, sans-serif" transform="rotate(-90 571.90 1051.40)" >42</text>
<text x="576.20" y="1051.40" font-size="2.5" text-anchor="end" fill="#333" font-family="DejaVu Sans, sans-serif" transform="rotate(-90 576.20 1051.40)" >720</text>
<text x="580.49" y="1051.40" font-size="2.5" text-anchor="end" fill="#333" font-family="DejaVu Sans, sans-serif" transform="rotate(-90 580.49 1051.40)" >317</text>
<text x="584.79" y="1051.40" font-size="2.5" text-anchor="end" fill="#333" font-family="DejaVu Sans, sans-serif" transform="rotate(-90 584.79 1051.40)" >87</text>
<text x="589.08" y="1051.40" font-size="2.5" text-anchor="end" fill="#333" font-family="DejaVu Sans, sans-serif" transform="rotate(-90 589.08 1051.40)" >136</text>
<text x="593.38" y="1051.40" font-size="2.5" text-anchor="end" fill="#333" font-family="DejaVu Sans, sans-serif" transform="rotate(-90 593.38 1051.40)" >695</text>
<text x="597.67" y="1051.40" font-size="2.5" text-anchor="end" fill="#333" font-family="DejaVu Sans, sans-serif" transform="rotate(-90 597.67 1051.40)" >97</text>
<text x="601.97" y="1051.40" font-size="2.5" text-anchor="end" fill="#333" font-family="DejaVu Sans, sans-serif" transform="rotate(-90 601.97 1051.40)" >262</text>
<text x="606.26" y="1051.40" font-size="2.5" text-anchor="end" fill="#333" font-family="DejaVu Sans, sans-serif" transform="rotate(-90 606.26 1051.40)" >541</text>
<text x="610.56" y="1051.40" font-size="2.5" text-anchor="end" fill="#333" font-family="DejaVu Sans, sans-serif" transform="rotate(-90 610.56 1051.40)" >91</text>
<text x="614.85" y="1051.40" font-size="2.5" text-anchor="end" fill="#333" font-family="DejaVu Sans, sans-serif" transform="rotate(-90 614.85 1051.40)" >502</text>
<text x="619.14" y="1051.40" font-size="2.5" text-anchor="end" fill="#333" font-family="DejaVu Sans, sans-serif" transform="rotate(-90 619.14 1051.40)" >922</text>
<text x="623.44" y="1051.40" font-size="2.5" text-anchor="end" fill="#333" font-family="DejaVu Sans, sans-serif" transform="rotate(-90 623.44 1051.40)" >75</text>
<text x="627.73" y="1051.40" font-size="2.5" text-anchor="end" fill="#333" font-family="DejaVu Sans, sans-serif" transform="rotate(-90 627.73 1051.40)" >480</text>
<text x="632.03" y="1051.40" font-size="2.5" text-anchor="end" fill="#333" font-family="DejaVu Sans, sans-serif" transform="rotate(-90 632.03 1051.40)" >657</text>
<text x="636.32" y="1051.40" font-size="2.5" text-anchor="end" fill="#333" font-family="DejaVu Sans, sans-serif" transform="rotate(-90 636.32 1051.40)" >66</text>
<text x="640.62" y="1051.40" font-size="2.5" text-anchor="end" fill="#333" font-family="DejaVu Sans, sans-serif" transform="rotate(-90 640.62 1051.40)" >614</text>
<text x="644.91" y="1051.40" font-size="2.5" text-anchor="end" fill="#333" font-family="DejaVu Sans, sans-serif" transform="rotate(-90 644.91 1051.40)" >374</text>
<text x="649.21" y="1051.40" font-size="2.5" text-anchor="end" fill="#333" font-family="DejaVu Sans, sans-serif" transform="rotate(-90 649.21 1051.40)" >14</text>
<text x="653.50" y="1051.40" font-size="2.5" text-anchor="end" fill="#333" font-family="DejaVu Sans, sans-serif" transform="rotate(-90 653.50 1051.40)" >991</text>
<text x="657.80" y="1051.40" font-size="2.5" text-anchor="end" fill="#333" font-family="DejaVu Sans, sans-serif" transform="rotate(-90 657.80 1051.40)" >128</text>
<text x="662.09" y="1051.40" font-size="2.5" text-anchor="end" fill="#333" font-family="DejaVu Sans, sans-serif" transform="rotate(-90 662.09 1051.40)" >56</text>
<text x="666.39" y="1051.40" font-size="2.5" text-anchor="end" fill="#333" font-family="DejaVu Sans, sans-serif" transform="rotate(-90 666.39 1051.40)" >576</text>
<text x="670.68" y="1051.40" font-size="2.5" text-anchor="end" fill="#333" font-family="DejaVu Sans, sans-serif" transform="rotate(-90 670.68 1051.40)" >426</text>
<text x="674.98" y="1051.40" font-size="2.5" text-anchor="end" fill="#333" font-family="DejaVu Sans, sans-serif" transform="rotate(-90 674.98 1051.40)" >58</text>
<text x="679.27" y="1051.40" font-size="2.5" text-anchor="end" fill="#333" font-family="DejaVu Sans, sans-serif" transform="rotate(-90 679.27 1051.40)" >533</text>
<text x="683.57" y="1051.40" font-size="2.5" text-anchor="end" fill="#333" font-family="DejaVu Sans, sans-serif" transform="rotate(-90 683.57 1051.40)" >638</text>
<text x="687.86" y="1051.40" font-size="2.5" text-anchor="end" fill="#333" font-family="DejaVu Sans, sans-serif" transform="rotate(-90 687.86 1051.40)" >31</text>
<text x="692.16" y="1051.40" font-size="2.5" text-anchor="end" fill="#333" font-family="DejaVu Sans, sans-serif" transform="rotate(-90 692.16 1051.40)" >673</text>
<text x="696.45" y="1051.40" font-size="2.5" text-anchor="end" fill="#333" font-family="DejaVu Sans, sans-serif" transform="rotate(-90 696.45 1051.40)" >281</text>
<defs><linearGradient id="cw" x1="0" y1="0" x2="0" y2="1"><stop offset="0" stop-color="#b40426"/><stop offset="0.25" stop-color="#f08a6c"/><stop offset="0.5" stop-color="#dddcdc"/><stop offset="0.75" stop-color="#8db0fe"/><stop offset="1" stop-color="#3b4cc0"/></linearGradient></defs>
<rect x="707.80" y="949.10" width="5.90" height="101.40" fill="url(#cw)" stroke="none" stroke-width="0" />
<line x1="713.70" y1="949.10" x2="714.80" y2="949.10" stroke="#333" stroke-width="0.4" />
<text x="715.60" y="950.70" font-size="4.4" text-anchor="start" fill="#333" font-family="DejaVu Sans, sans-serif" >1.00</text>
<line x1="713.70" y1="961.77" x2="714.80" y2="961.77" stroke="#333" stroke-width="0.4" />
<text x="715.60" y="963.38" font-size="4.4" text-anchor="start" fill="#333" font-family="DejaVu Sans, sans-serif" >0.75</text>
<line x1="713.70" y1="974.45" x2="714.80" y2="974.45" stroke="#333" stroke-width="0.4" />
<text x="715.60" y="976.05" font-size="4.4" text-anchor="start" fill="#333" font-family="DejaVu Sans, sans-serif" >0.50</text>
<line x1="713.70" y1="987.12" x2="714.80" y2="987.12" stroke="#333" stroke-width="0.4" />
<text x="715.60" y="988.73" font-size="4.4" text-anchor="start" fill="#333" font-family="DejaVu Sans, sans-serif" >0.25</text>
<line x1="713.70" y1="999.80" x2="714.80" y2="999.80" stroke="#333" stroke-width="0.4" />
<text x="715.60" y="1001.40" font-size="4.4" text-anchor="start" fill="#333" font-family="DejaVu Sans, sans-serif" >0.00</text>
<line x1="713.70" y1="1012.48" x2="714.80" y2="1012.48" stroke="#333" stroke-width="0.4" />
<text x="715.60" y="1014.08" font-size="4.4" text-anchor="start" fill="#333" font-family="DejaVu Sans, sans-serif" >−0.25</text>
<line x1="713.70" y1="1025.15" x2="714.80" y2="1025.15" stroke="#333" stroke-width="0.4" />
<text x="715.60" y="1026.75" font-size="4.4" text-anchor="start" fill="#333" font-family="DejaVu Sans, sans-serif" >−0.50</text>
<line x1="713.70" y1="1037.83" x2="714.80" y2="1037.83" stroke="#333" stroke-width="0.4" />
<text x="715.60" y="1039.42" font-size="4.4" text-anchor="start" fill="#333" font-family="DejaVu Sans, sans-serif" >−0.75</text>
<line x1="713.70" y1="1050.50" x2="714.80" y2="1050.50" stroke="#333" stroke-width="0.4" />
<text x="715.60" y="1052.10" font-size="4.4" text-anchor="start" fill="#333" font-family="DejaVu Sans, sans-serif" >−1.00</text>
<text x="736.60" y="1000.00" font-size="6.3" text-anchor="middle" fill="#333" font-family="DejaVu Sans, sans-serif" transform="rotate(-90 736.60 1000.00)" >Spacecraft (East=-1, West=1)</text>
<rect x="742.50" y="949.10" width="42.60" height="101.40" fill="#fff" stroke="#cfcfcf" stroke-width="0.5"/>
<rect x="763.80" y="950.40" width="5.33" height="11.89" fill="#808080" stroke="none" stroke-width="0" />
<rect x="763.80" y="964.89" width="3.20" height="11.89" fill="#808080" stroke="none" stroke-width="0" />
<rect x="760.82" y="979.37" width="2.98" height="11.89" fill="#808080" stroke="none" stroke-width="0" />
<rect x="757.62" y="993.86" width="6.18" height="11.89" fill="#808080" stroke="none" stroke-width="0" />
<rect x="755.92" y="1008.34" width="7.88" height="11.89" fill="#808080" stroke="none" stroke-width="0" />
<rect x="755.07" y="1022.83" width="8.73" height="11.89" fill="#808080" stroke="none" stroke-width="0" />
<text x="742.50" y="1056.40" font-size="4.4" text-anchor="middle" fill="#333" font-family="DejaVu Sans, sans-serif" >−1</text>
<text x="763.80" y="1056.40" font-size="4.4" text-anchor="middle" fill="#333" font-family="DejaVu Sans, sans-serif" >0</text>
<text x="785.10" y="1056.40" font-size="4.4" text-anchor="middle" fill="#333" font-family="DejaVu Sans, sans-serif" >1</text>
<text x="763.80" y="1063.80" font-size="6.7" text-anchor="middle" fill="#333" font-family="DejaVu Sans, sans-serif" >Mean Value</text>
<path d="M63.3 22.8 H111.6 V55.5 C111.6 67 101 76.4 87.5 81.6 C74 76.4 63.3 67 63.3 55.5 Z" fill="#0a3fa8"/>
<path d="M68.9 28.1 H87.6 V75.7 C77.5 71.3 68.9 63.8 68.9 54.5 Z" fill="#fff"/>
<text x="73.70" y="59.20" font-size="32.6" text-anchor="start" fill="#0a3fa8" font-family="Liberation Sans, sans-serif" font-weight="bold" textLength="12.2" lengthAdjust="spacingAndGlyphs" stroke="#0a3fa8" stroke-width="1.7" stroke-linejoin="miter">N</text>
<text x="89.30" y="59.20" font-size="32.6" text-anchor="start" fill="#fff" font-family="Liberation Sans, sans-serif" font-weight="bold" textLength="11.6" lengthAdjust="spacingAndGlyphs" stroke="#fff" stroke-width="1.7" stroke-linejoin="miter">H</text>
<circle cx="104.2" cy="80.0" r="1.6" fill="#0a3fa8"/>
<text x="104.20" y="80.80" font-size="2.2" text-anchor="middle" fill="#fff" font-family="Liberation Sans, sans-serif" font-weight="bold" >R</text>
<text x="87.60" y="95.90" font-size="11.6" text-anchor="middle" fill="#1f429a" font-family="Liberation Serif, sans-serif" font-weight="bold" textLength="70.4" lengthAdjust="spacingAndGlyphs" stroke="#1f429a" stroke-width="0.25">University of</text>
<text x="87.40" y="107.30" font-size="11.6" text-anchor="middle" fill="#1f429a" font-family="Liberation Serif, sans-serif" font-weight="bold" textLength="89.1" lengthAdjust="spacingAndGlyphs" stroke="#1f429a" stroke-width="0.25">New Hampshire</text>
<g transform="translate(920 40) scale(0.04089)" fill="#1d4e89" stroke="#1d4e89" stroke-width="14" stroke-linejoin="round">
<path transform="rotate(0 564 540)" d="M395 195 L160 440 C100 560 80 700 120 820 C160 930 280 1000 470 962 C330 975 200 920 160 820 C120 700 170 560 260 480 C350 400 500 370 635 410 C600 310 510 230 395 195 Z"/>
<path transform="rotate(0 564 540)" d="M910 385 C830 290 700 170 560 105 C440 55 290 60 200 130 C140 180 115 300 135 420 L152 425 C135 320 160 220 230 160 C310 100 440 110 540 165 C640 225 720 330 725 450 C728 510 715 570 700 610 C800 570 880 480 910 385 Z"/>
<path transform="rotate(180 564 540)" d="M395 195 L160 440 C100 560 80 700 120 820 C160 930 280 1000 470 962 C330 975 200 920 160 820 C120 700 170 560 260 480 C350 400 500 370 635 410 C600 310 510 230 395 195 Z"/>
<path transform="rotate(180 564 540)" d="M910 385 C830 290 700 170 560 105 C440 55 290 60 200 130 C140 180 115 300 135 420 L152 425 C135 320 160 220 230 160 C310 100 440 110 540 165 C640 225 720 330 725 450 C728 510 715 570 700 610 C800 570 880 480 910 385 Z"/>
</g>
<text x="962.50" y="80.00" font-size="50.0" text-anchor="start" fill="#1d4e89" font-family="Liberation Sans, sans-serif" font-weight="bold" textLength="97.6" lengthAdjust="spacingAndGlyphs" stroke="#1d4e89" stroke-width="1.5" stroke-linejoin="round">AGU</text>
<text x="925.80" y="93.70" font-size="10" text-anchor="start" fill="#1d4e89" font-family="Liberation Sans, sans-serif" font-weight="bold" textLength="134.6" lengthAdjust="spacingAndGlyphs" stroke="#1d4e89" stroke-width="0.35">American Geophysical Union</text>
<circle cx="1061.6" cy="81.4" r="1.1" fill="none" stroke="#1d4e89" stroke-width="0.35"/>
</svg>
</div></body></html>
